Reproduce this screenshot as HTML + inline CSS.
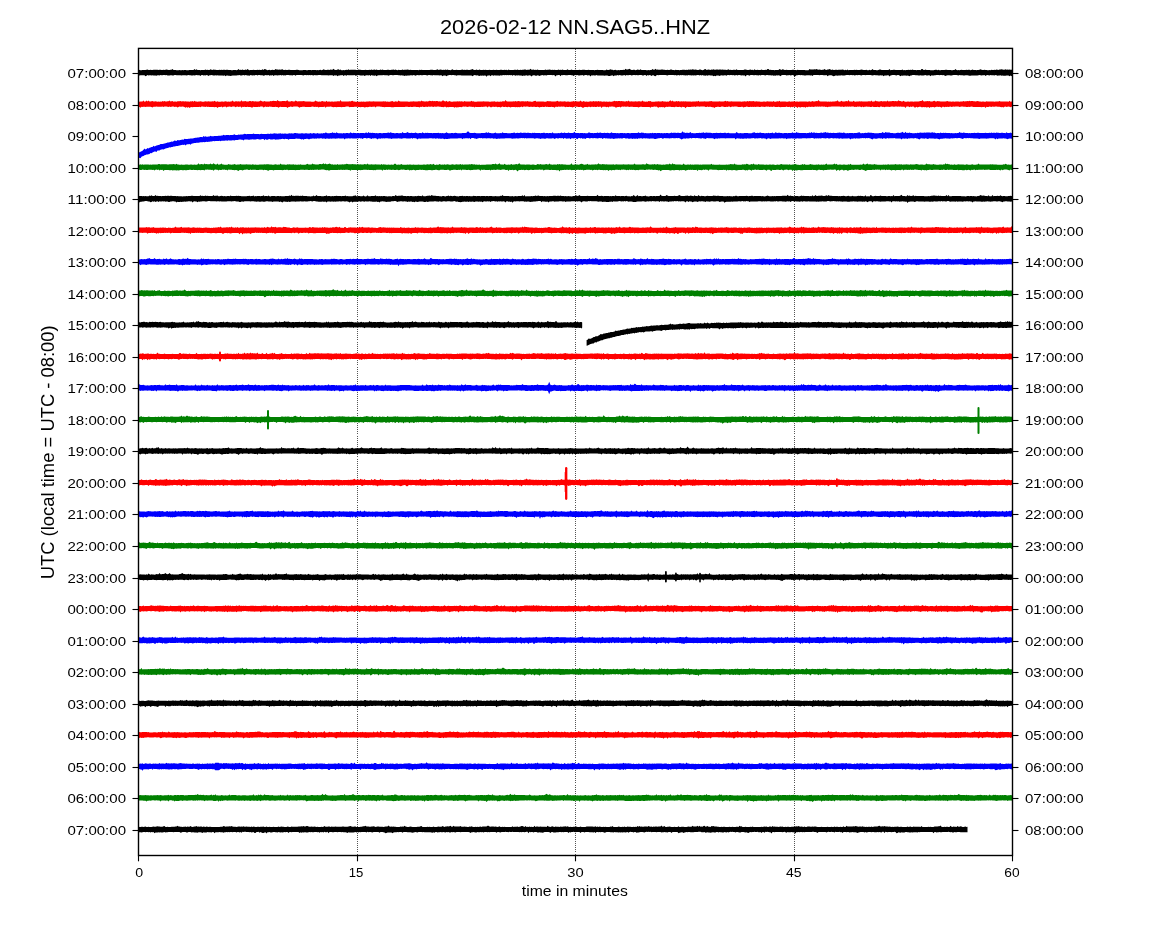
<!DOCTYPE html><html><head><meta charset="utf-8"><style>html,body{margin:0;padding:0;background:#fff;width:1150px;height:950px;overflow:hidden}svg{display:block;will-change:transform}text{font-family:"Liberation Sans",sans-serif;fill:#000}</style></head><body>
<svg width="1150" height="950" viewBox="0 0 1150 950">
<rect width="1150" height="950" fill="#fff"/>
<defs><clipPath id="ax"><rect x="138.5" y="48.4" width="874.0" height="807.1"/></clipPath></defs>
<line x1="357.5" y1="48.9" x2="357.5" y2="855.0" stroke="#555" stroke-width="1" stroke-dasharray="1 1.09" shape-rendering="crispEdges"/>
<line x1="575.5" y1="48.9" x2="575.5" y2="855.0" stroke="#555" stroke-width="1" stroke-dasharray="1 1.09" shape-rendering="crispEdges"/>
<line x1="794.5" y1="48.9" x2="794.5" y2="855.0" stroke="#555" stroke-width="1" stroke-dasharray="1 1.09" shape-rendering="crispEdges"/>
<g clip-path="url(#ax)">
<path fill="#000000" d="M137.5,69.9l1,-.3 1,.5 1,.1 1,0 1,-.1 1,-.2 1,.2 1,0 1,-.3 1,-.2 1,.3 1,0 1,-.1 1,.1 1,.1 1,-.2 1,0 1,0 1,-.1 1,.1 1,.1 1,-.1 1,-.1 1,.4 1,-.1 1,-.2 1,.2 1,-.3 1,-.3 1,.4 1,.1 1,0 1,-.1 1,-.1 1,-.8 1,1.1 1,.1 1,-.1 1,.2 1,0 1,0 1,-.2 1,.2 1,0 1,-.2 1,.2 1,-.2 1,0 1,.2 1,0 1,0 1,-.1 1,0 1,0 1,-.1 1,.1 1,-1 1,.8 1,-.6 1,.6 1,0 1,.1 1,.2 1,-.3 1,.2 1,0 1,-.1 1,-.4 1,.3 1,-.1 1,.2 1,.1 1,-.9 1,.6 1,.1 1,-.3 1,.2 1,0 1,.2 1,.1 1,0 1,-.4 1,.2 1,-.2 1,.2 1,-.2 1,.1 1,.1 1,-.2 1,.1 1,.1 1,0 1,.1 1,.2 1,0 1,-.1 1,-.1 1,0 1,.2 1,-.1 1,-1 1,1 1,-.3 1,.1 1,-.3 1,.4 1,-.1 1,-.3 1,.5 1,-1 1,.7 1,.4 1,-.2 1,.1 1,-.1 1,-.2 1,.1 1,.1 1,0 1,-.2 1,.2 1,-.3 1,.2 1,0 1,-.7 1,.9 1,-1 1,.1 1,.5 1,.5 1,-.2 1,-.2 1,.4 1,-.1 1,-.3 1,.2 1,-.1 1,-.9 1,.6 1,0 1,.1 1,-.3 1,.3 1,-.2 1,-.2 1,.7 1,.1 1,-.3 1,.1 1,.2 1,-.4 1,.1 1,.2 1,-.1 1,0 1,.1 1,.1 1,0 1,-.3 1,0 1,.2 1,.2 1,0 1,0 1,0 1,-.1 1,0 1,-.1 1,.2 1,0 1,-.2 1,-.1 1,.1 1,.2 1,-.1 1,-.1 1,.1 1,-.2 1,.3 1,-.1 1,.1 1,-.3 1,-.1 1,.4 1,-.1 1,-.9 1,.6 1,.2 1,-.1 1,-.1 1,-.1 1,.2 1,-.5 1,.4 1,0 1,-1 1,.9 1,.3 1,.1 1,-.5 1,-.3 1,.8 1,-.5 1,.6 1,0 1,-.3 1,.3 1,-.2 1,-.3 1,.4 1,-.8 1,.6 1,-.1 1,0 1,-.1 1,0 1,0 1,0 1,.2 1,0 1,-.3 1,.2 1,0 1,.2 1,0 1,0 1,0 1,-.2 1,.2 1,-.1 1,.1 1,-.3 1,.2 1,-.3 1,.3 1,-.1 1,-.2 1,.4 1,-.6 1,.5 1,0 1,.1 1,-.4 1,.4 1,-.5 1,.6 1,-.1 1,.1 1,-.2 1,-.1 1,0 1,.1 1,0 1,-.1 1,0 1,-.4 1,.6 1,-.5 1,.5 1,.2 1,-.4 1,.1 1,0 1,.1 1,-.5 1,.4 1,-.1 1,0 1,-.1 1,-.3 1,.4 1,.2 1,-.2 1,.2 1,-.1 1,.2 1,0 1,-.1 1,.1 1,-.1 1,.2 1,-.4 1,.2 1,-.2 1,.3 1,0 1,0 1,-.1 1,-.1 1,.2 1,-.2 1,0 1,-.1 1,-.1 1,.1 1,.2 1,0 1,.1 1,-.4 1,-.5 1,.7 1,-.1 1,-.2 1,.2 1,.1 1,-.1 1,.1 1,-.4 1,.4 1,-.3 1,.3 1,0 1,.3 1,-.4 1,-.5 1,.8 1,-.2 1,.2 1,-.3 1,.2 1,0 1,.1 1,-.1 1,-.3 1,-.1 1,.3 1,-.2 1,.2 1,-.2 1,.1 1,.2 1,-.1 1,-.1 1,-.4 1,-.4 1,.8 1,.1 1,.1 1,-.4 1,.4 1,-.1 1,-.5 1,.5 1,.2 1,0 1,-.4 1,.2 1,-.1 1,.1 1,0 1,.1 1,-.2 1,.1 1,0 1,.2 1,-.3 1,.3 1,-.2 1,-.2 1,.4 1,-.1 1,0 1,-.3 1,.1 1,.2 1,-.1 1,-.2 1,.3 1,-.2 1,.4 1,-.6 1,.4 1,-.1 1,0 1,0 1,.1 1,-.3 1,.1 1,.1 1,-.4 1,.4 1,.1 1,-.3 1,.2 1,-.2 1,0 1,-.2 1,-.1 1,.5 1,-.1 1,0 1,0 1,-1.1 1,1.1 1,0 1,-.3 1,.4 1,-.1 1,.1 1,-.3 1,.3 1,.2 1,-.2 1,.1 1,.1 1,0 1,-.2 1,-.4 1,.5 1,-.3 1,.1 1,-.4 1,.4 1,.1 1,-.1 1,.3 1,-.3 1,.1 1,.2 1,-.2 1,-.4 1,.6 1,-.3 1,.3 1,-.6 1,.5 1,-.1 1,.1 1,.1 1,-.8 1,.8 1,-.2 1,.2 1,-.5 1,.4 1,0 1,0 1,-.2 1,.2 1,.1 1,-.1 1,-.2 1,.3 1,-.1 1,-.2 1,0 1,0 1,.1 1,.1 1,0 1,-.2 1,.1 1,.2 1,-.1 1,-.1 1,0 1,.3 1,-.3 1,.2 1,-.3 1,.1 1,.2 1,-.1 1,0 1,-.1 1,.3 1,0 1,0 1,-.6 1,.3 1,.1 1,-.3 1,-.4 1,.5 1,0 1,.4 1,-.1 1,-.3 1,.4 1,0 1,-.1 1,.1 1,-.1 1,0 1,-.2 1,-.1 1,.1 1,-1.2 1,.9 1,0 1,-.3 1,-.5 1,.8 1,.3 1,0 1,-.2 1,0 1,.5 1,-.2 1,-.5 1,.2 1,.4 1,-.9 1,.8 1,.1 1,-.1 1,0 1,.1 1,.1 1,0 1,-.1 1,.1 1,-.1 1,-.1 1,-1 1,.8 1,0 1,-1.1 1,1 1,-.2 1,.2 1,0 1,0 1,-.1 1,-.1 1,.3 1,0 1,.1 1,0 1,-.2 1,.2 1,0 1,-.3 1,-.1 1,.5 1,-.1 1,.3 1,-.5 1,.3 1,.1 1,-.2 1,.3 1,-.2 1,0 1,-.3 1,0 1,.1 1,.1 1,-.2 1,.2 1,-.4 1,.2 1,-.1 1,.1 1,-.4 1,.3 1,.1 1,-.1 1,.2 1,.3 1,0 1,-.6 1,-.1 1,.7 1,.1 1,-.2 1,-.8 1,-.3 1,1 1,-.1 1,-.2 1,.2 1,.1 1,-.3 1,.2 1,-.6 1,.5 1,0 1,-.3 1,.1 1,.2 1,-.1 1,0 1,.2 1,-.4 1,.3 1,.1 1,-.1 1,.2 1,-.1 1,-.5 1,.6 1,-.1 1,.1 1,.1 1,-.2 1,0 1,.1 1,-.7 1,.9 1,-.2 1,0 1,.1 1,.1 1,0 1,-.1 1,-.5 1,0 1,.2 1,.2 1,0 1,-.1 1,-.3 1,.4 1,-.1 1,.4 1,-1 1,.7 1,.2 1,-.3 1,.1 1,0 1,0 1,-.5 1,.6 1,.1 1,-.2 1,-.2 1,.4 1,-1 1,-.1 1,1 1,-.3 1,.2 1,0 1,.2 1,.1 1,-.3 1,.1 1,.1 1,0 1,-1 1,.5 1,.3 1,-.6 1,.3 1,.3 1,0 1,-.2 1,.2 1,0 1,.1 1,-.1 1,.2 1,-.4 1,0 1,.3 1,.1 1,.1 1,-.5 1,.4 1,-.1 1,.1 1,0 1,-.2 1,.2 1,0 1,.1 1,0 1,0 1,0 1,-1.1 1,.5 1,-.2 1,.2 1,0 1,-.3 1,.1 1,-.3 1,.5 1,.2 1,-.2 1,.2 1,.1 1,-.2 1,.1 1,-.7 1,.7 1,.1 1,-.4 1,.1 1,-.7 1,.6 1,.4 1,-.3 1,.4 1,0 1,-.2 1,0 1,.2 1,-.2 1,0 1,-.1 1,.1 1,-.2 1,.2 1,.4 1,-.5 1,.5 1,-.6 1,.6 1,-.2 1,-.1 1,.2 1,0 1,-.2 1,-.2 1,.3 1,-.2 1,.2 1,-.1 1,.1 1,-.2 1,-.2 1,.1 1,.4 1,-.1 1,-.1 1,-.1 1,.4 1,0 1,-.5 1,.5 1,-.1 1,-1.1 1,1.1 1,-.1 1,-.1 1,.3 1,0 1,-.1 1,-.5 1,0 1,.3 1,.2 1,-.1 1,-.1 1,.2 1,0 1,0 1,0 1,-1.1 1,1.2 1,-.1 1,-.2 1,-.1 1,0 1,.1 1,0 1,0 1,.1 1,-.1 1,.2 1,0 1,-.5 1,.6 1,-.2 1,.2 1,-.3 1,.1 1,-.2 1,.1 1,-.1 1,.1 1,-.5 1,.5 1,.1 1,.1 1,.1 1,-.1 1,-.1 1,.1 1,.1 1,-1.3 1,.1 1,1 1,-.1 1,-.3 1,.4 1,-.1 1,.2 1,-.2 1,.3 1,0 1,0 1,0 1,-.2 1,-.2 1,-.1 1,.5 1,-.4 1,.4 1,0 1,-.1 1,0 1,-.2 1,0 1,-.1 1,0 1,.1 1,.1 1,.1 1,0 1,.1 1,0 1,-.2 1,0 1,-.9 1,1 1,.1 1,-.3 1,.3 1,-.2 1,-.3 1,.4 1,0 1,-.1 1,-.1 1,-.1 1,.2 1,-.2 1,0 1,.4 1,-.1 1,-.7 1,.6 1,.1 1,-.2 1,.3 1,-.1 1,-.1 1,-.2 1,-.5 1,.4 1,.3 1,-.1 1,-.1 1,.2 1,.1 1,.1 1,0 1,-.1 1,.1 1,-.4 1,.2 1,.1 1,-.4 1,.2 1,-.3 1,.2 1,.1 1,-.4 1,-.1 1,-.1 1,.3 1,.2 1,-.1 1,-.5 1,.5 1,-.2 1,.2 1,-.3 1,.3 1,0 1,-.3 1.5,.5 0,5.4 -1.5,0 -1,1 -1,-.8 -1,.8 -1,-.8 -1,0 -1,0 -1,.2 -1,0 -1,.1 -1,-.4 -1,.3 -1,-.4 -1,.3 -1,-.1 -1,.2 -1,-.5 -1,-.1 -1,.4 -1,-.3 -1,0 -1,.1 -1,-.2 -1,.4 -1,-.2 -1,-.2 -1,.2 -1,.8 -1,-1.1 -1,.2 -1,0 -1,.2 -1,-.1 -1,-.2 -1,.2 -1,.3 -1,0 -1,0 -1,0 -1,0 -1,-.2 -1,.1 -1,.3 -1,0 -1,-.4 -1,-.1 -1,0 -1,0 -1,.1 -1,.1 -1,-.3 -1,.1 -1,-.1 -1,-.2 -1,.6 -1,-.4 -1,-.1 -1,-.1 -1,.1 -1,0 -1,.2 -1,.1 -1,.2 -1,-.4 -1,0 -1,.1 -1,.2 -1,.5 -1,-.6 -1,-.4 -1,.2 -1,-.1 -1,0 -1,.2 -1,-.3 -1,0 -1,0 -1,.3 -1,-.1 -1,.2 -1,.1 -1,-.2 -1,.9 -1,-.9 -1,0 -1,.2 -1,.1 -1,-.5 -1,.2 -1,.3 -1,0 -1,-.1 -1,-.2 -1,.1 -1,0 -1,-.2 -1,.1 -1,0 -1,-.2 -1,0 -1,0 -1,.3 -1,.2 -1,.6 -1,-.5 -1,-.1 -1,.1 -1,-.2 -1,-.1 -1,0 -1,.3 -1,-.3 -1,.8 -1,-.8 -1,-.3 -1,0 -1,.3 -1,-.2 -1,-.2 -1,.1 -1,0 -1,.2 -1,.2 -1,1 -1,-1.2 -1,0 -1,.1 -1,.1 -1,-.1 -1,.9 -1,-1 -1,.1 -1,-.1 -1,.3 -1,-.1 -1,-.3 -1,0 -1,0 -1,-.2 -1,.2 -1,.2 -1,-.2 -1,-.1 -1,-.1 -1,.1 -1,0 -1,-.1 -1,.3 -1,-.3 -1,.1 -1,0 -1,.3 -1,-.1 -1,-.2 -1,0 -1,.2 -1,-.3 -1,.2 -1,.2 -1,-.3 -1,.1 -1,-.2 -1,.1 -1,.1 -1,-.1 -1,0 -1,0 -1,.2 -1,.2 -1,.1 -1,-.2 -1,-.1 -1,.2 -1,0 -1,0 -1,.3 -1,-.2 -1,-.2 -1,.7 -1,.2 -1,-.6 -1,-.4 -1,-.1 -1,.1 -1,.2 -1,.8 -1,-1.3 -1,.2 -1,0 -1,0 -1,-.2 -1,0 -1,0 -1,.3 -1,-.3 -1,0 -1,0 -1,.1 -1,-.1 -1,0 -1,1.1 -1,-.8 -1,.3 -1,-.4 -1,.1 -1,-.1 -1,0 -1,.3 -1,0 -1,-.2 -1,0 -1,-.2 -1,.2 -1,-.2 -1,0 -1,.1 -1,.1 -1,.7 -1,.7 -1,-1.5 -1,-.1 -1,.2 -1,.2 -1,-.4 -1,.1 -1,0 -1,.2 -1,-.3 -1,0 -1,0 -1,0 -1,.2 -1,.9 -1,-.6 -1,-.4 -1,.3 -1,-.2 -1,.4 -1,-.2 -1,.2 -1,-.4 -1,.2 -1,-.2 -1,0 -1,-.1 -1,-.1 -1,-.1 -1,.5 -1,-.2 -1,-.3 -1,.1 -1,0 -1,.3 -1,-.4 -1,.5 -1,-.3 -1,0 -1,-.1 -1,.2 -1,-.1 -1,-.1 -1,-.1 -1,.1 -1,.7 -1,-.6 -1,-.1 -1,.2 -1,1.2 -1,-1.2 -1,.1 -1,-.2 -1,.3 -1,-.3 -1,-.1 -1,0 -1,.4 -1,-.4 -1,.2 -1,.2 -1,-.5 -1,.2 -1,-.2 -1,0 -1,.2 -1,-.1 -1,0 -1,.6 -1,-.4 -1,0 -1,.3 -1,-.1 -1,-.2 -1,.2 -1,.6 -1,-.5 -1,-.1 -1,0 -1,.7 -1,-.4 -1,.4 -1,-.7 -1,.1 -1,-.2 -1,-.1 -1,-.1 -1,.5 -1,-.4 -1,.4 -1,-.3 -1,0 -1,-.4 -1,.4 -1,-.4 -1,.6 -1,-.6 -1,.1 -1,.1 -1,.2 -1,-.2 -1,.2 -1,-.2 -1,.4 -1,-.3 -1,0 -1,-.3 -1,.4 -1,-.2 -1,.3 -1,-.3 -1,.1 -1,-.3 -1,.2 -1,-.1 -1,.5 -1,-.5 -1,.2 -1,.1 -1,-.4 -1,.2 -1,-.1 -1,-.1 -1,.1 -1,-.1 -1,0 -1,0 -1,.5 -1,-.2 -1,-.2 -1,0 -1,0 -1,0 -1,0 -1,0 -1,0 -1,.1 -1,-.1 -1,.1 -1,1 -1,-.2 -1,-.8 -1,0 -1,.9 -1,-.9 -1,-.2 -1,.4 -1,-.3 -1,.9 -1,-.9 -1,0 -1,.3 -1,.1 -1,-.4 -1,0 -1,0 -1,.2 -1,0 -1,-.3 -1,.2 -1,-.1 -1,-.1 -1,.2 -1,.2 -1,-.3 -1,0 -1,.2 -1,-.1 -1,-.1 -1,.7 -1,-.8 -1,.3 -1,.1 -1,0 -1,-.1 -1,-.2 -1,.4 -1,-.4 -1,.3 -1,.2 -1,-.2 -1,.9 -1,-1 -1,.1 -1,.3 -1,.2 -1,.1 -1,-.6 -1,0 -1,.1 -1,.2 -1,-.2 -1,0 -1,0 -1,-.1 -1,.2 -1,-.2 -1,.1 -1,-.5 -1,.6 -1,-.2 -1,-.2 -1,.4 -1,-.4 -1,1.3 -1,-1.2 -1,-.1 -1,.3 -1,-.4 -1,0 -1,.2 -1,.4 -1,-.6 -1,.1 -1,0 -1,.4 -1,-.2 -1,-.3 -1,.1 -1,-.1 -1,.1 -1,.7 -1,-.7 -1,.1 -1,-.3 -1,.1 -1,0 -1,.2 -1,-.1 -1,0 -1,-.1 -1,-.1 -1,.2 -1,-.2 -1,1.2 -1,-1.1 -1,-.1 -1,.2 -1,0 -1,1.3 -1,-1.3 -1,-.1 -1,.1 -1,-.1 -1,-.1 -1,.1 -1,0 -1,-.1 -1,.5 -1,-.2 -1,-.1 -1,.4 -1,-.6 -1,.2 -1,.3 -1,.6 -1,-.5 -1,-.3 -1,.5 -1,-.1 -1,-.5 -1,0 -1,.3 -1,.9 -1,-1 -1,-.2 -1,.3 -1,.2 -1,-.5 -1,.2 -1,.4 -1,-.2 -1,.4 -1,-.5 -1,0 -1,0 -1,-.2 -1,.2 -1,-.2 -1,.5 -1,-.6 -1,-.2 -1,.8 -1,-.7 -1,.1 -1,-.2 -1,.2 -1,-.1 -1,.1 -1,-.1 -1,.2 -1,-.2 -1,.1 -1,.3 -1,-.2 -1,.4 -1,-.1 -1,-.2 -1,.1 -1,0 -1,-.2 -1,.4 -1,-.4 -1,0 -1,.9 -1,-1 -1,.2 -1,.1 -1,1.3 -1,-1.3 -1,0 -1,.3 -1,-.2 -1,.1 -1,-.2 -1,.6 -1,-.4 -1,-.4 -1,.2 -1,-.3 -1,-.1 -1,.4 -1,.8 -1,-.8 -1,0 -1,-.1 -1,.1 -1,.1 -1,0 -1,-.1 -1,0 -1,.1 -1,-.1 -1,0 -1,-.2 -1,-.1 -1,0 -1,0 -1,.5 -1,-.5 -1,0 -1,-.2 -1,0 -1,.2 -1,-.1 -1,0 -1,.2 -1,.1 -1,.9 -1,-.9 -1,0 -1,.1 -1,.8 -1,-1 -1,-.1 -1,.2 -1,-.1 -1,-.1 -1,.1 -1,-.1 -1,0 -1,-.2 -1,.5 -1,-.3 -1,0 -1,-.1 -1,-.1 -1,.4 -1,-.1 -1,-.3 -1,0 -1,0 -1,.2 -1,0 -1,-.1 -1,.1 -1,.1 -1,-.2 -1,.1 -1,.5 -1,-.5 -1,-.1 -1,.3 -1,-.2 -1,.1 -1,.1 -1,.1 -1,-.1 -1,.3 -1,-.2 -1,.5 -1,-.6 -1,0 -1,-.1 -1,.2 -1,-.2 -1,0 -1,-.2 -1,0 -1,0 -1,-.1 -1,.2 -1,0 -1,-.1 -1,-.1 -1,.2 -1,.6 -1,-.6 -1,.1 -1,0 -1,0 -1,-.2 -1,.1 -1,.1 -1,0 -1,0 -1,-.1 -1,.4 -1,.7 -1,-1 -1,.4 -1,-.1 -1,-.2 -1,-.4 -1,.9 -1,-.8 -1,.3 -1,-.1 -1,0 -1,.3 -1,.3 -1,-.6 -1,.1 -1,.1 -1,.1 -1,-.4 -1,-.1 -1,.1 -1,.4 -1,.1 -1,-.7 -1,.2 -1,0 -1,0 -1,0 -1,.1 -1,-.1 -1,-.1 -1,.7 -1,-.5 -1,0 -1,.8 -1,-1 -1,.1 -1,.1 -1,.2 -1,-.1 -1,.8 -1,-.9 -1,.1 -1,-.2 -1,.8 -1,-.7 -1,0 -1,-.1 -1,.1 -1,.1 -1,-.1 -1,-.1 -1,.1 -1,-.1 -1,.1 -1,0 -1,0 -1,-.3 -1,.1 -1,-.1 -1,.2 -1,.1 -1,0 -1,-.2 -1,.5 -1,-.3 -1,-.2 -1,.2 -1,-.2 -1,.1 -1,-.2 -1,.2 -1,-.1 -1,0 -1,.3 -1,-.2 -1,-.1 -1,-.1 -1,0 -1,0 -1,.1 -1,-.1 -1,.8 -1,-.7 -1,0 -1,.4 -1,-.2 -1,0 -1,-.1 -1,-.1 -1,0 -1,0 -1,.4 -1,-.3 -1,.2 -1,-.3 -1,.4 -1,-.4 -1,.1 -1,.1 -1,.2 -1,-.3 -1,0 -1,0 -1,.8 -1,-.9 -1,.3 -1,-.2 -1,.5 -1,-.7 -1,.3 -1,0 -1,-.2 -1,.4 -1,.2 -1,-.5 -1,0 -1,.1 -1,-.3 -1,.1 -1,.5 -1,-.6 -1,.1 -1,.3 -1,-.1 -1,.2 -1,-.3 -1,-.2 -1,.7 -1,-.2 -1,0 -1,-.3 -1,-.2 -1,.5 -1,-.4 -1,.1 -1,.4 -1,-.2 -1,-.4 -1,.3 -1,-.1 -1,.2 -1,.1 -1,0 -1,0 -1,.1 -1,.1 -1,.2 -1,-.2 -1,.1 -1,-.4 -1,0 -1,.8 -1,-.9 -1,.5 -1,-.4 -1,.1 -1,0 -1,0 -1,.1 -1,-.4 -1,.4 -1,-.3 -1,.1 -1,0 -1,-.2 -1,-.1 -1,.2 -1,0 -1,.6 -1,-.7 -1,-.1 -1,.5 -1,-.3 -1,.1 -1,-.4 -1,0 -1,1.1 -1,-.8 -1,0 -1,-.1 -1,-.2 -1,.2 -1,.2 -1,-.1 -1,.3 -1,-.1 -1,-.3 -1,0 -1,-.1 -1,.2 -1,.2 -1,-.2 -1,-.1 -1,0 -1,.1 -1,.1 -1,-.2 -1,0 -1,0 -1,0 -1,0 -1,-.2 -1,.1 -1,.4 -1,0 -1,-.2 -1,-.1 -1,.2 -1,.1 -1,-.1 -1,-.3 -1,.2 -1,-.2 -1,0 -1,.1 -1,0 -1,-.1 -1,.3 -1,-.1 -1,-.1 -1,.5 -1,-.1 -1,0 -1,-.2 -1,-.1 -1,.1 -1,-.2 -1,.1 -1,.1 -1,-.3 -1,.6 -1,.5 -1,-.9 -1,0 -1,0 -1,-.1 -1,0 -1,.3 -1,-.1 -1,.1z"/>
<path fill="#ff0000" d="M137.5,101.7l1,-.3 1,.3 1,-.1 1,-.1 1,0 1,-.9 1,1.1 1,-.1 1,-1 1,1 1,-1 1,.9 1,.1 1,-.3 1,-.4 1,.6 1,0 1,-.3 1,.3 1,.3 1,-.4 1,.4 1,-.2 1,.1 1,-.7 1,.5 1,-.4 1,.4 1,0 1,-.2 1,0 1,-.9 1,1 1,-.1 1,-.2 1,.6 1,-.1 1,0 1,.1 1,-.4 1,-.1 1,.1 1,-.2 1,.3 1,-.1 1,-.1 1,.2 1,-.1 1,.1 1,.1 1,0 1,.2 1,-.4 1,.2 1,-.6 1,.8 1,-1 1,.9 1,0 1,.1 1,-.1 1,0 1,-.3 1,.2 1,.3 1,-.1 1,-.1 1,-.3 1,.1 1,.1 1,-.3 1,.3 1,-.1 1,.1 1,-.3 1,.4 1,-.9 1,.7 1,.3 1,-.5 1,.5 1,0 1,0 1,-.1 1,-.1 1,.2 1,-.1 1,-.3 1,.2 1,.3 1,-.4 1,.3 1,-.2 1,.1 1,-1.1 1,.9 1,.3 1,-.4 1,0 1,.3 1,-.3 1,.3 1,-.1 1,-1.2 1,1.2 1,-.2 1,0 1,-.3 1,.5 1,-.1 1,0 1,-.3 1,0 1,.3 1,-.5 1,.4 1,.3 1,-.4 1,.4 1,-.1 1,0 1,-.2 1,-.8 1,.5 1,.4 1,0 1,-.3 1,.4 1,-.1 1,0 1,0 1,0 1,-.5 1,.3 1,-.2 1,-.2 1,.2 1,0 1,.2 1,-1.1 1,.9 1,.3 1,0 1,0 1,-.4 1,.2 1,0 1,.2 1,-.6 1,-.4 1,1.1 1,.2 1,-.1 1,-.4 1,.1 1,.2 1,0 1,-.9 1,.6 1,.3 1,-.1 1,0 1,0 1,-.1 1,0 1,-.3 1,.4 1,.2 1,.1 1,-.2 1,.1 1,.1 1,0 1,.2 1,-.1 1,.1 1,-.2 1,-1 1,.7 1,.1 1,.3 1,-.2 1,.2 1,-.4 1,-.2 1,.3 1,.2 1,.1 1,-1 1,1 1,-.2 1,.1 1,.1 1,-.3 1,0 1,.3 1,-.2 1,.1 1,0 1,-.4 1,0 1,.2 1,-1.3 1,1.5 1,-.1 1,-.1 1,.2 1,-.1 1,.1 1,-.2 1,.1 1,-.2 1,.1 1,-.3 1,-.3 1,.8 1,-.2 1,.4 1,-.1 1,0 1,0 1,0 1,.1 1,-.2 1,.1 1,-.3 1,.3 1,0 1,-.1 1,-.1 1,.1 1,-.3 1,.2 1,0 1,.1 1,-.3 1,.2 1,0 1,0 1,0 1,-.1 1,0 1,0 1,0 1,.2 1,-.4 1,.3 1,-.2 1,.4 1,-.1 1,.1 1,0 1,-.1 1,-.4 1,-.1 1,.6 1,.1 1,-.6 1,.4 1,.1 1,-1.2 1,.8 1,.3 1,-.1 1,-.1 1,0 1,.2 1,-.1 1,.1 1,-.1 1,.2 1,0 1,-.1 1,-.1 1,-.1 1,-.2 1,.4 1,-.1 1,-.1 1,.1 1,-.2 1,-.1 1,.3 1,-.9 1,.7 1,0 1,.1 1,.2 1,-.3 1,.2 1,-.2 1,-.6 1,.3 1,.3 1,-.5 1,.4 1,-.2 1,.2 1,-.1 1,0 1,.3 1,-.2 1,.3 1,0 1,-.9 1,-.1 1,.8 1,.1 1,-.6 1,.9 1,-.3 1,-.5 1,.6 1,.2 1,0 1,-.2 1,0 1,0 1,0 1,-.3 1,.3 1,-.2 1,.2 1,-.2 1,.3 1,.1 1,-.7 1,.5 1,-.1 1,0 1,.1 1,-.1 1,0 1,-.6 1,.6 1,-.2 1,.5 1,0 1,0 1,-.2 1,.1 1,-.1 1,0 1,0 1,.1 1,-.3 1,.3 1,-.1 1,.1 1,0 1,-.1 1,.2 1,0 1,-.2 1,0 1,.1 1,-.3 1,.5 1,0 1,-.4 1,.3 1,0 1,-.1 1,.1 1,-.4 1,0 1,.1 1,-1.3 1,1.1 1,.2 1,0 1,0 1,0 1,0 1,0 1,-.1 1,.1 1,-.3 1,.3 1,-.2 1,-.2 1,.3 1,.1 1,-.1 1,0 1,0 1,.2 1,-.2 1,.1 1,-.4 1,.5 1,0 1,-.1 1,.3 1,.1 1,-.5 1,-.4 1,-.1 1,.9 1,-.2 1,-.1 1,.1 1,0 1,.1 1,-.1 1,0 1,.2 1,0 1,-.1 1,-.6 1,.2 1,.1 1,0 1,.2 1,0 1,-.1 1,0 1,0 1,-.2 1,-.5 1,.8 1,.1 1,-.4 1,.2 1,0 1,.2 1,-.4 1,.2 1,.3 1,-.1 1,-.1 1,.2 1,0 1,-.1 1,-.1 1,-.4 1,.4 1,.1 1,-.4 1,.3 1,-.1 1,0 1,-.8 1,.8 1,.3 1,-.7 1,.6 1,.2 1,-.3 1,.3 1,-.1 1,-.1 1,-.4 1,.4 1,0 1,-.5 1,.3 1,-.2 1,.1 1,.3 1,-.6 1,.5 1,-.2 1,.3 1,.1 1,-.2 1,.1 1,.1 1,-.1 1,.1 1,.1 1,-.2 1,.1 1,.1 1,-.3 1,-.2 1,-.6 1,.6 1,-.3 1,.3 1,-.2 1,-.1 1,.3 1,-.2 1,.2 1,0 1,.2 1,0 1,-.6 1,.7 1,-1 1,1 1,0 1,-.4 1,.2 1,.1 1,.1 1,-.3 1,.2 1,-.1 1,-.1 1,0 1,.3 1,-.2 1,-.8 1,.9 1,0 1,.2 1,-.1 1,.1 1,-.7 1,.2 1,-.1 1,.6 1,0 1,.1 1,-.1 1,-.1 1,-.1 1,-.1 1,-.2 1,.3 1,-.1 1,.2 1,-.5 1,.3 1,.2 1,-.1 1,.2 1,-.3 1,.3 1,-.7 1,-.8 1,1.4 1,-1.1 1,1.1 1,0 1,0 1,-.5 1,.4 1,-.6 1,.6 1,0 1,-.2 1,.1 1,-.1 1,.1 1,-.1 1,.1 1,0 1,0 1,0 1,.1 1,.2 1,-.1 1,0 1,0 1,0 1,-.3 1,.3 1,-.8 1,1 1,-.2 1,-.2 1,.2 1,-.1 1,-.2 1,.2 1,-.1 1,.2 1,-.1 1,-.3 1,0 1,-.1 1,.4 1,-.1 1,0 1,0 1,.1 1,0 1,.1 1,-.4 1,.4 1,-.2 1,0 1,0 1,-.1 1,-.5 1,.6 1,-.3 1,.3 1,0 1,.2 1,-.3 1,.3 1,-.1 1,0 1,.1 1,0 1,-.1 1,0 1,0 1,-.1 1,.3 1,-.2 1,-.1 1,-.1 1,.1 1,.1 1,-.5 1,.4 1,-.5 1,.4 1,0 1,0 1,-.2 1,.3 1,0 1,-.1 1,.3 1,0 1,-.1 1,.2 1,0 1,.1 1,-.2 1,-.1 1,.3 1,-.4 1,-.1 1,.2 1,0 1,-.1 1,.2 1,.1 1,-.7 1,.7 1,0 1,-.3 1,-.2 1,.2 1,-.6 1,.9 1,-.2 1,.1 1,-.1 1,-.1 1,.2 1,.1 1,.1 1,-.2 1,-.3 1,.4 1,-.1 1,-.1 1,.1 1,-.5 1,.6 1,-.3 1,.1 1,.3 1,-.4 1,.1 1,0 1,0 1,0 1,.1 1,-.1 1,-.1 1,.3 1,-.2 1,-.3 1,.5 1,-.2 1,-.4 1,.4 1,.1 1,-.3 1,-.3 1,.3 1,-1.3 1,1.2 1,.2 1,0 1,.2 1,-.2 1,0 1,.2 1,0 1,.2 1,-.4 1,.4 1,-.2 1,.1 1,-.1 1,-.1 1,-.1 1,-.2 1,0 1,-.9 1,1.3 1,.2 1,-.3 1,-.7 1,.8 1,0 1,0 1,-.3 1,-.3 1,.4 1,-1.3 1,1.5 1,-.2 1,.2 1,.2 1,-1.1 1,.8 1,.2 1,-.1 1,0 1,-.2 1,-.1 1,.3 1,-.4 1,.3 1,0 1,.1 1,-.1 1,-.1 1,.2 1,-.4 1,.1 1,.1 1,-.8 1,1.1 1,-.1 1,-.2 1,-1 1,.8 1,.1 1,.1 1,.1 1,-.3 1,-.1 1,.4 1,-.3 1,.1 1,0 1,.2 1,-.9 1,.8 1,-.1 1,-.1 1,.1 1,-.4 1,.2 1,.2 1,-.2 1,.1 1,0 1,-.9 1,.6 1,.2 1,.3 1,.1 1,-.8 1,.8 1,.2 1,0 1,-.1 1,-.1 1,.3 1,-.3 1,0 1,0 1,.2 1,-.2 1,.1 1,-.1 1,-.1 1,0 1,-.2 1,-.1 1,0 1,-1 1,1.1 1,.2 1,-.2 1,0 1,-.1 1,.1 1,-.2 1,.5 1,-.1 1,.1 1,-.4 1,-.3 1,.6 1,0 1,-.4 1,.3 1,0 1,.1 1,.1 1,-.1 1,.1 1,-.1 1,.1 1,-.3 1,-.1 1,.3 1,.2 1,0 1,.1 1,-.3 1,.2 1,.2 1,-.3 1,.1 1,0 1,0 1,.1 1,-.2 1,.1 1,0 1,-.5 1,.4 1,-.3 1,0 1,-.1 1,.1 1,-.5 1,.5 1,-.2 1,.1 1,.1 1,.1 1,.1 1,-.1 1,-.2 1,.2 1,.2 1,0 1,.2 1,-.1 1,0 1,.1 1,0 1,-.4 1,.3 1,-.2 1,.1 1,0 1,.1 1,-.1 1,0 1,.2 1,-.1 1,-.2 1,.2 1,-.1 1,-.4 1,.5 1,0 1,-.1 1,.1 1,-.1 1,0 1,.1 1,-.1 1,.2 1,-1 1,1 1,-.1 1,-.2 1.5,0 0,5.3 -1.5,-.2 -1,.2 -1,.5 -1,-.5 -1,-.1 -1,.1 -1,.3 -1,-.4 -1,.2 -1,.7 -1,-.6 -1,.4 -1,-.2 -1,-.3 -1,0 -1,0 -1,-.2 -1,0 -1,.2 -1,0 -1,-.2 -1,.4 -1,-.3 -1,-.1 -1,.5 -1,-.2 -1,-.1 -1,1.1 -1,-1.2 -1,.3 -1,-.1 -1,.3 -1,-.3 -1,0 -1,0 -1,0 -1,0 -1,0 -1,0 -1,0 -1,-.1 -1,-.2 -1,.1 -1,.3 -1,-.3 -1,.4 -1,-.1 -1,-.3 -1,0 -1,0 -1,-.1 -1,0 -1,.1 -1,.3 -1,-.4 -1,0 -1,0 -1,-.1 -1,.3 -1,-.2 -1,.1 -1,.2 -1,-.4 -1,.3 -1,.3 -1,-.3 -1,.1 -1,-.1 -1,.4 -1,-.4 -1,0 -1,.9 -1,-.6 -1,-.4 -1,.2 -1,-.1 -1,0 -1,.1 -1,.6 -1,-.6 -1,0 -1,.4 -1,-.2 -1,.8 -1,-.9 -1,.2 -1,.2 -1,-.3 -1,.2 -1,-.2 -1,.2 -1,-.1 -1,-.4 -1,0 -1,.2 -1,.4 -1,-.7 -1,.7 -1,.2 -1,-1.1 -1,0 -1,.5 -1,-.5 -1,.7 -1,-.7 -1,0 -1,.1 -1,1.3 -1,-1.1 -1,0 -1,-.1 -1,0 -1,-.1 -1,.2 -1,-.2 -1,.1 -1,-.1 -1,0 -1,.1 -1,0 -1,-.1 -1,0 -1,.1 -1,.2 -1,-.1 -1,0 -1,0 -1,0 -1,.5 -1,-.6 -1,.2 -1,-.3 -1,-.1 -1,.8 -1,-.4 -1,-.1 -1,.2 -1,0 -1,-.1 -1,.1 -1,-.4 -1,.3 -1,.1 -1,-.3 -1,0 -1,.1 -1,-.2 -1,.2 -1,-.1 -1,.6 -1,-.7 -1,.7 -1,-.5 -1,-.3 -1,.2 -1,-.1 -1,.3 -1,-.2 -1,.3 -1,-.4 -1,0 -1,-.1 -1,.2 -1,-.2 -1,.2 -1,-.1 -1,.2 -1,-.3 -1,.2 -1,.4 -1,-.5 -1,.2 -1,-.1 -1,-.1 -1,0 -1,0 -1,0 -1,0 -1,0 -1,0 -1,0 -1,0 -1,.1 -1,.1 -1,-.1 -1,.6 -1,-.6 -1,.2 -1,-.3 -1,.1 -1,-.1 -1,-.1 -1,.2 -1,-.1 -1,.1 -1,-.1 -1,.1 -1,-.1 -1,.1 -1,.2 -1,-.2 -1,.1 -1,.1 -1,-.2 -1,0 -1,.5 -1,-.4 -1,1 -1,-.9 -1,.3 -1,-.1 -1,-.1 -1,.6 -1,-.4 -1,-.4 -1,1.1 -1,-1 -1,-.1 -1,0 -1,-.1 -1,.5 -1,-.4 -1,.6 -1,-.6 -1,.1 -1,0 -1,-.3 -1,.5 -1,0 -1,-.2 -1,0 -1,.2 -1,.1 -1,-.2 -1,-.2 -1,.1 -1,0 -1,0 -1,-.1 -1,-.2 -1,.3 -1,-.1 -1,-.1 -1,.2 -1,-.3 -1,.1 -1,-.1 -1,.2 -1,.1 -1,-.1 -1,-.1 -1,-.1 -1,.3 -1,.2 -1,-.4 -1,.1 -1,-.1 -1,.2 -1,-.2 -1,.2 -1,-.2 -1,.4 -1,-.4 -1,.2 -1,.1 -1,-.3 -1,-.1 -1,.4 -1,-.1 -1,.7 -1,-.9 -1,0 -1,.2 -1,.1 -1,0 -1,-.2 -1,-.3 -1,0 -1,0 -1,.2 -1,-.2 -1,.2 -1,.6 -1,-.8 -1,.1 -1,.4 -1,-.3 -1,.3 -1,0 -1,-.3 -1,-.2 -1,0 -1,.5 -1,.1 -1,-.4 -1,.1 -1,.1 -1,.2 -1,.8 -1,-.7 -1,0 -1,-.3 -1,-.1 -1,-.1 -1,.2 -1,-.4 -1,.6 -1,-.2 -1,-.4 -1,.1 -1,-.1 -1,.1 -1,-.1 -1,.2 -1,-.1 -1,0 -1,0 -1,.4 -1,-.4 -1,.1 -1,.1 -1,-.1 -1,.2 -1,.1 -1,0 -1,-.2 -1,.1 -1,1.4 -1,-1.4 -1,0 -1,-.1 -1,.6 -1,-.5 -1,-.2 -1,.2 -1,.1 -1,-.2 -1,0 -1,.4 -1,-.3 -1,0 -1,0 -1,-.2 -1,0 -1,.1 -1,.3 -1,-.3 -1,.1 -1,.8 -1,-.6 -1,.2 -1,-.3 -1,.2 -1,-.2 -1,.7 -1,-.4 -1,-.7 -1,.1 -1,-.1 -1,.1 -1,.3 -1,-.2 -1,1 -1,-.7 -1,-.1 -1,0 -1,.1 -1,-.1 -1,-.1 -1,0 -1,0 -1,-.2 -1,0 -1,.2 -1,.7 -1,-.7 -1,0 -1,0 -1,.1 -1,0 -1,-.2 -1,0 -1,0 -1,.1 -1,-.2 -1,-.1 -1,.1 -1,0 -1,-.1 -1,.1 -1,-.1 -1,.2 -1,.6 -1,-.6 -1,.2 -1,0 -1,.4 -1,0 -1,-.6 -1,0 -1,-.3 -1,.1 -1,.1 -1,-.2 -1,1.1 -1,-.8 -1,.4 -1,-.4 -1,-.1 -1,.1 -1,-.1 -1,1.2 -1,-1.3 -1,.1 -1,.2 -1,-.3 -1,.3 -1,.2 -1,-.4 -1,.3 -1,-.2 -1,0 -1,.4 -1,-.4 -1,0 -1,.4 -1,-.2 -1,.1 -1,-.2 -1,.9 -1,0 -1,-.8 -1,-.2 -1,.3 -1,-.2 -1,-.2 -1,0 -1,-.1 -1,.1 -1,.2 -1,.7 -1,-.6 -1,-.1 -1,-.2 -1,.3 -1,0 -1,-.2 -1,.4 -1,-.4 -1,-.2 -1,.2 -1,-.3 -1,.2 -1,0 -1,-.1 -1,.3 -1,-.2 -1,0 -1,1.1 -1,-.9 -1,.1 -1,-.2 -1,.1 -1,0 -1,.1 -1,-.2 -1,.3 -1,-.5 -1,.3 -1,0 -1,-.2 -1,.2 -1,.1 -1,.5 -1,-.6 -1,-.1 -1,.2 -1,0 -1,-.3 -1,.1 -1,.3 -1,-.4 -1,.1 -1,.1 -1,-.2 -1,-.1 -1,0 -1,.2 -1,-.2 -1,0 -1,.6 -1,-.7 -1,.5 -1,.2 -1,-.2 -1,.3 -1,-.2 -1,.1 -1,-.1 -1,0 -1,-.1 -1,0 -1,.6 -1,-.6 -1,-.3 -1,.6 -1,-.3 -1,-.2 -1,.2 -1,-.1 -1,-.3 -1,.3 -1,.7 -1,-.7 -1,.1 -1,.2 -1,-.5 -1,.1 -1,.1 -1,-.2 -1,0 -1,.5 -1,.1 -1,-.8 -1,.1 -1,.9 -1,-.9 -1,0 -1,.2 -1,0 -1,.1 -1,-.2 -1,.3 -1,-.1 -1,.1 -1,0 -1,0 -1,-.3 -1,.9 -1,-.8 -1,.1 -1,-.2 -1,0 -1,-.1 -1,.2 -1,.2 -1,-.2 -1,-.2 -1,.1 -1,-.1 -1,.2 -1,.4 -1,-.1 -1,-.1 -1,.2 -1,.1 -1,.2 -1,-.4 -1,.7 -1,-.8 -1,-.1 -1,0 -1,0 -1,0 -1,.3 -1,-.1 -1,.3 -1,-.6 -1,0 -1,.5 -1,-.4 -1,.1 -1,-.2 -1,0 -1,-.2 -1,-.1 -1,.3 -1,-.1 -1,-.2 -1,.4 -1,-.2 -1,-.2 -1,.2 -1,.1 -1,-.2 -1,.3 -1,-.2 -1,.1 -1,.2 -1,0 -1,-.4 -1,.3 -1,-.2 -1,.7 -1,-.4 -1,.1 -1,-.2 -1,-.1 -1,0 -1,-.1 -1,.4 -1,-.2 -1,-.2 -1,.3 -1,0 -1,-.2 -1,0 -1,0 -1,.1 -1,.1 -1,0 -1,.1 -1,-.1 -1,0 -1,0 -1,0 -1,0 -1,.1 -1,-.2 -1,.3 -1,0 -1,0 -1,-.2 -1,.1 -1,0 -1,-.1 -1,.1 -1,0 -1,.2 -1,-.3 -1,-.1 -1,-.1 -1,0 -1,-.2 -1,0 -1,0 -1,-.1 -1,1 -1,-1 -1,.2 -1,0 -1,.4 -1,-.4 -1,.1 -1,.1 -1,.3 -1,-.2 -1,.2 -1,.4 -1,-.5 -1,-.2 -1,.2 -1,.2 -1,-.4 -1,0 -1,-.1 -1,0 -1,-.1 -1,0 -1,.2 -1,.1 -1,-.1 -1,0 -1,.3 -1,-.6 -1,-.1 -1,.1 -1,.1 -1,.3 -1,.1 -1,0 -1,.1 -1,-.2 -1,.1 -1,-.1 -1,.1 -1,.1 -1,-.1 -1,-.1 -1,.2 -1,-.1 -1,-.3 -1,-.2 -1,.1 -1,0 -1,0 -1,.1 -1,.9 -1,-1.1 -1,.4 -1,-.1 -1,0 -1,.1 -1,0 -1,.6 -1,-.8 -1,.1 -1,-.1 -1,.2 -1,-.2 -1,-.2 -1,.1 -1,.3 -1,.1 -1,-.2 -1,0 -1,.1 -1,0 -1,-.2 -1,0 -1,-.1 -1,.2 -1,.2 -1,.7 -1,-.9 -1,-.3 -1,0 -1,0 -1,-.1 -1,.1 -1,.3 -1,-.2 -1,-.1 -1,.3 -1,.2 -1,.8 -1,-1 -1,0 -1,.2 -1,-.2 -1,.1 -1,0 -1,-.2 -1,.1 -1,.8 -1,-.6 -1,-.2 -1,-.1 -1,.2 -1,.1 -1,-.1 -1,-.2 -1,0 -1,-.2 -1,.3 -1,-.2 -1,.3 -1,-.4 -1,.3 -1,.7 -1,-1.1 -1,.1 -1,0 -1,.4 -1,-.3 -1,.3 -1,0 -1,.1 -1,-.2 -1,-.1 -1,.6 -1,.1 -1,-.5 -1,-.1 -1,.2 -1,-.3 -1,.1 -1,0 -1,-.1 -1,.1 -1,-.2 -1,1 -1,-1.2 -1,.3 -1,.1 -1,-.3 -1,.2 -1,.4 -1,-.7 -1,.1 -1,-.1 -1,.4 -1,-.1 -1,-.3 -1,.2 -1,.1 -1,.7 -1,-.9 -1,.1 -1,0 -1,.8 -1,-1 -1,.5 -1,-.1 -1,.1 -1,.9 -1,-1 -1,0 -1,.3 -1,-.2 -1,0 -1,0 -1,.1 -1,-.2 -1,-.1 -1,.1 -1,-.3 -1,.4 -1,-.3 -1,0 -1,-.2 -1,.1 -1,.7 -1,-.5 -1,.1 -1,.2 -1,-.1 -1,0 -1,.1 -1,0 -1,.2 -1,-.2 -1,.1 -1,.7 -1,-.9 -1,.8 -1,-.7 -1,.6 -1,-.8 -1,-.1 -1,-.2 -1,.1 -1,0 -1,-.1 -1,.3 -1,.7 -1,-.9 -1,.1 -1,.2 -1,-.4 -1,0 -1,.2 -1,.1 -1,-.3 -1,.5 -1,-.4 -1,-.2 -1,.1 -1,0 -1,.3 -1,-.3 -1,.1 -1,0 -1,0 -1,.1 -1,-.1 -1,-.2 -1,.3 -1,-.1 -1,0 -1,.8 -1,-.4 -1,-.4 -1,0 -1,0 -1,0 -1,.1 -1,.2 -1,-.2 -1,-.1 -1,.3 -1,-.3 -1,1.1 -1,-.9 -1,-.1 -1,-.2z"/>
<path fill="#0000ff" d="M137.5,153.2l1,-.6 1,-.4 1,-.4 1,-.6 1,-.5 1,-.9 1,-1.2 1,.9 1,-.5 1,-1.1 1,.5 1,-.6 1,-.2 1,-.5 1,0 1,-1.4 1,.7 1,-.5 1,-.3 1,-.3 1,-.2 1,-.4 1,-.7 1,.1 1,-.1 1,-.3 1,-.2 1,-.2 1,-.2 1,-.5 1,-.2 1,-.2 1,-.3 1,-.3 1,.2 1,-.5 1,-.9 1,.4 1,.1 1,-1 1,.4 1,0 1,-.2 1,-.3 1,-.2 1,.1 1,-1 1,.4 1,-.2 1,0 1,-.2 1,0 1,-.1 1,-.1 1,-.1 1,-.2 1,-.1 1,-.4 1,0 1,-.3 1,0 1,-.2 1,-.2 1,-.1 1,.3 1,-1.1 1,.7 1,-.5 1,.4 1,0 1,-.1 1,-.1 1,-.8 1,.6 1,-.1 1,.1 1,-.2 1,-.2 1,.1 1,0 1,-.2 1,0 1,-.1 1,-.3 1,0 1,-.7 1,.6 1,-.1 1,-.2 1,-.1 1,.1 1,.2 1,-.2 1,.1 1,0 1,-.3 1,-.6 1,.9 1,-.2 1,0 1,-.4 1,.2 1,-.2 1,0 1,-.1 1,-.1 1,-.5 1,.3 1,.1 1,-.2 1,.1 1,-.1 1,0 1,0 1,.1 1,-.6 1,.6 1,-.2 1,.1 1,.1 1,0 1,.1 1,-.3 1,-.2 1,.3 1,0 1,.1 1,-.1 1,0 1,-.3 1,0 1,.2 1,-.3 1,.2 1,-.1 1,-.1 1,-.3 1,.1 1,.2 1,.1 1,-.1 1,0 1,-.3 1,.4 1,-.1 1,.1 1,-.2 1,.1 1,.1 1,0 1,-.1 1,-.3 1,.2 1,-.2 1,.1 1,.1 1,-.4 1,-.2 1,.3 1,.1 1,.2 1,0 1,-.1 1,-.1 1,-.1 1,.3 1,-.1 1,-.2 1,.1 1,.1 1,0 1,0 1,-.4 1,.5 1,0 1,-.4 1,.1 1,.2 1,.1 1,-.5 1,.4 1,.1 1,-.1 1,-.1 1,.2 1,-.4 1,.1 1,-.7 1,.2 1,.5 1,0 1,0 1,-.1 1,-.2 1,-.6 1,.6 1,-.1 1,.5 1,-1 1,.7 1,.3 1,-.1 1,0 1,0 1,.2 1,-.5 1,.3 1,0 1,-.1 1,0 1,.1 1,0 1,-.9 1,.6 1,.4 1,-.6 1,.4 1,-.2 1,.4 1,-.3 1,.1 1,.1 1,-.3 1,.1 1,.1 1,0 1,.2 1,-.6 1,-.2 1,.7 1,-1.1 1,1 1,-.3 1,.2 1,-.3 1,.3 1,0 1,.3 1,-.2 1,.2 1,0 1,-.2 1,0 1,.2 1,-.1 1,-.1 1,0 1,-.2 1,.1 1,-.2 1,-.2 1,.5 1,-.8 1,.5 1,.2 1,.1 1,.1 1,0 1,-.1 1,0 1,.2 1,0 1,-.4 1,.3 1,-1.1 1,1 1,-.1 1,.1 1,-.4 1,-.8 1,.9 1,.3 1,0 1,-.4 1,.2 1,.1 1,.1 1,-.5 1,.5 1,.1 1,0 1,-.3 1,.1 1,.3 1,-1.1 1,.7 1,.4 1,-.6 1,.3 1,-.3 1,.4 1,0 1,-.2 1,.2 1,.1 1,-.1 1,-.1 1,.1 1,-.1 1,.1 1,-.4 1,.5 1,-.1 1,.1 1,-.2 1,.3 1,0 1,-.2 1,-.8 1,.8 1,.2 1,-.1 1,0 1,-.1 1,-.2 1,.3 1,-.1 1,-.3 1,.1 1,.3 1,0 1,0 1,0 1,0 1,-.2 1,0 1,-.1 1,.1 1,-.2 1,-1.2 1,0 1,1.1 1,.3 1,-.1 1,.1 1,-.1 1,-.1 1,.1 1,.3 1,0 1,0 1,0 1,0 1,-.3 1,.1 1,.1 1,-.2 1,-.1 1,-.6 1,.9 1,-.8 1,.6 1,.2 1,.1 1,.1 1,-.1 1,-.1 1,-.7 1,.9 1,0 1,0 1,0 1,-.2 1,.2 1,-1 1,.8 1,-.1 1,0 1,0 1,.2 1,0 1,.1 1,-.1 1,-.1 1,-.1 1,-.2 1,-.2 1,.6 1,-.1 1,-.3 1,.1 1,.1 1,-.4 1,.2 1,.1 1,-.1 1,0 1,-.1 1,.2 1,-.1 1,0 1,.1 1,.2 1,.2 1,-.6 1,.3 1,-.2 1,.3 1,0 1,-.1 1,-.1 1,.1 1,.2 1,-.3 1,.1 1,-.2 1,0 1,.5 1,-.3 1,.1 1,.1 1,-.1 1,0 1,.2 1,-1 1,.9 1,.1 1,-.1 1,0 1,.1 1,-.2 1,.1 1,-.3 1,-.3 1,.3 1,0 1,-.5 1,.6 1,-.1 1,.2 1,-.5 1,.4 1,0 1,0 1,-.1 1,-.1 1,-1.1 1,1.2 1,.1 1,.1 1,0 1,.1 1,-.1 1,0 1,-.1 1,.2 1,-.2 1,.2 1,.1 1,0 1,-.8 1,-.1 1,.7 1,-.1 1,0 1,.2 1,-.1 1,-.1 1,0 1,-.5 1,.4 1,-.1 1,-.4 1,.6 1,0 1,0 1,-.2 1,.2 1,0 1,-.3 1,.2 1,.3 1,-.1 1,-.9 1,.8 1,.1 1,-.1 1,.1 1,.2 1,-.2 1,.2 1,-.1 1,-.3 1,.2 1,-.1 1,.2 1,-.1 1,.1 1,0 1,-.2 1,0 1,.2 1,0 1,-.3 1,0 1,0 1,.1 1,-.1 1,.1 1,-.1 1,-.6 1,.6 1,0 1,-.4 1,.2 1,0 1,.6 1,-.2 1,.1 1,0 1,.1 1,0 1,-.2 1,.1 1,-.4 1,.4 1,-.1 1,-.1 1,.2 1,-.1 1,-.2 1,.2 1,.1 1,-.1 1,.2 1,-.1 1,-.1 1,.2 1,-.4 1,.1 1,.3 1,-.1 1,-.3 1,-.4 1,.4 1,-.1 1,-.1 1,0 1,.2 1,-.1 1,-.1 1,.2 1,.1 1,-.3 1,-1.4 1,1.1 1,.2 1,.4 1,-.3 1,.1 1,.2 1,-.3 1,-.7 1,1.3 1,-.2 1,.2 1,0 1,0 1,-.4 1,.2 1,-.1 1,-.2 1,.2 1,-.2 1,0 1,-.5 1,.6 1,-.1 1,-.3 1,.3 1,-.1 1,0 1,.1 1,.2 1,.2 1,-.1 1,-.2 1,0 1,-.2 1,.4 1,-.1 1,.1 1,-.3 1,.1 1,0 1,.1 1,-.3 1,0 1,.5 1,-.3 1,-.2 1,.6 1,0 1,0 1,-.1 1,0 1,0 1,0 1,-1.1 1,.7 1,.5 1,0 1,-.2 1,.1 1,.1 1,0 1,-.4 1,.2 1,0 1,-.1 1,.2 1,0 1,.1 1,-.1 1,-.4 1,-.2 1,-.4 1,.8 1,0 1,-.2 1,.2 1,-.2 1,-.4 1,.7 1,0 1,0 1,.1 1,.1 1,-.2 1,.2 1,-.5 1,.5 1,-.4 1,.2 1,-.5 1,.6 1,0 1,-.9 1,.4 1,.4 1,-.3 1,0 1,.1 1,.2 1,.1 1,0 1,-.1 1,0 1,-.2 1,.3 1,-.1 1,0 1,0 1,-.2 1,-.7 1,.9 1,-.4 1,.2 1,-.9 1,.8 1,-.1 1,.4 1,-.1 1,0 1,-.1 1,.1 1,.1 1,-.2 1,.3 1,-.2 1,-.1 1,-.3 1,.3 1,-.8 1,.8 1,-.3 1,0 1,.3 1,-.1 1,.2 1,-.1 1,0 1,-.1 1,-.2 1,.3 1,-.3 1,-.1 1,-.6 1,.9 1,-.2 1,.2 1,.3 1,-.3 1,.3 1,0 1,-.4 1,.2 1,0 1,.1 1,-.2 1,-.1 1,-.2 1,.2 1,.1 1,.2 1,-.6 1,.4 1,.4 1,0 1,-.1 1,.1 1,-.3 1,.2 1,-.1 1,.1 1,.1 1,-.3 1,.2 1,-.2 1,-.2 1,-.3 1,-.1 1,.9 1,.1 1,-.2 1,.1 1,-.1 1,-.3 1,.2 1,-.2 1,-.4 1,.4 1,-.1 1,0 1,.4 1,-.2 1,.3 1,0 1,.1 1,-.1 1,0 1,-.2 1,-.1 1,.1 1,-.9 1,.7 1,.1 1,-.8 1,.3 1,0 1,0 1,0 1,.7 1,-.2 1,.1 1,.2 1,0 1,0 1,-.2 1,-.2 1,-.1 1,.2 1,-.1 1,-.2 1,-.9 1,1.1 1,.1 1,-1.2 1,1.3 1,-.2 1,.2 1,-.4 1,.5 1,-.2 1,.3 1,.1 1,-.1 1,-.1 1,.1 1,-.4 1,.1 1,-.1 1,-.3 1,.3 1,-.1 1,0 1,-.2 1,.3 1,-.2 1,-.1 1,.1 1,0 1,.1 1,-.3 1,-.2 1,.6 1,-.2 1,.3 1,.3 1,-.1 1,0 1,.1 1,-.6 1,.5 1,-.2 1,-.2 1,.4 1,-.3 1,.2 1,.1 1,0 1,-.1 1,.2 1,-.2 1,.3 1,-.1 1,.1 1,-.3 1,.2 1,-.3 1,.1 1,-1 1,.8 1,0 1,.1 1,-.3 1,.2 1,.2 1,-.1 1,.1 1,.2 1,-.2 1,.2 1,-.2 1,.1 1,-.1 1,-.3 1,.4 1,-.1 1,-.3 1,.1 1,.3 1,-.1 1,.1 1,-.1 1,0 1,-.1 1,-.2 1,.2 1,0 1,0 1,-.1 1,.1 1,-.4 1,.5 1,-.3 1,.1 1,.3 1,-.5 1,.2 1,0 1,.2 1,0 1,-.2 1,-.1 1,.3 1,-.1 1,.3 1,-.9 1,.6 1,.1 1,0 1,-.5 1,.8 1,-1 1.5,.7 0,5.5 -1.5,.1 -1,.2 -1,-.3 -1,0 -1,.3 -1,.5 -1,-.6 -1,-.1 -1,0 -1,-.3 -1,.3 -1,-.1 -1,0 -1,0 -1,0 -1,.7 -1,-.9 -1,1.2 -1,-.9 -1,-.4 -1,.1 -1,-.1 -1,0 -1,0 -1,.2 -1,0 -1,.4 -1,-.4 -1,.2 -1,-.2 -1,.1 -1,0 -1,.1 -1,.4 -1,-.3 -1,-.1 -1,-.1 -1,0 -1,0 -1,-.1 -1,-.1 -1,-.1 -1,0 -1,-.1 -1,.1 -1,-.1 -1,.1 -1,.1 -1,-.2 -1,.3 -1,.7 -1,-.7 -1,-.1 -1,-.2 -1,0 -1,.1 -1,.1 -1,-.3 -1,.2 -1,.1 -1,.2 -1,-.3 -1,.3 -1,.3 -1,-.2 -1,-.1 -1,0 -1,-.2 -1,.2 -1,-.1 -1,.3 -1,0 -1,0 -1,.9 -1,-.6 -1,-.2 -1,-.2 -1,.2 -1,-.1 -1,-.3 -1,0 -1,.1 -1,-.1 -1,-.1 -1,.4 -1,.2 -1,-.4 -1,-.2 -1,.4 -1,-.3 -1,.1 -1,-.3 -1,.4 -1,.8 -1,-.5 -1,-.5 -1,0 -1,-.3 -1,.2 -1,.1 -1,-.1 -1,0 -1,-.1 -1,.4 -1,-.3 -1,.7 -1,-.5 -1,-.1 -1,.4 -1,-.3 -1,0 -1,.9 -1,-.9 -1,0 -1,0 -1,-.1 -1,0 -1,.1 -1,-.4 -1,.2 -1,-.1 -1,0 -1,.1 -1,-.1 -1,.3 -1,-.4 -1,.3 -1,.4 -1,-.6 -1,0 -1,.9 -1,-.9 -1,.2 -1,-.1 -1,0 -1,.3 -1,.1 -1,.1 -1,-.4 -1,0 -1,1.2 -1,-.7 -1,-.4 -1,-.3 -1,-.1 -1,.1 -1,-.1 -1,.5 -1,-.6 -1,.3 -1,-.2 -1,.1 -1,.1 -1,.2 -1,0 -1,0 -1,-.2 -1,.4 -1,-.4 -1,.1 -1,.4 -1,-.4 -1,1.1 -1,-.9 -1,-.3 -1,.1 -1,.1 -1,-.1 -1,0 -1,.1 -1,.3 -1,-.4 -1,-.1 -1,.5 -1,-.4 -1,-.1 -1,.3 -1,-.4 -1,.1 -1,.1 -1,-.2 -1,-.1 -1,.1 -1,.2 -1,.2 -1,-.6 -1,.2 -1,.3 -1,-.3 -1,.1 -1,-.2 -1,.1 -1,.3 -1,-.2 -1,.2 -1,-.2 -1,.1 -1,-.2 -1,.6 -1,-.6 -1,-.1 -1,0 -1,.2 -1,-.1 -1,0 -1,.1 -1,.2 -1,-.2 -1,0 -1,0 -1,-.1 -1,.2 -1,.2 -1,0 -1,0 -1,-.3 -1,.1 -1,.3 -1,-.3 -1,.1 -1,0 -1,-.2 -1,.1 -1,0 -1,0 -1,0 -1,.8 -1,-.9 -1,.3 -1,-.2 -1,-.1 -1,0 -1,.3 -1,-.4 -1,.3 -1,-.1 -1,.1 -1,.1 -1,-.1 -1,0 -1,.1 -1,-.1 -1,.6 -1,-.7 -1,-.1 -1,.1 -1,1 -1,-1 -1,0 -1,-.2 -1,.3 -1,0 -1,-.4 -1,.2 -1,0 -1,.2 -1,-.3 -1,.3 -1,-.1 -1,-.3 -1,.2 -1,0 -1,.2 -1,0 -1,.1 -1,-.3 -1,.5 -1,-.2 -1,-.1 -1,.2 -1,.1 -1,-.4 -1,.4 -1,-.3 -1,.1 -1,-.3 -1,.1 -1,1 -1,-1.3 -1,.1 -1,0 -1,.1 -1,0 -1,0 -1,-.1 -1,.1 -1,0 -1,.2 -1,-.3 -1,.1 -1,0 -1,-.1 -1,.1 -1,.2 -1,-.2 -1,.4 -1,-.1 -1,-.2 -1,.9 -1,-.8 -1,-.2 -1,-.1 -1,0 -1,0 -1,0 -1,-.1 -1,.1 -1,.8 -1,-.5 -1,-.1 -1,-.3 -1,.4 -1,0 -1,-.3 -1,0 -1,-.1 -1,-.1 -1,.2 -1,-.1 -1,0 -1,-.1 -1,.4 -1,-.3 -1,.1 -1,.4 -1,0 -1,-.3 -1,.4 -1,-.1 -1,-.1 -1,.5 -1,.5 -1,-.8 -1,-.4 -1,-.2 -1,.1 -1,-.1 -1,.2 -1,-.1 -1,0 -1,-.1 -1,.1 -1,.1 -1,.3 -1,-.4 -1,.1 -1,-.1 -1,0 -1,-.1 -1,.3 -1,.3 -1,-.6 -1,0 -1,.2 -1,-.1 -1,.4 -1,.1 -1,.3 -1,-.1 -1,-.4 -1,.1 -1,0 -1,-.2 -1,.3 -1,-.3 -1,0 -1,-.1 -1,.1 -1,-.1 -1,-.1 -1,.5 -1,-.4 -1,0 -1,.1 -1,-.1 -1,.7 -1,-.6 -1,.4 -1,0 -1,-.2 -1,.3 -1,-.4 -1,0 -1,.2 -1,0 -1,-.4 -1,.1 -1,0 -1,-.3 -1,-.1 -1,.5 -1,.1 -1,-.4 -1,.3 -1,-.2 -1,.2 -1,0 -1,0 -1,.2 -1,.2 -1,-.4 -1,0 -1,.2 -1,-.1 -1,-.1 -1,-.1 -1,-.1 -1,.2 -1,-.4 -1,.1 -1,.9 -1,-1.1 -1,.2 -1,-.1 -1,.1 -1,.4 -1,-.4 -1,.1 -1,-.2 -1,.2 -1,0 -1,-.2 -1,.1 -1,.4 -1,-.5 -1,0 -1,0 -1,.8 -1,-.5 -1,.2 -1,.1 -1,-.6 -1,.4 -1,-.4 -1,0 -1,1.2 -1,-.5 -1,-.7 -1,.2 -1,.1 -1,-.1 -1,-.1 -1,1.1 -1,-1 -1,.2 -1,0 -1,.2 -1,-.4 -1,-.2 -1,.9 -1,-1 -1,.3 -1,0 -1,-.2 -1,.3 -1,.1 -1,-.4 -1,.3 -1,.6 -1,-.7 -1,0 -1,.1 -1,.1 -1,-.1 -1,0 -1,-.2 -1,.1 -1,.5 -1,-.1 -1,-.3 -1,0 -1,.1 -1,.6 -1,-.7 -1,.1 -1,-.2 -1,0 -1,.1 -1,.3 -1,-.5 -1,0 -1,.1 -1,0 -1,0 -1,-.1 -1,.1 -1,.2 -1,-.4 -1,.3 -1,-.3 -1,.1 -1,-.1 -1,.2 -1,-.1 -1,.4 -1,-.2 -1,-.2 -1,.3 -1,-.1 -1,0 -1,.3 -1,-.3 -1,-.2 -1,.1 -1,-.1 -1,.1 -1,0 -1,0 -1,.1 -1,.1 -1,0 -1,.1 -1,0 -1,.1 -1,-.3 -1,.4 -1,.3 -1,-.6 -1,-.1 -1,.4 -1,-.5 -1,0 -1,.1 -1,-.2 -1,.1 -1,-.1 -1,.2 -1,-.1 -1,0 -1,0 -1,.1 -1,-.3 -1,.2 -1,-.3 -1,.2 -1,.2 -1,.6 -1,-.6 -1,0 -1,-.3 -1,0 -1,0 -1,1.1 -1,-1.1 -1,.4 -1,-.2 -1,-.1 -1,.1 -1,.1 -1,-.2 -1,1 -1,-.9 -1,0 -1,0 -1,-.1 -1,.2 -1,0 -1,0 -1,0 -1,0 -1,.1 -1,0 -1,-.1 -1,.4 -1,-.1 -1,.4 -1,-.1 -1,-.3 -1,.6 -1,-.6 -1,-.1 -1,.1 -1,0 -1,-.1 -1,.1 -1,-.5 -1,.2 -1,.3 -1,-.5 -1,.4 -1,-.1 -1,-.3 -1,0 -1,.1 -1,.3 -1,-.2 -1,.1 -1,.1 -1,0 -1,-.1 -1,0 -1,0 -1,.3 -1,-.3 -1,-.1 -1,1.2 -1,-1 -1,-.4 -1,.1 -1,-.2 -1,.7 -1,-.7 -1,.4 -1,-.1 -1,0 -1,.1 -1,.1 -1,-.4 -1,.1 -1,0 -1,.2 -1,.2 -1,-.3 -1,.1 -1,-.2 -1,.3 -1,-.2 -1,0 -1,0 -1,0 -1,.1 -1,.6 -1,-.6 -1,0 -1,-.1 -1,-.1 -1,-.1 -1,.1 -1,.1 -1,-.1 -1,.1 -1,-.1 -1,.4 -1,-.1 -1,-.1 -1,.9 -1,-1 -1,-.1 -1,0 -1,.1 -1,-.1 -1,.6 -1,-.5 -1,-.2 -1,-.1 -1,.1 -1,.2 -1,-.3 -1,0 -1,.2 -1,.8 -1,-.9 -1,.2 -1,-.3 -1,.3 -1,-.2 -1,.4 -1,0 -1,0 -1,-.2 -1,.2 -1,-.3 -1,.1 -1,0 -1,-.1 -1,.1 -1,0 -1,.1 -1,1 -1,-1.2 -1,.2 -1,-.1 -1,.1 -1,-.1 -1,-.1 -1,.1 -1,0 -1,.3 -1,-.2 -1,.1 -1,-.2 -1,.3 -1,-.1 -1,.2 -1,-.1 -1,-.1 -1,0 -1,.3 -1,-.5 -1,.2 -1,.1 -1,-.4 -1,0 -1,.2 -1,0 -1,-.2 -1,.4 -1,-.3 -1,.3 -1,-.2 -1,.1 -1,.1 -1,.1 -1,.5 -1,0 -1,-.6 -1,.1 -1,.1 -1,.2 -1,.7 -1,-.8 -1,.5 -1,-.5 -1,-.3 -1,0 -1,0 -1,-.1 -1,.2 -1,.2 -1,-.1 -1,.1 -1,-.1 -1,.2 -1,-.2 -1,.8 -1,-.8 -1,.1 -1,-.3 -1,.6 -1,-.2 -1,-.3 -1,.2 -1,.2 -1,0 -1,.3 -1,-.1 -1,0 -1,.3 -1,-.4 -1,0 -1,.3 -1,0 -1,-.2 -1,-.3 -1,.2 -1,.4 -1,.1 -1,-.7 -1,1.1 -1,-1.1 -1,0 -1,.2 -1,.2 -1,-.1 -1,-.2 -1,-.1 -1,.1 -1,.2 -1,.1 -1,0 -1,-.2 -1,.3 -1,-.1 -1,.3 -1,-.1 -1,-.2 -1,.1 -1,-.1 -1,0 -1,1 -1,-.7 -1,-.1 -1,-.1 -1,0 -1,.2 -1,.3 -1,-.2 -1,.2 -1,.3 -1,-.2 -1,0 -1,.2 -1,.2 -1,-.1 -1,-.2 -1,.4 -1,-.2 -1,0 -1,.2 -1,.1 -1,0 -1,0 -1,.4 -1,-.4 -1,.3 -1,0 -1,-.2 -1,.1 -1,.3 -1,-.2 -1,.2 -1,.2 -1,.1 -1,.1 -1,0 -1,.4 -1,-.4 -1,.2 -1,.3 -1,-.1 -1,.2 -1,-.1 -1,0 -1,.2 -1,.3 -1,0 -1,.1 -1,.3 -1,0 -1,.1 -1,.3 -1,.2 -1,1.1 -1,-.9 -1,.4 -1,0 -1,.1 -1,1.2 -1,-1.1 -1,.4 -1,-.1 -1,.1 -1,.4 -1,.3 -1,.1 -1,.2 -1,.1 -1,.2 -1,.4 -1,0 -1,.3 -1,.2 -1,.5 -1,-.3 -1,.5 -1,.3 -1,.1 -1,.2 -1,.6 -1,.4 -1,-.2 -1,.2 -1,.3 -1,.7 -1,0 -1,.2 -1,1.3 -1,-.3 -1,0 -1,.5 -1,.4 -1,.7 -1,-.1 -1,.8 -1,.3 -1,.2 -1,.1 -1,.6 -1,.2 -1,.8 -1,.2 -1,.4 -1,1.5 -1,-.5 -1,.7 -1,.7z"/>
<path fill="#008000" d="M137.5,164.4l1,.2 1,.2 1,-.6 1,.5 1,-.4 1,.5 1,-.3 1,-.1 1,.1 1,.1 1,0 1,.1 1,-.1 1,.1 1,-.3 1,.1 1,0 1,.1 1,0 1,0 1,-.5 1,0 1,.3 1,-.1 1,-.1 1,.1 1,0 1,0 1,-.1 1,.2 1,.1 1,-.2 1,0 1,0 1,0 1,-.2 1,.1 1,.2 1,-.7 1,.7 1,.2 1,.1 1,.1 1,-.2 1,.1 1,0 1,.1 1,-.3 1,-.1 1,.1 1,.2 1,0 1,-.1 1,-.1 1,.2 1,.1 1,-.4 1,.4 1,0 1,-.3 1,-1.2 1,1.2 1,-.2 1,-.4 1,.4 1,.2 1,-1 1,.8 1,-.2 1,.1 1,0 1,.1 1,-.9 1,.8 1,.1 1,-1 1,.8 1,.3 1,.2 1,-1 1,1.2 1,-.3 1,-.2 1,-.8 1,1.1 1,-.2 1,.3 1,0 1,0 1,0 1,-.7 1,.4 1,.1 1,.3 1,-.2 1,-.2 1,-.3 1,.5 1,.1 1,-.2 1,.1 1,-.2 1,-.3 1,.4 1,0 1,.1 1,-.2 1,.1 1,-.2 1,.1 1,.1 1,0 1,-.1 1,.3 1,-.4 1,.2 1,.3 1,-.2 1,.1 1,0 1,0 1,-.1 1,-.2 1,.1 1,0 1,0 1,-.2 1,.1 1,-.2 1,.1 1,-.1 1,.3 1,.1 1,-.1 1,.2 1,.1 1,-.2 1,-.3 1,.2 1,.3 1,-.3 1,.2 1,-1.1 1,1 1,0 1,-.1 1,0 1,.2 1,0 1,-.4 1,.3 1,-.4 1,.4 1,-.1 1,0 1,-.3 1,.5 1,-.1 1,.1 1,.1 1,-.3 1,.2 1,-.4 1,.5 1,-.1 1,.1 1,-.1 1,.1 1,-.6 1,-.4 1,.6 1,.2 1,0 1,0 1,-1.1 1,.7 1,.1 1,.2 1,0 1,-.1 1,.2 1,-.5 1,0 1,.2 1,-.4 1,-.7 1,1.1 1,-.9 1,.9 1,-.1 1,-.3 1,-.5 1,.7 1,.5 1,-.3 1,.4 1,-.1 1,0 1,.2 1,-.8 1,.8 1,-.2 1,-.1 1,0 1,-.2 1,.1 1,-.1 1,-.1 1,-.5 1,.4 1,.1 1,.1 1,0 1,0 1,-.3 1,.2 1,.1 1,0 1,.2 1,0 1,-.2 1,.1 1,-.1 1,.1 1,0 1,0 1,-.4 1,.3 1,.1 1,-1 1,1 1,0 1,0 1,-.1 1,.1 1,.2 1,-.2 1,-.1 1,.1 1,0 1,.1 1,.1 1,.1 1,-.6 1,.6 1,-.4 1,.3 1,-.1 1,.3 1,-.1 1,-.1 1,.1 1,.1 1,-.2 1,.2 1,-.1 1,-.9 1,-.1 1,1 1,0 1,-.2 1,.2 1,-.1 1,-.7 1,.8 1,.1 1,-.1 1,0 1,0 1,-.1 1,.1 1,-.2 1,.1 1,.2 1,-.1 1,-.3 1,.4 1,0 1,-.1 1,0 1,-.3 1,.3 1,.1 1,0 1,0 1,-.2 1,-.2 1,.3 1,-.2 1,-.2 1,.1 1,.1 1,-.5 1,.4 1,.2 1,-.8 1,.9 1,.2 1,-.4 1,.3 1,0 1,-.9 1,.7 1,.2 1,-.4 1,.4 1,-.6 1,.5 1,-.1 1,-.3 1,.3 1,.1 1,.1 1,-.3 1,-.2 1,.2 1,.2 1,-.1 1,-.3 1,.3 1,-.2 1,.1 1,-.5 1,.8 1,-.5 1,.4 1,-.1 1,0 1,-.1 1,-.1 1,0 1,-.2 1,.2 1,-.3 1,.2 1,.2 1,-.2 1,.4 1,-.1 1,.2 1,-.1 1,-.2 1,.4 1,-.1 1,-.1 1,.1 1,0 1,-.1 1,-.1 1,0 1,0 1,-.2 1,.2 1,-.2 1,-.4 1,.1 1,.1 1,-.7 1,.7 1,.3 1,-.4 1,-.8 1,1.2 1,.1 1,-.2 1,.3 1,-.9 1,.6 1,.4 1,0 1,-.2 1,.2 1,-.2 1,-.7 1,.8 1,-.2 1,0 1,-.2 1,-.2 1,.4 1,-.7 1,-.5 1,1.1 1,.1 1,0 1,.1 1,-.2 1,.3 1,-.3 1,0 1,.1 1,.1 1,.2 1,-.1 1,-.1 1,-.1 1,.2 1,.2 1,-.1 1,-.8 1,.3 1,.1 1,-.5 1,.7 1,-.1 1,-.1 1,.1 1,-.2 1,-.3 1,.5 1,-.1 1,-1 1,1 1,.2 1,.1 1,-.2 1,.1 1,-.1 1,.2 1,-.8 1,.5 1,-.4 1,.4 1,-.1 1,-.1 1,.2 1,.2 1,0 1,.2 1,0 1,-.1 1,.1 1,-.2 1,-1.4 1,1.5 1,0 1,-.1 1,-.1 1,.1 1,-.1 1,.2 1,-.1 1,-.7 1,-.2 1,.2 1,.7 1,.1 1,-.2 1,0 1,-.8 1,1 1,-.1 1,.1 1,-.1 1,-.2 1,.2 1,0 1,-.3 1,.1 1,-.2 1,-.9 1,.9 1,0 1,.2 1,-.4 1,.2 1,.1 1,.2 1,-.3 1,.2 1,0 1,.1 1,.1 1,0 1,-.2 1,-.1 1,.4 1,-.1 1,-.3 1,.2 1,.1 1,-.2 1,.1 1,.1 1,0 1,-.4 1,.3 1,0 1,.1 1,0 1,-.4 1,.2 1,0 1,.1 1,0 1,0 1,-1.1 1,1 1,.1 1,.1 1,0 1,-.1 1,-.1 1,0 1,-.2 1,.1 1,.2 1,.1 1,-1.3 1,.8 1,.2 1,.3 1,-.1 1,.1 1,-.3 1,.2 1,-.6 1,.6 1,-.1 1,-.5 1,.7 1,0 1,-.2 1,.4 1,0 1,-.2 1,.2 1,-.2 1,-.4 1,0 1,.4 1,-1.1 1,.8 1,.1 1,-1.2 1,1.1 1,-.2 1,.4 1,0 1,-.1 1,.1 1,0 1,0 1,.3 1,-.1 1,-1.1 1,1 1,.2 1,0 1,-.3 1,0 1,.3 1,-.6 1,.6 1,-.2 1,.2 1,-.3 1,0 1,.1 1,-.1 1,0 1,.2 1,-.2 1,.2 1,-.2 1,0 1,.1 1,-.1 1,-.1 1,.1 1,-.1 1,.1 1,-.1 1,-.7 1,1 1,-.2 1,.3 1,-.1 1,0 1,.1 1,-.1 1,-.2 1,.2 1,.1 1,0 1,-.1 1,0 1,.1 1,-.3 1,.2 1,-.3 1,0 1,-.3 1,.2 1,0 1,.1 1,-.9 1,.9 1,0 1,.3 1,0 1,.1 1,-.1 1,.1 1,-.6 1,.3 1,-.2 1,.2 1,-.7 1,.2 1,.4 1,.3 1,-.1 1,-.6 1,.6 1,-1.1 1,1 1,0 1,.1 1,.1 1,-.7 1,.5 1,0 1,-.1 1,0 1,.1 1,.2 1,.1 1,-.2 1,.1 1,0 1,-.2 1,-.1 1,.3 1,-.3 1,.2 1,.1 1,.2 1,-.1 1,-.2 1,.1 1,0 1,-.4 1,-.2 1,.4 1,.1 1,-.1 1,.1 1,-.1 1,.1 1,.1 1,-.4 1,.5 1,-.1 1,-.2 1,0 1,-.2 1,-.3 1,.4 1,.3 1,0 1,.2 1,-.1 1,0 1,-.8 1,.7 1,-.6 1,.7 1,-.1 1,.1 1,-.1 1,-.1 1,-.6 1,.5 1,.1 1,.1 1,0 1,0 1,-.1 1,.2 1,-.6 1,.6 1,-.1 1,-.1 1,.1 1,-.2 1,.3 1,-.5 1,-.9 1,1.3 1,-.3 1,0 1,0 1,.1 1,0 1,-.2 1,-.8 1,.9 1,-.7 1,1 1,0 1,-.1 1,0 1,.1 1,.1 1,-.3 1,.1 1,.1 1,0 1,.1 1,-.5 1,.4 1,-.9 1,1 1,0 1,-.1 1,.1 1,0 1,0 1,0 1,0 1,-.1 1,-.1 1,.2 1,-.4 1,-.8 1,.8 1,0 1,-.4 1,-.4 1,.8 1,-.1 1,0 1,.2 1,.1 1,0 1,-.6 1,.5 1,.1 1,.1 1,0 1,0 1,0 1,.1 1,0 1,-.4 1,.3 1,-.1 1,.1 1,-.1 1,-.3 1,.4 1,-.3 1,.1 1,0 1,-.1 1,.1 1,-.4 1,.5 1,-.2 1,.1 1,-.3 1,.2 1,-.1 1,.4 1,-.1 1,-.1 1,.1 1,-.3 1,.2 1,-.1 1,.3 1,-.4 1,.3 1,-.1 1,.1 1,-.2 1,-.1 1,-.3 1,.2 1,.4 1,.1 1,-.1 1,-.2 1,0 1,.3 1,0 1,-.1 1,-1.1 1,.7 1,.1 1,-.1 1,.2 1,.1 1,-.1 1,-.3 1,.3 1,.1 1,.3 1,-.1 1,0 1,-.3 1,0 1,.1 1,.2 1,-.4 1,.1 1,-1.1 1,.9 1,-.5 1,.6 1,0 1,.5 1,-.2 1,.1 1,.1 1,-.5 1,.4 1,0 1,-.2 1,-.2 1,.3 1,-.1 1,-.1 1,.2 1,-.2 1,.3 1,.1 1,-.6 1,.3 1,.2 1,0 1,0 1,-.1 1,-.3 1,.5 1,-.1 1,0 1,-.2 1,0 1,-.9 1,1 1,0 1,0 1,-.1 1,.1 1,-.1 1,.1 1,-.1 1,-.1 1,.1 1,0 1,-.2 1,.3 1,-.3 1,.3 1,0 1,-.1 1,-.1 1,.4 1,-.1 1,0 1,.1 1,-.1 1,.1 1,-.5 1,.2 1,-.7 1,.5 1,.4 1,-.1 1,.2 1,-.1 1,-.1 1,-.6 1.5,.7 0,4.9 -1.5,.3 -1,.1 -1,-.4 -1,1 -1,-.7 -1,-.2 -1,-.1 -1,0 -1,0 -1,.2 -1,.5 -1,-.7 -1,1 -1,-.6 -1,-.2 -1,.1 -1,-.2 -1,.3 -1,.1 -1,-.1 -1,-.1 -1,.1 -1,-.1 -1,-.2 -1,-.1 -1,.2 -1,-.1 -1,.1 -1,.2 -1,-.4 -1,.2 -1,0 -1,-.1 -1,.1 -1,0 -1,.1 -1,-.2 -1,.5 -1,-.6 -1,.2 -1,.2 -1,-.3 -1,.7 -1,-.5 -1,-.2 -1,.3 -1,.2 -1,-.4 -1,.4 -1,0 -1,0 -1,-.2 -1,0 -1,.1 -1,.2 -1,-.5 -1,.1 -1,0 -1,0 -1,.1 -1,-.3 -1,.1 -1,-.1 -1,0 -1,.2 -1,-.3 -1,.4 -1,0 -1,-.2 -1,-.2 -1,.3 -1,-.2 -1,.3 -1,0 -1,-.2 -1,-.1 -1,0 -1,.1 -1,0 -1,0 -1,.1 -1,0 -1,-.1 -1,0 -1,.1 -1,0 -1,.6 -1,-.6 -1,.3 -1,-.1 -1,-.3 -1,.6 -1,-.5 -1,.1 -1,-.1 -1,-.2 -1,0 -1,-.1 -1,0 -1,.4 -1,-.2 -1,.3 -1,-.5 -1,.3 -1,-.2 -1,.2 -1,-.2 -1,.1 -1,-.1 -1,.9 -1,-1 -1,.1 -1,.5 -1,-.1 -1,0 -1,-.1 -1,.1 -1,.3 -1,-.4 -1,0 -1,0 -1,.6 -1,-.7 -1,-.2 -1,.1 -1,.1 -1,-.3 -1,.7 -1,-.7 -1,.1 -1,0 -1,-.1 -1,1 -1,-1 -1,.2 -1,-.2 -1,.2 -1,-.2 -1,.3 -1,-.1 -1,0 -1,.1 -1,.1 -1,0 -1,.1 -1,-.2 -1,.5 -1,.5 -1,-.7 -1,-.3 -1,-.2 -1,-.1 -1,.3 -1,.2 -1,-.3 -1,-.2 -1,.2 -1,-.2 -1,.1 -1,.3 -1,-.3 -1,.1 -1,.3 -1,-.1 -1,.6 -1,.2 -1,-.7 -1,-.2 -1,.4 -1,.2 -1,-.7 -1,0 -1,.1 -1,.9 -1,-1.1 -1,.3 -1,1.1 -1,-1.5 -1,0 -1,.1 -1,0 -1,0 -1,-.1 -1,.1 -1,0 -1,.1 -1,.1 -1,.2 -1,-.1 -1,.6 -1,-.6 -1,.1 -1,-.2 -1,-.1 -1,-.1 -1,.5 -1,.2 -1,-.5 -1,.2 -1,-.2 -1,-.1 -1,.1 -1,.1 -1,.1 -1,-.1 -1,0 -1,-.1 -1,.2 -1,-.2 -1,.1 -1,.3 -1,-.1 -1,0 -1,-.1 -1,0 -1,.1 -1,.3 -1,-.3 -1,.1 -1,-.2 -1,.9 -1,-1.2 -1,-.1 -1,.1 -1,.5 -1,-.5 -1,-.2 -1,.1 -1,.1 -1,.7 -1,-.5 -1,-.4 -1,.4 -1,-.1 -1,-.2 -1,.1 -1,0 -1,.1 -1,0 -1,0 -1,-.2 -1,1.4 -1,-.7 -1,-.7 -1,0 -1,.1 -1,.9 -1,-.7 -1,-.2 -1,-.1 -1,.3 -1,0 -1,-.1 -1,.1 -1,-.2 -1,-.1 -1,.2 -1,-.3 -1,.2 -1,.2 -1,-.3 -1,1.1 -1,-.9 -1,-.1 -1,0 -1,.8 -1,-.7 -1,.5 -1,-.4 -1,-.2 -1,0 -1,.2 -1,.1 -1,-.1 -1,.1 -1,.2 -1,.1 -1,-.2 -1,-.1 -1,0 -1,.2 -1,-.1 -1,-.3 -1,.1 -1,.2 -1,-.5 -1,1.1 -1,-1.1 -1,.2 -1,-.1 -1,.2 -1,.1 -1,-.1 -1,0 -1,.2 -1,-.2 -1,-.2 -1,-.1 -1,0 -1,.1 -1,0 -1,-.2 -1,0 -1,0 -1,1.1 -1,-.9 -1,-.1 -1,-.1 -1,.3 -1,-.3 -1,.4 -1,.2 -1,-.2 -1,0 -1,-.2 -1,1.2 -1,-1.2 -1,.2 -1,-.1 -1,0 -1,-.1 -1,.1 -1,-.1 -1,.3 -1,-.3 -1,.3 -1,.2 -1,.4 -1,-.7 -1,0 -1,.1 -1,.1 -1,-.1 -1,.5 -1,-.5 -1,0 -1,0 -1,0 -1,.1 -1,0 -1,-.2 -1,.2 -1,.3 -1,-.3 -1,-.1 -1,-.1 -1,.1 -1,0 -1,-.1 -1,.1 -1,0 -1,.5 -1,.7 -1,-1.3 -1,.4 -1,-.4 -1,.1 -1,-.4 -1,.1 -1,.2 -1,-.3 -1,-.1 -1,.1 -1,-.1 -1,0 -1,.2 -1,-.2 -1,.5 -1,-.2 -1,-.2 -1,.1 -1,-.1 -1,0 -1,.1 -1,.4 -1,-.1 -1,-.1 -1,.3 -1,-.2 -1,-.3 -1,.1 -1,-.2 -1,.3 -1,-.4 -1,.6 -1,-.5 -1,.5 -1,-.5 -1,0 -1,-.1 -1,.1 -1,-.1 -1,.6 -1,-.4 -1,.1 -1,-.2 -1,.1 -1,-.1 -1,.5 -1,-.2 -1,-.1 -1,.5 -1,-.3 -1,0 -1,1 -1,-1 -1,-.1 -1,.3 -1,-.2 -1,.2 -1,-.2 -1,-.1 -1,-.1 -1,-.1 -1,0 -1,.4 -1,-.4 -1,.1 -1,-.1 -1,.1 -1,.5 -1,-.6 -1,.1 -1,-.1 -1,0 -1,0 -1,0 -1,.2 -1,0 -1,.5 -1,-.7 -1,.2 -1,-.2 -1,.1 -1,-.1 -1,0 -1,.2 -1,-.3 -1,.2 -1,.2 -1,-.1 -1,.2 -1,-.4 -1,-.1 -1,.3 -1,-.2 -1,0 -1,.1 -1,-.1 -1,.1 -1,.1 -1,.3 -1,-.3 -1,1.4 -1,-1.3 -1,.1 -1,0 -1,-.2 -1,-.1 -1,.2 -1,-.2 -1,-.1 -1,.2 -1,-.1 -1,-.2 -1,0 -1,0 -1,.1 -1,.2 -1,.6 -1,-1 -1,.2 -1,-.1 -1,-.1 -1,.1 -1,0 -1,.1 -1,0 -1,-.1 -1,.4 -1,-.2 -1,-.1 -1,0 -1,.3 -1,.2 -1,-.4 -1,-.1 -1,.3 -1,.2 -1,-.5 -1,.1 -1,-.2 -1,.2 -1,.1 -1,.3 -1,1.1 -1,-1.2 -1,-.4 -1,.1 -1,.3 -1,-.4 -1,.2 -1,.1 -1,-.3 -1,1.2 -1,-1.3 -1,.3 -1,-.1 -1,-.3 -1,0 -1,0 -1,.2 -1,.2 -1,-.3 -1,0 -1,-.1 -1,.2 -1,.3 -1,-.3 -1,0 -1,.2 -1,-.2 -1,.6 -1,-.6 -1,.3 -1,0 -1,-.2 -1,0 -1,-.1 -1,0 -1,.2 -1,-.4 -1,1.1 -1,-1 -1,-.1 -1,0 -1,.2 -1,-.1 -1,0 -1,.1 -1,.1 -1,.1 -1,.2 -1,-.1 -1,-.3 -1,.1 -1,0 -1,-.1 -1,-.1 -1,0 -1,-.1 -1,.9 -1,-.9 -1,.3 -1,-.2 -1,.2 -1,.1 -1,-.3 -1,0 -1,.1 -1,.2 -1,0 -1,.4 -1,.1 -1,-.8 -1,.1 -1,.2 -1,.1 -1,-.1 -1,-.3 -1,0 -1,0 -1,.1 -1,.4 -1,.1 -1,-.3 -1,-.3 -1,.1 -1,.1 -1,.1 -1,.2 -1,0 -1,-.1 -1,0 -1,0 -1,.1 -1,0 -1,0 -1,-.2 -1,-.1 -1,-.1 -1,.1 -1,-.2 -1,0 -1,.2 -1,0 -1,.1 -1,.4 -1,-.5 -1,-.1 -1,.3 -1,.1 -1,-.3 -1,.6 -1,-.8 -1,0 -1,.3 -1,0 -1,-.2 -1,-.2 -1,.2 -1,-.2 -1,.2 -1,.1 -1,.3 -1,-.4 -1,0 -1,.1 -1,0 -1,-.1 -1,-.1 -1,.4 -1,-.4 -1,0 -1,-.1 -1,.3 -1,-.3 -1,.3 -1,.2 -1,-.5 -1,1.2 -1,-1 -1,-.1 -1,.1 -1,-.1 -1,.1 -1,-.1 -1,.6 -1,-.4 -1,.3 -1,-.2 -1,0 -1,0 -1,0 -1,-.2 -1,.2 -1,-.3 -1,0 -1,0 -1,0 -1,.2 -1,0 -1,.3 -1,-.2 -1,0 -1,.3 -1,-.2 -1,-.2 -1,.2 -1,-.1 -1,0 -1,-.2 -1,1 -1,-.7 -1,-.2 -1,-.1 -1,-.1 -1,0 -1,.2 -1,-.1 -1,.2 -1,-.2 -1,-.1 -1,.2 -1,-.1 -1,.1 -1,0 -1,.1 -1,.1 -1,0 -1,0 -1,-.1 -1,.1 -1,.4 -1,0 -1,-.5 -1,.2 -1,-.2 -1,-.2 -1,-.2 -1,0 -1,0 -1,.2 -1,-.1 -1,.3 -1,-.4 -1,.2 -1,-.1 -1,0 -1,.2 -1,-.1 -1,.1 -1,-.1 -1,.2 -1,0 -1,-.3 -1,0 -1,0 -1,.3 -1,-.3 -1,0 -1,.1 -1,0 -1,.1 -1,0 -1,0 -1,.2 -1,.1 -1,-.2 -1,0 -1,-.1 -1,.2 -1,-.2 -1,0 -1,.4 -1,-.5 -1,0 -1,.2 -1,-.2 -1,.1 -1,.3 -1,-.3 -1,.1 -1,0 -1,-.1 -1,0 -1,0 -1,.1 -1,-.1 -1,.5 -1,-.3 -1,0 -1,-.2 -1,.1 -1,.7 -1,-.2 -1,-.5 -1,-.1 -1,-.2 -1,.6 -1,-.6 -1,0 -1,0 -1,.1 -1,.3 -1,-.2 -1,.1 -1,-.3 -1,0 -1,.1 -1,-.1 -1,.2 -1,-.3 -1,.4 -1,0 -1,-.4 -1,0 -1,.2 -1,0 -1,.3 -1,.4 -1,-.4 -1,-.1 -1,.1 -1,.8 -1,-.5 -1,-.3 -1,0 -1,.1 -1,-.3 -1,0 -1,-.1 -1,0 -1,-.1 -1,-.1 -1,.9 -1,-.8 -1,.3 -1,-.4 -1,.2 -1,-.2 -1,.4 -1,.1 -1,-.3 -1,.8 -1,-.9 -1,0 -1,-.1 -1,.1 -1,1.1 -1,-1 -1,.1 -1,-.2 -1,.1 -1,0 -1,-.2 -1,.2 -1,-.2 -1,1 -1,-.7 -1,.1 -1,0 -1,.2 -1,-.1 -1,-.1 -1,.2 -1,-.3 -1,0 -1,.2 -1,-.3 -1,.2 -1,0 -1,-.3 -1,.1 -1,.1 -1,0 -1,.4 -1,-.1 -1,-.1 -1,.2 -1,-.1 -1,-.1 -1,0 -1,.2 -1,.2 -1,-.2 -1,.1 -1,-.1 -1,0 -1,-.1 -1,.4 -1,-.5 -1,.1 -1,0 -1,-.1 -1,-.2 -1,.1 -1,.1 -1,-.1 -1,1.1 -1,-1.4 -1,.4 -1,-.4 -1,.8 -1,-.9 -1,.4 -1,-.4 -1,.2 -1,.6 -1,-.7 -1,.4 -1,-.4 -1,0 -1,0 -1,0 -1,.3 -1,-.1 -1,-.2 -1,.3 -1,-.3 -1,-.1 -1,.3 -1,0 -1,-.1 -1,-.1 -1,.2z"/>
<path fill="#000000" d="M137.5,195.9l1,.2 1,0 1,-.1 1,.1 1,.2 1,-.3 1,.3 1,-.4 1,.4 1,0 1,0 1,-.9 1,.7 1,-.9 1,.8 1,-.1 1,0 1,-.9 1,1 1,-.2 1,.2 1,0 1,.1 1,.1 1,-.1 1,0 1,0 1,-.4 1,.3 1,-.3 1,.1 1,.1 1,-.1 1,-.1 1,.2 1,.1 1,0 1,0 1,.3 1,-.3 1,.3 1,-.1 1,.1 1,0 1,.1 1,-.1 1,-.1 1,0 1,-.1 1,.1 1,-.2 1,.1 1,-.2 1,-.1 1,0 1,.2 1,0 1,0 1,.1 1,0 1,-.1 1,.1 1,-.9 1,.7 1,-.1 1,.3 1,0 1,-.6 1,.5 1,-.2 1,.2 1,-.1 1,.1 1,0 1,.1 1,-1.1 1,1 1,-.2 1,0 1,-.2 1,.6 1,0 1,-.1 1,-.3 1,.1 1,.4 1,-.3 1,.2 1,0 1,-.1 1,0 1,.1 1,-.6 1,.3 1,.2 1,-.1 1,0 1,.1 1,-.4 1,.4 1,-.3 1,.2 1,0 1,.2 1,0 1,.1 1,-.1 1,0 1,0 1,-.1 1,0 1,-.3 1,.4 1,-.2 1,.1 1,-.6 1,.9 1,-.5 1,.4 1,-.3 1,0 1,-.1 1,.3 1,-.1 1,-.1 1,-.7 1,.9 1,-.1 1,-.1 1,.3 1,-.7 1,.7 1,.1 1,-.3 1,-.1 1,.1 1,-.1 1,.3 1,0 1,-.4 1,.2 1,.2 1,-.2 1,.2 1,-.1 1,0 1,0 1,-.2 1,.1 1,-.2 1,.2 1,-.6 1,.4 1,-1.2 1,1.3 1,-.3 1,.2 1,-.2 1,.1 1,0 1,0 1,.2 1,-.2 1,.1 1,-.5 1,.5 1,.1 1,.1 1,-.1 1,.3 1,-.1 1,.1 1,.1 1,-.1 1,0 1,-.7 1,.6 1,-.1 1,-1.2 1,1.1 1,0 1,0 1,-.1 1,.3 1,0 1,.1 1,-.2 1,-.1 1,-.8 1,1 1,-.2 1,0 1,.2 1,0 1,-.1 1,.1 1,-.1 1,-.2 1,-.1 1,.3 1,-.2 1,.1 1,.1 1,.1 1,-.1 1,-.2 1,0 1,-.5 1,.8 1,-.2 1,.3 1,0 1,-.1 1,.1 1,-.1 1,-.5 1,.1 1,-.6 1,1 1,0 1,-.1 1,0 1,.1 1,.1 1,-.1 1,-.7 1,.8 1,.1 1,-.2 1,-.9 1,1 1,-.1 1,0 1,-.1 1,0 1,-.1 1,0 1,-.8 1,1 1,-.1 1,.1 1,-.2 1,.2 1,-.2 1,.2 1,-.1 1,0 1,.2 1,0 1,.1 1,-.2 1,0 1,.1 1,.1 1,-.4 1,0 1,.2 1,-1.1 1,.7 1,.2 1,-.2 1,-.1 1,.1 1,-.2 1,0 1,.4 1,-.1 1,.1 1,.2 1,-.1 1,0 1,.2 1,-.2 1,-.2 1,.4 1,-.1 1,0 1,-.2 1,.2 1,-.3 1,-.1 1,.2 1,.1 1,.1 1,-.9 1,1 1,-.1 1,0 1,-.2 1,-.3 1,0 1,-.1 1,.3 1,-1 1,.7 1,.1 1,.1 1,-.1 1,.3 1,-.1 1,.2 1,.1 1,.1 1,.1 1,-.3 1,-.1 1,.3 1,.1 1,-.4 1,.1 1,-.5 1,.6 1,-.4 1,.2 1,.3 1,-.3 1,-.2 1,.2 1,.3 1,-.1 1,.2 1,-.3 1,-.1 1,.1 1,-.3 1,.4 1,-.1 1,.1 1,-.2 1,.1 1,.1 1,-.2 1,.3 1,-.1 1,.1 1,-.5 1,.3 1,-.2 1,.4 1,-.2 1,0 1,-.1 1,.3 1,-.2 1,-.1 1,0 1,.1 1,.1 1,-.2 1,.1 1,.1 1,-.1 1,0 1,0 1,.1 1,.1 1,0 1,-.3 1,.2 1,0 1,0 1,.1 1,-.5 1,.3 1,-1 1,.9 1,-.1 1,.1 1,0 1,0 1,.1 1,.1 1,.1 1,0 1,-.2 1,.3 1,-.1 1,-.3 1,.2 1,0 1,-.2 1,0 1,-.1 1,.2 1,-.9 1,1 1,-1.1 1,1.3 1,-.1 1,0 1,-.1 1,.1 1,-.1 1,-.3 1,.3 1,-.1 1,-.1 1,-.5 1,.5 1,-.3 1,-.3 1,.6 1,0 1,-.1 1,.2 1,.1 1,-.1 1,.1 1,0 1,-.1 1,.1 1,-.1 1,-.1 1,0 1,0 1,-.3 1,0 1,.1 1,.3 1,-.4 1,.1 1,.1 1,-.3 1,.4 1,0 1,0 1,.3 1,-.3 1,.3 1,0 1,-.3 1,.2 1,.1 1,.1 1,-.1 1,-.3 1,.1 1,-.3 1,-.3 1,.5 1,-.2 1,-.7 1,1 1,-.2 1,.1 1,0 1,0 1,-.1 1,.2 1,-.3 1,.1 1,0 1,0 1,0 1,0 1,.1 1,.1 1,0 1,-.1 1,-1.2 1,1.1 1,.2 1,-.2 1,-.2 1,.3 1,.2 1,-.2 1,-.1 1,0 1,.2 1,-.1 1,.3 1,-.3 1,.2 1,-.2 1,.1 1,.1 1,-1 1,.9 1,-.1 1,-.1 1,0 1,.3 1,-.1 1,-.1 1,.1 1,.2 1,-.2 1,-.4 1,.6 1,0 1,-.1 1,.2 1,-.3 1,.2 1,-1.2 1,.6 1,.7 1,-.4 1,-1.1 1,1.3 1,-.1 1,0 1,.2 1,0 1,-.2 1,-.1 1,-.5 1,.7 1,0 1,.2 1,-.1 1,-.3 1,0 1,.2 1,-.3 1,.1 1,.2 1,-.3 1,.1 1,-.1 1,.2 1,-1.5 1,1.2 1,.3 1,0 1,0 1,-.2 1,-.8 1,.4 1,.5 1,-.1 1,.2 1,-.2 1,0 1,0 1,-.2 1,.3 1,.1 1,0 1,-.5 1,-.5 1,.6 1,.3 1,.1 1,0 1,-.1 1,-.2 1,0 1,-.4 1,.5 1,.2 1,-.6 1,.2 1,.2 1,.3 1,-1 1,.9 1,-.2 1,.3 1,-1.1 1,.9 1,.3 1,-.6 1,.3 1,.1 1,.2 1,0 1,-.2 1,-.4 1,.3 1,0 1,.1 1,-.1 1,-.1 1,-.4 1,.2 1,.1 1,.1 1,-.2 1,.1 1,.1 1,.2 1,-.1 1,.1 1,.1 1,0 1,.1 1,0 1,-.3 1,.2 1,-.1 1,.2 1,-.1 1,.2 1,-.3 1,.2 1,-.5 1,0 1,.4 1,.1 1,-.2 1,-.1 1,.1 1,-.2 1,.2 1,0 1,0 1,-.3 1,.2 1,.2 1,-.1 1,0 1,-.3 1,-.1 1,.5 1,-.1 1,-.2 1,.1 1,.1 1,-.1 1,0 1,.1 1,.2 1,-.4 1,.4 1,.1 1,-.2 1,-.1 1,-.7 1,.6 1,.3 1,-.1 1,0 1,-.1 1,.2 1,-.4 1,.3 1,-.3 1,.2 1,0 1,-.1 1,0 1,.1 1,-.4 1,.1 1,-.1 1,.1 1,.1 1,-1.2 1,1 1,.2 1,-.5 1,.6 1,0 1,.2 1,.1 1,-.3 1,0 1,.1 1,.1 1,0 1,-.2 1,-.6 1,.6 1,-.2 1,.3 1,-.2 1,.1 1,0 1,.1 1,.1 1,-.2 1,.3 1,-1.1 1,1 1,-.1 1,-1 1,.9 1,-.1 1,-.2 1,.1 1,0 1,-.2 1,.2 1,.2 1,0 1,-.2 1,-.6 1,.7 1,-.9 1,.7 1,.1 1,0 1,.1 1,.2 1,-.1 1,0 1,.1 1,0 1,.1 1,-.1 1,.1 1,-.3 1,.1 1,-.2 1,.3 1,.2 1,-.1 1,-.2 1,-.2 1,.5 1,-.1 1,0 1,-.4 1,.4 1,.1 1,0 1,-.1 1,-.2 1,-.2 1,.1 1,-.1 1,.1 1,.2 1,.1 1,.1 1,-1 1,1.1 1,-.2 1,.1 1,.1 1,-1.4 1,.5 1,.7 1,.1 1,-.2 1,-.3 1,.2 1,-.1 1,.2 1,0 1,-.5 1,.4 1,-.1 1,.2 1,-.2 1,.2 1,.1 1,0 1,-.2 1,-.1 1,.3 1,-.3 1,.3 1,-1.1 1,1.1 1,-.1 1,-.2 1,0 1,.1 1,0 1,-.6 1,-.6 1,1.3 1,-.1 1,.1 1,.1 1,.1 1,-1.2 1,.9 1,-.4 1,.5 1,0 1,-.3 1,-.5 1,.9 1,-.5 1,.4 1,-.1 1,0 1,0 1,.1 1,-.2 1,0 1,.2 1,.1 1,0 1,0 1,.1 1,-.4 1,.3 1,-.1 1,-.4 1,.1 1,-.3 1,0 1,.2 1,.1 1,.2 1,-.5 1,.4 1,-.1 1,.2 1,0 1,.1 1,-.2 1,.1 1,-1.1 1,1.3 1,-1.3 1,1.3 1,.1 1,-.1 1,-.2 1,.1 1,-.1 1,0 1,-.1 1,0 1,0 1,0 1,.2 1,.1 1,0 1,.1 1,0 1,.1 1,-.2 1,-.2 1,.1 1,.2 1,-.3 1,0 1,.3 1,-.2 1,.2 1,0 1,.1 1,-.3 1,0 1,-.4 1,-.6 1,.5 1,.2 1,-.2 1,.1 1,.2 1,.1 1,.2 1,-.9 1,1 1,-.1 1,.1 1,-1.2 1,1.1 1,-.1 1,-.1 1,0 1,-.2 1,.3 1,-.2 1,-.6 1,.8 1,.1 1,-.2 1,.1 1,.1 1,.1 1,-.1 1,-.1 1,-.1 1,-.2 1,.2 1,0 1.5,-.1 0,5.3 -1.5,.5 -1,-.2 -1,.3 -1,-.3 -1,0 -1,.1 -1,-.4 -1,.1 -1,.2 -1,-.1 -1,.9 -1,-.6 -1,-.3 -1,-.1 -1,0 -1,.3 -1,-.1 -1,-.2 -1,-.1 -1,.1 -1,.2 -1,.1 -1,.1 -1,-.2 -1,0 -1,-.3 -1,.2 -1,.2 -1,.2 -1,-.2 -1,.1 -1,0 -1,-.2 -1,0 -1,0 -1,.1 -1,0 -1,-.3 -1,.3 -1,-.1 -1,.9 -1,-1 -1,.1 -1,-.2 -1,.3 -1,-.4 -1,.1 -1,.3 -1,-.3 -1,.2 -1,.3 -1,-.4 -1,.2 -1,-.1 -1,.1 -1,.1 -1,-.4 -1,.4 -1,-.1 -1,-.2 -1,0 -1,0 -1,.4 -1,-.3 -1,-.4 -1,0 -1,.3 -1,.1 -1,-.3 -1,.1 -1,.3 -1,-.5 -1,.3 -1,-.2 -1,0 -1,.3 -1,-.1 -1,0 -1,-.2 -1,.3 -1,.3 -1,-.2 -1,.1 -1,0 -1,-.2 -1,-.1 -1,.1 -1,0 -1,.2 -1,-.2 -1,0 -1,-.1 -1,.1 -1,.1 -1,0 -1,-.3 -1,0 -1,.5 -1,.3 -1,-.7 -1,.2 -1,-.1 -1,.1 -1,.2 -1,-.1 -1,1.2 -1,-1.4 -1,.2 -1,-.3 -1,.2 -1,-.4 -1,.3 -1,.1 -1,.1 -1,-.5 -1,.2 -1,-.1 -1,.3 -1,-.4 -1,.1 -1,0 -1,1.3 -1,-1.4 -1,.2 -1,-.1 -1,-.1 -1,0 -1,.3 -1,0 -1,-.1 -1,.1 -1,0 -1,.2 -1,-.3 -1,0 -1,-.2 -1,.1 -1,.1 -1,-.2 -1,.1 -1,1.1 -1,-1.2 -1,0 -1,.1 -1,.1 -1,.9 -1,-.8 -1,-.2 -1,.4 -1,-.3 -1,.4 -1,-.2 -1,-.2 -1,0 -1,0 -1,.3 -1,-.2 -1,-.1 -1,0 -1,-.1 -1,.1 -1,.1 -1,0 -1,.2 -1,0 -1,0 -1,-.2 -1,.1 -1,0 -1,0 -1,.1 -1,-.2 -1,-.1 -1,-.1 -1,.1 -1,-.1 -1,.2 -1,-.2 -1,0 -1,-.2 -1,.1 -1,.1 -1,.1 -1,-.2 -1,-.1 -1,0 -1,.3 -1,0 -1,0 -1,.2 -1,-.3 -1,.2 -1,-.1 -1,0 -1,.3 -1,-.3 -1,.3 -1,-.2 -1,-.1 -1,0 -1,0 -1,0 -1,.1 -1,.1 -1,-.3 -1,.2 -1,.1 -1,-.2 -1,-.2 -1,0 -1,.5 -1,-.4 -1,.2 -1,.2 -1,-.3 -1,0 -1,.1 -1,-.2 -1,.3 -1,-.4 -1,-.1 -1,.1 -1,.8 -1,-.8 -1,.4 -1,-.3 -1,.1 -1,.3 -1,-.3 -1,.1 -1,0 -1,-.2 -1,-.1 -1,0 -1,.4 -1,-.2 -1,-.3 -1,.5 -1,-.3 -1,.1 -1,0 -1,0 -1,0 -1,-.1 -1,0 -1,0 -1,.1 -1,-.2 -1,.3 -1,-.2 -1,.2 -1,.1 -1,-.4 -1,.1 -1,-.1 -1,.3 -1,0 -1,0 -1,0 -1,.1 -1,-.2 -1,.1 -1,0 -1,.5 -1,-.8 -1,.1 -1,-.2 -1,.3 -1,-.1 -1,.1 -1,-.3 -1,.2 -1,.2 -1,-.3 -1,.1 -1,.3 -1,0 -1,-.1 -1,.1 -1,0 -1,.1 -1,-.1 -1,.1 -1,0 -1,0 -1,0 -1,0 -1,.2 -1,.8 -1,-1.3 -1,.2 -1,-.1 -1,.2 -1,.3 -1,-.7 -1,-.1 -1,.1 -1,.1 -1,.1 -1,0 -1,-.2 -1,0 -1,.1 -1,.3 -1,-.2 -1,-.1 -1,-.1 -1,.8 -1,-.5 -1,-.2 -1,-.2 -1,.1 -1,.2 -1,-.2 -1,.1 -1,.6 -1,-.5 -1,-.1 -1,.2 -1,.2 -1,.4 -1,-.6 -1,-.2 -1,-.2 -1,.8 -1,-.7 -1,0 -1,1.2 -1,-1 -1,-.3 -1,.1 -1,-.1 -1,.2 -1,-.1 -1,.2 -1,-.4 -1,.1 -1,.1 -1,-.2 -1,.5 -1,-.3 -1,.2 -1,-.1 -1,.1 -1,.5 -1,-.6 -1,.1 -1,-.2 -1,.1 -1,.1 -1,-.3 -1,.4 -1,-.5 -1,1 -1,-.8 -1,-.1 -1,.1 -1,.1 -1,-.2 -1,0 -1,-.1 -1,.3 -1,-.2 -1,0 -1,.2 -1,-.1 -1,.3 -1,.1 -1,-.3 -1,-.2 -1,.1 -1,.1 -1,.1 -1,0 -1,.1 -1,-.1 -1,.3 -1,.1 -1,.1 -1,0 -1,-.2 -1,-.3 -1,.1 -1,-.1 -1,.2 -1,-.5 -1,-.1 -1,.3 -1,-.3 -1,.4 -1,-.2 -1,.1 -1,-.1 -1,-.2 -1,.2 -1,.2 -1,-.1 -1,0 -1,0 -1,-.1 -1,.7 -1,-.5 -1,.3 -1,0 -1,.2 -1,0 -1,.1 -1,-.3 -1,0 -1,0 -1,.3 -1,-.6 -1,0 -1,0 -1,.2 -1,-.1 -1,-.3 -1,0 -1,-.1 -1,0 -1,.1 -1,-.1 -1,-.1 -1,.1 -1,-.1 -1,.4 -1,-.1 -1,.1 -1,-.2 -1,0 -1,.1 -1,1 -1,-.9 -1,-.3 -1,0 -1,.2 -1,-.1 -1,-.1 -1,0 -1,.1 -1,0 -1,-.1 -1,.2 -1,.2 -1,-.2 -1,.2 -1,-.1 -1,.5 -1,-.7 -1,.3 -1,-.2 -1,-.2 -1,.1 -1,0 -1,.1 -1,.1 -1,.1 -1,-.2 -1,.3 -1,-.4 -1,0 -1,.1 -1,.1 -1,0 -1,1.1 -1,-1.1 -1,.3 -1,0 -1,-.3 -1,-.1 -1,-.1 -1,1 -1,-1.2 -1,0 -1,0 -1,.2 -1,-.1 -1,.2 -1,0 -1,.2 -1,.1 -1,0 -1,.3 -1,-.3 -1,-.2 -1,.1 -1,.2 -1,-.3 -1,.3 -1,-.6 -1,.1 -1,0 -1,0 -1,.3 -1,-.3 -1,-.1 -1,.1 -1,.2 -1,-.2 -1,.1 -1,1.3 -1,-1.2 -1,.5 -1,-.5 -1,.2 -1,-.4 -1,0 -1,1.1 -1,-.9 -1,-.2 -1,.2 -1,0 -1,-.2 -1,.2 -1,-.3 -1,.5 -1,-.5 -1,.2 -1,-.1 -1,-.2 -1,.1 -1,0 -1,.7 -1,-.7 -1,.2 -1,-.1 -1,.1 -1,.2 -1,-.3 -1,.2 -1,.7 -1,-.8 -1,.3 -1,-.3 -1,.4 -1,-.4 -1,.2 -1,-.2 -1,.7 -1,-.3 -1,-.2 -1,.2 -1,-.1 -1,-.1 -1,.5 -1,-.5 -1,.1 -1,.1 -1,-.2 -1,.2 -1,0 -1,.1 -1,.3 -1,-.2 -1,-.1 -1,-.4 -1,.3 -1,-.2 -1,-.5 -1,.2 -1,.1 -1,.1 -1,-.1 -1,-.1 -1,0 -1,-.1 -1,.3 -1,-.1 -1,-.1 -1,0 -1,.2 -1,.3 -1,-.4 -1,-.1 -1,.4 -1,-.1 -1,-.2 -1,-.1 -1,0 -1,.1 -1,.1 -1,.1 -1,0 -1,-.1 -1,.2 -1,.2 -1,-.4 -1,.4 -1,0 -1,-.2 -1,-.2 -1,0 -1,.1 -1,-.1 -1,.3 -1,.1 -1,-.1 -1,-.3 -1,.8 -1,-.6 -1,.2 -1,-.3 -1,0 -1,.2 -1,-.4 -1,.6 -1,-.4 -1,-.2 -1,-.1 -1,.2 -1,0 -1,-.2 -1,0 -1,.1 -1,.1 -1,.5 -1,-.4 -1,-.5 -1,0 -1,.1 -1,.1 -1,0 -1,.5 -1,0 -1,-.1 -1,0 -1,.3 -1,-.2 -1,-.3 -1,0 -1,-.2 -1,.1 -1,.2 -1,.9 -1,-.8 -1,.3 -1,-.4 -1,.1 -1,.1 -1,-.1 -1,.1 -1,-.3 -1,-.1 -1,-.1 -1,.3 -1,-.1 -1,-.1 -1,-.2 -1,.5 -1,-.2 -1,-.3 -1,.2 -1,.3 -1,-.4 -1,.1 -1,.4 -1,-.1 -1,0 -1,0 -1,0 -1,.9 -1,-1 -1,.1 -1,.8 -1,-.7 -1,-.4 -1,-.2 -1,.2 -1,.1 -1,-.2 -1,0 -1,.2 -1,-.1 -1,-.1 -1,.3 -1,0 -1,0 -1,.1 -1,-.1 -1,.2 -1,-.3 -1,.1 -1,.2 -1,-.4 -1,.1 -1,.1 -1,.8 -1,-.9 -1,.3 -1,-.1 -1,-.1 -1,.2 -1,-.1 -1,.1 -1,0 -1,-.3 -1,-.1 -1,-.1 -1,-.2 -1,0 -1,.3 -1,-.2 -1,-.1 -1,.1 -1,0 -1,.3 -1,.1 -1,-.1 -1,-.2 -1,.2 -1,0 -1,-.1 -1,-.1 -1,.2 -1,-.1 -1,0 -1,0 -1,.3 -1,-.3 -1,.1 -1,.1 -1,-.1 -1,.2 -1,.4 -1,-.6 -1,.5 -1,-.3 -1,.1 -1,-.2 -1,-.1 -1,.9 -1,-.5 -1,-.5 -1,.5 -1,-.3 -1,0 -1,0 -1,0 -1,0 -1,-.1 -1,.6 -1,-.7 -1,0 -1,.2 -1,0 -1,-.4 -1,0 -1,.2 -1,.3 -1,0 -1,-.1 -1,0 -1,.1 -1,0 -1,-.1 -1,-.1 -1,.3 -1,-.4 -1,0 -1,-.1 -1,0 -1,0 -1,.3 -1,-.3 -1,-.1 -1,0 -1,0 -1,0 -1,.1 -1,.4 -1,-.2 -1,0 -1,.4 -1,.2 -1,-.5 -1,-.1 -1,0 -1,-.2 -1,-.2 -1,.2 -1,-.1 -1,.2 -1,-.1 -1,-.1 -1,0 -1,.1 -1,.1 -1,.1 -1,-.1 -1,.1 -1,.1 -1,0 -1,-.3 -1,.1 -1,-.1 -1,-.1 -1,.3 -1,-.3 -1,0 -1,.1 -1,0 -1,-.1 -1,0 -1,-.1 -1,0 -1,.1 -1,.4 -1,-.1 -1,-.2 -1,-.1 -1,.1 -1,.2 -1,-.1 -1,.3 -1,-.2 -1,.8 -1,-.9 -1,.1 -1,-.2 -1,.1 -1,1.1 -1,-1.2 -1,.2 -1,-.2 -1,0 -1,.2 -1,.1 -1,.1 -1,-.2 -1,.2 -1,0 -1,.2 -1,-.2 -1,.2 -1,0 -1,-.1 -1,.6 -1,-.9 -1,0 -1,-.2 -1,0 -1,.3 -1,0 -1,.3 -1,0 -1,-.5 -1,.1 -1,.2 -1,-.4 -1,.1 -1,-.2 -1,.3 -1,-.1 -1,-.1 -1,.6 -1,-.7 -1,.4 -1,.3 -1,-.7 -1,.5 -1,-.5 -1,.8 -1,.2 -1,-.7 -1,-.1 -1,-.1 -1,-.2 -1,0 -1,.1 -1,.2 -1,0 -1,.3 -1,.1 -1,.8 -1,-1.1 -1,.1z"/>
<path fill="#ff0000" d="M137.5,227.4l1,.2 1,0 1,-.1 1,-.1 1,0 1,.1 1,-.1 1,.1 1,-.6 1,.5 1,-.2 1,0 1,.6 1,-.2 1,0 1,-.5 1,.7 1,-.1 1,.1 1,-.1 1,0 1,.1 1,-.4 1,.3 1,-.1 1,0 1,.1 1,-.1 1,.3 1,0 1,-.3 1,.2 1,0 1,.1 1,-.1 1,-.1 1,-.1 1,-1.2 1,1.2 1,0 1,-.1 1,-.1 1,-.1 1,-.6 1,1 1,-.1 1,-.2 1,.1 1,-.1 1,0 1,-.2 1,.4 1,.1 1,0 1,-.1 1,-.3 1,.1 1,.3 1,.1 1,-.2 1,.1 1,-.2 1,.3 1,-.1 1,.2 1,-.1 1,0 1,-.3 1,.1 1,.1 1,0 1,0 1,.2 1,-.2 1,.2 1,-.3 1,.1 1,-.1 1,0 1,0 1,-.5 1,.3 1,-.9 1,1.1 1,.1 1,-.2 1,0 1,-.1 1,-.1 1,0 1,.1 1,-.4 1,.5 1,-.9 1,.8 1,.2 1,.1 1,-.4 1,.4 1,-.6 1,.6 1,0 1,-.4 1,.3 1,-.4 1,.1 1,.4 1,-.3 1,.2 1,.1 1,-.4 1,.4 1,-.1 1,-.2 1,0 1,.1 1,.1 1,-.3 1,.3 1,-.1 1,-.1 1,.2 1,.1 1,-.2 1,-.1 1,.3 1,-.8 1,.9 1,-.4 1,-.7 1,.6 1,.1 1,0 1,-1.1 1,1 1,-.2 1,.1 1,-.5 1,.7 1,0 1,-.2 1,.1 1,-.1 1,.2 1,.1 1,-.7 1,.1 1,0 1,.3 1,.4 1,0 1,0 1,.3 1,0 1,-.2 1,-.4 1,.1 1,.4 1,-.2 1,-.4 1,.5 1,0 1,.1 1,0 1,0 1,0 1,0 1,-.2 1,.2 1,0 1,0 1,-.8 1,.3 1,.4 1,-.6 1,.2 1,.1 1,.1 1,-.1 1,.2 1,.1 1,-.2 1,0 1,.2 1,-.6 1,.6 1,-.8 1,.7 1,-.1 1,.1 1,.2 1,-.1 1,-.2 1,.2 1,-.5 1,.1 1,.1 1,-.3 1,-.3 1,.5 1,.3 1,-.9 1,1 1,0 1,0 1,.2 1,-1 1,.1 1,.9 1,0 1,-.5 1,0 1,-.2 1,.4 1,0 1,-.1 1,-.1 1,.1 1,.2 1,-.1 1,.1 1,-1 1,.7 1,-.1 1,-.5 1,.7 1,0 1,.1 1,0 1,-.1 1,-.2 1,.3 1,.1 1,-.3 1,.1 1,.2 1,0 1,0 1,.2 1,0 1,-.3 1,-.3 1,-.2 1,.4 1,0 1,-.2 1,.1 1,.1 1,.2 1,-.3 1,.3 1,-.2 1,.2 1,-.2 1,.2 1,-.1 1,.2 1,-.1 1,0 1,0 1,.1 1,.1 1,-.9 1,.6 1,.2 1,-.1 1,-.1 1,.3 1,-.2 1,0 1,-.2 1,.2 1,.2 1,-.2 1,.1 1,-.1 1,.1 1,-.8 1,.7 1,-.2 1,.1 1,.1 1,0 1,-.2 1,.1 1,.2 1,0 1,0 1,-.1 1,.2 1,-.1 1,-.1 1,-.4 1,.4 1,0 1,-.1 1,0 1,0 1,-.1 1,-.7 1,-.2 1,.8 1,-.3 1,.1 1,.1 1,0 1,.1 1,.1 1,-.1 1,.2 1,-.4 1,.5 1,-.1 1,-.1 1,-.9 1,.9 1,-.1 1,0 1,0 1,0 1,.2 1,-.1 1,-.1 1,-.3 1,.4 1,-.1 1,-.2 1,.2 1,.2 1,.1 1,0 1,-.2 1,.1 1,-.2 1,.2 1,0 1,.1 1,-.2 1,-.5 1,.3 1,.5 1,-.2 1,-.7 1,.8 1,-.4 1,.5 1,-.1 1,.1 1,-.3 1,0 1,.3 1,-.4 1,-.4 1,-.4 1,.8 1,.4 1,0 1,-.1 1,-.7 1,.7 1,-.2 1,.1 1,-.1 1,.2 1,.2 1,-.1 1,-.1 1,.1 1,-.2 1,0 1,-.2 1,.1 1,0 1,-.2 1,0 1,.1 1,0 1,.2 1,-.4 1,.4 1,-.1 1,-.1 1,-.1 1,.1 1,-.8 1,.9 1,-1 1,.4 1,0 1,.4 1,0 1,.2 1,.1 1,-.2 1,0 1,.3 1,.1 1,-.2 1,0 1,.2 1,.1 1,-.1 1,.1 1,-.1 1,.1 1,-.1 1,0 1,-.3 1,.3 1,-.2 1,-.5 1,0 1,.3 1,.1 1,.2 1,0 1,-.1 1,.1 1,0 1,.2 1,0 1,-.2 1,-.1 1,0 1,-1.3 1,1 1,.1 1,.1 1,-.2 1,.4 1,-.2 1,.1 1,.2 1,-.1 1,-.2 1,.3 1,-.1 1,-.1 1,.2 1,-.1 1,-.1 1,-.2 1,.4 1,0 1,-.1 1,0 1,.1 1,-.3 1,.1 1,.2 1,-.1 1,.1 1,-.7 1,.7 1,-.2 1,0 1,-.5 1,-.1 1,.7 1,-.2 1,0 1,.1 1,.1 1,-.1 1,-.1 1,.1 1,.1 1,-.3 1,.1 1,.2 1,-.4 1,.3 1,.1 1,-.4 1,.4 1,-.1 1,.2 1,-.2 1,-.6 1,.4 1,.2 1,-1.2 1,1.2 1,.1 1,-.2 1,-.3 1,.1 1,.2 1,0 1,-.1 1,.1 1,-.8 1,.3 1,.4 1,-.2 1,.3 1,0 1,0 1,0 1,0 1,.1 1,.1 1,0 1,.1 1,-.2 1,0 1,.1 1,-.1 1,-.2 1,-.1 1,.3 1,-.1 1,-1.2 1,1 1,.4 1,0 1,0 1,0 1,0 1,0 1,.1 1,0 1,-.2 1,.1 1,.1 1,-.6 1,.5 1,-.1 1,-1 1,.9 1,.3 1,0 1,.1 1,-.2 1,0 1,-.1 1,0 1,-.5 1,.3 1,.1 1,0 1,.1 1,-.1 1,.1 1,0 1,0 1,-.1 1,.3 1,-.1 1,-.5 1,.3 1,.1 1,0 1,.2 1,-.9 1,.3 1,.5 1,-1.1 1,.5 1,0 1,.6 1,-.2 1,0 1,-.1 1,.3 1,.1 1,-.1 1,-.3 1,.2 1,.2 1,-.1 1,-.1 1,-.2 1,-.1 1,.3 1,-.2 1,.4 1,-.2 1,.1 1,.2 1,-.3 1,.2 1,-.2 1,0 1,-.1 1,.2 1,-.3 1,0 1,-.3 1,.3 1,.1 1,.3 1,0 1,-.3 1,.2 1,-.1 1,0 1,0 1,-.1 1,.4 1,-.1 1,-.2 1,.2 1,-.2 1,.3 1,-.2 1,-.2 1,.2 1,0 1,-.1 1,0 1,-.4 1,.6 1,-.1 1,.1 1,.1 1,-.1 1,.1 1,-.5 1,.3 1,0 1,-.1 1,.1 1,-.2 1,.2 1,.2 1,-.2 1,.2 1,-.3 1,.2 1,-.4 1,.4 1,-.1 1,0 1,0 1,-.2 1,.2 1,0 1,-.1 1,-.2 1,0 1,.2 1,-.1 1,-.3 1,.6 1,0 1,-.4 1,.1 1,.2 1,-.1 1,-.1 1,-.9 1,.4 1,.6 1,0 1,.1 1,-.9 1,.9 1,.1 1,-.4 1,.3 1,-.2 1,.1 1,-1.1 1,1.1 1,-.8 1,.8 1,0 1,0 1,.2 1,0 1,-.3 1,.4 1,-.4 1,-.1 1,-.3 1,.6 1,-.1 1,.1 1,-.1 1,-1 1,.7 1,.1 1,-.2 1,.1 1,-.2 1,.1 1,0 1,.2 1,-.1 1,.3 1,-.2 1,.1 1,-.6 1,.5 1,-.1 1,.4 1,-.3 1,.3 1,-.1 1,.1 1,-.8 1,.8 1,-.2 1,.1 1,.1 1,.1 1,0 1,-.4 1,.2 1,.3 1,-.4 1,-.3 1,.4 1,.3 1,-.3 1,-.3 1,.4 1,-.5 1,.2 1,.2 1,0 1,-.8 1,.7 1,.2 1,-.2 1,0 1,.2 1,-.4 1,.1 1,.3 1,-.1 1,.1 1,.1 1,-.4 1,.1 1,0 1,.4 1,-1.1 1,1.1 1,-.1 1,-.1 1,0 1,-.3 1,.1 1,.1 1,.1 1,-.3 1,.4 1,0 1,0 1,-.2 1,.3 1,-.2 1,0 1,-.2 1,.4 1,-.3 1,.2 1,0 1,-.1 1,-.1 1,-.1 1,.1 1,0 1,.2 1,-.4 1,.3 1,0 1,-.1 1,-.3 1,.1 1,.1 1,-1 1,.9 1,.2 1,0 1,0 1,-.1 1,.2 1,-.1 1,.1 1,-.1 1,-.3 1,.3 1,.1 1,0 1,.1 1,-.4 1,.2 1,0 1,-.2 1,.2 1,0 1,-.3 1,.2 1,-.1 1,-.3 1,0 1,.1 1,-.2 1,.4 1,-.2 1,.2 1,-.1 1,.2 1,.1 1,-.1 1,.2 1,0 1,.1 1,-.8 1,.6 1,0 1,.1 1,.1 1,-.2 1,.1 1,-.1 1,-.3 1,.4 1,-.1 1,-.2 1,.2 1,.1 1,-.1 1,-.2 1,-.6 1,.9 1,0 1,0 1,-.1 1,-.1 1,-.1 1,.2 1,0 1,-.1 1,.1 1,-.5 1,.3 1,-.2 1,.1 1,.2 1,-1 1,.9 1,0 1,0 1,.1 1,.1 1,-.3 1,.3 1,-.2 1,.3 1,.1 1,-.1 1,-.1 1,0 1,-.1 1,0 1,-.1 1,-.1 1,0 1,0 1,.1 1,-.3 1,-.5 1,1.1 1,-.1 1,0 1,-.3 1,.3 1,-.1 1,-.1 1,-1.2 1,.8 1.5,0 0,5.9 -1.5,0 -1,0 -1,.1 -1,-.2 -1,-.1 -1,.1 -1,.2 -1,-.3 -1,.4 -1,-.2 -1,.3 -1,-.1 -1,-.4 -1,0 -1,.8 -1,-.8 -1,1.4 -1,-1.4 -1,.1 -1,.2 -1,.4 -1,-.5 -1,.3 -1,-.4 -1,.1 -1,0 -1,-.1 -1,0 -1,.1 -1,0 -1,-.2 -1,0 -1,1.1 -1,-.4 -1,-.5 -1,-.1 -1,.2 -1,-.2 -1,0 -1,.1 -1,-.1 -1,0 -1,.2 -1,.3 -1,-.4 -1,0 -1,0 -1,.3 -1,-.4 -1,.2 -1,.7 -1,-1.1 -1,0 -1,.4 -1,-.2 -1,.3 -1,0 -1,0 -1,-.1 -1,-.1 -1,-.2 -1,.3 -1,-.1 -1,0 -1,.3 -1,-.5 -1,.1 -1,.1 -1,0 -1,0 -1,-.1 -1,.2 -1,-.1 -1,0 -1,-.1 -1,0 -1,0 -1,.2 -1,0 -1,.1 -1,-.2 -1,0 -1,.1 -1,-.2 -1,-.1 -1,.1 -1,-.1 -1,.1 -1,.2 -1,-.3 -1,.1 -1,.3 -1,.6 -1,-.9 -1,.3 -1,-.3 -1,-.1 -1,-.1 -1,.3 -1,-.2 -1,0 -1,0 -1,.6 -1,-.5 -1,.1 -1,-.1 -1,-.2 -1,.3 -1,.1 -1,-.1 -1,-.2 -1,.5 -1,-.3 -1,0 -1,0 -1,-.2 -1,.4 -1,-.4 -1,.2 -1,0 -1,0 -1,-.1 -1,.1 -1,-.1 -1,-.1 -1,0 -1,.3 -1,0 -1,-.3 -1,0 -1,0 -1,.1 -1,-.2 -1,.1 -1,-.1 -1,.4 -1,.1 -1,-.2 -1,0 -1,-.1 -1,.1 -1,.1 -1,.2 -1,-.3 -1,.1 -1,.1 -1,.2 -1,0 -1,-.1 -1,.1 -1,.4 -1,-.4 -1,.7 -1,-.5 -1,-.1 -1,-.2 -1,-.1 -1,.2 -1,-.3 -1,0 -1,0 -1,-.2 -1,.4 -1,-.4 -1,-.2 -1,1 -1,-.7 -1,-.2 -1,.1 -1,-.2 -1,.3 -1,1 -1,-1.2 -1,1.1 -1,-.9 -1,.8 -1,-.6 -1,-.1 -1,0 -1,.9 -1,-1 -1,0 -1,.3 -1,-.2 -1,-.2 -1,0 -1,.3 -1,-.2 -1,0 -1,-.1 -1,.1 -1,-.1 -1,-.2 -1,.3 -1,-.3 -1,.4 -1,0 -1,-.2 -1,.1 -1,.2 -1,-.1 -1,0 -1,-.1 -1,0 -1,0 -1,0 -1,.1 -1,-.1 -1,.3 -1,.3 -1,-.7 -1,.6 -1,-.6 -1,0 -1,.6 -1,-.3 -1,.2 -1,-.3 -1,.2 -1,.1 -1,-.2 -1,0 -1,-.1 -1,.4 -1,-.6 -1,-.1 -1,.2 -1,.2 -1,-.1 -1,.3 -1,-.2 -1,.2 -1,-.3 -1,.9 -1,-1 -1,0 -1,0 -1,.1 -1,.2 -1,-.3 -1,-.1 -1,.2 -1,-.2 -1,.1 -1,-.1 -1,.1 -1,.6 -1,-.7 -1,0 -1,.3 -1,.1 -1,-.2 -1,.2 -1,.1 -1,-.1 -1,0 -1,.2 -1,-.1 -1,-.1 -1,-.1 -1,-.1 -1,0 -1,-.3 -1,.2 -1,-.1 -1,.1 -1,.2 -1,-.3 -1,-.1 -1,0 -1,1.3 -1,-.5 -1,.2 -1,-.7 -1,-.1 -1,-.2 -1,0 -1,.1 -1,-.1 -1,.2 -1,0 -1,.1 -1,-.2 -1,0 -1,.5 -1,-.4 -1,-.2 -1,0 -1,0 -1,.1 -1,0 -1,.1 -1,-.1 -1,-.1 -1,0 -1,.1 -1,.1 -1,0 -1,.1 -1,.4 -1,.8 -1,-1.1 -1,.4 -1,-.4 -1,-.1 -1,-.1 -1,-.1 -1,.1 -1,0 -1,.2 -1,-.3 -1,.4 -1,-.2 -1,.1 -1,-.3 -1,.2 -1,-.3 -1,.3 -1,-.1 -1,-.1 -1,.2 -1,0 -1,0 -1,.1 -1,.6 -1,-.9 -1,-.1 -1,1.4 -1,-1.3 -1,.2 -1,-.4 -1,.1 -1,.2 -1,-.1 -1,.9 -1,.2 -1,-.9 -1,0 -1,1 -1,-.8 -1,0 -1,-.1 -1,.1 -1,.2 -1,-.5 -1,.2 -1,.5 -1,-.5 -1,-.1 -1,0 -1,-.1 -1,-.2 -1,.3 -1,-.2 -1,-.1 -1,1 -1,-.5 -1,-.5 -1,0 -1,.2 -1,-.1 -1,0 -1,.2 -1,.1 -1,-.4 -1,.1 -1,.4 -1,-.2 -1,0 -1,-.1 -1,.2 -1,-.2 -1,.2 -1,-.2 -1,.3 -1,0 -1,-.2 -1,.1 -1,.5 -1,-.8 -1,.2 -1,0 -1,.2 -1,-.1 -1,0 -1,-.2 -1,.1 -1,0 -1,.6 -1,-.6 -1,-.1 -1,0 -1,0 -1,0 -1,-.1 -1,.2 -1,.3 -1,-.1 -1,.9 -1,-.9 -1,.2 -1,.7 -1,-.8 -1,-.2 -1,0 -1,0 -1,.1 -1,.3 -1,-.3 -1,.2 -1,-.4 -1,0 -1,.1 -1,-.1 -1,.1 -1,.1 -1,-.2 -1,.8 -1,-.7 -1,-.4 -1,.2 -1,-.1 -1,.4 -1,-.4 -1,.1 -1,.1 -1,0 -1,.8 -1,-.3 -1,-.2 -1,0 -1,-.1 -1,.1 -1,0 -1,.1 -1,0 -1,0 -1,-.2 -1,-.3 -1,.1 -1,1.1 -1,-.9 -1,-.2 -1,.3 -1,0 -1,-.1 -1,0 -1,-.1 -1,0 -1,.1 -1,-.3 -1,.6 -1,-.5 -1,0 -1,-.3 -1,.1 -1,.1 -1,0 -1,.2 -1,-.1 -1,-.1 -1,.6 -1,-.5 -1,.1 -1,0 -1,-.3 -1,-.1 -1,0 -1,.1 -1,.1 -1,.2 -1,.3 -1,-.6 -1,.1 -1,.1 -1,-.1 -1,.1 -1,0 -1,.6 -1,-.9 -1,.5 -1,.7 -1,-1.2 -1,.1 -1,.1 -1,-.1 -1,.3 -1,-.3 -1,-.1 -1,.2 -1,-.1 -1,0 -1,-.1 -1,.2 -1,.9 -1,-1 -1,0 -1,.1 -1,.1 -1,-.2 -1,.1 -1,.5 -1,-.5 -1,0 -1,-.1 -1,.1 -1,.3 -1,-.3 -1,.4 -1,-.4 -1,-.1 -1,-.1 -1,.2 -1,.1 -1,-.3 -1,.4 -1,-.1 -1,-.2 -1,.2 -1,0 -1,.6 -1,-.8 -1,-.1 -1,.1 -1,0 -1,0 -1,.3 -1,-.1 -1,-.3 -1,.2 -1,-.1 -1,.1 -1,-.1 -1,.1 -1,-.1 -1,.2 -1,.1 -1,-.1 -1,0 -1,0 -1,.1 -1,-.3 -1,-.1 -1,.2 -1,1.2 -1,-1.3 -1,0 -1,1.3 -1,-1.2 -1,.4 -1,-.2 -1,-.1 -1,-.1 -1,-.2 -1,0 -1,0 -1,.3 -1,-.2 -1,0 -1,.4 -1,-.2 -1,.1 -1,.3 -1,-.3 -1,0 -1,.4 -1,-.3 -1,-.1 -1,.2 -1,-.3 -1,.2 -1,.1 -1,-.1 -1,-.2 -1,.1 -1,0 -1,-.1 -1,.1 -1,-.2 -1,-.1 -1,.1 -1,.3 -1,.1 -1,-.2 -1,.1 -1,-.1 -1,-.1 -1,-.1 -1,.3 -1,-.2 -1,-.2 -1,.1 -1,-.1 -1,-.1 -1,.1 -1,.6 -1,-.4 -1,.1 -1,-.1 -1,0 -1,-.1 -1,.8 -1,-.3 -1,-.3 -1,.4 -1,-.3 -1,0 -1,.1 -1,0 -1,-.2 -1,.3 -1,-.2 -1,-.1 -1,0 -1,-.2 -1,.1 -1,-.1 -1,.1 -1,.1 -1,-.1 -1,-.1 -1,.3 -1,-.2 -1,.2 -1,-.4 -1,.3 -1,-.2 -1,-.1 -1,-.1 -1,.1 -1,-.1 -1,.2 -1,0 -1,-.1 -1,.1 -1,-.1 -1,.3 -1,-.5 -1,.2 -1,-.1 -1,.1 -1,.1 -1,.4 -1,-.6 -1,.1 -1,.2 -1,-.1 -1,-.1 -1,-.1 -1,.2 -1,.1 -1,-.2 -1,0 -1,.1 -1,.6 -1,-.7 -1,.1 -1,.3 -1,0 -1,-.4 -1,-.1 -1,0 -1,-.1 -1,.2 -1,.2 -1,-.3 -1,-.1 -1,.1 -1,.3 -1,0 -1,.1 -1,-.2 -1,.3 -1,-.2 -1,.1 -1,.2 -1,-.3 -1,0 -1,-.1 -1,.1 -1,-.3 -1,.4 -1,-.2 -1,.5 -1,.4 -1,-.4 -1,.6 -1,-.9 -1,-.2 -1,0 -1,.2 -1,-.2 -1,.2 -1,-.2 -1,.2 -1,0 -1,-.1 -1,.2 -1,.1 -1,-.1 -1,-.3 -1,.1 -1,.1 -1,-.2 -1,.6 -1,-.7 -1,0 -1,.2 -1,-.3 -1,.1 -1,.1 -1,.1 -1,-.3 -1,.2 -1,.9 -1,-1 -1,0 -1,0 -1,.4 -1,-.4 -1,0 -1,.4 -1,-.1 -1,0 -1,-.1 -1,0 -1,-.1 -1,0 -1,0 -1,0 -1,.2 -1,0 -1,-.2 -1,.1 -1,0 -1,0 -1,-.1 -1,.8 -1,-.2 -1,-.7 -1,.5 -1,-.6 -1,.2 -1,-.2 -1,.4 -1,0 -1,.4 -1,-.6 -1,0 -1,0 -1,.1 -1,-.2 -1,.1 -1,-.1 -1,.1 -1,-.1 -1,.2 -1,-.4 -1,.3 -1,0 -1,0 -1,.3 -1,.8 -1,-.7 -1,-.1 -1,0 -1,.4 -1,-.4 -1,.2 -1,-.2 -1,1.2 -1,-1.3 -1,0 -1,1.1 -1,-1.2 -1,.1 -1,-.2 -1,.1 -1,0 -1,-.1 -1,0 -1,.3 -1,.3 -1,-.3 -1,-.1 -1,.1 -1,-.3 -1,.2 -1,0 -1,.7 -1,-.1 -1,-.8 -1,0 -1,0 -1,.1 -1,.1 -1,.1 -1,0 -1,-.2 -1,-.1 -1,.1 -1,.3 -1,-.1 -1,-.2 -1,0 -1,-.1 -1,-.1 -1,0 -1,0 -1,.1 -1,.1 -1,0 -1,.1 -1,-.4 -1,.4 -1,-.3 -1,.1 -1,-.1 -1,.2 -1,-.1 -1,0 -1,-.1 -1,1.1 -1,-.9 -1,.3 -1,-.4 -1,.1 -1,-.2 -1,.2 -1,-.3 -1,.1 -1,-.1 -1,.2 -1,.1 -1,-.1 -1,.1 -1,0 -1,.1 -1,-.1 -1,-.1 -1,-.1 -1,.1 -1,.7 -1,-.8 -1,-.1 -1,.3 -1,-.3 -1,.3 -1,-.2 -1,.1 -1,.2 -1,-.2 -1,.4 -1,-.5 -1,.7 -1,-.4 -1,.7 -1,-.9 -1,0 -1,-.1 -1,.2 -1,-.2 -1,.1 -1,.1 -1,-.1 -1,.8 -1,-.9 -1,0 -1,0 -1,0 -1,.2 -1,-.3 -1,0 -1,0 -1,.1 -1,.1z"/>
<path fill="#0000ff" d="M137.5,259.2l1,.2 1,0 1,-.2 1,-.3 1,.4 1,-.1 1,-.1 1,.1 1,-.3 1,-.3 1,0 1,-.5 1,.8 1,.1 1,.1 1,0 1,-1.1 1,1 1,.3 1,-.3 1,-.1 1,-.2 1,.6 1,-.1 1,.2 1,-.8 1,.5 1,0 1,-.9 1,1 1,.1 1,-.2 1,-.8 1,.6 1,.4 1,0 1,.1 1,-.1 1,.1 1,0 1,-.3 1,-.1 1,.3 1,0 1,-.5 1,-.2 1,.5 1,-.3 1,.2 1,-1.2 1,1 1,.2 1,0 1,.2 1,0 1,0 1,0 1,.1 1,.1 1,0 1,-.1 1,.2 1,-.3 1,-1 1,1.1 1,-.9 1,.8 1,-.2 1,0 1,.1 1,-.3 1,.5 1,-.1 1,0 1,0 1,.1 1,.1 1,-.3 1,.3 1,-.4 1,0 1,.2 1,.2 1,-.2 1,.3 1,-.4 1,.2 1,-.2 1,.1 1,-.4 1,0 1,.1 1,.1 1,0 1,.1 1,-.3 1,.2 1,-.5 1,.6 1,-.2 1,.1 1,.1 1,0 1,-.1 1,0 1,-.3 1,.3 1,-.3 1,.4 1,.1 1,-.2 1,.2 1,-.1 1,0 1,0 1,.2 1,0 1,-.3 1,-.3 1,.5 1,-.1 1,-.2 1,.4 1,.1 1,-.2 1,0 1,-.2 1,-.1 1,.3 1,0 1,0 1,-.1 1,-.3 1,0 1,-.3 1,.2 1,.2 1,.4 1,0 1,-.1 1,-.7 1,.7 1,0 1,-.5 1,.5 1,-.1 1,-.3 1,-.2 1,.5 1,-1 1,1 1,-.3 1,.3 1,-.1 1,.2 1,-.2 1,-.4 1,.5 1,.1 1,0 1,0 1,-.9 1,.8 1,-.5 1,.5 1,.1 1,-.2 1,.1 1,0 1,0 1,0 1,-.1 1,.1 1,0 1,-.1 1,.2 1,.1 1,0 1,0 1,.1 1,0 1,-.3 1,.2 1,-.3 1,.1 1,.3 1,-.2 1,-.1 1,.2 1,-.1 1,0 1,0 1,.1 1,-.5 1,.1 1,-.2 1,0 1,.2 1,0 1,.4 1,.1 1,-.1 1,-.2 1,-.1 1,.3 1,.1 1,0 1,-.1 1,-.2 1,-.2 1,.2 1,-.1 1,-.2 1,.4 1,-.1 1,-.3 1,.3 1,0 1,-.3 1,-.1 1,.3 1,.1 1,-.1 1,0 1,.2 1,0 1,-.1 1,-.1 1,-.1 1,-.1 1,-.1 1,.3 1,.1 1,-.4 1,.1 1,-.1 1,-.7 1,1.1 1,-.1 1,.1 1,0 1,.1 1,-1 1,.6 1,0 1,.3 1,-.1 1,-.1 1,-.4 1,.4 1,-.1 1,0 1,.2 1,.1 1,.3 1,0 1,-.1 1,-.2 1,0 1,-.5 1,.8 1,-.3 1,-.4 1,.4 1,-.1 1,.1 1,.1 1,-.1 1,.1 1,-.1 1,0 1,0 1,.2 1,-.1 1,0 1,-.2 1,0 1,.1 1,.1 1,-.1 1,-.4 1,.3 1,.2 1,-.1 1,.1 1,-.1 1,-.8 1,.8 1,.1 1,0 1,.1 1,-.1 1,-1.3 1,.3 1,.9 1,-.1 1,.1 1,-.1 1,-.1 1,.2 1,.1 1,-.1 1,.1 1,0 1,0 1,-.1 1,.3 1,-.2 1,-.1 1,0 1,-.1 1,-.2 1,0 1,-.1 1,.3 1,0 1,-.4 1,.3 1,-.1 1,.4 1,-.1 1,.2 1,-.4 1,.3 1,0 1,-.2 1,.2 1,-.3 1,-.1 1,-.5 1,.7 1,.1 1,-.1 1,-.8 1,1 1,-.5 1,.4 1,.2 1,0 1,0 1,.1 1,-.1 1,.1 1,0 1,0 1,-.1 1,.1 1,-.4 1,0 1,.3 1,.1 1,-.2 1,0 1,-.7 1,.7 1,-.3 1,.2 1,0 1,-.1 1,0 1,.2 1,-.6 1,.4 1,.2 1,-.2 1,-.6 1,.7 1,0 1,-.4 1,0 1,.2 1,.4 1,0 1,0 1,-.7 1,.5 1,.1 1,-.1 1,.3 1,-.2 1,.1 1,0 1,.1 1,-.1 1,-.5 1,.2 1,.4 1,-.2 1,.1 1,-.3 1,-.3 1,.4 1,0 1,-.1 1,-.3 1,-.1 1,.1 1,.1 1,0 1,.4 1,-.4 1,.3 1,0 1,.1 1,-.1 1,.1 1,-.1 1,.2 1,-.4 1,.2 1,-.7 1,.8 1,-.5 1,.2 1,.5 1,0 1,-.1 1,0 1,0 1,.1 1,0 1,-.3 1,.2 1,-.3 1,.3 1,0 1,-.1 1,.3 1,-.3 1,.1 1,-.3 1,-.1 1,.3 1,-.5 1,.3 1,.2 1,-.3 1,-.3 1,.4 1,.2 1,.1 1,-.1 1,-.1 1,0 1,.1 1,-.1 1,-.2 1,.2 1,.2 1,-.3 1,.1 1,-1 1,1.2 1,-.2 1,-.6 1,.3 1,.2 1,-.9 1,.3 1,.4 1,.6 1,-.1 1,-.3 1,.4 1,-.1 1,-.1 1,-.1 1,.1 1,-.3 1,.2 1,0 1,-.1 1,0 1,-.1 1,.2 1,.1 1,-.3 1,.1 1,.2 1,-.4 1,-.1 1,0 1,.5 1,-.1 1,.1 1,0 1,-.1 1,-.2 1,.2 1,-.2 1,.2 1,.1 1,.1 1,-.1 1,0 1,-1 1,.3 1,.6 1,.1 1,0 1,-.1 1,.2 1,-.9 1,.4 1,.1 1,.4 1,-.2 1,.2 1,-.3 1,-.9 1,1.1 1,-.2 1,.2 1,-.4 1,.3 1,-.1 1,.2 1,0 1,.1 1,-.1 1,0 1,-.1 1,-.2 1,.1 1,-.2 1,-.3 1,.5 1,.1 1,-.1 1,.2 1,-.5 1,.2 1,0 1,.4 1,.1 1,-.3 1,0 1,.3 1,-.1 1,0 1,-.1 1,-.2 1,.4 1,0 1,-.1 1,0 1,-.2 1,-.6 1,.8 1,.1 1,-.1 1,0 1,-.2 1,.1 1,0 1,.2 1,-.3 1,0 1,.3 1,0 1,-.6 1,.6 1,0 1,0 1,-.1 1,0 1,-.2 1,.1 1,-.4 1,.2 1,0 1,.1 1,-.4 1,.5 1,0 1,-.1 1,-.9 1,1.1 1,-1.1 1,1.1 1,-1 1,1 1,-.4 1,.4 1,-.2 1,-.2 1,.3 1,-.1 1,0 1,0 1,0 1,-.2 1,.1 1,-.1 1,-.1 1,.1 1,-.1 1,.2 1,.1 1,-.2 1,-1 1,1.1 1,-.2 1,.3 1,.1 1,-.2 1,.2 1,-.2 1,.3 1,.2 1,-.1 1,0 1,-.3 1,.2 1,0 1,0 1,-.1 1,-.3 1,.2 1,-.2 1,.2 1,-.3 1,.1 1,-.2 1,0 1,-.3 1,.3 1,.3 1,-.1 1,.2 1,.2 1,-.5 1,.4 1,.1 1,-.1 1,.1 1,-.4 1,.3 1,-.9 1,1 1,-.2 1,-.4 1,.5 1,.1 1,-.4 1,.4 1,-.3 1,0 1,0 1,.1 1,-.2 1,.3 1,-.1 1,.1 1,-.1 1,-1 1,0 1,1.1 1,-.2 1,.2 1,-.3 1,.1 1,.1 1,0 1,0 1,-.3 1,.3 1,-.3 1,0 1,-.3 1,-.6 1,.7 1,-.1 1,.4 1,0 1,-.9 1,1 1,-.2 1,.3 1,0 1,0 1,0 1,.2 1,0 1,.1 1,-.1 1,.1 1,0 1,-.1 1,0 1,-.3 1,0 1,.1 1,-.2 1,-.8 1,.8 1,-.1 1,.3 1,.1 1,.1 1,0 1,.1 1,-.4 1,.3 1,-.1 1,0 1,.1 1,0 1,-.7 1,.6 1,-1 1,.8 1,.3 1,.1 1,-.2 1,.1 1,-.6 1,.1 1,.1 1,0 1,-.2 1,.4 1,-.4 1,-.1 1,.3 1,-.1 1,.2 1,.2 1,-.5 1,.3 1,.1 1,-.1 1,-.1 1,.2 1,-.2 1,.3 1,-.2 1,.3 1,.1 1,0 1,-.2 1,.2 1,0 1,-.5 1,-.1 1,.4 1,.1 1,-.5 1,.5 1,0 1,.1 1,-.1 1,-1 1,.8 1,.1 1,-.1 1,-.2 1,.1 1,.1 1,.2 1,-.1 1,.1 1,-.1 1,.1 1,-.3 1,.2 1,-.1 1,.1 1,0 1,-.7 1,.7 1,-.1 1,.1 1,0 1,0 1,-.3 1,.3 1,-.1 1,.2 1,-.2 1,.2 1,-.3 1,.3 1,-.3 1,.2 1,.2 1,0 1,-.1 1,-.2 1,0 1,.1 1,-.3 1,.1 1,.1 1,-.1 1,-.1 1,0 1,.1 1,-.2 1,0 1,.4 1,.1 1,0 1,-.1 1,-.1 1,.1 1,.1 1,-.2 1,-.1 1,.1 1,-.4 1,.4 1,-.2 1,.5 1,-.2 1,.1 1,.1 1,-.3 1,.2 1,-.1 1,-.1 1,.1 1,-.5 1,.3 1,-.4 1,.3 1,-.1 1,.1 1,.3 1,-1 1,.7 1,.3 1,-.2 1,.3 1,-.4 1,-.1 1,.2 1,-.1 1,0 1,.4 1,-1 1,.9 1,0 1,.1 1,.1 1,0 1,0 1,-1.1 1,1 1,0 1,-.2 1,0 1,.2 1,-.1 1,-.4 1,.5 1,0 1,-.1 1,.1 1,0 1,-.2 1,.2 1,-.2 1,.1 1,-.1 1,.2 1,-.2 1,.1 1,-.1 1,0 1,-.1 1,-.3 1,0 1,.2 1,0 1.5,-.2 0,5.5 -1.5,.1 -1,.1 -1,-.1 -1,0 -1,-.1 -1,.1 -1,.3 -1,-.3 -1,.3 -1,-.4 -1,.5 -1,-.3 -1,.2 -1,.1 -1,-.1 -1,-.1 -1,.2 -1,-.5 -1,.2 -1,-.1 -1,0 -1,.1 -1,-.1 -1,.1 -1,.2 -1,-.1 -1,.1 -1,-.1 -1,.2 -1,-.1 -1,.1 -1,-.1 -1,0 -1,-.1 -1,0 -1,.2 -1,-.3 -1,.1 -1,1 -1,-.7 -1,-.3 -1,.1 -1,.2 -1,-.1 -1,.1 -1,-.1 -1,.2 -1,.1 -1,.1 -1,-.4 -1,-.2 -1,0 -1,0 -1,-.2 -1,.3 -1,-.2 -1,.1 -1,0 -1,0 -1,.2 -1,-.2 -1,.2 -1,-.3 -1,.2 -1,-.1 -1,0 -1,.4 -1,-.6 -1,0 -1,.2 -1,-.3 -1,.3 -1,-.2 -1,.3 -1,.3 -1,-.3 -1,0 -1,.1 -1,.1 -1,-.3 -1,-.2 -1,.3 -1,-.2 -1,-.2 -1,.1 -1,.1 -1,-.1 -1,0 -1,.1 -1,.1 -1,0 -1,.1 -1,-.1 -1,.3 -1,.1 -1,-.2 -1,.5 -1,-.5 -1,-.2 -1,-.1 -1,.1 -1,.2 -1,-.3 -1,-.1 -1,.1 -1,-.2 -1,.3 -1,-.1 -1,-.1 -1,.7 -1,.3 -1,-.5 -1,-.3 -1,0 -1,.2 -1,-.2 -1,-.2 -1,.1 -1,-.1 -1,.1 -1,0 -1,-.2 -1,.1 -1,.7 -1,-.3 -1,-.2 -1,-.1 -1,0 -1,-.2 -1,.1 -1,.2 -1,.4 -1,-.2 -1,-.2 -1,.2 -1,.1 -1,-.4 -1,-.1 -1,.2 -1,-.1 -1,.3 -1,0 -1,-.4 -1,.4 -1,-.3 -1,.5 -1,-.2 -1,.7 -1,-.9 -1,0 -1,.1 -1,.2 -1,-.1 -1,-.2 -1,1.1 -1,-1.1 -1,-.1 -1,.1 -1,.4 -1,-.2 -1,0 -1,-.1 -1,.1 -1,-.3 -1,0 -1,.8 -1,-.9 -1,.1 -1,0 -1,.1 -1,0 -1,-.1 -1,.1 -1,-.1 -1,1.1 -1,-1.1 -1,-.1 -1,.2 -1,-.2 -1,0 -1,.2 -1,.1 -1,-.1 -1,.1 -1,.3 -1,-.2 -1,.3 -1,-.2 -1,-.2 -1,1 -1,-1 -1,-.1 -1,-.3 -1,.2 -1,-.1 -1,-.1 -1,.2 -1,-.1 -1,.6 -1,-.5 -1,0 -1,.1 -1,.2 -1,-.1 -1,-.1 -1,.3 -1,-.3 -1,.1 -1,1 -1,-.7 -1,-.1 -1,-.2 -1,.3 -1,-.3 -1,-.1 -1,0 -1,0 -1,0 -1,-.1 -1,-.1 -1,.2 -1,-.1 -1,.4 -1,.4 -1,-.5 -1,.2 -1,-.1 -1,.1 -1,-.2 -1,-.1 -1,-.1 -1,.2 -1,-.3 -1,.4 -1,-.2 -1,.3 -1,-.3 -1,.6 -1,-.7 -1,-.1 -1,-.1 -1,.5 -1,-.4 -1,.8 -1,-.8 -1,.1 -1,.1 -1,.2 -1,-.2 -1,-.1 -1,.4 -1,-.1 -1,-.3 -1,-.1 -1,.2 -1,-.1 -1,-.1 -1,-.1 -1,-.1 -1,.1 -1,-.1 -1,.2 -1,-.2 -1,.4 -1,.1 -1,-.3 -1,-.1 -1,.5 -1,-.3 -1,-.2 -1,.4 -1,0 -1,0 -1,-.3 -1,.3 -1,-.2 -1,-.1 -1,0 -1,.1 -1,.1 -1,-.3 -1,0 -1,.2 -1,-.1 -1,.4 -1,-.4 -1,0 -1,.3 -1,-.4 -1,0 -1,.1 -1,0 -1,0 -1,.3 -1,-.4 -1,.1 -1,.2 -1,0 -1,.1 -1,1.1 -1,-1.1 -1,-.4 -1,.3 -1,-.3 -1,.1 -1,-.2 -1,.6 -1,-.6 -1,.4 -1,.2 -1,-.3 -1,-.2 -1,.4 -1,-.1 -1,-.2 -1,0 -1,0 -1,-.1 -1,1.2 -1,-1 -1,.3 -1,-.1 -1,-.2 -1,.1 -1,.2 -1,-.1 -1,.1 -1,-.1 -1,-.1 -1,-.3 -1,.3 -1,1.2 -1,-1.4 -1,-.1 -1,0 -1,0 -1,.5 -1,-.5 -1,.3 -1,-.1 -1,-.2 -1,.3 -1,.1 -1,.1 -1,-.1 -1,-.1 -1,.2 -1,.2 -1,.2 -1,-.5 -1,0 -1,.1 -1,-.2 -1,.1 -1,-.1 -1,.1 -1,.3 -1,-.5 -1,.3 -1,-.1 -1,0 -1,0 -1,-.3 -1,.1 -1,-.1 -1,-.2 -1,.3 -1,.2 -1,-.2 -1,-.1 -1,.5 -1,-.5 -1,1.1 -1,-.9 -1,-.3 -1,-.1 -1,0 -1,.8 -1,-.7 -1,.5 -1,-.4 -1,.2 -1,-.1 -1,-.2 -1,.1 -1,.2 -1,.1 -1,0 -1,-.1 -1,.2 -1,-.4 -1,-.1 -1,.3 -1,0 -1,0 -1,-.1 -1,-.3 -1,.1 -1,.6 -1,-.4 -1,-.1 -1,.3 -1,0 -1,-.1 -1,-.1 -1,.4 -1,-.3 -1,0 -1,0 -1,0 -1,.1 -1,.1 -1,-.1 -1,.2 -1,0 -1,-.5 -1,.1 -1,-.1 -1,0 -1,.2 -1,-.1 -1,-.2 -1,0 -1,0 -1,-.1 -1,.2 -1,.2 -1,-.4 -1,0 -1,.1 -1,.8 -1,-.7 -1,.1 -1,0 -1,.5 -1,.8 -1,-1.1 -1,0 -1,0 -1,-.2 -1,.2 -1,.1 -1,0 -1,-.2 -1,0 -1,0 -1,0 -1,-.2 -1,.2 -1,-.2 -1,.5 -1,-.5 -1,-.1 -1,.1 -1,.1 -1,.6 -1,-.4 -1,-.2 -1,.1 -1,-.2 -1,.1 -1,-.1 -1,-.1 -1,.5 -1,-.3 -1,-.3 -1,.1 -1,-.1 -1,.1 -1,.1 -1,-.2 -1,.5 -1,-.4 -1,-.1 -1,.2 -1,.1 -1,.3 -1,-.5 -1,.2 -1,.2 -1,.4 -1,-.4 -1,0 -1,.1 -1,-.1 -1,.4 -1,-.3 -1,.1 -1,-.2 -1,.1 -1,0 -1,.1 -1,-.3 -1,0 -1,.1 -1,-.3 -1,.6 -1,-.4 -1,-.1 -1,-.1 -1,0 -1,.6 -1,-.1 -1,-.4 -1,0 -1,-.1 -1,0 -1,.3 -1,-.2 -1,-.1 -1,.6 -1,-.4 -1,.4 -1,-.2 -1,-.4 -1,0 -1,.4 -1,-.1 -1,.3 -1,-.3 -1,0 -1,0 -1,.4 -1,-.3 -1,.1 -1,-.3 -1,0 -1,0 -1,.1 -1,-.1 -1,.4 -1,0 -1,.8 -1,-1 -1,-.4 -1,.3 -1,-.1 -1,-.3 -1,-.1 -1,.1 -1,.2 -1,-.1 -1,.5 -1,-.3 -1,.4 -1,0 -1,-.2 -1,-.1 -1,-.1 -1,.3 -1,.7 -1,-1.1 -1,-.1 -1,0 -1,.8 -1,-.3 -1,-.2 -1,.3 -1,-.2 -1,-.2 -1,-.1 -1,.4 -1,-.3 -1,-.1 -1,0 -1,-.2 -1,0 -1,0 -1,0 -1,-.1 -1,.3 -1,-.2 -1,-.1 -1,.6 -1,.5 -1,-.9 -1,-.1 -1,.5 -1,-.5 -1,0 -1,-.1 -1,.3 -1,.5 -1,-.6 -1,.8 -1,-.6 -1,-.1 -1,.3 -1,-.3 -1,-.1 -1,.2 -1,-.2 -1,.1 -1,.3 -1,0 -1,-.4 -1,.1 -1,0 -1,-.1 -1,.2 -1,-.2 -1,-.1 -1,0 -1,-.1 -1,0 -1,.1 -1,.3 -1,0 -1,-.1 -1,.2 -1,0 -1,-.2 -1,.2 -1,-.1 -1,1.7 -1,-1.7 -1,.2 -1,-.1 -1,0 -1,.1 -1,-.1 -1,-.2 -1,.4 -1,-.4 -1,-.1 -1,.1 -1,-.2 -1,.1 -1,-.2 -1,0 -1,.2 -1,0 -1,-.1 -1,.3 -1,.1 -1,-.3 -1,-.2 -1,.3 -1,.1 -1,0 -1,0 -1,-.2 -1,.1 -1,-.2 -1,-.1 -1,.2 -1,-.1 -1,.9 -1,-.9 -1,-.1 -1,.1 -1,0 -1,.1 -1,0 -1,.2 -1,-.1 -1,-.3 -1,.3 -1,.2 -1,-.2 -1,-.1 -1,-.1 -1,0 -1,.4 -1,-.4 -1,.1 -1,.7 -1,-.8 -1,0 -1,-.1 -1,.6 -1,-.5 -1,.3 -1,.1 -1,-.3 -1,-.1 -1,.3 -1,-.1 -1,.1 -1,0 -1,-.2 -1,.3 -1,-.4 -1,.1 -1,.2 -1,0 -1,-.1 -1,-.1 -1,0 -1,0 -1,.5 -1,-.1 -1,-.3 -1,0 -1,.2 -1,-.1 -1,.2 -1,-.2 -1,.4 -1,-.4 -1,0 -1,0 -1,.1 -1,-.2 -1,-.1 -1,.5 -1,-.3 -1,0 -1,-.1 -1,.1 -1,.3 -1,0 -1,-.2 -1,-.1 -1,0 -1,.8 -1,-1 -1,-.1 -1,.6 -1,-.7 -1,0 -1,.4 -1,.3 -1,-.3 -1,.5 -1,-.4 -1,0 -1,0 -1,-.2 -1,-.1 -1,0 -1,-.1 -1,.2 -1,.1 -1,-.2 -1,.4 -1,-.4 -1,.2 -1,-.3 -1,.3 -1,-.1 -1,.8 -1,-1.1 -1,.7 -1,-.5 -1,0 -1,0 -1,.3 -1,-.1 -1,-.2 -1,.1 -1,-.1 -1,0 -1,.1 -1,.1 -1,0 -1,.2 -1,-.3 -1,-.2 -1,.2 -1,-.1 -1,0 -1,-.1 -1,-.1 -1,.8 -1,-.2 -1,-.4 -1,-.1 -1,.1 -1,.1 -1,-.2 -1,0 -1,.3 -1,-.2 -1,-.1 -1,.1 -1,-.1 -1,.1 -1,.1 -1,.1 -1,.1 -1,-.2 -1,-.1 -1,.2 -1,-.3 -1,.2 -1,.1 -1,-.2 -1,.9 -1,-.8 -1,-.3 -1,.5 -1,.1 -1,-.3 -1,-.2 -1,.2 -1,.1 -1,-.1 -1,-.2 -1,-.1 -1,.3 -1,-.2 -1,.1 -1,.1 -1,.1 -1,.2 -1,.1 -1,-.1 -1,-.2 -1,.1 -1,.3 -1,.5 -1,-.9 -1,.1 -1,-.1 -1,.4 -1,-.5 -1,0 -1,-.1 -1,.1 -1,.1 -1,-.2 -1,0 -1,.5 -1,-.2 -1,0 -1,.1 -1,-.2 -1,.4 -1,-.3 -1,.8 -1,-.7 -1,0 -1,.2 -1,-.2 -1,-.2 -1,-.2 -1,-.1 -1,.2 -1,-.1 -1,0 -1,.2 -1,-.2 -1,.1 -1,.2 -1,-.3 -1,-.1 -1,.1 -1,.5 -1,-.3 -1,-.2 -1,0 -1,.3 -1,-.1 -1,.1 -1,0 -1,0 -1,-.1 -1,0 -1,-.1 -1,.1 -1,0 -1,-.2 -1,-.1 -1,.1 -1,.1 -1,.4 -1,-.2 -1,-.1 -1,-.1 -1,0 -1,-.1 -1,.8 -1,-.9 -1,.1 -1,-.1z"/>
<path fill="#008000" d="M137.5,290.6l1,-.2 1,0 1,.2 1,-.7 1,.4 1,.2 1,-.2 1,.1 1,-.2 1,0 1,.2 1,.2 1,-.1 1,.1 1,-.3 1,.5 1,-.9 1,1 1,0 1,-.4 1,.1 1,-.7 1,1 1,.1 1,-.1 1,0 1,-.5 1,.3 1,.2 1,-.1 1,0 1,-.1 1,.2 1,0 1,-.3 1,.2 1,-.4 1,.1 1,-.2 1,-.1 1,.5 1,-.1 1,0 1,.1 1,-.2 1,-.1 1,-.9 1,.8 1,.6 1,0 1,-.1 1,.1 1,-.1 1,0 1,0 1,0 1,-.1 1,-.1 1,0 1,0 1,-.4 1,.4 1,.2 1,-.2 1,.2 1,-.4 1,.3 1,.1 1,-.6 1,.7 1,-.2 1,.1 1,-.8 1,.5 1,.5 1,-.1 1,-.1 1,.1 1,0 1,-.4 1,.1 1,.3 1,-.2 1,-.3 1,.4 1,.1 1,-.2 1,-.3 1,.1 1,.1 1,-.3 1,.2 1,-.1 1,.2 1,0 1,-.5 1,.5 1,.2 1,.1 1,-.1 1,0 1,0 1,-.4 1,0 1,.2 1,-.3 1,.1 1,.3 1,-.1 1,.2 1,0 1,0 1,-.1 1,-.2 1,.4 1,-.4 1,.1 1,0 1,.2 1,-.1 1,.1 1,-.2 1,-.4 1,.5 1,-.1 1,-.2 1,.3 1,-.4 1,.4 1,-.1 1,-.1 1,-.1 1,.5 1,-.3 1,.4 1,-1.2 1,.9 1,0 1,-.1 1,.2 1,-.1 1,0 1,.2 1,-.3 1,.1 1,-.2 1,.1 1,.1 1,-.3 1,.2 1,.2 1,0 1,-1.3 1,.5 1,.4 1,.3 1,-.5 1,.5 1,-.2 1,-.2 1,.1 1,.1 1,0 1,-.5 1,.5 1,.1 1,-.3 1,.1 1,-.9 1,.8 1,.3 1,0 1,-.1 1,-.8 1,1.2 1,-.2 1,0 1,.2 1,-.1 1,-.2 1,.1 1,-.2 1,.1 1,0 1,0 1,-.1 1,0 1,-.6 1,.3 1,.2 1,-.2 1,.1 1,0 1,0 1,-.5 1,-.6 1,1.1 1,0 1,.3 1,-.9 1,1 1,.1 1,.1 1,-1 1,1 1,-.2 1,-.1 1,-1.1 1,1.2 1,.1 1,0 1,-.4 1,.3 1,-.1 1,-.7 1,.9 1,0 1,.1 1,-.1 1,-.1 1,-.2 1,-.1 1,.5 1,-.1 1,0 1,0 1,0 1,.1 1,.1 1,-.2 1,-.4 1,.6 1,-.2 1,-.1 1,0 1,0 1,-.1 1,.3 1,-.1 1,0 1,.1 1,-.6 1,.4 1,.3 1,-.3 1,.3 1,-.1 1,0 1,.1 1,-.3 1,.1 1,-1.1 1,1.2 1,-.3 1,.2 1,-.2 1,.3 1,-.2 1,-.3 1,0 1,.3 1,-.1 1,-.6 1,.7 1,0 1,0 1,0 1,.1 1,-.9 1,.7 1,-.2 1,0 1,0 1,.4 1,-.1 1,-.6 1,.5 1,0 1,.2 1,0 1,-.1 1,-1 1,.9 1,.2 1,0 1,0 1,.2 1,0 1,-.2 1,-.1 1,-.8 1,.7 1,.2 1,-.3 1,.2 1,-.1 1,0 1,.1 1,-.3 1,.1 1,.4 1,-.2 1,.1 1,0 1,-.2 1,-.4 1,.4 1,.3 1,-.1 1,-.2 1,.3 1,-.8 1,.7 1,.1 1,-.2 1,.1 1,0 1,0 1,0 1,.1 1,-.1 1,-.3 1,-.1 1,-.3 1,-.2 1,.6 1,0 1,0 1,-1.1 1,1 1,.3 1,-.1 1,-.2 1,0 1,.3 1,0 1,0 1,-.2 1,.2 1,-.1 1,-.2 1,0 1,0 1,.2 1,-.8 1,-.3 1,.8 1,.4 1,.2 1,-.1 1,.1 1,-.1 1,-.1 1,0 1,-.2 1,-1.1 1,1.3 1,-.1 1,.1 1,.1 1,.2 1,-.3 1,.1 1,-.1 1,0 1,.3 1,-.2 1,.1 1,-.1 1,.1 1,-.1 1,0 1,-.6 1,.4 1,-.3 1,.1 1,.1 1,.1 1,.1 1,-.7 1,.7 1,0 1,0 1,-.8 1,.6 1,0 1,.2 1,0 1,-1.1 1,1 1,.2 1,-.1 1,.3 1,-.2 1,0 1,.1 1,-.2 1,.2 1,-.6 1,.6 1,-.3 1,.3 1,-.2 1,.2 1,-.1 1,0 1,.2 1,-.1 1,-.3 1,-.3 1,.3 1,.1 1,.2 1,0 1,-.1 1,0 1,-.2 1,-.1 1,.3 1,-.4 1,.1 1,.1 1,.2 1,0 1,-.1 1,-.5 1,0 1,.3 1,0 1,0 1,.1 1,-.1 1,.1 1,0 1,.3 1,0 1,-.2 1,-.6 1,.3 1,-.1 1,.4 1,-1.1 1,.9 1,-.2 1,-.8 1,.9 1,.1 1,.2 1,.1 1,-.3 1,.2 1,-.2 1,.1 1,.1 1,.1 1,0 1,-.1 1,0 1,-.2 1,.2 1,0 1,.1 1,-.1 1,-.2 1,0 1,-.4 1,.3 1,.1 1,0 1,-.3 1,.4 1,0 1,.1 1,0 1,.1 1,-.2 1,.2 1,-.1 1,-.1 1,.2 1,-.8 1,.5 1,.4 1,-.1 1,0 1,.1 1,-.2 1,.1 1,-1 1,1 1,-.3 1,.1 1,.2 1,0 1,-.1 1,0 1,0 1,0 1,.3 1,-.5 1,.5 1,-.1 1,-.1 1,-.5 1,.5 1,.1 1,-.7 1,.2 1,.5 1,0 1,-.8 1,.7 1,-.1 1,.1 1,.1 1,0 1,.1 1,-.1 1,0 1,-.8 1,.6 1,.3 1,-.3 1,.3 1,-.1 1,0 1,-1.4 1,1.1 1,.1 1,-.1 1,0 1,.1 1,.1 1,0 1,.1 1,.1 1,-.3 1,.1 1,-.1 1,.2 1,-.9 1,.7 1,.2 1,-.1 1,-.1 1,0 1,-.3 1,-.1 1,.1 1,0 1,.1 1,0 1,0 1,-.2 1,.3 1,0 1,.2 1,0 1,-.4 1,-.1 1,.5 1,0 1,-.1 1,-.1 1,.1 1,-.1 1,0 1,.1 1,-.3 1,.4 1,0 1,0 1,-.4 1,.5 1,0 1,-.3 1,0 1,.2 1,-1.1 1,1 1,.2 1,0 1,0 1,-.1 1,-.1 1,0 1,.2 1,.1 1,-.3 1,-.8 1,.7 1,.1 1,.2 1,-.3 1,-.2 1,.3 1,0 1,-.1 1,-.1 1,.3 1,0 1,-.2 1,.3 1,-.1 1,-.1 1,.2 1,-.2 1,-.5 1,.6 1,0 1,-.1 1,0 1,-.4 1,.6 1,-.1 1,0 1,0 1,.1 1,-.1 1,-.1 1,0 1,-.2 1,.2 1,-.2 1,.1 1,-.2 1,.3 1,-.1 1,.2 1,-.1 1,-.2 1,.2 1,-.1 1,-.4 1,.4 1,-.1 1,-.1 1,-.1 1,0 1,0 1,-.2 1,.5 1,0 1,.1 1,-.1 1,0 1,.2 1,.1 1,0 1,-.2 1,.1 1,-.8 1,.8 1,.2 1,-.3 1,0 1,-.4 1,.5 1,-.1 1,-.5 1,.2 1,0 1,-.2 1,.7 1,-.5 1,-.2 1,.4 1,0 1,.2 1,.1 1,-.4 1,-.3 1,.4 1,.1 1,-.2 1,.2 1,.1 1,.1 1,-.1 1,0 1,0 1,-.2 1,.1 1,.2 1,-.1 1,0 1,0 1,-.2 1,-.2 1,-.1 1,-.1 1,.5 1,-.2 1,0 1,-.7 1,1.1 1,.1 1,-.1 1,-.4 1,.2 1,-.2 1,.1 1,.2 1,.2 1,-.1 1,-1 1,1 1,-.2 1,-.1 1,.1 1,0 1,0 1,-.8 1,.7 1,-.2 1,0 1,-.1 1,.5 1,-.3 1,.1 1,.1 1,-.1 1,-.5 1,.2 1,.2 1,-.1 1,.2 1,-.8 1,1 1,-.2 1,.1 1,-.4 1,.1 1,.2 1,-.3 1,.2 1,.4 1,-.1 1,.1 1,.1 1,-.5 1,-.8 1,1.2 1,0 1,-1 1,.5 1,.3 1,0 1,-.1 1,.2 1,.1 1,-.6 1,.4 1,0 1,.3 1,-.1 1,0 1,.1 1,0 1,0 1,-.3 1,0 1,0 1,.1 1,0 1,-.1 1,-.2 1,0 1,0 1,.1 1,.1 1,0 1,-.3 1,.5 1,-.3 1,.2 1,.1 1,-.3 1,.2 1,.1 1,0 1,-.2 1,0 1,-.2 1,-.3 1,.4 1,-.2 1,.2 1,.1 1,-.1 1,0 1,-.1 1,.1 1,-.1 1,.2 1,.2 1,.1 1,-.3 1,0 1,-.1 1,.1 1,.3 1,-.5 1,.1 1,.2 1,-.3 1,0 1,.1 1,.2 1,-.1 1,0 1,-.6 1,.5 1,.1 1,-.5 1,.6 1,0 1,-.1 1,.1 1,.1 1,-.1 1,-.1 1,.1 1,-.4 1,-.2 1,.3 1,-.7 1,1 1,-.2 1,-.1 1,.3 1,.1 1,-.2 1,0 1,.1 1,.2 1,-.6 1,.6 1,-.2 1,.2 1,-.4 1,0 1,-.2 1,.3 1,-.2 1,0 1,.2 1,-1.1 1,1.1 1,-.1 1,0 1,.1 1,-.1 1,.2 1,0 1,0 1,.1 1,-.1 1,-.1 1,.1 1,.1 1,-.2 1,.2 1,-.1 1,0 1,-.3 1,.1 1,-.2 1,-.7 1,.9 1,-.2 1,.2 1,-.1 1,0 1,.1 1.5,-.3 0,5.6 -1.5,.3 -1,.1 -1,0 -1,.1 -1,.2 -1,-.7 -1,.1 -1,-.1 -1,.3 -1,-.4 -1,.2 -1,-.2 -1,.1 -1,.3 -1,-.1 -1,.1 -1,-.1 -1,-.1 -1,.5 -1,.6 -1,-1 -1,.1 -1,.3 -1,-.4 -1,0 -1,-.1 -1,.2 -1,-.1 -1,.9 -1,-.8 -1,-.3 -1,0 -1,0 -1,0 -1,.1 -1,-.3 -1,1.1 -1,-.8 -1,.8 -1,-1 -1,.1 -1,0 -1,.5 -1,-.2 -1,0 -1,.1 -1,0 -1,-.2 -1,.1 -1,-.1 -1,.7 -1,-1.1 -1,0 -1,.1 -1,0 -1,.4 -1,.1 -1,0 -1,-.2 -1,.2 -1,.1 -1,-.1 -1,-.1 -1,.4 -1,-.5 -1,.2 -1,.8 -1,-.8 -1,0 -1,0 -1,-.2 -1,.2 -1,-.2 -1,0 -1,.4 -1,-.5 -1,-.1 -1,.2 -1,-.1 -1,.1 -1,0 -1,-.2 -1,.4 -1,.2 -1,-.3 -1,.1 -1,-.1 -1,.1 -1,-.1 -1,-.2 -1,0 -1,.3 -1,.1 -1,.4 -1,-.8 -1,-.2 -1,0 -1,0 -1,.4 -1,-.3 -1,.2 -1,-.1 -1,-.1 -1,1 -1,-.9 -1,.1 -1,-.1 -1,.1 -1,-.2 -1,.2 -1,0 -1,-.2 -1,-.1 -1,.2 -1,-.2 -1,1.2 -1,-.5 -1,-.3 -1,.4 -1,-.2 -1,-.1 -1,.2 -1,-.4 -1,.3 -1,-.3 -1,.2 -1,.1 -1,0 -1,.3 -1,.6 -1,-1 -1,0 -1,.1 -1,-.1 -1,-.2 -1,-.1 -1,.2 -1,-.2 -1,.1 -1,-.2 -1,.2 -1,-.3 -1,.1 -1,-.1 -1,0 -1,0 -1,.8 -1,-.7 -1,.5 -1,-.3 -1,.3 -1,-.3 -1,.3 -1,-.2 -1,.3 -1,0 -1,-.2 -1,-.3 -1,.1 -1,-.2 -1,.2 -1,-.1 -1,-.2 -1,.1 -1,-.1 -1,0 -1,.1 -1,-.1 -1,0 -1,.2 -1,-.3 -1,.1 -1,0 -1,-.1 -1,.2 -1,.4 -1,-.4 -1,-.1 -1,.2 -1,.1 -1,-.1 -1,0 -1,.8 -1,-.7 -1,-.1 -1,.2 -1,-.4 -1,.1 -1,0 -1,-.1 -1,.1 -1,-.1 -1,.6 -1,0 -1,-.3 -1,.2 -1,-.1 -1,.1 -1,.2 -1,.6 -1,-1.2 -1,.3 -1,-.2 -1,-.1 -1,.1 -1,0 -1,-.1 -1,.3 -1,-.3 -1,0 -1,.3 -1,.3 -1,-.4 -1,-.2 -1,.3 -1,-.3 -1,-.1 -1,1.3 -1,-1.3 -1,.1 -1,-.2 -1,.2 -1,.4 -1,-.4 -1,.8 -1,-.4 -1,-.1 -1,0 -1,0 -1,-.2 -1,.9 -1,-1 -1,0 -1,0 -1,.7 -1,-.9 -1,0 -1,.2 -1,.7 -1,-.2 -1,-.1 -1,-.3 -1,1 -1,-1 -1,.2 -1,-.3 -1,.2 -1,0 -1,-.1 -1,.3 -1,0 -1,-.1 -1,0 -1,0 -1,-.2 -1,.2 -1,-.2 -1,.3 -1,-.3 -1,.2 -1,.1 -1,0 -1,.1 -1,-.2 -1,.9 -1,-1 -1,.3 -1,-.2 -1,.1 -1,0 -1,-.2 -1,.1 -1,0 -1,.2 -1,-.2 -1,-.1 -1,.2 -1,-.2 -1,.1 -1,-.2 -1,-.2 -1,.1 -1,-.1 -1,.3 -1,-.2 -1,0 -1,.7 -1,-.5 -1,-.2 -1,.2 -1,.1 -1,-.2 -1,.1 -1,-.1 -1,-.1 -1,0 -1,.1 -1,-.2 -1,.4 -1,0 -1,-.4 -1,-.1 -1,.1 -1,.4 -1,-.2 -1,-.2 -1,.5 -1,-.3 -1,1 -1,-.8 -1,.9 -1,-.6 -1,-.1 -1,0 -1,-.2 -1,0 -1,0 -1,0 -1,.2 -1,-.5 -1,-.1 -1,.3 -1,-.1 -1,.6 -1,-.9 -1,0 -1,0 -1,.1 -1,.3 -1,-.2 -1,-.1 -1,-.1 -1,.2 -1,.2 -1,-.3 -1,.3 -1,-.3 -1,1.1 -1,-.7 -1,-.3 -1,.2 -1,-.2 -1,.1 -1,.5 -1,-.6 -1,.2 -1,-.2 -1,0 -1,.2 -1,0 -1,-.2 -1,0 -1,.4 -1,-.3 -1,-.1 -1,.2 -1,0 -1,0 -1,.1 -1,.1 -1,-.2 -1,0 -1,.2 -1,-.4 -1,.8 -1,-.8 -1,0 -1,.1 -1,0 -1,0 -1,.1 -1,.1 -1,-.2 -1,-.1 -1,0 -1,.4 -1,.1 -1,-.5 -1,-.1 -1,.1 -1,0 -1,-.1 -1,.2 -1,-.1 -1,1.3 -1,-1 -1,.3 -1,-.4 -1,.1 -1,.1 -1,.7 -1,-.8 -1,0 -1,-.2 -1,.1 -1,-.1 -1,-.2 -1,.6 -1,-.5 -1,-.2 -1,.1 -1,-.1 -1,.5 -1,-.2 -1,0 -1,-.3 -1,.1 -1,0 -1,.1 -1,0 -1,.1 -1,0 -1,.1 -1,.1 -1,.2 -1,-.3 -1,1 -1,-.6 -1,-.4 -1,0 -1,0 -1,-.1 -1,.1 -1,.7 -1,-.6 -1,-.3 -1,0 -1,0 -1,0 -1,.1 -1,.9 -1,-.7 -1,-.1 -1,0 -1,-.2 -1,.1 -1,-.1 -1,0 -1,0 -1,.1 -1,0 -1,.4 -1,-.5 -1,.2 -1,-.4 -1,0 -1,.3 -1,0 -1,0 -1,.1 -1,.2 -1,-.3 -1,0 -1,.1 -1,-.1 -1,-.3 -1,.1 -1,.1 -1,.1 -1,.8 -1,-.9 -1,0 -1,-.1 -1,.3 -1,-.1 -1,-.2 -1,0 -1,0 -1,.5 -1,-.1 -1,.3 -1,-.3 -1,0 -1,0 -1,.1 -1,.4 -1,-.2 -1,-.2 -1,-.1 -1,-.1 -1,-.1 -1,-.1 -1,.8 -1,-.8 -1,.2 -1,-.3 -1,.3 -1,-.4 -1,.1 -1,-.1 -1,.1 -1,.1 -1,-.1 -1,.2 -1,.8 -1,-.8 -1,0 -1,.4 -1,-.4 -1,0 -1,0 -1,.3 -1,-.1 -1,-.4 -1,.4 -1,0 -1,0 -1,-.2 -1,-.3 -1,.1 -1,0 -1,.1 -1,.1 -1,-.2 -1,.1 -1,-.1 -1,.4 -1,0 -1,-.1 -1,.8 -1,-.5 -1,-.3 -1,0 -1,0 -1,.1 -1,0 -1,-.2 -1,.1 -1,.1 -1,-.1 -1,-.2 -1,0 -1,0 -1,.1 -1,-.1 -1,.2 -1,.7 -1,-.7 -1,-.2 -1,-.1 -1,.3 -1,-.3 -1,0 -1,.3 -1,-.1 -1,-.2 -1,.2 -1,-.2 -1,.2 -1,.3 -1,-.1 -1,.3 -1,-.2 -1,-.2 -1,.1 -1,.7 -1,-.7 -1,.1 -1,-.2 -1,0 -1,-.2 -1,-.1 -1,.2 -1,-.1 -1,.1 -1,.1 -1,-.1 -1,0 -1,.2 -1,-.1 -1,-.1 -1,0 -1,-.1 -1,0 -1,.9 -1,-.9 -1,-.1 -1,.2 -1,0 -1,.4 -1,-.4 -1,.1 -1,0 -1,0 -1,-.2 -1,0 -1,-.1 -1,.3 -1,-.3 -1,.2 -1,.2 -1,-.1 -1,-.2 -1,.1 -1,.3 -1,-.3 -1,0 -1,-.3 -1,.1 -1,0 -1,.6 -1,-.4 -1,-.2 -1,0 -1,.3 -1,0 -1,-.2 -1,0 -1,.2 -1,-.2 -1,.2 -1,-.2 -1,0 -1,-.1 -1,0 -1,-.1 -1,.6 -1,-.3 -1,0 -1,-.1 -1,.9 -1,-1 -1,.2 -1,.3 -1,-.2 -1,0 -1,-.3 -1,0 -1,.1 -1,.2 -1,-.3 -1,.3 -1,-.4 -1,.1 -1,.5 -1,-.2 -1,0 -1,0 -1,.2 -1,-.3 -1,0 -1,.4 -1,-.4 -1,-.1 -1,.1 -1,0 -1,0 -1,-.3 -1,.4 -1,0 -1,-.1 -1,.2 -1,-.3 -1,-.1 -1,.4 -1,.6 -1,-.9 -1,.1 -1,-.1 -1,-.2 -1,.1 -1,.1 -1,.2 -1,-.2 -1,.3 -1,-.3 -1,.6 -1,-.5 -1,.2 -1,0 -1,0 -1,-.1 -1,0 -1,0 -1,0 -1,0 -1,.2 -1,-.2 -1,-.1 -1,.3 -1,-.2 -1,0 -1,-.1 -1,.8 -1,-.7 -1,0 -1,.3 -1,0 -1,-.3 -1,.1 -1,-.1 -1,.1 -1,-.3 -1,0 -1,-.1 -1,.1 -1,-.1 -1,.2 -1,-.1 -1,.7 -1,-.4 -1,0 -1,0 -1,0 -1,.3 -1,-.2 -1,-.5 -1,.1 -1,.3 -1,-.4 -1,0 -1,0 -1,0 -1,0 -1,0 -1,.2 -1,0 -1,-.1 -1,.4 -1,-.3 -1,.2 -1,-.1 -1,.1 -1,.1 -1,-.1 -1,-.1 -1,-.2 -1,.2 -1,-.2 -1,.5 -1,-.3 -1,.7 -1,-.7 -1,.2 -1,-.3 -1,.1 -1,-.1 -1,0 -1,-.1 -1,-.2 -1,.4 -1,-.3 -1,.4 -1,-.4 -1,.3 -1,-.2 -1,.2 -1,1 -1,.2 -1,-1.2 -1,-.1 -1,.1 -1,-.1 -1,.1 -1,-.3 -1,.2 -1,-.2 -1,0 -1,.1 -1,.1 -1,0 -1,-.1 -1,.2 -1,-.1 -1,-.1 -1,.1 -1,-.1 -1,.1 -1,.4 -1,-.5 -1,.1 -1,0 -1,.4 -1,.1 -1,-.4 -1,-.2 -1,.2 -1,-.2 -1,-.1 -1,.2 -1,-.2 -1,0 -1,0 -1,0 -1,.4 -1,-.3 -1,0 -1,0 -1,.2 -1,.2 -1,.1 -1,-.4 -1,.3 -1,0 -1,0 -1,0 -1,-.1 -1,.2 -1,-.2 -1,-.2 -1,.5 -1,-.3 -1,.3 -1,-.2 -1,-.3 -1,-.1 -1,.2 -1,.2 -1,-.2 -1,-.1 -1,.1 -1,0 -1,.1 -1,.3 -1,-.4 -1,.1 -1,-.1 -1,0 -1,0 -1,-.3 -1,-.1 -1,.1 -1,.5 -1,-.2 -1,.2 -1,.1 -1,-.2 -1,0 -1,-.2 -1,.1 -1,-.1 -1,-.1 -1,0 -1,-.1 -1,.3 -1,-.2 -1,0 -1,.1 -1,.1 -1,-.1 -1,.5 -1,-.7 -1,.3 -1,-.1 -1,.4 -1,-.1 -1,-.3 -1,.2 -1,-.1 -1,-.2 -1,-.1 -1,.4 -1,-.4 -1,0 -1,0 -1,0 -1,0 -1,.3 -1,-.3 -1,.5 -1,-.3 -1,.1 -1,.2 -1,0 -1,-.1 -1,-.1 -1,0 -1,.1 -1,.3 -1,.1 -1,-.6 -1,.1 -1,-.1 -1,.3 -1,.4 -1,-.6z"/>
<path fill="#000000" d="M137.5,322.4l1,-.4 1,.3 1,.2 1,-.4 1,0 1,-.3 1,0 1,.5 1,-.2 1,.2 1,.1 1,-.7 1,.3 1,0 1,-.2 1,.2 1,0 1,-.3 1,.3 1,.1 1,.1 1,-.1 1,-.4 1,.6 1,0 1,-.1 1,.2 1,-.1 1,-.1 1,.1 1,0 1,0 1,0 1,-.2 1,-.4 1,.6 1,-.2 1,.4 1,0 1,0 1,0 1,-.2 1,.2 1,-.2 1,0 1,-.8 1,.9 1,0 1,0 1,-.1 1,.1 1,-.2 1,.1 1,-.2 1,.2 1,-.7 1,.8 1,-.2 1,-1 1,.6 1,-.8 1,.9 1,.2 1,.2 1,-.1 1,-.4 1,.3 1,0 1,-.2 1,.5 1,0 1,-.3 1,.4 1,-.5 1,0 1,.4 1,.1 1,-.1 1,-.1 1,.1 1,-.1 1,0 1,-.2 1,0 1,.1 1,-.8 1,1.1 1,-.3 1,-.3 1,-.1 1,.4 1,.1 1,.1 1,.1 1,-.4 1,.1 1,.1 1,0 1,.1 1,-.1 1,0 1,.2 1,-.3 1,-.4 1,.5 1,.1 1,.1 1,0 1,0 1,-.1 1,-.1 1,.2 1,0 1,-.3 1,.1 1,0 1,.1 1,-.2 1,.1 1,-.4 1,.4 1,0 1,0 1,0 1,.1 1,.1 1,-.3 1,.3 1,-.2 1,.1 1,-.2 1,0 1,.3 1,-.2 1,.2 1,0 1,-.2 1,-.9 1,.4 1,.4 1,.2 1,-1 1,.8 1,-.3 1,.1 1,0 1,-.9 1,.7 1,-.1 1,0 1,-.1 1,.3 1,.4 1,0 1,-.3 1,.1 1,.1 1,-.1 1,-.2 1,.1 1,0 1,-.2 1,.4 1,-.3 1,.2 1,.2 1,-.3 1,-.7 1,.9 1,-.1 1,-.1 1,-.3 1,.4 1,0 1,0 1,-.2 1,-.1 1,.3 1,0 1,.2 1,0 1,0 1,0 1,.1 1,.1 1,-.1 1,-.1 1,.1 1,-1 1,1 1,-.9 1,.9 1,-.1 1,0 1,0 1,0 1,-.2 1,0 1,.1 1,-.7 1,.6 1,.1 1,0 1,0 1,-.1 1,-.2 1,.2 1,-.2 1,.1 1,-.3 1,.4 1,-.3 1,.1 1,-.1 1,.3 1,.2 1,.2 1,-.2 1,.2 1,-.3 1,0 1,.2 1,-.5 1,-.1 1,.6 1,-.4 1,.4 1,-.2 1,0 1,0 1,.1 1,-1.2 1,1 1,-.3 1,.4 1,-.1 1,-.2 1,0 1,.3 1,-.2 1,-.1 1,.1 1,-.2 1,.3 1,0 1,-.6 1,.8 1,0 1,.1 1,.1 1,-.1 1,.1 1,-.2 1,0 1,.2 1,-.3 1,-.2 1,-.2 1,.3 1,.1 1,-.9 1,1 1,-.2 1,.1 1,.1 1,-.1 1,.1 1,-.4 1,.3 1,-.1 1,.1 1,-.1 1,0 1,-.1 1,-1 1,1.2 1,-.3 1,-.3 1,.3 1,.3 1,0 1,.1 1,.1 1,-.7 1,.4 1,0 1,.2 1,.1 1,-.4 1,.3 1,0 1,-.7 1,.9 1,-.6 1,.5 1,-.4 1,.1 1,.2 1,0 1,.1 1,-1 1,.7 1,.2 1,-.2 1,.3 1,.1 1,-.1 1,-.7 1,.4 1,.3 1,-.3 1,.3 1,-.6 1,.3 1,0 1,0 1,0 1,0 1,-.1 1,.1 1,.2 1,-.4 1,.1 1,0 1,.2 1,.1 1,0 1,-.1 1,-.4 1,-.4 1,.8 1,.2 1,0 1,-.2 1,0 1,-.1 1,.2 1,0 1,-.6 1,.2 1,0 1,.1 1,.2 1,0 1,-.1 1,0 1,.3 1,0 1,0 1,-.8 1,.4 1,.4 1,-.2 1,0 1,-1.1 1,1 1,0 1,-.5 1,.3 1,0 1,.1 1,0 1,.2 1,0 1,.1 1,-.1 1,-.1 1,.1 1,.1 1,-.4 1,-.8 1,1.2 1,-.3 1,.3 1,.1 1,-.3 1,.3 1,-.1 1,0 1,-.2 1,-.1 1,.2 1,0 1,-.1 1,.1 1,-.2 1,0 1,.1 1,-.2 1,.3 1,-.1 1,-.1 1,.1 1,.2 1,-.5 1,.2 1,0 1,.3 1,.1 1,-.3 1,-.5 1,.6 1,.3 1,-.8 1,.5 1,0 1,0 1,-.1 1,.1 1,-1.3 1,.7 1,.3 1,-.1 1,.2 1,0 1,-.1 1,.3 1,-.9 1,-.1 1,1.2 1,0 1,.1 1,-.1 1,-.1 1,.1 1,-.1 1,0 1,-.1 1,.2 1,-.4 1,.5 1,0 1,-.4 1,.2 1,.1 1,-.2 1,-.1 1,-.6 1,.8 1,-.7 1,.6 1,.1 1,-.2 1,0 .7,.3 0,5.2 -.7,.9 -1,-.7 -1,.1 -1,-.2 -1,.1 -1,.2 -1,-.2 -1,-.1 -1,-.1 -1,.2 -1,-.2 -1,-.1 -1,0 -1,.1 -1,-.3 -1,.2 -1,0 -1,.1 -1,0 -1,.1 -1,.2 -1,-.2 -1,0 -1,.3 -1,-.3 -1,.1 -1,.2 -1,-.3 -1,0 -1,-.2 -1,0 -1,.2 -1,-.2 -1,.8 -1,-.7 -1,-.1 -1,-.2 -1,.6 -1,-.6 -1,.2 -1,-.1 -1,.9 -1,-.9 -1,.5 -1,-.4 -1,0 -1,.1 -1,.1 -1,.9 -1,-.9 -1,-.2 -1,.1 -1,-.3 -1,.1 -1,.3 -1,-.3 -1,0 -1,.2 -1,-.1 -1,0 -1,-.2 -1,.2 -1,.1 -1,.7 -1,-.7 -1,-.1 -1,-.3 -1,.8 -1,-.5 -1,.1 -1,.2 -1,-.5 -1,.4 -1,-.1 -1,-.3 -1,.2 -1,0 -1,.7 -1,-.1 -1,-.6 -1,-.1 -1,.4 -1,.1 -1,-.4 -1,0 -1,.4 -1,-.5 -1,.3 -1,.1 -1,-.3 -1,0 -1,.1 -1,-.1 -1,-.2 -1,1.3 -1,-.9 -1,.1 -1,0 -1,.1 -1,-.2 -1,-.3 -1,.3 -1,0 -1,-.2 -1,-.1 -1,.2 -1,0 -1,-.1 -1,.1 -1,.1 -1,-.3 -1,0 -1,0 -1,.5 -1,-.4 -1,0 -1,.2 -1,-.1 -1,0 -1,.2 -1,.1 -1,-.5 -1,0 -1,-.1 -1,.3 -1,0 -1,-.3 -1,.3 -1,0 -1,-.2 -1,0 -1,.2 -1,-.2 -1,1.1 -1,-.9 -1,-.2 -1,.2 -1,.1 -1,-.1 -1,.2 -1,-.2 -1,1 -1,-.9 -1,-.1 -1,-.1 -1,-.1 -1,0 -1,-.1 -1,.2 -1,-.2 -1,0 -1,.3 -1,-.2 -1,0 -1,0 -1,.1 -1,-.1 -1,0 -1,.1 -1,-.1 -1,.1 -1,-.1 -1,.2 -1,.1 -1,-.1 -1,-.3 -1,-.1 -1,.1 -1,.2 -1,0 -1,-.1 -1,0 -1,1 -1,-.8 -1,.2 -1,-.2 -1,.1 -1,-.1 -1,.4 -1,.7 -1,-1.1 -1,.3 -1,-.3 -1,-.1 -1,.2 -1,-.1 -1,.1 -1,.2 -1,-.3 -1,.1 -1,.1 -1,-.1 -1,.1 -1,-.2 -1,.3 -1,-.4 -1,.1 -1,0 -1,-.2 -1,.4 -1,-.3 -1,0 -1,.8 -1,-.5 -1,-.2 -1,-.1 -1,.3 -1,.1 -1,-.4 -1,.2 -1,.1 -1,-.2 -1,0 -1,0 -1,-.1 -1,-.1 -1,.1 -1,.7 -1,-.6 -1,-.1 -1,-.2 -1,.2 -1,-.2 -1,.2 -1,-.2 -1,.3 -1,-.2 -1,-.1 -1,.6 -1,-.6 -1,.1 -1,0 -1,.2 -1,-.3 -1,0 -1,.1 -1,0 -1,-.1 -1,.1 -1,.2 -1,.1 -1,.2 -1,-.2 -1,.1 -1,-.2 -1,-.1 -1,.2 -1,-.1 -1,.1 -1,-.1 -1,.2 -1,0 -1,.1 -1,-.4 -1,.3 -1,-.4 -1,.2 -1,0 -1,.1 -1,-.1 -1,.1 -1,0 -1,.1 -1,-.2 -1,0 -1,-.1 -1,.1 -1,.3 -1,-.3 -1,-.2 -1,0 -1,.3 -1,.3 -1,-.4 -1,0 -1,0 -1,-.1 -1,.2 -1,-.2 -1,-.2 -1,0 -1,0 -1,.1 -1,.2 -1,.1 -1,-.1 -1,-.3 -1,.2 -1,.7 -1,-.7 -1,.2 -1,-.1 -1,0 -1,-.1 -1,.4 -1,-.3 -1,-.2 -1,-.1 -1,.1 -1,.1 -1,-.3 -1,.2 -1,0 -1,-.1 -1,.3 -1,-.1 -1,-.2 -1,0 -1,.1 -1,.3 -1,-.3 -1,.2 -1,-.2 -1,.1 -1,.3 -1,-.1 -1,0 -1,-.3 -1,.2 -1,-.1 -1,.2 -1,.1 -1,-.4 -1,.2 -1,-.1 -1,.2 -1,-.2 -1,-.1 -1,-.1 -1,.1 -1,.2 -1,1.1 -1,-1.2 -1,.3 -1,.5 -1,-.2 -1,-.4 -1,.1 -1,-.2 -1,.1 -1,.9 -1,-1.1 -1,.2 -1,.8 -1,-.9 -1,.2 -1,-.4 -1,.2 -1,-.3 -1,.1 -1,.4 -1,-.5 -1,.4 -1,-.3 -1,0 -1,-.1 -1,.2 -1,-.3 -1,.3 -1,-.1 -1,0 -1,.1 -1,-.2 -1,0 -1,.2 -1,.4 -1,-.1 -1,0 -1,-.4 -1,0 -1,.3 -1,.2 -1,0 -1,.2 -1,-.4 -1,-.2 -1,.2 -1,0 -1,-.2 -1,.3 -1,-.4 -1,-.1 -1,0 -1,.5 -1,-.2 -1,-.3 -1,.2 -1,-.3 -1,.1 -1,0 -1,.7 -1,-.5 -1,.1 -1,-.2 -1,-.1 -1,.1 -1,.1 -1,-.3 -1,.2 -1,0 -1,0 -1,.1 -1,.1 -1,.1 -1,0 -1,-.1 -1,.3 -1,-.2 -1,.2 -1,0 -1,.8 -1,-1.3 -1,.5 -1,.6 -1,-1 -1,.3 -1,-.3 -1,0 -1,-.2 -1,.1 -1,.2 -1,.1 -1,-.2 -1,.1 -1,.2 -1,-.4 -1,-.1 -1,0 -1,.1 -1,.2 -1,-.4 -1,.5 -1,-.2 -1,0 -1,.1 -1,.2 -1,-.3 -1,-.3 -1,.4 -1,.2 -1,-.5 -1,.1 -1,0 -1,-.1 -1,.1zM586.6,340.1l1,-.4 1,-1.3 1,.4 1,-.1 1,-.5 1,-.5 1,-.6 1,-.1 1,-.8 1,.1 1,-.1 1,-.6 1,-.5 1,-1 1,.2 1,-.1 1,-.6 1,0 1,-.3 1,-.3 1,-.1 1,-.5 1,0 1,-.3 1,-.1 1,-.1 1,-.2 1,-.2 1,-.9 1,.5 1,-.3 1,-.2 1,-.2 1,-.4 1,-.1 1,-.2 1,-.1 1,-.1 1,-.3 1,-.5 1,-.3 1,.3 1,-.1 1,-.1 1,-.8 1,.4 1,-.3 1,0 1,-.2 1,-.6 1,.4 1,-.3 1,.2 1,-.2 1,-.1 1,-.6 1,.4 1,-.4 1,0 1,-.3 1,.2 1,-.1 1,-.2 1,-.3 1,-.1 1,.1 1,-.1 1,-.1 1,0 1,-.2 1,0 1,.1 1,-.2 1,-.1 1,-.3 1,.3 1,-.1 1,-.2 1,0 1,0 1,-.1 1,-.2 1,-.2 1,-.7 1,.8 1,-.3 1,.3 1,0 1,0 1,-.1 1,-.1 1,-.1 1,-.3 1,0 1,.2 1,-.2 1,-.3 1,.3 1,-.1 1,-.2 1,-.2 1,-.2 1,-.1 1,.5 1,-.1 1,0 1,0 1,.1 1,0 1,-.1 1,-.2 1,.1 1,.1 1,-.4 1,.4 1,0 1,.1 1,-.9 1,.6 1,0 1,-.8 1,.8 1,.2 1,-.1 1,-.6 1,.3 1,-.1 1,-.1 1,.3 1,-.7 1,.4 1,-.2 1,.2 1,-.1 1,.2 1,.2 1,-.7 1,.7 1,-.1 1,-.4 1,.4 1,-.2 1,-.1 1,-.2 1,-.1 1,.2 1,0 1,-.1 1,.1 1,0 1,-.1 1,-.2 1,.3 1,-.7 1,.6 1,-.1 1,.2 1,.1 1,-.2 1,0 1,.1 1,0 1,.2 1,-.2 1,0 1,.1 1,0 1,-.1 1,.1 1,.1 1,-.4 1,-.6 1,.7 1,.2 1,-1.2 1,.2 1,.8 1,0 1,-.1 1,-.2 1,.3 1,-.3 1,.3 1,-.2 1,.1 1,.1 1,-1 1,.8 1,-.1 1,-.2 1,.1 1,.1 1,0 1,-.8 1,.7 1,-.3 1,.6 1,.1 1,-.7 1,.3 1,.4 1,-.1 1,-.4 1,.2 1,.3 1,.1 1,-.2 1,-.1 1,.2 1,-.2 1,-.3 1,.4 1,0 1,-.7 1,.5 1,.1 1,0 1,0 1,0 1,-.1 1,.2 1,-.3 1,.4 1,-.1 1,-.1 1,-.2 1,0 1,-.1 1,.1 1,.2 1,-.2 1,-.6 1,.5 1,0 1,.1 1,.3 1,-.3 1,.1 1,-.2 1,.2 1,-.3 1,0 1,.4 1,0 1,-.5 1,.3 1,.1 1,.1 1,.2 1,-.3 1,.2 1,-.1 1,-.1 1,.2 1,-.1 1,.1 1,.1 1,0 1,0 1,-.1 1,0 1,0 1,-.9 1,1 1,-.2 1,.1 1,-.2 1,.1 1,-1 1,.9 1,.1 1,0 1,-.2 1,.2 1,-.3 1,.2 1,0 1,0 1,.3 1,0 1,0 1,-.3 1,.1 1,.2 1,-.1 1,-.2 1,-.1 1,.2 1,-.1 1,.2 1,0 1,-.1 1,-.1 1,.2 1,.1 1,-.1 1,-.2 1,.3 1,0 1,-.3 1,.1 1,.2 1,-.3 1,-.6 1,.7 1,.2 1,-.3 1,0 1,0 1,-.1 1,.2 1,.1 1,-.4 1,.3 1,-1.1 1,.9 1,0 1,.2 1,0 1,-.8 1,.7 1,.3 1,-.5 1,.5 1,-.8 1,.7 1,-.6 1,.3 1,.1 1,.1 1,-.1 1,0 1,.1 1,0 1,-.4 1,0 1,-.7 1,.8 1,.2 1,.1 1,-.4 1,-.4 1,.4 1,.3 1,.1 1,-.1 1,-.1 1,-.2 1,.2 1,.1 1,.3 1,-1.1 1,1 1,0 1,-.7 1,.1 1,.5 1,.1 1,-.2 1,-.2 1,-.2 1,.3 1,.3 1,0 1,.1 1,0 1,-1 1,.6 1,-.1 1,0 1,-.1 1,.2 1,-.2 1,.1 1,0 1,-.9 1,.9 1,0 1,0 1,-.2 1,.3 1,-.4 1,.6 1,0 1,-.8 1,.3 1,.6 1,0 1,-.2 1,-.4 1,.7 1,-.1 1,-.2 1,.1 1,-.2 1,.1 1,-.1 1,.2 1,-.1 1,-.3 1,.1 1,.2 1,0 1,-.1 1,0 1,.1 1,-.3 1,.4 1,.1 1,0 1,-.2 1,-.3 1,.2 1,-.8 1,.6 1,.2 1,0 1,0 1,-.6 1,.6 1,-1 1,1 1,-.6 1,.5 1,-.2 1,.2 1.4,.1 0,5.9 -1.4,.5 -1,-.9 -1,.1 -1,.1 -1,0 -1,0 -1,.1 -1,.2 -1,-.3 -1,.1 -1,0 -1,-.1 -1,-.1 -1,.2 -1,.4 -1,-.9 -1,.2 -1,.1 -1,-.1 -1,-.1 -1,-.1 -1,.3 -1,-.1 -1,-.3 -1,.3 -1,.6 -1,-.6 -1,.1 -1,-.1 -1,.9 -1,-1.1 -1,.3 -1,.2 -1,.4 -1,-.8 -1,.2 -1,-.3 -1,.2 -1,.3 -1,-.4 -1,.4 -1,-.3 -1,.1 -1,.1 -1,-.3 -1,.5 -1,-.3 -1,.2 -1,.1 -1,0 -1,-.2 -1,-.1 -1,-.2 -1,.2 -1,.4 -1,-.5 -1,.2 -1,-.2 -1,0 -1,-.3 -1,.2 -1,-.1 -1,-.1 -1,.4 -1,.1 -1,-.4 -1,1.3 -1,-.7 -1,-.6 -1,.1 -1,0 -1,0 -1,0 -1,0 -1,-.1 -1,1.3 -1,-1.2 -1,.3 -1,0 -1,.1 -1,.2 -1,-.4 -1,.2 -1,-.2 -1,0 -1,.9 -1,-1.1 -1,0 -1,.4 -1,-.3 -1,-.1 -1,0 -1,0 -1,.1 -1,-.1 -1,0 -1,0 -1,-.1 -1,.5 -1,-.1 -1,-.1 -1,-.4 -1,.1 -1,.1 -1,-.1 -1,0 -1,.3 -1,0 -1,-.2 -1,.3 -1,0 -1,-.3 -1,.5 -1,-.3 -1,-.1 -1,.2 -1,-.4 -1,.1 -1,-.2 -1,.2 -1,0 -1,0 -1,.4 -1,.1 -1,-.5 -1,0 -1,.1 -1,0 -1,.1 -1,.8 -1,-.1 -1,-.4 -1,-.3 -1,.1 -1,0 -1,.2 -1,-.1 -1,0 -1,-.1 -1,0 -1,-.1 -1,-.1 -1,.3 -1,.2 -1,-.4 -1,.7 -1,-.4 -1,0 -1,-.2 -1,-.2 -1,0 -1,.1 -1,.3 -1,-.3 -1,.2 -1,-.2 -1,.3 -1,-.3 -1,.1 -1,0 -1,0 -1,.2 -1,-.1 -1,-.2 -1,0 -1,-.3 -1,1.1 -1,-1 -1,0 -1,.2 -1,-.3 -1,.4 -1,.3 -1,-.1 -1,.1 -1,-.4 -1,0 -1,0 -1,-.1 -1,.4 -1,-.6 -1,0 -1,-.1 -1,.1 -1,0 -1,.1 -1,.4 -1,-.3 -1,.1 -1,.1 -1,-.1 -1,-.1 -1,0 -1,.1 -1,0 -1,-.2 -1,.2 -1,-.3 -1,.2 -1,-.1 -1,0 -1,-.1 -1,.2 -1,.1 -1,0 -1,-.3 -1,.4 -1,-.4 -1,.2 -1,-.2 -1,.2 -1,-.1 -1,-.2 -1,.2 -1,.5 -1,-.2 -1,0 -1,.1 -1,-.1 -1,.2 -1,.1 -1,-.3 -1,.1 -1,0 -1,-.2 -1,.2 -1,0 -1,.1 -1,0 -1,-.1 -1,0 -1,.1 -1,0 -1,-.1 -1,.2 -1,-.1 -1,.1 -1,0 -1,-.2 -1,0 -1,.1 -1,0 -1,.1 -1,-.3 -1,-.1 -1,.4 -1,-.3 -1,.1 -1,-.2 -1,.4 -1,-.1 -1,-.2 -1,.2 -1,0 -1,.4 -1,-.6 -1,-.2 -1,1 -1,-1.1 -1,0 -1,.2 -1,0 -1,0 -1,.3 -1,-.2 -1,0 -1,.6 -1,-.5 -1,-.1 -1,0 -1,.4 -1,-.4 -1,0 -1,.1 -1,.1 -1,0 -1,0 -1,.5 -1,-.4 -1,.3 -1,-.1 -1,0 -1,0 -1,-.2 -1,.2 -1,0 -1,-.3 -1,.2 -1,0 -1,.1 -1,.8 -1,-.9 -1,.1 -1,1.2 -1,-1.1 -1,-.2 -1,0 -1,0 -1,0 -1,0 -1,0 -1,-.1 -1,0 -1,1 -1,-.9 -1,0 -1,.8 -1,-.7 -1,.1 -1,0 -1,0 -1,.1 -1,.1 -1,0 -1,0 -1,.1 -1,-.1 -1,.2 -1,.4 -1,-.3 -1,0 -1,.4 -1,-.5 -1,.9 -1,-.5 -1,.2 -1,-.2 -1,.2 -1,0 -1,-.2 -1,-.2 -1,.2 -1,-.2 -1,.7 -1,-.4 -1,.3 -1,-.1 -1,-.1 -1,.4 -1,-.3 -1,.5 -1,-.4 -1,.1 -1,0 -1,.4 -1,-.1 -1,.1 -1,.3 -1,-.4 -1,.1 -1,.1 -1,.7 -1,-.1 -1,-.4 -1,.2 -1,-.1 -1,0 -1,.3 -1,.3 -1,0 -1,.6 -1,-.4 -1,-.1 -1,.3 -1,-.1 -1,.2 -1,-.1 -1,.1 -1,.5 -1,.4 -1,-.5 -1,.2 -1,.1 -1,-.2 -1,.3 -1,0 -1,.5 -1,-.1 -1,.6 -1,-.4 -1,.2 -1,.2 -1,.1 -1,.5 -1,-.2 -1,.6 -1,-.4 -1,.4 -1,0 -1,.5 -1,.1 -1,0 -1,.4 -1,.3 -1,.2 -1,.2 -1,.2 -1,.3 -1,.3 -1,.2 -1,.2 -1,.4 -1,0 -1,.6 -1,0 -1,.3 -1,.1 -1,.2 -1,.3 -1,.2 -1,.8 -1,0 -1,.3 -1,.6 -1,.3 -1,0 -1,1 -1,-.1 -1,.1 -1,1 -1,0 -1,.3 -1,.4 -1,.4 -1,.5 -1,.5 -1,.3z"/>
<path fill="#ff0000" d="M137.5,353.8l1,-.1 1,.2 1,-.4 1,.2 1,-.5 1,.3 1,.4 1,-.1 1,-.1 1,-.1 1,-.2 1,.6 1,-.2 1,0 1,.1 1,-.2 1,.2 1,0 1,-.1 1,-1.3 1,1.2 1,.1 1,.1 1,.1 1,-.1 1,0 1,-.4 1,.5 1,-.1 1,0 1,.1 1,-.1 1,0 1,.1 1,-.2 1,.1 1,.1 1,0 1,0 1,-.1 1,.1 1,-.9 1,0 1,.9 1,-.2 1,-.3 1,.2 1,.1 1,0 1,.1 1,0 1,-.5 1,.5 1,0 1,0 1,.1 1,0 1,-.1 1,-1.1 1,1.2 1,0 1,-.1 1,0 1,-.1 1,.1 1,-.2 1,.1 1,-.1 1,.2 1,-.2 1,.2 1,-.1 1,-.2 1,.1 1,.1 1,.2 1,-.2 1,0 1,.1 1,-.1 1,.1 1,-.2 1,.2 1,.1 1,-.1 1,.1 1,-.2 1,-.2 1,.1 1,-.5 1,.6 1,-.1 1,.1 1,0 1,.2 1,-.2 1,0 1,.2 1,-.4 1,.4 1,-1.3 1,1.2 1,-.1 1,.2 1,-.6 1,.3 1,-1.2 1,1.2 1,-.2 1,-.5 1,.5 1,0 1,-1 1,.9 1,-.3 1,.3 1,-.1 1,.1 1,.1 1,-1.1 1,1.5 1,-.2 1,.3 1,-.2 1,-.7 1,.9 1,0 1,-.1 1,-1.1 1,1.3 1,-.2 1,-.1 1,-.3 1,0 1,-.7 1,1 1,-1 1,1.1 1,0 1,0 1,.1 1,-.2 1,0 1,-.8 1,.7 1,.3 1,-.1 1,-.2 1,.2 1,.1 1,0 1,0 1,0 1,-.7 1,.6 1,-.1 1,-.2 1,.1 1,-.3 1,0 1,.2 1,.1 1,.2 1,-.4 1,.5 1,.1 1,-.2 1,.1 1,-.9 1,.9 1,0 1,-1.2 1,.8 1,-.1 1,0 1,.1 1,-.3 1,-.1 1,.3 1,-.2 1,0 1,.2 1,0 1,-.2 1,.1 1,.1 1,0 1,.1 1,-.1 1,-.2 1,-.1 1,.4 1,-.1 1,0 1,.2 1,0 1,-.1 1,-.1 1,-.2 1,.4 1,-.3 1,.3 1,-.6 1,.8 1,-.1 1,-.1 1,.1 1,-.4 1,.2 1,.1 1,.1 1,0 1,0 1,.1 1,.1 1,-.3 1,0 1,-.1 1,-.3 1,.5 1,-.3 1,.3 1,.1 1,-.3 1,-.1 1,.5 1,0 1,-.4 1,.3 1,.2 1,-.5 1,-.2 1,.5 1,-.2 1,-1 1,1.1 1,-.1 1,0 1,.2 1,-.1 1,.1 1,.1 1,-.2 1,.1 1,0 1,-.3 1,.1 1,-.2 1,.2 1,-.1 1,.1 1,-.3 1,.3 1,-.3 1,0 1,-.1 1,.2 1,.4 1,-.7 1,.6 1,-.1 1,.1 1,-.1 1,0 1,-.9 1,1 1,-.3 1,.4 1,0 1,.1 1,-.3 1,.2 1,.1 1,-.2 1,.1 1,-.3 1,-.7 1,.7 1,.1 1,-.1 1,-.3 1,.1 1,.3 1,0 1,.1 1,0 1,0 1,.1 1,0 1,-.2 1,.2 1,-1 1,.6 1,.2 1,0 1,0 1,.1 1,.1 1,-.5 1,.2 1,.2 1,0 1,.1 1,.1 1,-.2 1,0 1,-.1 1,.3 1,-.5 1,.3 1,-.1 1,0 1,.1 1,0 1,.1 1,.2 1,-.1 1,.1 1,-.1 1,-.5 1,.5 1,-.4 1,.1 1,-.3 1,.1 1,.1 1,-.1 1,.1 1,-.2 1,.3 1,.1 1,0 1,-.2 1,.1 1,-.1 1,.1 1,0 1,.1 1,-.4 1,-.1 1,.2 1,0 1,.2 1,.2 1,-.1 1,-.2 1,.1 1,-.2 1,-.6 1,.7 1,-.9 1,.9 1,.2 1,-.1 1,.1 1,-.1 1,.2 1,-.2 1,-.3 1,.5 1,0 1,-.6 1,.4 1,.1 1,-.1 1,0 1,.2 1,-.2 1,0 1,0 1,.3 1,-.2 1,-1 1,.8 1,-.8 1,.4 1,.6 1,-.1 1,-.1 1,-.1 1,.1 1,0 1,.1 1,0 1,.3 1,-.2 1,.2 1,0 1,-.2 1,-.1 1,.1 1,-.4 1,.5 1,-.1 1,-.3 1,-.6 1,.4 1,.3 1,.1 1,-.4 1,.3 1,-.2 1,.2 1,-.5 1,.5 1,.2 1,-.1 1,-.2 1,.1 1,-.1 1,-.2 1,.1 1,.3 1,-.5 1,.6 1,-.2 1,.3 1,-1 1,1.1 1,0 1,-.2 1,0 1,-.2 1,.1 1,0 1,-.1 1,-.4 1,-.2 1,.6 1,-.2 1,.4 1,0 1,-.1 1,-.1 1,0 1,.2 1,0 1,0 1,-.3 1,.2 1,0 1,.1 1,0 1,.2 1,0 1,-.3 1,.1 1,-.1 1,0 1,.1 1,0 1,-.1 1,-.2 1,.1 1,0 1,.2 1,-.2 1,-.2 1,.2 1,-.3 1,.1 1,.2 1,.1 1,-.2 1,.4 1,-.9 1,1 1,-.1 1,-.2 1,-.2 1,.3 1,.1 1,0 1,0 1,0 1,.1 1,-.2 1,-.2 1,.3 1,0 1,0 1,.2 1,-.4 1,.3 1,-.1 1,-.3 1,.2 1,.3 1,0 1,-.2 1,0 1,-.4 1,.5 1,-.2 1,.2 1,-.2 1,-.2 1,-.1 1,.2 1,.1 1,.1 1,-.4 1,.5 1,-1.3 1,.6 1,.7 1,-.1 1,-1 1,.3 1,.3 1,.2 1,0 1,.1 1,.1 1,-.1 1,-.1 1,-.1 1,.1 1,-.1 1,.2 1,-.4 1,.3 1,0 1,-.1 1,.2 1,0 1,0 1,-.1 1,0 1,.1 1,0 1,-.1 1,.1 1,0 1,-.1 1,.2 1,-.4 1,.2 1,0 1,-.2 1,-.3 1,.4 1,0 1,0 1,.1 1,-.1 1,-.2 1,.2 1,0 1,-.3 1,.3 1,-.1 1,.3 1,-.3 1,-.1 1,.4 1,-.1 1,-.6 1,.6 1,-.1 1,-.8 1,.9 1,-.4 1,0 1,.1 1,.3 1,-1.4 1,1.4 1,0 1,-.2 1,0 1,.1 1,.3 1,-.1 1,0 1,0 1,-.1 1,0 1,-.1 1,-.1 1,.1 1,0 1,0 1,0 1,-.2 1,.4 1,.1 1,-.3 1,.4 1,0 1,0 1,0 1,-.5 1,.5 1,-1.4 1,.6 1,.5 1,-.2 1,-.3 1,-.3 1,.7 1,.1 1,-.2 1,0 1,0 1,.3 1,-.4 1,.3 1,.1 1,-.1 1,0 1,0 1,.2 1,-.1 1,0 1,.2 1,-.3 1,.2 1,0 1,-.2 1,.1 1,-.8 1,.5 1,-.8 1,.7 1,0 1,.1 1,.4 1,-.1 1,0 1,-.2 1,.3 1,0 1,0 1,0 1,-.3 1,.3 1,.1 1,-.1 1,-.1 1,-.1 1,-.1 1,-.1 1,.3 1,-.1 1,-.1 1,.1 1,0 1,-.4 1,.5 1,-.1 1,-.4 1,.2 1,.1 1,0 1,-.2 1,-.8 1,1 1,-.1 1,-.3 1,.4 1,.1 1,.1 1,0 1,-.2 1,-.2 1,.2 1,-.1 1,0 1,-.2 1,.1 1,0 1,-.1 1,.4 1,0 1,-.1 1,.2 1,0 1,-.3 1,.2 1,.1 1,.2 1,-.2 1,0 1,-.2 1,.1 1,-.1 1,0 1,.1 1,0 1,-.3 1,-.4 1,.6 1,.1 1,-.1 1,0 1,0 1,-.1 1,-.2 1,.4 1,-.1 1,-.2 1,.4 1,0 1,0 1,-1.2 1,1.2 1,-.4 1,.5 1,-.1 1,0 1,.1 1,.1 1,-.7 1,.6 1,.1 1,-.1 1,-.1 1,-.1 1,-.2 1,.1 1,-.3 1,.4 1,0 1,0 1,.1 1,.1 1,0 1,.1 1,-.3 1,-.2 1,.4 1,0 1,0 1,-.3 1,.2 1,-.1 1,.2 1,-.3 1,.5 1,-.7 1,.7 1,-.4 1,.1 1,.3 1,-.4 1,.1 1,.2 1,-.2 1,.2 1,-.1 1,-.1 1,.2 1,-.1 1,-.8 1,.9 1,0 1,-.2 1,-.1 1,.2 1,-.1 1,-.3 1,.2 1,-.1 1,-.1 1,-.6 1,1 1,-.2 1,0 1,.2 1,-.9 1,.7 1,0 1,0 1,-.2 1,.4 1,-.1 1,-.2 1,.3 1,-.2 1,.1 1,-.3 1,-.7 1,.7 1,.1 1,.1 1,0 1,0 1,-.1 1,.1 1,0 1,0 1,0 1,-.7 1,.6 1,.2 1,-.2 1,.3 1,-.3 1,.2 1,0 1,.2 1,-.3 1,0 1,0 1,0 1,.1 1,-.5 1,.4 1,-.3 1,.2 1,.2 1,.1 1,.1 1,-1 1,1 1,-.2 1,.1 1,-.1 1,.2 1,-.5 1,.3 1,-.1 1,0 1,-.7 1,.7 1,-.1 1,.1 1,-.1 1,-.3 1,.2 1,.1 1,-.2 1,-.1 1,.1 1,.1 1,.2 1,.2 1,-.9 1,-.1 1,1 1,-.1 1,.1 1,0 1,-1.2 1,.8 1,.4 1,-.2 1,.1 1,-.3 1,.2 1,0 1,0 1,.1 1,-.1 1,.1 1,-.2 1,.1 1,-.1 1,.4 1,.1 1,-.4 1,.3 1,-.1 1,-.1 1,.1 1,0 1,-.4 1,.3 1,0 1,0 1,-.5 1,.3 1,.1 1,0 1.5,0 0,5.5 -1.5,-.3 -1,.5 -1,-.1 -1,.4 -1,-.4 -1,-.2 -1,-.1 -1,.3 -1,-.1 -1,0 -1,.1 -1,.1 -1,-.4 -1,0 -1,-.1 -1,0 -1,.6 -1,-.6 -1,-.1 -1,.4 -1,-.2 -1,.2 -1,-.3 -1,.2 -1,.2 -1,-.3 -1,0 -1,.2 -1,-.2 -1,0 -1,-.2 -1,.2 -1,0 -1,1 -1,-.6 -1,-.3 -1,.4 -1,-.4 -1,-.1 -1,.2 -1,.1 -1,-.3 -1,.1 -1,-.2 -1,1.1 -1,-.9 -1,-.1 -1,-.1 -1,.1 -1,.1 -1,.1 -1,.1 -1,.1 -1,-.1 -1,.1 -1,.2 -1,-.1 -1,-.1 -1,.3 -1,-.4 -1,0 -1,.3 -1,-.4 -1,0 -1,0 -1,-.1 -1,-.1 -1,-.1 -1,.2 -1,-.1 -1,-.1 -1,.1 -1,.2 -1,-.1 -1,.1 -1,-.1 -1,.1 -1,.1 -1,.2 -1,-.1 -1,0 -1,-.1 -1,-.2 -1,0 -1,-.1 -1,0 -1,.1 -1,.2 -1,-.4 -1,0 -1,.1 -1,-.2 -1,.1 -1,.1 -1,.3 -1,-.5 -1,.1 -1,-.1 -1,0 -1,.3 -1,-.1 -1,.1 -1,-.1 -1,.1 -1,.3 -1,0 -1,-.3 -1,.1 -1,.1 -1,-.1 -1,0 -1,.2 -1,-.1 -1,0 -1,.3 -1,-.5 -1,0 -1,-.2 -1,.1 -1,-.1 -1,.5 -1,-.4 -1,0 -1,-.2 -1,.2 -1,0 -1,.2 -1,.5 -1,-.7 -1,.2 -1,.2 -1,-.2 -1,-.1 -1,.3 -1,-.3 -1,0 -1,-.3 -1,.3 -1,-.1 -1,-.1 -1,-.1 -1,.8 -1,-.7 -1,.2 -1,-.1 -1,.1 -1,.4 -1,.1 -1,-.3 -1,-.1 -1,.1 -1,-.1 -1,0 -1,0 -1,.3 -1,-.4 -1,-.2 -1,0 -1,-.1 -1,.5 -1,-.4 -1,.2 -1,.6 -1,.3 -1,-.9 -1,.1 -1,.1 -1,-.2 -1,0 -1,-.1 -1,.3 -1,-.1 -1,-.1 -1,.2 -1,-.1 -1,-.1 -1,-.1 -1,.1 -1,.1 -1,.2 -1,-.2 -1,0 -1,.3 -1,-.3 -1,.1 -1,-.3 -1,.1 -1,.1 -1,-.1 -1,-.3 -1,0 -1,0 -1,.4 -1,0 -1,-.3 -1,0 -1,.1 -1,.1 -1,0 -1,.1 -1,-.1 -1,.5 -1,-.6 -1,0 -1,0 -1,.2 -1,-.2 -1,.2 -1,-.2 -1,.4 -1,-.1 -1,-.1 -1,0 -1,0 -1,-.1 -1,.4 -1,-.4 -1,.1 -1,.3 -1,0 -1,-.4 -1,0 -1,.4 -1,-.4 -1,-.1 -1,.1 -1,-.2 -1,1.1 -1,.3 -1,-1 -1,0 -1,-.2 -1,.1 -1,.4 -1,-.5 -1,.1 -1,-.2 -1,.1 -1,-.1 -1,0 -1,.2 -1,-.2 -1,0 -1,0 -1,-.2 -1,.1 -1,.1 -1,.4 -1,-.4 -1,.1 -1,-.1 -1,.1 -1,.2 -1,.6 -1,-1.1 -1,.3 -1,.2 -1,-.3 -1,-.2 -1,.1 -1,0 -1,.2 -1,-.3 -1,.1 -1,.1 -1,-.1 -1,.6 -1,-.5 -1,0 -1,.1 -1,0 -1,.2 -1,-.1 -1,0 -1,.1 -1,.9 -1,-1.1 -1,0 -1,.1 -1,.9 -1,-.4 -1,-.5 -1,.1 -1,-.2 -1,.1 -1,.3 -1,-.2 -1,-.1 -1,0 -1,-.3 -1,.2 -1,-.3 -1,0 -1,.3 -1,0 -1,-.3 -1,.6 -1,-.3 -1,-.1 -1,0 -1,.4 -1,-.2 -1,-.2 -1,.6 -1,-.1 -1,-.4 -1,-.1 -1,.3 -1,-.2 -1,-.1 -1,.3 -1,-.1 -1,.1 -1,-.1 -1,0 -1,.2 -1,.1 -1,-.2 -1,0 -1,-.1 -1,-.1 -1,-.2 -1,0 -1,.1 -1,0 -1,-.2 -1,.3 -1,-.3 -1,0 -1,.1 -1,0 -1,-.1 -1,.3 -1,.1 -1,.3 -1,-.4 -1,-.3 -1,0 -1,.3 -1,.2 -1,0 -1,.4 -1,-.3 -1,-.3 -1,.1 -1,1 -1,-1 -1,-.1 -1,0 -1,.1 -1,.1 -1,-.1 -1,0 -1,-.1 -1,.7 -1,-.6 -1,0 -1,0 -1,.4 -1,-.2 -1,0 -1,-.1 -1,.3 -1,-.2 -1,-.2 -1,.1 -1,.1 -1,-.1 -1,1 -1,-1 -1,-.2 -1,-.1 -1,.3 -1,-.3 -1,.1 -1,-.1 -1,-.1 -1,1.3 -1,-1.3 -1,.1 -1,.1 -1,.6 -1,-.3 -1,-.3 -1,.4 -1,-.4 -1,0 -1,-.1 -1,.2 -1,.1 -1,-.5 -1,.4 -1,-.3 -1,.1 -1,-.2 -1,.2 -1,.1 -1,.1 -1,.4 -1,-.5 -1,.1 -1,-.2 -1,0 -1,.1 -1,.9 -1,-1 -1,0 -1,-.2 -1,.1 -1,.5 -1,-.6 -1,.9 -1,-.7 -1,0 -1,-.2 -1,.2 -1,.3 -1,-.4 -1,.2 -1,-.3 -1,.1 -1,-.1 -1,0 -1,0 -1,0 -1,.2 -1,-.1 -1,.2 -1,-.2 -1,.3 -1,-.1 -1,.2 -1,-.2 -1,0 -1,0 -1,.2 -1,-.1 -1,0 -1,-.2 -1,0 -1,.2 -1,.4 -1,.1 -1,-.2 -1,-.4 -1,.1 -1,.2 -1,.7 -1,-.1 -1,-.9 -1,-.1 -1,.3 -1,-.2 -1,-.1 -1,0 -1,.4 -1,-.1 -1,-.3 -1,.1 -1,.1 -1,-.1 -1,.1 -1,0 -1,.1 -1,-.1 -1,-.2 -1,.7 -1,-.6 -1,.1 -1,-.2 -1,-.1 -1,.2 -1,-.1 -1,0 -1,-.2 -1,0 -1,0 -1,.2 -1,0 -1,-.1 -1,.2 -1,-.1 -1,-.2 -1,.1 -1,0 -1,.1 -1,-.1 -1,-.1 -1,.3 -1,0 -1,0 -1,1.3 -1,-1.3 -1,-.1 -1,.1 -1,-.1 -1,0 -1,-.1 -1,-.1 -1,.2 -1,.8 -1,-.9 -1,.1 -1,-.1 -1,.1 -1,-.2 -1,.2 -1,.6 -1,-.4 -1,-.2 -1,.2 -1,.1 -1,-.2 -1,.4 -1,-.2 -1,0 -1,.1 -1,.1 -1,-.3 -1,0 -1,.1 -1,0 -1,-.2 -1,-.1 -1,0 -1,-.1 -1,-.1 -1,.2 -1,-.2 -1,.3 -1,-.1 -1,0 -1,.1 -1,.1 -1,-.1 -1,0 -1,-.2 -1,-.1 -1,.1 -1,-.1 -1,.1 -1,.3 -1,.4 -1,-.4 -1,-.1 -1,-.3 -1,0 -1,.3 -1,0 -1,-.3 -1,1.3 -1,-1.1 -1,.1 -1,-.2 -1,.2 -1,-.1 -1,-.1 -1,.2 -1,0 -1,.2 -1,-.3 -1,0 -1,-.2 -1,.6 -1,-.2 -1,-.4 -1,0 -1,0 -1,.2 -1,0 -1,-.2 -1,.6 -1,-.4 -1,.1 -1,.1 -1,.1 -1,-.1 -1,-.2 -1,0 -1,-.1 -1,.2 -1,-.2 -1,.2 -1,-.1 -1,.1 -1,0 -1,.5 -1,-.3 -1,.2 -1,-.1 -1,-.2 -1,-.2 -1,0 -1,0 -1,.1 -1,.7 -1,-.7 -1,1.1 -1,-1.2 -1,.2 -1,-.1 -1,-.1 -1,.5 -1,-.3 -1,.3 -1,-.2 -1,.2 -1,-.2 -1,0 -1,-.1 -1,.3 -1,.7 -1,-1.1 -1,-.1 -1,.3 -1,0 -1,-.2 -1,.1 -1,.2 -1,-.2 -1,-.2 -1,.2 -1,-.2 -1,-.2 -1,.1 -1,0 -1,.4 -1,-.5 -1,.1 -1,.2 -1,-.3 -1,0 -1,.4 -1,-.1 -1,-.1 -1,0 -1,0 -1,0 -1,0 -1,-.1 -1,.2 -1,-.1 -1,-.1 -1,0 -1,.1 -1,0 -1,.2 -1,-.1 -1,.4 -1,-.4 -1,.1 -1,.8 -1,-.8 -1,.5 -1,-.7 -1,-.1 -1,0 -1,0 -1,.2 -1,-.2 -1,.1 -1,-.2 -1,.5 -1,-.5 -1,.2 -1,.1 -1,.1 -1,.1 -1,-.2 -1,.4 -1,-.2 -1,.2 -1,-.4 -1,.1 -1,-.2 -1,-.1 -1,.7 -1,-.5 -1,-.1 -1,.4 -1,-.4 -1,1.3 -1,-.8 -1,0 -1,-.1 -1,-.3 -1,.1 -1,0 -1,-.1 -1,.1 -1,.1 -1,-.2 -1,.5 -1,-.6 -1,0 -1,0 -1,-.1 -1,.2 -1,.2 -1,-.3 -1,.5 -1,-.2 -1,.1 -1,-.2 -1,.1 -1,0 -1,-.1 -1,.2 -1,-.2 -1,.3 -1,-.2 -1,-.2 -1,.2 -1,-.4 -1,.3 -1,.2 -1,-.2 -1,-.4 -1,.2 -1,.2 -1,.4 -1,-.5 -1,-.1 -1,-.2 -1,.2 -1,-.2 -1,.2 -1,-.2 -1,.1 -1,0 -1,.4 -1,-.3 -1,.2 -1,.8 -1,-1 -1,.4 -1,-.1 -1,-.2 -1,0 -1,.1 -1,.2 -1,-.4 -1,.2 -1,0 -1,.1 -1,.3 -1,-.5 -1,-.1 -1,0 -1,.1 -1,-.2 -1,.4 -1,-.3 -1,.1 -1,.2 -1,-.3 -1,.4 -1,.2 -1,-.3 -1,-.1 -1,.1 -1,0 -1,.1 -1,.1 -1,-.2 -1,-.1 -1,.3 -1,-.2 -1,-.1 -1,.2 -1,.1 -1,-.5 -1,.2 -1,-.1 -1,-.1 -1,.2 -1,-.1 -1,.4 -1,-.4 -1,.2 -1,-.1 -1,-.1 -1,0 -1,-.2 -1,.1 -1,.1 -1,-.2 -1,.5 -1,-.5 -1,.3 -1,-.4 -1,.1 -1,0 -1,.2 -1,.1 -1,-.3 -1,.1 -1,-.1 -1,.4 -1,-.2 -1,.7 -1,-.8 -1,-.2 -1,0 -1,.3 -1,-.2 -1,.1 -1,.3 -1,-.2 -1,0 -1,.3 -1,.2 -1,-.3 -1,0 -1,.1 -1,-.1 -1,-.3 -1,.1 -1,-.2 -1,-.1 -1,.1 -1,-.1 -1,.1 -1,-.1 -1,.1 -1,.4 -1,-.4 -1,0 -1,0 -1,0 -1,-.1 -1,.1 -1,.1 -1,.4 -1,.3 -1,-.8 -1,.2 -1,-.1 -1,-.1 -1,-.1 -1,.2 -1,.3 -1,-.3 -1,.1 -1,.4 -1,-.6 -1,0 -1,0 -1,.4 -1,-.3 -1,.1 -1,0 -1,0 -1,.1 -1,-.3 -1,-.1 -1,.9 -1,-.8 -1,.4 -1,-.1 -1,-.1 -1,-.1 -1,.3 -1,.5 -1,-.7 -1,1.1 -1,-1.1 -1,-.1 -1,.4 -1,-.3 -1,1.1 -1,-1.1 -1,-.1 -1,0 -1,.3 -1,-.3z"/>
<path fill="#0000ff" d="M137.5,385.1l1,-.3 1,-.5 1,.7 1,0 1,.1 1,-.3 1,.5 1,.1 1,0 1,-.2 1,.2 1,0 1,-.1 1,-.2 1,.1 1,0 1,-.1 1,0 1,.1 1,-.1 1,0 1,-.3 1,.5 1,-.1 1,.1 1,.1 1,-.2 1,-1 1,1 1,-.3 1,.2 1,-.5 1,.5 1,0 1,-.2 1,.2 1,-.1 1,.3 1,-1.1 1,1 1,.2 1,-.1 1,-.1 1,-.3 1,0 1,.1 1,.3 1,.2 1,-.3 1,0 1,.2 1,0 1,.2 1,-.3 1,.3 1,0 1,-.1 1,-1.2 1,1.1 1,.2 1,-.4 1,.2 1,0 1,-.8 1,.7 1,-.1 1,.1 1,.2 1,-.3 1,-.4 1,.6 1,-.2 1,.2 1,.1 1,-.4 1,.3 1,-.1 1,.1 1,-.2 1,-.9 1,1.3 1,-.3 1,.1 1,-.3 1,.2 1,-.1 1,.2 1,-.1 1,0 1,0 1,0 1,-.3 1,.1 1,.1 1,0 1,-.1 1,.2 1,-.4 1,-.5 1,.8 1,0 1,-.2 1,.1 1,0 1,-.6 1,.6 1,.2 1,-.4 1,.2 1,0 1,-.9 1,.9 1,-.1 1,.1 1,0 1,.1 1,-.3 1,-.3 1,.6 1,0 1,-.2 1,.1 1,.3 1,-.2 1,.1 1,.1 1,-.3 1,.2 1,-.2 1,.1 1,0 1,-.2 1,0 1,-.2 1,-.1 1,.1 1,.3 1,-.1 1,.2 1,-.1 1,-.6 1,.7 1,-.1 1,.1 1,-.7 1,.7 1,-.1 1,.1 1,0 1,.1 1,-.2 1,.5 1,0 1,-.2 1,-.2 1,.2 1,.2 1,-.7 1,.4 1,.3 1,-.1 1,-.5 1,.6 1,-.2 1,.1 1,-.7 1,.6 1,0 1,-.4 1,.2 1,-.2 1,.5 1,-.1 1,-.1 1,-.1 1,.1 1,-1 1,.9 1,.2 1,0 1,-.3 1,.1 1,.2 1,-.2 1,0 1,.2 1,-.1 1,-.2 1,.2 1,0 1,-1 1,1 1,0 1,-.2 1,-.2 1,.2 1,-.1 1,.4 1,-.3 1,.3 1,-.2 1,.1 1,0 1,0 1,.1 1,.1 1,0 1,-.3 1,.1 1,.1 1,.1 1,0 1,-.2 1,0 1,.2 1,-.6 1,.4 1,-1.1 1,1.3 1,0 1,-.2 1,.1 1,-.1 1,-.1 1,0 1,0 1,.2 1,-.7 1,.8 1,-.1 1,.1 1,-.3 1,-.2 1,.2 1,.2 1,-.7 1,.7 1,0 1,-.3 1,-.2 1,.3 1,.2 1,0 1,-.2 1,.1 1,.1 1,0 1,-.9 1,1 1,-.2 1,-.1 1,.1 1,-.1 1,.3 1,-.1 1,.1 1,.1 1,-.1 1,0 1,-.3 1,0 1,.1 1,-.3 1,.1 1,-.1 1,.1 1,-.1 1,.1 1,-.2 1,0 1,.2 1,0 1,.1 1,0 1,.2 1,.1 1,-.1 1,-.1 1,.2 1,.1 1,0 1,-.1 1,-.1 1,.1 1,-1.1 1,1.1 1,0 1,-.1 1,-1.2 1,.8 1,.2 1,-.3 1,.2 1,.2 1,-.7 1,.7 1,-.1 1,-.2 1,.2 1,.1 1,-.8 1,.5 1,.1 1,-.2 1,.1 1,.5 1,-.4 1,.3 1,-.2 1,-.1 1,.1 1,-.6 1,.3 1,.3 1,.1 1,0 1,-.1 1,.1 1,.2 1,-.4 1,.3 1,-.1 1,.1 1,-1.1 1,.6 1,.3 1,-.1 1,-.8 1,.9 1,-.2 1,.1 1,0 1,-.2 1,.3 1,.2 1,.1 1,0 1,-.3 1,-.5 1,.5 1,.4 1,-.2 1,.1 1,-.2 1,-.6 1,.6 1,-.2 1,.1 1,.1 1,.2 1,-.2 1,.2 1,.1 1,-.2 1,-.3 1,-.5 1,.8 1,0 1,-.6 1,.3 1,-.5 1,.3 1,-.3 1,.3 1,.1 1,.1 1,0 1,-.2 1,.2 1,-.1 1,.1 1,0 1,.3 1,-.2 1,.3 1,-.3 1,0 1,0 1,-.4 1,.2 1,0 1,-.1 1,0 1,0 1,-.9 1,1.1 1,-.2 1,0 1,0 1,.4 1,0 1,-.1 1,0 1,-.2 1,-.1 1,.3 1,-.1 1,-.1 1,0 1,-.8 1,.8 1,.1 1,0 1,-.1 1,.1 1,-.2 1,.3 1,0 1,0 1,-.4 1,.3 1,-1 1,1.2 1,-.4 1,.3 1,-.1 1,-.7 1,.6 1,.3 1,-.1 1,0 1,-.1 1,.1 1,-.2 1,.6 1,-.2 1,.2 1,-.2 1,.1 1,-.1 1,-.3 1,.1 1,.1 1,-.6 1,-.1 1,.6 1,.1 1,0 1,-.1 1,-1 1,-.3 1,1.2 1,.3 1,-.3 1,.1 1,-.3 1,.3 1,0 1,-.5 1,.1 1,.3 1,.1 1,-.1 1,-.1 1,.3 1,-.2 1,.2 1,.1 1,-1 1,.8 1,-.3 1,.2 1,0 1,.3 1,-.1 1,-.2 1,.1 1,0 1,.1 1,0 1,.2 1,-.2 1,0 1,-.1 1,0 1,-.3 1,.3 1,-.1 1,.1 1,-.2 1,.1 1,0 1,0 1,-.3 1,.6 1,-.2 1,.2 1,-.2 1,0 1,-.1 1,.2 1,.1 1,-1.3 1,.9 1,-.2 1,.1 1,-1.1 1,.3 1,1 1,0 1,0 1,0 1,.2 1,-1.1 1,1 1,.1 1,-.1 1,0 1,-.1 1,.1 1,.1 1,-.1 1,0 1,.2 1,-.2 1,-.8 1,.7 1,.2 1,0 1,0 1,0 1,-.1 1,-.5 1,.3 1,.1 1,0 1,.3 1,-.1 1,-.2 1,.3 1,0 1,0 1,.2 1,-.2 1,0 1,.1 1,-.7 1,.7 1,-.2 1,.3 1,-.3 1,-.3 1,-.1 1,.2 1,.3 1,-.3 1,.3 1,0 1,-.4 1,0 1,.1 1,.4 1,0 1,.1 1,-.1 1,-.5 1,.4 1,0 1,.2 1,-.1 1,-.9 1,.8 1,-.3 1,.3 1,-.2 1,-.2 1,0 1,.2 1,-.1 1,.1 1,-.1 1,.1 1,.1 1,-.1 1,0 1,.1 1,0 1,.1 1,-.1 1,-.3 1,.4 1,-.1 1,0 1,-.1 1,-.1 1,-.1 1,-.9 1,1.2 1,-.2 1,.2 1,-.1 1,0 1,.1 1,-1.1 1,.7 1,.2 1,0 1,-.1 1,.2 1,-.1 1,-.1 1,0 1,.2 1,0 1,-.8 1,.9 1,.1 1,0 1,-.2 1,.1 1,-.2 1,.2 1,0 1,.2 1,-.5 1,.2 1,.1 1,.1 1,-.2 1,.1 1,.2 1,-.1 1,0 1,-.1 1,0 1,0 1,-.1 1,-.1 1,.3 1,-.1 1,0 1,-.2 1,.3 1,0 1,-.4 1,0 1,.4 1,-.1 1,.3 1,0 1,0 1,-.6 1,.5 1,-.2 1,-.2 1,.4 1,-.4 1,.2 1,.1 1,.1 1,-.4 1,.4 1,-.2 1,.2 1,-.2 1,.2 1,-.1 1,0 1,-.4 1,.4 1,-.4 1,.2 1,.1 1,-1.2 1,1.1 1,-1.1 1,.9 1,0 1,.3 1,-.2 1,-.3 1,.1 1,.2 1,-.6 1,.5 1,.1 1,-.1 1,.1 1,.3 1,.1 1,-.2 1,-.8 1,.6 1,.3 1,.2 1,-.4 1,0 1,-.9 1,.9 1,.2 1,-.3 1,.3 1,0 1,.1 1,-1 1,1 1,-.1 1,-.2 1,.1 1,.1 1,-.1 1,-.2 1,.1 1,.2 1,.1 1,.1 1,-.3 1,.3 1,-.2 1,.1 1,0 1,-.2 1,0 1,.2 1,-.2 1,-.2 1,.4 1,-.2 1,.1 1,-.3 1,0 1,.3 1,-.1 1,-.2 1,.3 1,.1 1,0 1,0 1,0 1,-.2 1,.3 1,-.3 1,.1 1,-.4 1,0 1,.2 1,-.1 1,0 1,-.3 1,0 1,.3 1,0 1,0 1,.3 1,-.1 1,-.5 1,.4 1,-.9 1,.1 1,.9 1,0 1,.1 1,-.1 1,.1 1,.1 1,-.2 1,.1 1,-.2 1,0 1,.3 1,-.2 1,0 1,0 1,-.1 1,-.1 1,0 1,0 1,0 1,-.3 1,.1 1,0 1,0 1,-.1 1,.3 1,.3 1,-.1 1,.1 1,-.1 1,-.2 1,0 1,.3 1,-.1 1,-.4 1,.3 1,-.2 1,.2 1,.1 1,-.5 1,.5 1,-.7 1,.7 1,0 1,-.4 1,.2 1,.3 1,-.1 1,.2 1,-.4 1,-.1 1,.3 1,-.1 1,-.5 1,.8 1,-.1 1,0 1,-.2 1,-1.3 1,1.3 1,-.1 1,.1 1,-.4 1,.2 1,.1 1,0 1,.2 1,.1 1,.1 1,-.1 1,-.2 1,-.2 1,0 1,-.3 1,.4 1,0 1,-.1 1,0 1,-.1 1,-.4 1,.5 1,.2 1,.1 1,-.1 1,.2 1,.1 1,0 1,-.1 1,-.1 1,.1 1,-.1 1,0 1,-.1 1,.1 1,.1 1,-.1 1,0 1,0 1,.2 1,-.2 1,.2 1,0 1,-.6 1,.1 1,0 1,-.1 1,-.1 1,.4 1,-.2 1,0 1,-.1 1,.3 1,-.6 1,.7 1,-1.2 1,1.1 1,-.2 1,.4 1,-.1 1,0 1,0 1,-.1 1,-.7 1,.5 1,.2 1,-.2 1,-.2 1.5,.3 0,5.5 -1.5,.1 -1,.1 -1,-.2 -1,.4 -1,.4 -1,-.4 -1,0 -1,-.1 -1,-.1 -1,-.2 -1,.3 -1,-.2 -1,-.1 -1,.3 -1,-.4 -1,.1 -1,.3 -1,-.4 -1,0 -1,.4 -1,.1 -1,-.1 -1,.3 -1,-.7 -1,1.1 -1,-1 -1,0 -1,-.2 -1,.6 -1,-.7 -1,.2 -1,.1 -1,-.1 -1,-.1 -1,.3 -1,-.3 -1,0 -1,1.1 -1,-1 -1,-.2 -1,.5 -1,-.3 -1,0 -1,.1 -1,0 -1,.1 -1,-.2 -1,.1 -1,0 -1,.1 -1,-.2 -1,0 -1,0 -1,0 -1,.4 -1,-.3 -1,.1 -1,-.3 -1,-.1 -1,0 -1,.2 -1,0 -1,-.1 -1,.2 -1,-.1 -1,0 -1,0 -1,-.2 -1,.2 -1,0 -1,-.1 -1,.4 -1,-.1 -1,.3 -1,1 -1,-.7 -1,-.4 -1,.9 -1,-.9 -1,.3 -1,-.4 -1,.4 -1,-.5 -1,.2 -1,0 -1,-.1 -1,0 -1,0 -1,-.2 -1,.1 -1,1 -1,-.4 -1,-.8 -1,.3 -1,-.1 -1,-.1 -1,.1 -1,0 -1,.3 -1,-.2 -1,-.2 -1,.2 -1,-.2 -1,.1 -1,.9 -1,-1.1 -1,0 -1,.2 -1,-.1 -1,-.1 -1,.4 -1,-.2 -1,0 -1,.1 -1,-.1 -1,-.2 -1,.8 -1,-.9 -1,0 -1,.5 -1,-.5 -1,0 -1,0 -1,0 -1,-.1 -1,.2 -1,.2 -1,-.1 -1,0 -1,.1 -1,.1 -1,-.2 -1,0 -1,.1 -1,-.1 -1,-.1 -1,.2 -1,-.1 -1,.1 -1,0 -1,0 -1,0 -1,-.2 -1,.2 -1,-.2 -1,-.1 -1,.1 -1,-.2 -1,0 -1,.3 -1,.2 -1,-.2 -1,-.3 -1,.2 -1,0 -1,-.1 -1,-.1 -1,1.3 -1,-.8 -1,-.2 -1,-.1 -1,0 -1,0 -1,.3 -1,-.3 -1,0 -1,.4 -1,-.3 -1,0 -1,-.1 -1,.3 -1,.1 -1,-.3 -1,0 -1,0 -1,0 -1,-.2 -1,.1 -1,0 -1,-.2 -1,.3 -1,-.1 -1,.1 -1,.1 -1,-.2 -1,.8 -1,-.6 -1,.1 -1,0 -1,-.3 -1,-.1 -1,0 -1,0 -1,0 -1,.7 -1,-.3 -1,.5 -1,-.6 -1,-.1 -1,-.1 -1,.1 -1,0 -1,.1 -1,-.2 -1,.2 -1,.1 -1,-.3 -1,.2 -1,.1 -1,-.1 -1,-.3 -1,.2 -1,-.2 -1,.4 -1,-.3 -1,.5 -1,-.4 -1,.4 -1,-.5 -1,1 -1,-.9 -1,0 -1,.2 -1,.2 -1,-.7 -1,.2 -1,.1 -1,-.1 -1,1 -1,-.9 -1,-.1 -1,0 -1,.1 -1,0 -1,-.1 -1,.2 -1,-.2 -1,.3 -1,-.2 -1,-.3 -1,.3 -1,-.1 -1,0 -1,0 -1,.1 -1,-.1 -1,.4 -1,.1 -1,-.1 -1,-.4 -1,.1 -1,0 -1,-.1 -1,.1 -1,.4 -1,-.5 -1,.1 -1,.1 -1,.1 -1,-.3 -1,-.1 -1,.2 -1,-.3 -1,1 -1,-.8 -1,0 -1,-.1 -1,.2 -1,.8 -1,-.8 -1,-.3 -1,.2 -1,.3 -1,0 -1,.6 -1,-.9 -1,.2 -1,-.2 -1,.4 -1,-.2 -1,0 -1,-.2 -1,.1 -1,-.1 -1,.1 -1,-.1 -1,.4 -1,-.5 -1,.3 -1,0 -1,-.3 -1,.1 -1,0 -1,.3 -1,0 -1,-.3 -1,0 -1,.4 -1,-.1 -1,.1 -1,.8 -1,-1 -1,-.1 -1,.2 -1,-.2 -1,.3 -1,-.4 -1,-.1 -1,.6 -1,.5 -1,-.4 -1,-.3 -1,.6 -1,-.6 -1,.2 -1,0 -1,-.4 -1,-.1 -1,.3 -1,-.2 -1,.2 -1,-.2 -1,1.3 -1,-1.2 -1,0 -1,.1 -1,0 -1,.5 -1,-.9 -1,.1 -1,.1 -1,.3 -1,-.2 -1,.3 -1,0 -1,.3 -1,-.6 -1,.2 -1,-.1 -1,0 -1,0 -1,.4 -1,-.6 -1,-.2 -1,.1 -1,.1 -1,0 -1,0 -1,.3 -1,-.3 -1,.1 -1,-.2 -1,.2 -1,-.2 -1,0 -1,.2 -1,-.3 -1,.2 -1,0 -1,-.2 -1,-.1 -1,.1 -1,0 -1,-.1 -1,.7 -1,-.4 -1,.1 -1,-.1 -1,.3 -1,-.3 -1,.5 -1,0 -1,-.3 -1,.1 -1,0 -1,.1 -1,0 -1,0 -1,-.1 -1,.1 -1,-.1 -1,.5 -1,-.4 -1,-.2 -1,-.1 -1,-.1 -1,.1 -1,0 -1,.3 -1,-.4 -1,.3 -1,-.1 -1,-.1 -1,.4 -1,-.6 -1,0 -1,-.1 -1,0 -1,.1 -1,.1 -1,0 -1,0 -1,.4 -1,-.2 -1,-.3 -1,-.1 -1,-.1 -1,.2 -1,-.2 -1,.1 -1,-.1 -1,0 -1,.3 -1,.3 -1,-.2 -1,0 -1,.5 -1,-.5 -1,.1 -1,-.2 -1,0 -1,.1 -1,0 -1,.1 -1,-.3 -1,1.3 -1,-1.1 -1,-.2 -1,.3 -1,.1 -1,.1 -1,.2 -1,-.2 -1,-.1 -1,.2 -1,-.3 -1,.1 -1,-.1 -1,.7 -1,-.5 -1,-.2 -1,0 -1,.6 -1,-.9 -1,.2 -1,-.2 -1,.3 -1,.2 -1,-.1 -1,.2 -1,-.1 -1,.1 -1,.2 -1,-.5 -1,.1 -1,0 -1,0 -1,-.1 -1,-.4 -1,.3 -1,.3 -1,.6 -1,-.2 -1,-.7 -1,.1 -1,.1 -1,-.2 -1,.3 -1,-.2 -1,-.1 -1,-.2 -1,0 -1,.2 -1,-.2 -1,.4 -1,-.1 -1,-.1 -1,-.1 -1,.1 -1,.2 -1,-.1 -1,.3 -1,-.2 -1,-.2 -1,0 -1,.2 -1,.2 -1,-.2 -1,-.4 -1,0 -1,.1 -1,.2 -1,-.4 -1,0 -1,-.1 -1,.2 -1,.1 -1,-.1 -1,0 -1,0 -1,-.1 -1,0 -1,.2 -1,-.1 -1,.1 -1,.4 -1,-.1 -1,-.1 -1,-.1 -1,.7 -1,-.8 -1,.1 -1,-.3 -1,0 -1,0 -1,1 -1,-.7 -1,-.4 -1,.1 -1,.2 -1,.2 -1,-.2 -1,.3 -1,-.3 -1,.5 -1,-.1 -1,.3 -1,-.1 -1,-.4 -1,.2 -1,-.1 -1,.5 -1,-.6 -1,0 -1,0 -1,.3 -1,-.4 -1,-.1 -1,0 -1,0 -1,-.1 -1,.2 -1,0 -1,-.2 -1,-.1 -1,.4 -1,-.3 -1,.3 -1,0 -1,.6 -1,-.7 -1,-.1 -1,.9 -1,-.7 -1,0 -1,.1 -1,-.1 -1,-.3 -1,.3 -1,-.3 -1,.2 -1,-.3 -1,.3 -1,-.2 -1,.2 -1,0 -1,-.3 -1,0 -1,.1 -1,.1 -1,-.2 -1,.2 -1,.3 -1,-.3 -1,.1 -1,.4 -1,-.3 -1,0 -1,.4 -1,.1 -1,-.3 -1,.2 -1,-.4 -1,0 -1,0 -1,.3 -1,0 -1,-.3 -1,0 -1,.2 -1,-.1 -1,-.1 -1,-.1 -1,0 -1,.3 -1,.1 -1,-.2 -1,.1 -1,-.1 -1,-.2 -1,-.1 -1,0 -1,-.1 -1,0 -1,0 -1,-.1 -1,.4 -1,-.2 -1,-.3 -1,.1 -1,-.1 -1,.5 -1,-.1 -1,0 -1,.6 -1,-.1 -1,-.2 -1,-.1 -1,-.1 -1,.2 -1,-.3 -1,.2 -1,0 -1,-.2 -1,0 -1,.2 -1,-.1 -1,-.1 -1,.1 -1,.5 -1,-.4 -1,0 -1,-.2 -1,-.1 -1,.2 -1,-.3 -1,.7 -1,-.7 -1,1 -1,-.9 -1,0 -1,0 -1,0 -1,-.1 -1,0 -1,.3 -1,0 -1,-.1 -1,0 -1,-.1 -1,.1 -1,0 -1,.1 -1,.3 -1,-.3 -1,.4 -1,-.3 -1,-.1 -1,.1 -1,.3 -1,-.3 -1,-.1 -1,-.3 -1,-.1 -1,.2 -1,.1 -1,-.1 -1,0 -1,0 -1,1 -1,-.8 -1,.3 -1,-.2 -1,.5 -1,-.8 -1,-.1 -1,0 -1,-.1 -1,.9 -1,-.7 -1,.1 -1,.2 -1,-.2 -1,.1 -1,-.3 -1,.4 -1,-.3 -1,-.2 -1,.2 -1,0 -1,0 -1,-.2 -1,.1 -1,-.1 -1,.4 -1,0 -1,-.3 -1,-.1 -1,.2 -1,-.2 -1,.3 -1,-.3 -1,.5 -1,-.5 -1,0 -1,0 -1,.3 -1,.1 -1,-.3 -1,.2 -1,-.3 -1,.3 -1,0 -1,-.2 -1,.1 -1,-.2 -1,-.1 -1,.2 -1,.1 -1,0 -1,0 -1,.1 -1,-.1 -1,.1 -1,.8 -1,-.9 -1,.1 -1,-.2 -1,0 -1,.1 -1,.5 -1,.1 -1,-.2 -1,-.1 -1,-.4 -1,.3 -1,.3 -1,-.6 -1,.1 -1,.2 -1,-.1 -1,-.1 -1,-.2 -1,0 -1,.1 -1,0 -1,0 -1,0 -1,.7 -1,-.8 -1,.2 -1,-.1 -1,.1 -1,.1 -1,0 -1,0 -1,.3 -1,-.4 -1,.2 -1,.1 -1,-.3 -1,-.2 -1,.3 -1,.6 -1,-.8 -1,.1 -1,.1 -1,-.3 -1,.1 -1,-.1 -1,.5 -1,-.3 -1,-.1 -1,.1 -1,0 -1,.5 -1,-.4 -1,-.1 -1,.2 -1,.1 -1,.1 -1,-.2 -1,.1 -1,-.3 -1,0 -1,.4 -1,-.3 -1,-.1 -1,-.1 -1,.2 -1,-.2 -1,.1 -1,0 -1,.2 -1,-.2 -1,0 -1,.8 -1,-.5 -1,.1 -1,-.1 -1,0 -1,-.1 -1,-.2 -1,0 -1,-.1 -1,.1 -1,.1 -1,-.1 -1,.1 -1,-.2 -1,0 -1,0 -1,.2 -1,.2 -1,-.4 -1,.7 -1,-.4 -1,-.3 -1,-.1 -1,-.1 -1,.1 -1,.1 -1,.1 -1,-.2 -1,0 -1,.4 -1,-.1 -1,0 -1,0 -1,-.1 -1,.5 -1,-.5 -1,.2 -1,-.3 -1,.8 -1,.3 -1,-.9 -1,.4 -1,-.4 -1,0 -1,0 -1,0 -1,.4 -1,-.3 -1,-.2 -1,0 -1,0 -1,.1 -1,-.3 -1,.1 -1,0 -1,0 -1,0 -1,0 -1,0 -1,-.2 -1,1.3 -1,-1 -1,0 -1,.3 -1,-.2 -1,.4 -1,-.5 -1,-.1 -1,0 -1,.3 -1,-.3 -1,.1 -1,-.2 -1,.3 -1,.1 -1,-.2 -1,.3 -1,-.5 -1,.1 -1,0z"/>
<path fill="#008000" d="M137.5,416.9l1,0 1,.1 1,-.5 1,-.2 1,.7 1,-.2 1,.3 1,0 1,-.1 1,0 1,-.4 1,.2 1,.3 1,0 1,0 1,-.1 1,.1 1,-.3 1,.2 1,-.1 1,-.5 1,.5 1,.2 1,-.8 1,.7 1,-.2 1,-.5 1,.5 1,-.1 1,0 1,0 1,.2 1,-.3 1,-.1 1,.1 1,.1 1,.1 1,0 1,-.1 1,0 1,.1 1,-.2 1,-.1 1,-1.1 1,1.3 1,-.4 1,.3 1,.2 1,-1.1 1,0 1,.9 1,-.4 1,.6 1,-.3 1,.3 1,.1 1,-.2 1,0 1,-.5 1,.7 1,.1 1,-.1 1,-.2 1,-.8 1,.8 1,-.2 1,0 1,.3 1,-.4 1,0 1,.4 1,0 1,.1 1,.1 1,-.1 1,.1 1,-.1 1,.2 1,-.2 1,.1 1,0 1,-.1 1,.1 1,0 1,-.2 1,.1 1,-.5 1,.5 1,-.7 1,.7 1,-.3 1,.3 1,-.1 1,.1 1,-.2 1,.3 1,0 1,-.4 1,-.7 1,1.1 1,0 1,.1 1,-.3 1,.1 1,-.2 1,0 1,-.1 1,.2 1,0 1,.2 1,-.1 1,-.1 1,.1 1,-.3 1,.4 1,-.2 1,.2 1,-.3 1,.1 1,.1 1,.2 1,-.2 1,-.1 1,-.3 1,.3 1,-.1 1,-.1 1,.2 1,-.6 1,.5 1,-.2 1,-.1 1,.6 1,0 1,.1 1,0 1,-.2 1,.2 1,0 1,-.2 1,0 1,.1 1,0 1,-.6 1,.2 1,.1 1,0 1,-.1 1,.2 1,-.2 1,0 1,.2 1,.1 1,-.2 1,.3 1,-.6 1,-.5 1,-.2 1,.9 1,.2 1,.1 1,.2 1,-1.3 1,1.1 1,.1 1,-.3 1,.3 1,.1 1,-.1 1,0 1,0 1,0 1,.1 1,0 1,-.2 1,0 1,0 1,-.4 1,.5 1,0 1,-.1 1,-.3 1,-.1 1,.5 1,.1 1,-.1 1,-.8 1,.5 1,.2 1,-.5 1,.2 1,-.3 1,.1 1,-.2 1,.2 1,.2 1,.3 1,-.2 1,-.1 1,-.2 1,.2 1,-.3 1,.2 1,.1 1,-.3 1,.1 1,.1 1,.3 1,0 1,0 1,-.2 1,.2 1,.1 1,-.2 1,0 1,-.2 1,.2 1,.1 1,.1 1,-.1 1,.1 1,0 1,-.1 1,.1 1,0 1,-.2 1,-.1 1,0 1,-.7 1,.4 1,.3 1,.1 1,0 1,-.3 1,-.3 1,.9 1,-.2 1,.1 1,-.5 1,.6 1,.1 1,-.8 1,.4 1,.2 1,-.3 1,.2 1,-.1 1,.4 1,-.1 1,-1 1,.7 1,0 1,.1 1,0 1,0 1,-.3 1,.1 1,-.3 1,.4 1,-.4 1,.5 1,-.1 1,0 1,.1 1,0 1,0 1,.1 1,-.3 1,.1 1,.1 1,-.1 1,.2 1,-.2 1,0 1,.1 1,-.2 1,.1 1,-.2 1,.1 1,-.3 1,.1 1,.1 1,.1 1,-.1 1,.1 1,0 1,-.1 1,.1 1,.3 1,-.1 1,-.3 1,.2 1,.3 1,0 1,-.2 1,-.9 1,.9 1,-.2 1,-.3 1,-.4 1,.9 1,-.4 1,-.1 1,.4 1,-.1 1,.1 1,0 1,0 1,0 1,.2 1,-.1 1,0 1,.1 1,-.2 1,0 1,.2 1,.1 1,-.5 1,.4 1,0 1,-.3 1,0 1,.3 1,.1 1,-.1 1,-.1 1,0 1,-.2 1,.2 1,-.1 1,0 1,-1 1,-.3 1,1.4 1,-.2 1,0 1,0 1,.3 1,-.1 1,-.7 1,.7 1,-.1 1,-.7 1,.8 1,-.1 1,.2 1,.1 1,-.1 1,0 1,.1 1,0 1,-.1 1,-.2 1,-.2 1,.1 1,.1 1,-.2 1,-.8 1,1 1,-.3 1,-.1 1,-.7 1,-.1 1,.8 1,-.6 1,.6 1,.1 1,.5 1,0 1,-.1 1,-.3 1,.4 1,0 1,.1 1,0 1,-.6 1,.4 1,-.1 1,.3 1,-.1 1,-.4 1,-.1 1,.1 1,.2 1,0 1,-.8 1,1 1,-.5 1,.5 1,.1 1,-.1 1,.1 1,.1 1,-.8 1,.6 1,-.4 1,.1 1,.1 1,0 1,-.1 1,.1 1,.3 1,-.3 1,-.1 1,.1 1,.2 1,0 1,0 1,-.1 1,.3 1,-.2 1,0 1,.1 1,-.7 1,.7 1,-.2 1,-.1 1,.3 1,-.2 1,-.1 1,0 1,.1 1,.2 1,-.1 1,0 1,0 1,0 1,0 1,-.2 1,0 1,.2 1,-.1 1,.2 1,-.2 1,0 1,.1 1,-.2 1,-.1 1,-.3 1,.5 1,-.1 1,.1 1,-.2 1,.1 1,0 1,0 1,.2 1,-1.1 1,.9 1,.2 1,0 1,-.2 1,.3 1,-.1 1,-.1 1,.1 1,.1 1,0 1,-.1 1,-.2 1,-.1 1,0 1,.2 1,0 1,.1 1,-1.7 1,1.1 1,.6 1,.1 1,.1 1,-.3 1,.2 1,-.1 1,.1 1,-.1 1,.1 1,-.1 1,0 1,-.3 1,0 1,-.2 1,-.8 1,1 1,0 1,-1.2 1,.5 1,.5 1,.2 1,-.7 1,-.1 1,.9 1,-.3 1,.4 1,0 1,-.4 1,.4 1,-.4 1,.5 1,0 1,.1 1,-.1 1,-.1 1,-.1 1,-.1 1,.1 1,.3 1,-.4 1,.2 1,-.2 1,.3 1,-.5 1,.4 1,-.1 1,.3 1,-.1 1,.2 1,-.2 1,.1 1,.1 1,0 1,-.2 1,.1 1,.1 1,-.3 1,.1 1,.2 1,-.1 1,-.2 1,.3 1,-1.1 1,1 1,-1 1,.8 1,.3 1,-.1 1,-.1 1,-.5 1,.5 1,-.1 1,.1 1,-.3 1,0 1,-.5 1,.6 1,-.4 1,.4 1,0 1,.1 1,-.1 1,.2 1,-.1 1,-.1 1,0 1,0 1,.1 1,-.3 1,.2 1,-.1 1,.1 1,-.3 1,.1 1,.4 1,0 1,0 1,.1 1,-.4 1,.3 1,-.2 1,.4 1,-.2 1,.1 1,-.3 1,-.1 1,.1 1,.1 1,0 1,.1 1,.1 1,-.1 1,0 1,0 1,.1 1,0 1,0 1,-.1 1,.1 1,.1 1,-.3 1,-.1 1,.1 1,-.1 1,0 1,.1 1,-.2 1,0 1,.1 1,.1 1,-.2 1,.1 1,.1 1,-.1 1,-.1 1,0 1,.2 1,-.8 1,0 1,1 1,-1 1,.6 1,.5 1,-.1 1,-.9 1,.4 1,.2 1,.2 1,-.3 1,.1 1,0 1,-.1 1,.2 1,0 1,-.1 1,0 1,-.1 1,.1 1,-.5 1,.5 1,.2 1,-.6 1,.5 1,.1 1,.1 1,-.2 1,.1 1,-.1 1,-.6 1,.2 1,.7 1,-1 1,.8 1,.1 1,-.1 1,.2 1,-.2 1,-1.1 1,1.2 1,-.5 1,.6 1,0 1,-.1 1,0 1,.1 1,0 1,-.2 1,-.1 1,0 1,.3 1,-.2 1,0 1,-.1 1,-.3 1,.2 1,.4 1,-.3 1,0 1,.1 1,-.2 1,-1 1,1 1,-.2 1,.3 1,-.4 1,-.2 1,.2 1,.2 1,.1 1,-.1 1,.1 1,-.1 1,-.3 1,.1 1,.5 1,0 1,.2 1,-.2 1,.2 1,-.2 1,.1 1,.1 1,-.5 1,.3 1,-.1 1,-.1 1,.4 1,-.2 1,0 1,-.7 1,.5 1,-.5 1,.4 1,.1 1,-.7 1,.8 1,.1 1,-.1 1,.2 1,-.1 1,.2 1,-.1 1,.1 1,-.1 1,-.1 1,.2 1,-.1 1,-.3 1,-.2 1,.1 1,-.1 1,0 1,0 1,-.2 1,.1 1,.4 1,.2 1,0 1,0 1,0 1,0 1,.1 1,-.2 1,0 1,0 1,0 1,-.8 1,.8 1,-.1 1,-.7 1,.8 1,.1 1,.1 1,-.5 1,.4 1,-.1 1,.2 1,-.2 1,.1 1,-.2 1,-.5 1,.5 1,.1 1,.1 1,0 1,0 1,-.2 1,.2 1,-.9 1,.5 1,.2 1,-.5 1,.3 1,-.1 1,.1 1,.1 1,0 1,-.6 1,.8 1,.1 1,-.4 1,-.2 1,.4 1,-.1 1,.1 1,-.2 1,.3 1,-.1 1,.1 1,.1 1,-.3 1,.1 1,.1 1,-.2 1,-.1 1,.2 1,0 1,-.2 1,.2 1,0 1,.1 1,-.2 1,.2 1,0 1,.2 1,-1.2 1,1.1 1,-.1 1,.2 1,-.2 1,-.4 1,.2 1,.4 1,-.2 1,-.3 1,.3 1,-.3 1,-.1 1,.2 1,0 1,-.1 1,0 1,-.4 1,.6 1,.1 1,-.2 1,.2 1,.1 1,0 1,-.4 1,.2 1,.1 1,-.4 1,0 1,-.2 1,.1 1,.1 1,.2 1,-.3 1,.2 1,-.1 1,.1 1,.2 1,0 1,.2 1,-.1 1,.1 1,-.1 1,0 1,.1 1,-.2 1,.1 1,-.2 1,.1 1,-.1 1,-.1 1,.1 1,-.3 1,.4 1,.1 1,-.1 1,-.2 1,.3 1,-.2 1,-.4 1,.5 1,-.2 1,0 1,0 1,-.2 1,-.3 1,.6 1,.1 1,-.3 1,.3 1,-.4 1,0 1,.5 1,-.4 1,0 1,-.2 1,.1 1,.1 1,0 1,.1 1,.1 1,.1 1,-.3 1.5,.3 0,5.1 -1.5,.5 -1,-.3 -1,-.1 -1,.2 -1,-.2 -1,.3 -1,.2 -1,0 -1,-.2 -1,.3 -1,-.1 -1,-.2 -1,.3 -1,-.2 -1,-.3 -1,.2 -1,-.2 -1,0 -1,.1 -1,0 -1,.2 -1,-.1 -1,.3 -1,0 -1,-.3 -1,.7 -1,-.5 -1,-.3 -1,.9 -1,-1.1 -1,.9 -1,-.4 -1,-.6 -1,.2 -1,0 -1,.5 -1,-.3 -1,.3 -1,-.3 -1,.1 -1,0 -1,.2 -1,.2 -1,-.2 -1,-.3 -1,0 -1,.3 -1,-.6 -1,.6 -1,-.6 -1,.1 -1,1 -1,-.9 -1,.2 -1,-.1 -1,.2 -1,.1 -1,-.2 -1,.5 -1,-.6 -1,-.3 -1,.1 -1,.1 -1,.1 -1,-.4 -1,0 -1,.1 -1,.1 -1,0 -1,.3 -1,0 -1,0 -1,.1 -1,-.3 -1,-.1 -1,.2 -1,.1 -1,-.1 -1,-.1 -1,-.2 -1,.5 -1,0 -1,1.1 -1,-1.4 -1,0 -1,.3 -1,.1 -1,-.2 -1,-.3 -1,.1 -1,-.3 -1,.6 -1,-.6 -1,.2 -1,-.2 -1,.2 -1,.2 -1,-.3 -1,-.1 -1,.1 -1,.2 -1,-.2 -1,-.2 -1,.4 -1,-.3 -1,.4 -1,-.2 -1,.1 -1,.7 -1,-.3 -1,-.1 -1,0 -1,.3 -1,-.2 -1,-.3 -1,.9 -1,-.3 -1,-.7 -1,-.2 -1,.1 -1,1.2 -1,-1.3 -1,.1 -1,.1 -1,-.2 -1,-.1 -1,0 -1,0 -1,.1 -1,0 -1,0 -1,-.2 -1,.3 -1,.4 -1,-.1 -1,.7 -1,-.4 -1,-.4 -1,-.1 -1,.2 -1,.7 -1,-.9 -1,.1 -1,.9 -1,-.9 -1,.1 -1,-.2 -1,.5 -1,-.3 -1,.4 -1,-.6 -1,.1 -1,-.3 -1,.1 -1,.2 -1,-.3 -1,.1 -1,-.2 -1,.2 -1,1 -1,-.9 -1,-.2 -1,.1 -1,-.2 -1,0 -1,.2 -1,-.1 -1,-.1 -1,.2 -1,-.2 -1,.4 -1,-.3 -1,.3 -1,-.1 -1,-.1 -1,.1 -1,0 -1,-.1 -1,.2 -1,1.1 -1,-1.3 -1,0 -1,.4 -1,-.4 -1,-.1 -1,.3 -1,-.3 -1,-.1 -1,0 -1,.2 -1,-.2 -1,.2 -1,-.1 -1,.3 -1,0 -1,-.1 -1,0 -1,.1 -1,.9 -1,-.8 -1,.6 -1,-1 -1,.1 -1,0 -1,0 -1,-.2 -1,.1 -1,-.1 -1,.2 -1,-.1 -1,.3 -1,.2 -1,-.5 -1,.3 -1,-.4 -1,.4 -1,-.1 -1,-.2 -1,-.1 -1,.3 -1,-.3 -1,0 -1,.2 -1,0 -1,.3 -1,-.4 -1,.4 -1,0 -1,-.2 -1,.6 -1,-.5 -1,-.1 -1,-.1 -1,.4 -1,-.1 -1,-.2 -1,-.2 -1,.1 -1,.1 -1,.1 -1,0 -1,-.1 -1,.9 -1,-.8 -1,0 -1,-.2 -1,.3 -1,-.4 -1,-.1 -1,.2 -1,-.2 -1,1.4 -1,-1.1 -1,-.3 -1,.3 -1,.1 -1,0 -1,-.2 -1,.1 -1,.1 -1,.4 -1,-.3 -1,.2 -1,-.4 -1,.1 -1,.8 -1,-.9 -1,-.1 -1,-.2 -1,.2 -1,0 -1,-.1 -1,-.1 -1,0 -1,.1 -1,.1 -1,.2 -1,-.1 -1,-.1 -1,-.1 -1,0 -1,.2 -1,.7 -1,-.4 -1,0 -1,.8 -1,-.9 -1,.1 -1,0 -1,.4 -1,.8 -1,-1.2 -1,.2 -1,-.5 -1,.3 -1,-.1 -1,-.1 -1,0 -1,-.3 -1,0 -1,0 -1,.2 -1,-.1 -1,.3 -1,-.3 -1,0 -1,0 -1,.1 -1,.1 -1,0 -1,.1 -1,.1 -1,-.1 -1,-.1 -1,0 -1,.1 -1,-.2 -1,.4 -1,-.3 -1,.2 -1,-.1 -1,-.2 -1,0 -1,-.1 -1,-.1 -1,.1 -1,.1 -1,-.2 -1,.3 -1,-.4 -1,.1 -1,0 -1,0 -1,.3 -1,0 -1,-.2 -1,.2 -1,-.1 -1,.2 -1,-.1 -1,-.2 -1,0 -1,1 -1,-1 -1,-.1 -1,.1 -1,.5 -1,-.5 -1,0 -1,.1 -1,0 -1,.1 -1,0 -1,-.4 -1,.1 -1,0 -1,.1 -1,0 -1,.2 -1,.1 -1,-.2 -1,0 -1,.2 -1,-.1 -1,.1 -1,-.3 -1,-.1 -1,0 -1,-.1 -1,1 -1,-.9 -1,0 -1,0 -1,.3 -1,.5 -1,-.3 -1,.3 -1,-.2 -1,-.2 -1,.4 -1,-.1 -1,-.2 -1,0 -1,0 -1,0 -1,-.3 -1,0 -1,0 -1,.6 -1,-.5 -1,-.1 -1,.4 -1,-.5 -1,-.1 -1,0 -1,0 -1,.3 -1,.9 -1,-1.3 -1,.8 -1,-.4 -1,0 -1,-.2 -1,.1 -1,-.3 -1,.3 -1,0 -1,-.3 -1,0 -1,0 -1,0 -1,0 -1,.3 -1,.1 -1,.3 -1,-.3 -1,-.1 -1,-.1 -1,.3 -1,.2 -1,-.5 -1,-.1 -1,.1 -1,0 -1,0 -1,.2 -1,.2 -1,0 -1,-.1 -1,.1 -1,0 -1,.1 -1,-.3 -1,-.1 -1,.3 -1,-.3 -1,.1 -1,0 -1,-.3 -1,.7 -1,-.6 -1,.1 -1,.2 -1,-.3 -1,0 -1,0 -1,0 -1,-.1 -1,.2 -1,-.3 -1,.2 -1,-.2 -1,.1 -1,-.2 -1,.1 -1,0 -1,.3 -1,.1 -1,-.3 -1,.1 -1,.2 -1,.2 -1,-.4 -1,0 -1,.3 -1,-.2 -1,1 -1,-.8 -1,-.1 -1,.9 -1,-.9 -1,0 -1,.1 -1,-.1 -1,.2 -1,-.1 -1,-.1 -1,0 -1,0 -1,-.1 -1,.1 -1,0 -1,-.1 -1,.2 -1,-.1 -1,0 -1,.2 -1,1 -1,-.2 -1,-1 -1,-.1 -1,0 -1,.4 -1,-.2 -1,.1 -1,-.2 -1,-.3 -1,1.4 -1,-1.3 -1,.7 -1,-.7 -1,.1 -1,0 -1,0 -1,.1 -1,1 -1,-1.1 -1,.1 -1,-.2 -1,.1 -1,.2 -1,-.2 -1,-.2 -1,0 -1,.1 -1,.2 -1,0 -1,.8 -1,-1.1 -1,.1 -1,.1 -1,0 -1,0 -1,-.1 -1,-.1 -1,.2 -1,0 -1,0 -1,.1 -1,0 -1,.1 -1,-.2 -1,.1 -1,-.1 -1,.2 -1,0 -1,0 -1,-.2 -1,.3 -1,-.3 -1,-.1 -1,.2 -1,-.2 -1,.1 -1,.1 -1,0 -1,-.2 -1,.2 -1,.4 -1,-.5 -1,-.2 -1,.8 -1,-.5 -1,-.1 -1,-.1 -1,.1 -1,.1 -1,-.2 -1,.1 -1,.3 -1,-.3 -1,-.3 -1,.1 -1,-.1 -1,.2 -1,0 -1,-.1 -1,.1 -1,.2 -1,-.3 -1,.3 -1,-.1 -1,-.2 -1,0 -1,0 -1,0 -1,.2 -1,-.3 -1,.2 -1,.1 -1,.3 -1,.5 -1,-.7 -1,-.1 -1,-.2 -1,.2 -1,-.1 -1,-.2 -1,.3 -1,.4 -1,-.5 -1,.2 -1,-.2 -1,0 -1,.4 -1,-.6 -1,.6 -1,-.5 -1,.7 -1,.4 -1,-.8 -1,.1 -1,-.2 -1,1.1 -1,-1 -1,-.1 -1,.1 -1,.2 -1,-.3 -1,1.2 -1,-1.1 -1,.3 -1,-.4 -1,.1 -1,.8 -1,-1 -1,-.1 -1,.9 -1,-.5 -1,-.3 -1,.4 -1,-.5 -1,.1 -1,.7 -1,-.4 -1,-.1 -1,.4 -1,0 -1,-.6 -1,.1 -1,.2 -1,0 -1,0 -1,-.2 -1,0 -1,.1 -1,.1 -1,1.3 -1,-1.3 -1,-.2 -1,.3 -1,-.2 -1,-.2 -1,.1 -1,-.2 -1,.2 -1,-.2 -1,-.1 -1,0 -1,1.2 -1,-.9 -1,0 -1,-.1 -1,.3 -1,0 -1,-.3 -1,.1 -1,0 -1,.3 -1,-.5 -1,.2 -1,0 -1,.1 -1,0 -1,.5 -1,-.5 -1,.7 -1,-.1 -1,-.4 -1,-.2 -1,.1 -1,-.2 -1,.3 -1,-.2 -1,-.1 -1,-.1 -1,-.1 -1,.1 -1,0 -1,-.2 -1,0 -1,.2 -1,0 -1,.5 -1,-.4 -1,-.3 -1,.2 -1,0 -1,-.1 -1,.2 -1,.2 -1,-.4 -1,.1 -1,0 -1,.1 -1,.2 -1,-.2 -1,.4 -1,-.5 -1,.1 -1,0 -1,.2 -1,0 -1,-.2 -1,.1 -1,0 -1,-.1 -1,0 -1,.2 -1,-.2 -1,.1 -1,0 -1,-.2 -1,.2 -1,-.1 -1,.1 -1,.1 -1,-.1 -1,.1 -1,.4 -1,-.1 -1,.1 -1,-.5 -1,.8 -1,-.7 -1,-.1 -1,-.1 -1,1.2 -1,-1.2 -1,0 -1,-.2 -1,.1 -1,-.1 -1,-.1 -1,.1 -1,0 -1,1 -1,-1 -1,-.1 -1,-.1 -1,.2 -1,.1 -1,-.2 -1,.3 -1,-.1 -1,.1 -1,0 -1,.1 -1,.3 -1,-.5 -1,.2 -1,0 -1,1 -1,-.9 -1,0 -1,.8 -1,-.8 -1,-.2 -1,.3 -1,-.2 -1,-.2 -1,.1 -1,-.1 -1,.9 -1,-1.1 -1,0 -1,.1 -1,.9 -1,-.9 -1,-.1 -1,0 -1,0 -1,.1 -1,-.1 -1,0 -1,.1 -1,.1 -1,.1 -1,0 -1,0 -1,0 -1,0 -1,0 -1,.1 -1,-.2 -1,0 -1,.2 -1,-.2 -1,-.2 -1,.4 -1,-.3 -1,0 -1,0 -1,0 -1,.2 -1,-.2 -1,.1 -1,0 -1,.2 -1,-.2 -1,.1 -1,0 -1,0 -1,-.1 -1,0 -1,0 -1,-.1 -1,-.1 -1,0 -1,.3 -1,-.3 -1,0 -1,0 -1,-.1 -1,1.2 -1,-1.1 -1,.1 -1,.6 -1,-.2 -1,-.1 -1,-.1 -1,.2 -1,.4 -1,-.7 -1,.1 -1,0 -1,.1 -1,0 -1,0 -1,.2 -1,-.5 -1,1.3 -1,-1.3 -1,.1 -1,-.2 -1,.2 -1,.1 -1,1 -1,-.6 -1,-.2 -1,0 -1,.3 -1,-.6 -1,.1 -1,-.1 -1,.1 -1,.6 -1,-.7 -1,0 -1,-.1 -1,.2 -1,-.1 -1,-.2 -1,.1 -1,0 -1,.1 -1,.1 -1,-.1 -1,-.2 -1,0 -1,.3 -1,0 -1,-.2 -1,.1 -1,-.1 -1,.1 -1,.1 -1,-.1 -1,-.1 -1,1.1 -1,-.9 -1,-.1 -1,.5 -1,-.3 -1,-.1 -1,.2z"/>
<path fill="#000000" d="M137.5,448.3l1,.1 1,.1 1,-.2 1,-.1 1,-.5 1,.5 1,0 1,-.2 1,-.3 1,.7 1,.1 1,-.4 1,.3 1,-.2 1,-.5 1,.8 1,-.3 1,.1 1,-.8 1,.3 1,-.7 1,1.5 1,-.2 1,-.5 1,.6 1,-.1 1,0 1,-.4 1,.4 1,.2 1,-.3 1,0 1,.3 1,-.2 1,0 1,-.1 1,.1 1,-.2 1,.3 1,0 1,-.3 1,.1 1,-.1 1,.1 1,-.1 1,0 1,-.1 1,.2 1,-.1 1,-.7 1,.7 1,0 1,.2 1,-.1 1,-.1 1,.2 1,-.1 1,-.2 1,.2 1,.1 1,0 1,-.1 1,.1 1,-.2 1,.4 1,-.2 1,.2 1,-.1 1,-.3 1,-.2 1,.7 1,-.4 1,.3 1,-.3 1,-.2 1,.4 1,-.1 1,.1 1,.1 1,-.1 1,-.1 1,-.2 1,.2 1,0 1,-.2 1,-.2 1,.2 1,-.2 1,-.1 1,.2 1,-.8 1,1 1,.2 1,-.3 1,.2 1,0 1,0 1,-.1 1,-.1 1,-.2 1,.1 1,0 1,0 1,-.1 1,.4 1,-.1 1,.2 1,-.1 1,-.7 1,.8 1,-.1 1,.1 1,-.3 1,.1 1,.1 1,.1 1,-.1 1,.1 1,-.3 1,.1 1,-.1 1,-.2 1,-.9 1,1.2 1,-.3 1,.2 1,.4 1,0 1,.1 1,-.3 1,.2 1,-.1 1,0 1,-.1 1,.2 1,-.1 1,.1 1,-.2 1,-.1 1,.1 1,0 1,-.2 1,.2 1,-1.5 1,1.3 1,-.2 1,.2 1,.1 1,.1 1,-.1 1,-.1 1,0 1,.2 1,-.5 1,.4 1,-.7 1,.9 1,-.1 1,.1 1,-.7 1,-.4 1,.9 1,-.3 1,0 1,.1 1,0 1,.1 1,.1 1,.1 1,.2 1,0 1,-.1 1,.2 1,-.1 1,-.1 1,.1 1,-.1 1,-.3 1,-.1 1,.2 1,.3 1,-.2 1,-.2 1,-.1 1,0 1,-.3 1,.3 1,0 1,.3 1,0 1,.2 1,-.3 1,.2 1,0 1,.1 1,0 1,-.2 1,.1 1,-.1 1,-.2 1,-.9 1,.7 1,.3 1,-.1 1,-.6 1,.7 1,.1 1,0 1,-.2 1,.3 1,0 1,.1 1,0 1,-.6 1,-.3 1,.9 1,-.1 1,-.2 1,-.1 1,-.2 1,.2 1,0 1,-.1 1,-.8 1,.6 1,.3 1,.1 1,-.1 1,0 1,0 1,.2 1,-.5 1,.2 1,-.7 1,.8 1,-.3 1,.2 1,.1 1,.1 1,-.1 1,0 1,0 1,-.2 1,-.8 1,1.3 1,-.1 1,-.2 1,.1 1,0 1,.1 1,0 1,0 1,-.1 1,-.3 1,.6 1,.1 1,-.1 1,-.2 1,.1 1,0 1,.1 1,-.1 1,-.1 1,-.6 1,.3 1,-.2 1,.4 1,0 1,.2 1,0 1,-.1 1,0 1,.1 1,-.1 1,-.4 1,.5 1,-.1 1,0 1,-.1 1,.1 1,-.1 1,.2 1,0 1,0 1,.1 1,0 1,-.1 1,0 1,0 1,-.2 1,-.6 1,-.3 1,.8 1,0 1,0 1,-.1 1,.3 1,-.2 1,-.1 1,.3 1,.1 1,0 1,-.1 1,0 1,-.2 1,.3 1,-.1 1,0 1,-.1 1,-.1 1,.1 1,.2 1,0 1,-.3 1,.3 1,-.2 1,-.1 1,-.1 1,0 1,0 1,0 1,0 1,.1 1,-.3 1,.4 1,-.1 1,-.1 1,.4 1,0 1,-.1 1,.1 1,-.5 1,.1 1,.3 1,.1 1,-.2 1,.1 1,-.3 1,.1 1,.2 1,0 1,.1 1,-.1 1,-.4 1,.6 1,.1 1,-.3 1,0 1,.2 1,.1 1,-.3 1,-.1 1,.2 1,.1 1,-1.4 1,.9 1,.1 1,-1.1 1,1.1 1,.1 1,.3 1,-1.2 1,.9 1,.2 1,.1 1,-.3 1,-.1 1,.1 1,.2 1,-.2 1,-.1 1,-.1 1,.3 1,-.8 1,.9 1,.1 1,-.2 1,.1 1,0 1,-.1 1,.1 1,-.3 1,.2 1,.1 1,-.2 1,.2 1,.1 1,-.2 1,-.1 1,0 1,.1 1,-.4 1,.5 1,-1 1,.9 1,0 1,.1 1,-.1 1,-.1 1,-.9 1,.3 1,.4 1,-.2 1,.2 1,0 1,-.2 1,.3 1,-.1 1,0 1,0 1,.2 1,.3 1,-.1 1,-.1 1,.1 1,-.3 1,.3 1,.1 1,0 1,0 1,-.5 1,.3 1,.2 1,0 1,0 1,-.1 1,-.1 1,-.2 1,.4 1,-.2 1,-.1 1,0 1,-.2 1,.1 1,.1 1,.1 1,0 1,-.4 1,.4 1,.2 1,-.1 1,-.1 1,0 1,.2 1,0 1,0 1,-.1 1,-.2 1,0 1,.1 1,.1 1,-.9 1,.7 1,0 1,.1 1,0 1,-.1 1,.1 1,-.1 1,-.2 1,-.7 1,.8 1,.2 1,0 1,0 1,.3 1,-.5 1,-.1 1,.4 1,0 1,-.2 1,0 1,-.3 1,.4 1,-.2 1,.2 1,-.3 1,.4 1,0 1,-.1 1,-.5 1,.5 1,.3 1,0 1,-.1 1,-.1 1,0 1,-.2 1,.1 1,-.5 1,-.1 1,.4 1,.1 1,-.3 1,0 1,.2 1,-.1 1,.3 1,.1 1,-.2 1,.2 1,0 1,.1 1,-.5 1,.3 1,0 1,-.1 1,.1 1,-.2 1,0 1,-.9 1,1.1 1,0 1,0 1,-.1 1,0 1,-.2 1,.1 1,.2 1,0 1,-.2 1,-.4 1,-.1 1,.6 1,.1 1,-.3 1,-.6 1,.7 1,.3 1,-.1 1,.2 1,-.4 1,.2 1,.1 1,-.4 1,.3 1,.1 1,-.1 1,-.2 1,-.3 1,.3 1,.1 1,-1.2 1,1 1,-.1 1,-.1 1,.3 1,0 1,-.2 1,-1.5 1,1.2 1,.7 1,0 1,0 1,-.3 1,-.7 1,.9 1,.1 1,-.2 1,.2 1,0 1,0 1,0 1,-.3 1,.3 1,-.1 1,.1 1,0 1,0 1,.1 1,-.2 1,.4 1,-.2 1,-.2 1,0 1,.2 1,0 1,-.1 1,-.4 1,.1 1,-.6 1,.4 1,.2 1,0 1,-.5 1,-.2 1,1 1,-.2 1,-.7 1,.9 1,-.1 1,.1 1,-.3 1,.2 1,0 1,-.3 1,.3 1,-.7 1,.7 1,0 1,.1 1,-.2 1,.2 1,.1 1,-.1 1,.1 1,0 1,-.3 1,.4 1,-.3 1,.4 1,-.2 1,-.1 1,-1.3 1,1.1 1,0 1,0 1,0 1,-.1 1,-.1 1,.1 1,-.2 1,.2 1,.1 1,-.1 1,.1 1,0 1,0 1,.2 1,0 1,-.1 1,-.1 1,.2 1,0 1,-.3 1,.4 1,.1 1,-.1 1,.1 1,0 1,-.4 1,.2 1,-.7 1,.7 1,-1 1,1 1,0 1,0 1,-.3 1,.3 1,-.1 1,-.2 1,.4 1,.1 1,-.8 1,.7 1,-1.3 1,1.1 1,-.1 1,-.1 1,.2 1,-.1 1,-.1 1,.2 1,-.4 1,.3 1,-.1 1,0 1,.2 1,-.1 1,-.5 1,.6 1,0 1,.2 1,0 1,0 1,-.9 1,.8 1,.2 1,-.1 1,-.1 1,.2 1,-.4 1,.3 1,0 1,-.3 1,.3 1,.2 1,0 1,-.1 1,-.3 1,.2 1,-.7 1,.9 1,-.1 1,0 1,0 1,-.1 1,-.1 1,.1 1,0 1,.1 1,0 1,-.1 1,.1 1,0 1,-.4 1,-.4 1,.6 1,.2 1,-.1 1,-1 1,.9 1,-.1 1,.3 1,-.1 1,-.1 1,.3 1,-.2 1,-1.1 1,.7 1,.3 1,-.3 1,.1 1,.1 1,-.3 1,-.1 1,.4 1,0 1,.2 1,-.4 1,.1 1,0 1,.2 1,0 1,0 1,-.2 1,-.1 1,0 1,-.1 1,.2 1,0 1,0 1,.1 1,.2 1,.1 1,-.1 1,0 1,-.1 1,.2 1,.1 1,-.1 1,-.1 1,.2 1,-1.2 1,1 1,0 1,.1 1,0 1,-.1 1,-.1 1,.1 1,.1 1,-.1 1,-.3 1,.1 1,.1 1,0 1,-.3 1,-.5 1,.7 1,-.3 1,.3 1,-.1 1,.3 1,-1.1 1,1.1 1,-.1 1,.1 1,-.1 1,-.3 1,.4 1,.2 1,-.1 1,0 1,0 1,0 1,0 1,-.1 1,-.1 1,.1 1,0 1,-.1 1,.1 1,-.1 1,.1 1,.1 1,-.1 1,-.2 1,.2 1,0 1,.1 1,-.1 1,.1 1,0 1,-.2 1,.2 1,-.1 1,0 1,.1 1,-.6 1,.4 1,0 1,0 1,-.1 1,-.1 1,-.7 1,.8 1,0 1,.3 1,-.9 1,.2 1,.1 1,0 1,.3 1,-.1 1,-.3 1,.1 1,-.1 1,-.1 1,.2 1,.3 1,-.2 1,0 1,.2 1,-.2 1,.4 1,-.2 1,-.4 1,0 1,.2 1,.3 1,-.4 1,-.1 1,.3 1,-.3 1,.4 1,-.1 1,0 1,0 1,-.1 1,0 1,0 1,0 1,-.2 1,.2 1,-.2 1,.4 1,0 1,0 1,0 1,.2 1,0 1,0 1,0 1,-.4 1,.3 1,.2 1,0 1,-.2 1,0 1,-.1 1,-.4 1,.4 1,0 1.5,-.3 0,5.5 -1.5,0 -1,0 -1,.2 -1,-.1 -1,-.2 -1,.1 -1,.5 -1,-.4 -1,.4 -1,-.2 -1,.1 -1,-.1 -1,0 -1,0 -1,.5 -1,-.4 -1,.2 -1,-.3 -1,.3 -1,-.1 -1,-.1 -1,.1 -1,-.1 -1,0 -1,0 -1,0 -1,-.2 -1,.1 -1,.1 -1,.1 -1,-.1 -1,.8 -1,-.8 -1,.1 -1,0 -1,-.4 -1,.3 -1,.2 -1,-.2 -1,.1 -1,-.1 -1,.1 -1,0 -1,-.1 -1,.1 -1,-.1 -1,.9 -1,-.9 -1,-.1 -1,.2 -1,-.1 -1,-.2 -1,0 -1,-.1 -1,.1 -1,0 -1,-.2 -1,.1 -1,0 -1,.2 -1,.2 -1,-.1 -1,-.4 -1,0 -1,.3 -1,-.2 -1,.2 -1,0 -1,-.2 -1,0 -1,.6 -1,-.5 -1,.1 -1,1 -1,-.8 -1,-.2 -1,0 -1,0 -1,.4 -1,.3 -1,-.7 -1,-.1 -1,-.1 -1,.3 -1,0 -1,.2 -1,.3 -1,-.6 -1,0 -1,-.2 -1,.1 -1,.1 -1,.6 -1,-.8 -1,.1 -1,-.3 -1,.3 -1,-.3 -1,.2 -1,.2 -1,-.2 -1,.1 -1,0 -1,.1 -1,-.3 -1,.4 -1,-.4 -1,.1 -1,.5 -1,-.6 -1,-.1 -1,1.2 -1,-.8 -1,0 -1,-.2 -1,.4 -1,-.6 -1,.1 -1,.1 -1,-.2 -1,.3 -1,-.1 -1,.1 -1,-.2 -1,0 -1,.1 -1,-.1 -1,1.2 -1,-1.2 -1,0 -1,0 -1,.1 -1,.1 -1,.1 -1,-.2 -1,-.2 -1,.3 -1,-.2 -1,1.2 -1,-1.1 -1,.1 -1,-.2 -1,-.1 -1,.5 -1,-.2 -1,.1 -1,.1 -1,.3 -1,-.3 -1,-.1 -1,.1 -1,.1 -1,-.3 -1,.7 -1,-.6 -1,-.1 -1,.3 -1,.4 -1,-.8 -1,.1 -1,.1 -1,.2 -1,-.2 -1,.1 -1,.6 -1,-.4 -1,.1 -1,-.7 -1,.5 -1,-.4 -1,.1 -1,.1 -1,0 -1,-.2 -1,-.2 -1,.4 -1,.1 -1,-.2 -1,.2 -1,.1 -1,-.2 -1,.2 -1,.9 -1,-1.2 -1,1 -1,-.7 -1,-.2 -1,.1 -1,.2 -1,-.2 -1,-.2 -1,-.1 -1,.1 -1,.1 -1,-.2 -1,.3 -1,-.3 -1,.2 -1,-.1 -1,0 -1,.2 -1,0 -1,-.1 -1,0 -1,.5 -1,-.5 -1,-.1 -1,-.1 -1,0 -1,.1 -1,-.2 -1,.1 -1,-.1 -1,.2 -1,.2 -1,.7 -1,-.8 -1,0 -1,-.3 -1,.1 -1,.2 -1,.1 -1,-.2 -1,0 -1,.2 -1,-.2 -1,-.3 -1,0 -1,0 -1,.1 -1,.2 -1,-.2 -1,0 -1,.1 -1,.1 -1,-.1 -1,-.2 -1,.3 -1,.8 -1,.3 -1,-1 -1,.1 -1,0 -1,-.2 -1,.1 -1,-.1 -1,-.1 -1,.2 -1,-.1 -1,.1 -1,-.1 -1,-.1 -1,.4 -1,.1 -1,-.1 -1,-.2 -1,.6 -1,-.6 -1,-.1 -1,0 -1,0 -1,0 -1,-.1 -1,0 -1,0 -1,.5 -1,-.3 -1,-.1 -1,0 -1,-.1 -1,-.1 -1,.5 -1,-.4 -1,.8 -1,-.8 -1,.2 -1,-.3 -1,-.1 -1,0 -1,.9 -1,-.7 -1,0 -1,-.2 -1,.1 -1,0 -1,-.1 -1,0 -1,.1 -1,.1 -1,-.1 -1,.8 -1,-.7 -1,.2 -1,.5 -1,-.8 -1,.1 -1,-.2 -1,.1 -1,.7 -1,.2 -1,-.7 -1,0 -1,-.2 -1,.2 -1,0 -1,0 -1,0 -1,0 -1,.1 -1,-.1 -1,0 -1,.1 -1,-.1 -1,-.1 -1,.2 -1,0 -1,.6 -1,-.6 -1,0 -1,0 -1,.2 -1,-.4 -1,.1 -1,-.1 -1,.9 -1,-1.1 -1,1 -1,-.4 -1,-.3 -1,-.1 -1,-.1 -1,0 -1,.3 -1,-.3 -1,.1 -1,0 -1,.1 -1,.1 -1,-.1 -1,.2 -1,-.2 -1,.3 -1,-.1 -1,.5 -1,-.5 -1,.1 -1,-.4 -1,-.1 -1,.1 -1,0 -1,-.1 -1,.1 -1,-.2 -1,.5 -1,-.1 -1,0 -1,0 -1,-.2 -1,.5 -1,-.5 -1,.1 -1,0 -1,.2 -1,-.1 -1,0 -1,.4 -1,-.3 -1,-.1 -1,-.1 -1,0 -1,-.2 -1,.1 -1,-.1 -1,1.3 -1,-1.3 -1,.3 -1,-.3 -1,.2 -1,0 -1,.7 -1,-.6 -1,.7 -1,-.1 -1,-.3 -1,-.1 -1,-.1 -1,0 -1,.6 -1,-.9 -1,.2 -1,.5 -1,-.6 -1,.1 -1,-.2 -1,0 -1,.1 -1,.3 -1,.5 -1,-.4 -1,-.3 -1,.2 -1,-.2 -1,.2 -1,-.3 -1,.1 -1,0 -1,.1 -1,-.1 -1,0 -1,-.3 -1,-.1 -1,1.1 -1,-.8 -1,0 -1,0 -1,-.3 -1,0 -1,.1 -1,.1 -1,0 -1,0 -1,0 -1,0 -1,0 -1,.1 -1,-.1 -1,.4 -1,-.4 -1,.2 -1,0 -1,-.1 -1,.1 -1,.1 -1,-.3 -1,.4 -1,-.2 -1,.3 -1,-.2 -1,0 -1,-.3 -1,.8 -1,-.8 -1,.1 -1,.6 -1,-.5 -1,.1 -1,-.1 -1,0 -1,1 -1,-1 -1,0 -1,0 -1,.1 -1,.8 -1,-1 -1,.1 -1,-.1 -1,.3 -1,-.4 -1,0 -1,.1 -1,0 -1,.3 -1,.2 -1,-.2 -1,.2 -1,-.3 -1,0 -1,.3 -1,-.3 -1,-.1 -1,.8 -1,-.9 -1,-.1 -1,.2 -1,-.2 -1,.1 -1,0 -1,0 -1,-.2 -1,.3 -1,0 -1,-.2 -1,.1 -1,.7 -1,-.8 -1,.7 -1,-.7 -1,0 -1,.9 -1,-.3 -1,-.6 -1,-.1 -1,.3 -1,-.1 -1,-.1 -1,0 -1,0 -1,-.1 -1,.2 -1,0 -1,.6 -1,-.7 -1,-.1 -1,.1 -1,0 -1,1 -1,-1.1 -1,.3 -1,-.1 -1,0 -1,.2 -1,.4 -1,-.7 -1,.2 -1,-.1 -1,0 -1,0 -1,-.3 -1,0 -1,.4 -1,-.4 -1,.2 -1,-.2 -1,.2 -1,-.1 -1,0 -1,.1 -1,-.1 -1,.2 -1,-.2 -1,0 -1,.3 -1,0 -1,-.1 -1,.1 -1,.7 -1,-.7 -1,0 -1,.1 -1,-.2 -1,-.1 -1,.4 -1,0 -1,.5 -1,-.8 -1,.5 -1,-.6 -1,-.1 -1,0 -1,.1 -1,.1 -1,-.2 -1,0 -1,-.1 -1,0 -1,.1 -1,.1 -1,.5 -1,-.5 -1,.2 -1,.3 -1,-.2 -1,.5 -1,-.5 -1,0 -1,.1 -1,.1 -1,.1 -1,-.2 -1,-.1 -1,-.1 -1,0 -1,-.1 -1,.9 -1,-.8 -1,-.3 -1,.2 -1,-.2 -1,0 -1,0 -1,.2 -1,.1 -1,.1 -1,-.2 -1,-.1 -1,0 -1,-.2 -1,.3 -1,-.2 -1,-.1 -1,0 -1,0 -1,0 -1,0 -1,0 -1,.2 -1,0 -1,0 -1,.4 -1,-.4 -1,.2 -1,.3 -1,0 -1,-.2 -1,.1 -1,-.1 -1,.3 -1,-.3 -1,.1 -1,-.2 -1,.1 -1,-.1 -1,-.3 -1,.1 -1,.3 -1,-.3 -1,.1 -1,-.1 -1,.1 -1,0 -1,-.1 -1,-.1 -1,.3 -1,-.3 -1,0 -1,.3 -1,0 -1,.1 -1,.1 -1,-.1 -1,0 -1,0 -1,.2 -1,-.1 -1,-.1 -1,0 -1,.1 -1,-.2 -1,0 -1,.4 -1,-.5 -1,-.1 -1,.1 -1,.2 -1,-.2 -1,-.2 -1,.1 -1,.1 -1,-.1 -1,-.2 -1,.1 -1,.2 -1,-.3 -1,0 -1,.5 -1,-.1 -1,0 -1,.2 -1,-.1 -1,.2 -1,-.1 -1,-.1 -1,.3 -1,-.1 -1,-.6 -1,.8 -1,-.7 -1,.1 -1,-.2 -1,.3 -1,-.2 -1,.1 -1,.1 -1,0 -1,.1 -1,-.1 -1,-.1 -1,0 -1,.1 -1,0 -1,-.2 -1,.1 -1,-.1 -1,.1 -1,-.1 -1,.2 -1,0 -1,-.1 -1,0 -1,.7 -1,.4 -1,-1.1 -1,.1 -1,0 -1,.1 -1,.2 -1,-.1 -1,-.2 -1,-.2 -1,.3 -1,-.1 -1,0 -1,.1 -1,-.3 -1,.2 -1,.1 -1,-.2 -1,-.2 -1,0 -1,-.1 -1,.1 -1,.2 -1,0 -1,.2 -1,-.3 -1,.2 -1,-.3 -1,.3 -1,-.2 -1,0 -1,0 -1,-.1 -1,-.1 -1,.1 -1,0 -1,.1 -1,-.1 -1,0 -1,-.1 -1,.2 -1,.2 -1,-.2 -1,-.1 -1,.3 -1,0 -1,-.4 -1,.2 -1,.1 -1,.9 -1,-.7 -1,-.3 -1,-.1 -1,.2 -1,0 -1,.1 -1,0 -1,.3 -1,-.1 -1,-.2 -1,.3 -1,-.2 -1,-.2 -1,0 -1,-.1 -1,1.2 -1,-1.1 -1,.2 -1,.2 -1,-.3 -1,0 -1,-.3 -1,0 -1,.2 -1,.4 -1,-.7 -1,.1 -1,0 -1,0 -1,.1 -1,.3 -1,-.4 -1,.1 -1,.3 -1,1.1 -1,-1 -1,-.1 -1,-.3 -1,-.1 -1,0 -1,.2 -1,.1 -1,-.3 -1,-.1 -1,.6 -1,0 -1,-.3 -1,.2 -1,.1 -1,-.1 -1,.5 -1,.1 -1,-.6 -1,-.2 -1,.1 -1,-.1 -1,.3 -1,-.2 -1,.1 -1,.4 -1,-.2 -1,-.5 -1,.1 -1,.3 -1,.2 -1,0 -1,-.1 -1,-.5 -1,0 -1,.4 -1,0 -1,-.2 -1,-.1 -1,0 -1,.9 -1,.2 -1,-.8 -1,0 -1,0 -1,-.3 -1,-.1 -1,.8 -1,-.9 -1,0 -1,.3 -1,-.2 -1,.1 -1,.1 -1,0 -1,-.3 -1,1.2 -1,-1.1 -1,-.1 -1,.1 -1,0 -1,.1 -1,.1 -1,-.3 -1,.4 -1,-.5 -1,.3 -1,-.2 -1,.1 -1,.2 -1,-.4 -1,.3 -1,-.2 -1,.3 -1,-.3 -1,.3 -1,.7 -1,-1 -1,.2 -1,-.1 -1,.4 -1,-.3 -1,-.2 -1,.2 -1,-.1 -1,.1 -1,.2 -1,-.2 -1,-.2 -1,0 -1,.1 -1,.3 -1,-.1 -1,.6 -1,-.7 -1,.1 -1,0 -1,-.1 -1,.9 -1,-.7 -1,0 -1,-.3z"/>
<path fill="#ff0000" d="M137.5,479.8l1,.2 1,0 1,0 1,-.7 1,.8 1,0 1,-.1 1,.1 1,-.4 1,.5 1,-.2 1,-.2 1,-.2 1,.4 1,-.1 1,0 1,0 1,-.8 1,.1 1,.7 1,.1 1,-.2 1,-.2 1,.1 1,0 1,.1 1,-.3 1,.1 1,-.9 1,1.1 1,.1 1,-.3 1,.2 1,.2 1,0 1,-.2 1,-.2 1,.3 1,0 1,.1 1,-.4 1,-.3 1,.4 1,.1 1,-.2 1,-.5 1,.9 1,-.3 1,.1 1,0 1,.3 1,-.2 1,-.1 1,.2 1,0 1,0 1,-.3 1,.2 1,-.1 1,.1 1,-.1 1,-.2 1,-.1 1,.2 1,-.1 1,.1 1,-.1 1,.1 1,.1 1,.3 1,-.2 1,.1 1,0 1,0 1,.1 1,.1 1,-.6 1,.4 1,-.1 1,.1 1,-.3 1,.2 1,0 1,-.1 1,-.1 1,-.3 1,.3 1,.1 1,.3 1,-.1 1,.2 1,0 1,0 1,-1 1,.6 1,.2 1,-.1 1,.1 1,-.2 1,0 1,.1 1,-.3 1,0 1,.3 1,-.3 1,.1 1,.3 1,-.1 1,.3 1,-.2 1,-.3 1,.2 1,.3 1,-.1 1,0 1,0 1,-.3 1,.3 1,-.2 1,.3 1,-.2 1,0 1,-.1 1,-.1 1,0 1,.3 1,-.1 1,-.3 1,.4 1,.1 1,-.2 1,-.1 1,.1 1,0 1,.2 1,-.1 1,.1 1,-.1 1,0 1,0 1,-.1 1,-1.1 1,1.2 1,-.3 1,.3 1,0 1,-.2 1,.1 1,-.8 1,1 1,-.3 1,.1 1,.1 1,-.5 1,.3 1,-.1 1,.1 1,-.3 1,.4 1,-.8 1,.4 1,.5 1,-.1 1,-.1 1,.3 1,-.2 1,.1 1,0 1,-.2 1,.1 1,-.5 1,0 1,.2 1,.2 1,.2 1,0 1,-.1 1,.2 1,-.1 1,-.2 1,0 1,.3 1,-.1 1,.1 1,-.4 1,.4 1,-.2 1,.1 1,-.1 1,-.1 1,.2 1,-.2 1,.1 1,-.2 1,0 1,0 1,0 1,.1 1,-.3 1,.2 1,0 1,-.1 1,.4 1,0 1,.1 1,-.2 1,0 1,0 1,0 1,.1 1,-.4 1,.2 1,-.2 1,0 1,.1 1,-.5 1,-.5 1,.9 1,0 1,0 1,-.1 1,.4 1,-1.2 1,.7 1,.1 1,.4 1,-1 1,1.1 1,-.1 1,0 1,.1 1,-.1 1,.2 1,-1.2 1,.9 1,0 1,-.8 1,.5 1,.3 1,0 1,0 1,.1 1,-1.2 1,1.3 1,-.5 1,.3 1,.3 1,-.1 1,-.1 1,0 1,0 1,.1 1,0 1,-.1 1,-.1 1,0 1,.1 1,-.1 1,0 1,.2 1,-.1 1,-.3 1,0 1,0 1,-.1 1,.2 1,-.2 1,.2 1,-.1 1,.1 1,-.2 1,.3 1,-.1 1,.1 1,-.1 1,.3 1,-.2 1,.1 1,-.2 1,.1 1,0 1,-.3 1,-.8 1,.9 1,0 1,-.2 1,.4 1,-.9 1,1 1,.1 1,-.2 1,.1 1,.1 1,-.4 1,.3 1,-1.2 1,1.1 1,-.1 1,-.4 1,.3 1,-1 1,1 1,.1 1,-.2 1,.3 1,-.3 1,.5 1,0 1,-.1 1,-.1 1,.2 1,-.9 1,.7 1,.3 1,0 1,-.2 1,0 1,.1 1,-.5 1,.5 1,-.2 1,-.2 1,-.1 1,.4 1,.1 1,0 1,0 1,0 1,-.2 1,.1 1,.1 1,-.2 1,.2 1,-.4 1,-1.1 1,1.3 1,-.3 1,.2 1,0 1,.2 1,-.2 1,0 1,-.2 1,.5 1,-.4 1,.3 1,-.1 1,-1.1 1,1.2 1,-.9 1,.7 1,.2 1,0 1,.2 1,0 1,-.4 1,.2 1,-.2 1,-.1 1,.1 1,-.2 1,.1 1,-.1 1,.1 1,-.3 1,.4 1,.3 1,-.4 1,0 1,.3 1,-.1 1,.1 1,-.1 1,.1 1,0 1,-.3 1,.3 1,-.3 1,-.1 1,.3 1,.1 1,-.1 1,-.1 1,.1 1,0 1,0 1,-.4 1,.1 1,-1 1,.9 1,.2 1,-.4 1,.3 1,.1 1,0 1,0 1,.2 1,-.2 1,.1 1,.1 1,-.1 1,.1 1,0 1,-.2 1,.4 1,-.1 1,.1 1,-.1 1,-.2 1,.1 1,.2 1,-.2 1,.1 1,.2 1,-.1 1,0 1,0 1,0 1,-.1 1,.1 1,-.4 1,.2 1,-.2 1,-.6 1,.7 1,0 1,-.1 1,-.1 1,0 1,-.2 1,.3 1,-.2 1,.3 1,.1 1,-.2 1,.2 1,0 1,.3 1,-.4 1,.3 1,-.2 1,-1 1,1 1,.2 1,-.1 1,0 1,-.1 1,0 1,0 1,-.1 1,.1 1,-.1 1,.1 1,-.3 1,.2 1,-.3 1,.3 1,-.1 1,-.4 1,.4 1,0 1,-.1 1,.1 1,.1 1,.3 1,-.6 1,.6 1,-.2 1,0 1,.1 1,-.3 1,-.1 1,.1 1,.3 1,-.1 1,.1 1,-.1 1,-.3 1,.5 1,-.2 1,.2 1,-.1 1,.1 1,.1 1,0 1,-.1 1,.1 1,-.3 1,-.1 1,-.1 1,.2 1,.2 1,0 1,-.2 1,.2 1,-.2 1,0 1,.2 1,-.1 1,.2 1,-.1 1,0 1,-.1 1,0 1,0 1,-.1 1,.2 1,.1 1,-.2 1,0 1,-.1 1,.1 1,-.6 1,.3 1,.1 1,-.3 1,.2 1,.2 1,-.3 1,.1 1,.3 1,-.4 1,.3 1,-.2 1,0 1,.3 1,-.1 1,.1 1,0 1,-.1 1,-.1 1,-.9 1,.8 1,.3 1,-.2 1,.3 1,-.1 1,.1 1,0 1,.1 1,-.2 1,.1 1,-1.1 1,1.1 1,-.1 1,.1 1,-.6 1,.2 1,-.2 1,-.7 1,1.1 1,-.3 1,.1 1,.1 1,0 1,-.5 1,.6 1,-.9 1,1 1,.1 1,-.4 1,.2 1,.2 1,-.2 1,0 1,-.1 1,.1 1,.1 1,-.1 1,.1 1,.1 1,-.1 1,.1 1,0 1,0 1,-.2 1,.2 1,-.3 1,.2 1,-.1 1,.2 1,-.5 1,.2 1,0 1,-.1 1,.1 1,.1 1,-.1 1,-.8 1,.7 1,.1 1,.3 1,-.3 1,.4 1,-.2 1,-.1 1,-.1 1,.1 1,-.3 1,.1 1,0 1,-.5 1,.6 1,-.4 1,0 1,.3 1,-.3 1,0 1,.3 1,0 1,.2 1,0 1,-.1 1,.4 1,-.5 1,.2 1,0 1,.3 1,-.2 1,0 1,0 1,-.2 1,.3 1,.1 1,-.1 1,-.5 1,.6 1,-.2 1,.1 1,-.1 1,-.4 1,.3 1,.2 1,-.2 1,.1 1,-.3 1,0 1,.4 1,-.3 1,-.1 1,.3 1,-.3 1,-.2 1,.3 1,0 1,-.2 1,-.2 1,0 1,.3 1,.1 1,-.5 1,-.4 1,1.1 1,0 1,.1 1,0 1,-.2 1,.3 1,-.1 1,0 1,.1 1,-.1 1,0 1,-.1 1,-.3 1,-.2 1,.1 1,.1 1,-.4 1,.6 1,0 1,.2 1,-.3 1,-.2 1,.2 1,0 1,.1 1,-.1 1,-.2 1,.1 1,-.2 1,.2 1,-.1 1,.4 1,-.2 1,-.1 1,.1 1,.1 1,.1 1,.1 1,-.2 1,-.3 1,.3 1,-.2 1,.3 1,0 1,-.3 1,.3 1,0 1,-.2 1,-.5 1,.2 1,.4 1,-.3 1,.5 1,-.6 1,.5 1,.1 1,0 1,0 1,-.3 1,.3 1,0 1,-.1 1,.1 1,0 1,-.1 1,-.2 1,0 1,.2 1,-.2 1,.2 1,-.2 1,.2 1,-.1 1,.3 1,-.2 1,-.1 1,-.1 1,.1 1,0 1,0 1,.2 1,-.2 1,.2 1,-.1 1,0 1,-.1 1,0 1,-.2 1,-.2 1,.1 1,.1 1,0 1,-.2 1,-.3 1,.5 1,-.1 1,.1 1,-.2 1,.3 1,0 1,.1 1,0 1,-1.3 1,1.4 1,-.5 1,.5 1,0 1,-.3 1,0 1,.1 1,0 1,.2 1,-.1 1,.1 1,-.1 1,-.1 1,0 1,-1.2 1,1.2 1,-.3 1,.4 1,-.3 1,.3 1,-.2 1,.1 1,-.1 1,-.6 1,.7 1,-.2 1,-1 1,.2 1,.9 1,-.2 1,.1 1,.2 1,.1 1,0 1,.2 1,-.1 1,-.4 1,.4 1,0 1,-.1 1,-1.1 1,.9 1,-.6 1,1 1,0 1,0 1,0 1,-.1 1,.2 1,-1.2 1,1 1,-.1 1,.3 1,-.1 1,0 1,-.4 1,0 1,.2 1,-.7 1,.2 1,.3 1,.2 1,-.1 1,.1 1,-.5 1,.4 1,.2 1,-.1 1,0 1,-.2 1,.1 1,-.1 1,-.1 1,0 1,-.1 1,0 1,.1 1,-.4 1,.2 1,.3 1,-.2 1,.4 1,-.1 1,0 1,-.2 1,.1 1,.1 1,0 1,-.1 1,.3 1,-.1 1,-.1 1,.3 1,-.3 1,.4 1,-.1 1,-.6 1,.5 1,.1 1,-.1 1,0 1,.1 1,0 1,.1 1,-.4 1,.3 1,.1 1,-.3 1,-.1 1,0 1,0 1,-.9 1,1 1,0 1,-.2 1,0 1,.2 1,.3 1,-.3 1,0 1.5,0 0,5.3 -1.5,-.1 -1,-.2 -1,.5 -1,-.4 -1,.1 -1,.5 -1,-.4 -1,.1 -1,-.3 -1,0 -1,.1 -1,0 -1,-.2 -1,.2 -1,-.1 -1,.2 -1,-.2 -1,0 -1,0 -1,-.1 -1,.1 -1,.3 -1,-.1 -1,.3 -1,-.1 -1,-.1 -1,-.1 -1,0 -1,0 -1,-.1 -1,.2 -1,-.3 -1,0 -1,-.1 -1,0 -1,.1 -1,.2 -1,-.2 -1,.2 -1,-.1 -1,.3 -1,-.4 -1,.1 -1,0 -1,.1 -1,0 -1,.2 -1,.9 -1,-.2 -1,-.8 -1,.3 -1,-.3 -1,-.1 -1,-.1 -1,.3 -1,-.1 -1,0 -1,.2 -1,-.1 -1,-.2 -1,.3 -1,-.3 -1,.1 -1,.1 -1,.7 -1,-.9 -1,.4 -1,-.3 -1,.2 -1,-.2 -1,0 -1,.2 -1,0 -1,.1 -1,-.2 -1,-.1 -1,-.2 -1,-.1 -1,.1 -1,.3 -1,-.4 -1,.3 -1,-.3 -1,0 -1,0 -1,.3 -1,-.1 -1,-.2 -1,1.1 -1,-1.1 -1,.9 -1,-.9 -1,.6 -1,-.5 -1,.2 -1,-.2 -1,0 -1,.3 -1,.1 -1,-.2 -1,.2 -1,0 -1,-.2 -1,.5 -1,-.3 -1,-.3 -1,.3 -1,-.2 -1,.6 -1,-.4 -1,-.1 -1,0 -1,1.1 -1,-.8 -1,.1 -1,-.1 -1,-.1 -1,-.3 -1,.3 -1,-.3 -1,.3 -1,-.3 -1,0 -1,-.1 -1,.2 -1,-.2 -1,.3 -1,.1 -1,-.2 -1,0 -1,.1 -1,-.3 -1,.1 -1,-.1 -1,.4 -1,-.1 -1,-.1 -1,.2 -1,-.3 -1,0 -1,-.1 -1,.1 -1,.2 -1,-.5 -1,.5 -1,-.1 -1,-.1 -1,0 -1,0 -1,.2 -1,.5 -1,-.5 -1,0 -1,-.1 -1,.1 -1,-.1 -1,.3 -1,-.4 -1,-.1 -1,.1 -1,-.2 -1,-.1 -1,.1 -1,.9 -1,-.7 -1,.6 -1,-.1 -1,-.4 -1,0 -1,-.3 -1,.1 -1,-.1 -1,-.1 -1,0 -1,.3 -1,-.4 -1,.2 -1,.2 -1,-.2 -1,-.1 -1,0 -1,0 -1,0 -1,.2 -1,1 -1,-.8 -1,-.4 -1,.2 -1,.3 -1,-.4 -1,.1 -1,-.2 -1,.2 -1,.4 -1,-.4 -1,-.1 -1,.6 -1,-.7 -1,-.1 -1,.2 -1,0 -1,-.1 -1,0 -1,0 -1,-.1 -1,.2 -1,-.1 -1,.3 -1,.2 -1,-.1 -1,.1 -1,.6 -1,-.7 -1,-.1 -1,-.1 -1,.2 -1,.2 -1,-.3 -1,.1 -1,-.2 -1,.3 -1,.1 -1,-.3 -1,-.1 -1,.1 -1,-.1 -1,0 -1,.2 -1,0 -1,0 -1,0 -1,0 -1,0 -1,0 -1,.1 -1,0 -1,-.1 -1,.2 -1,-.2 -1,.4 -1,-.4 -1,-.3 -1,.8 -1,.4 -1,-1.2 -1,-.1 -1,0 -1,.3 -1,-.1 -1,-.1 -1,.1 -1,0 -1,.4 -1,-.5 -1,.1 -1,-.2 -1,.5 -1,-.4 -1,0 -1,-.1 -1,.2 -1,0 -1,.1 -1,.3 -1,-.5 -1,.2 -1,.2 -1,-.4 -1,-.1 -1,.6 -1,-.4 -1,.2 -1,-.5 -1,.1 -1,-.1 -1,.1 -1,0 -1,1.1 -1,-.9 -1,.1 -1,.3 -1,-.1 -1,-.2 -1,0 -1,.1 -1,-.1 -1,.2 -1,.1 -1,-.3 -1,.3 -1,-.3 -1,-.2 -1,0 -1,.7 -1,-.8 -1,0 -1,-.1 -1,.3 -1,.9 -1,-.8 -1,.1 -1,0 -1,-.1 -1,-.2 -1,.9 -1,-.8 -1,0 -1,-.1 -1,-.2 -1,.2 -1,.1 -1,0 -1,.1 -1,-.1 -1,.2 -1,-.1 -1,0 -1,.1 -1,.3 -1,-.3 -1,.7 -1,-.9 -1,.2 -1,-.3 -1,.2 -1,0 -1,-.1 -1,.2 -1,0 -1,.1 -1,-.3 -1,1.2 -1,.2 -1,-1.2 -1,-.2 -1,0 -1,-.1 -1,1.4 -1,-.5 -1,-.9 -1,.2 -1,-.3 -1,.3 -1,-.1 -1,0 -1,.3 -1,-.3 -1,.1 -1,.2 -1,-.1 -1,-.1 -1,0 -1,0 -1,-.1 -1,-.1 -1,.5 -1,-.6 -1,0 -1,.4 -1,-.2 -1,-.2 -1,.2 -1,0 -1,.1 -1,-.3 -1,.3 -1,0 -1,-.2 -1,0 -1,.1 -1,.9 -1,-.2 -1,-.8 -1,1 -1,.2 -1,-1.3 -1,.1 -1,-.1 -1,.1 -1,-.1 -1,.1 -1,-.1 -1,.3 -1,-.3 -1,.2 -1,.2 -1,0 -1,.1 -1,-.2 -1,.2 -1,-.1 -1,0 -1,.9 -1,-.6 -1,.1 -1,-.5 -1,-.2 -1,.2 -1,-.1 -1,.1 -1,-.1 -1,.1 -1,0 -1,0 -1,.2 -1,-.5 -1,.1 -1,.1 -1,-.2 -1,0 -1,.2 -1,0 -1,-.1 -1,0 -1,.2 -1,-.3 -1,0 -1,-.1 -1,.4 -1,-.2 -1,.2 -1,-.2 -1,0 -1,-.1 -1,.3 -1,-.1 -1,.3 -1,1.1 -1,-1.1 -1,-.1 -1,.2 -1,-.3 -1,.9 -1,-1 -1,.1 -1,0 -1,-.3 -1,-.1 -1,.4 -1,0 -1,-.2 -1,0 -1,.4 -1,0 -1,.5 -1,-.7 -1,.5 -1,-.3 -1,.1 -1,-.5 -1,-.1 -1,-.1 -1,.1 -1,.8 -1,-.7 -1,.1 -1,1 -1,-.9 -1,-.1 -1,.1 -1,-.1 -1,-.1 -1,.1 -1,-.2 -1,.2 -1,.1 -1,.6 -1,-.5 -1,-.3 -1,.8 -1,-.7 -1,-.1 -1,.2 -1,-.1 -1,0 -1,.4 -1,-.4 -1,0 -1,.1 -1,.1 -1,-.2 -1,-.1 -1,.2 -1,0 -1,-.1 -1,0 -1,-.1 -1,.3 -1,-.5 -1,.1 -1,.2 -1,1.3 -1,-1.3 -1,.5 -1,-.7 -1,.2 -1,0 -1,0 -1,0 -1,.2 -1,-.3 -1,-.1 -1,-.1 -1,.1 -1,1.2 -1,-.2 -1,-1 -1,.2 -1,0 -1,.3 -1,-.5 -1,.1 -1,.1 -1,-.1 -1,0 -1,-.2 -1,.2 -1,0 -1,.3 -1,-.3 -1,0 -1,.1 -1,0 -1,.1 -1,-.1 -1,-.1 -1,.1 -1,-.1 -1,-.1 -1,.1 -1,-.1 -1,.6 -1,-.5 -1,.5 -1,-.4 -1,.1 -1,-.2 -1,.3 -1,0 -1,0 -1,-.3 -1,.4 -1,-.2 -1,.6 -1,-1 -1,.3 -1,-.1 -1,.3 -1,.1 -1,-.3 -1,.9 -1,-1.1 -1,.4 -1,-.3 -1,0 -1,0 -1,1.2 -1,-1.3 -1,.1 -1,-.1 -1,.1 -1,-.2 -1,.1 -1,.1 -1,-.2 -1,.8 -1,-.6 -1,0 -1,.1 -1,0 -1,.3 -1,.2 -1,.1 -1,-.2 -1,-.2 -1,.1 -1,0 -1,-.2 -1,.3 -1,-.3 -1,0 -1,-.1 -1,.2 -1,-.1 -1,.1 -1,-.1 -1,.1 -1,.5 -1,-.4 -1,.1 -1,.1 -1,.1 -1,-.3 -1,-.2 -1,.2 -1,-.3 -1,.2 -1,.2 -1,-.5 -1,0 -1,-.1 -1,.3 -1,-.1 -1,-.3 -1,.3 -1,1 -1,.1 -1,-1.1 -1,-.1 -1,.1 -1,.2 -1,.7 -1,.2 -1,-.6 -1,-.2 -1,-.1 -1,-.1 -1,0 -1,.6 -1,-.1 -1,-.3 -1,-.3 -1,-.2 -1,.2 -1,0 -1,.2 -1,0 -1,.1 -1,-.2 -1,.1 -1,.2 -1,-.1 -1,-.1 -1,0 -1,.1 -1,.9 -1,-1 -1,.1 -1,-.2 -1,.1 -1,-.2 -1,-.2 -1,.3 -1,-.3 -1,.3 -1,0 -1,-.2 -1,0 -1,.1 -1,.1 -1,.8 -1,-.4 -1,-.6 -1,0 -1,0 -1,.2 -1,-.2 -1,0 -1,.1 -1,.4 -1,-.3 -1,.3 -1,-.2 -1,-.2 -1,.2 -1,-.1 -1,0 -1,-.3 -1,.4 -1,-.4 -1,.4 -1,-.1 -1,-.1 -1,.2 -1,.5 -1,-.6 -1,0 -1,-.2 -1,.4 -1,.4 -1,-.5 -1,-.1 -1,.2 -1,0 -1,-.3 -1,.1 -1,.2 -1,-.2 -1,.1 -1,-.4 -1,0 -1,.4 -1,-.3 -1,.3 -1,-.2 -1,.1 -1,-.1 -1,-.2 -1,0 -1,.2 -1,.3 -1,-.4 -1,.1 -1,0 -1,-.1 -1,.2 -1,-.3 -1,1.2 -1,-1 -1,.1 -1,.1 -1,.2 -1,-.5 -1,.1 -1,-.1 -1,.1 -1,.2 -1,.1 -1,-.1 -1,-.1 -1,.1 -1,.1 -1,-.1 -1,0 -1,.2 -1,-.1 -1,.1 -1,0 -1,-.1 -1,-.3 -1,0 -1,0 -1,.1 -1,-.1 -1,0 -1,.1 -1,.3 -1,.1 -1,.7 -1,-.9 -1,1.2 -1,-1 -1,-.2 -1,0 -1,.1 -1,-.1 -1,0 -1,.1 -1,.1 -1,-.2 -1,.1 -1,.8 -1,-.8 -1,-.3 -1,-.1 -1,.1 -1,-.1 -1,-.1 -1,-.1 -1,.2 -1,-.3 -1,.9 -1,-.5 -1,-.3 -1,.2 -1,0 -1,-.1 -1,.3 -1,0 -1,-.3 -1,.2 -1,0 -1,.2 -1,-.2 -1,.3 -1,-.3 -1,.1 -1,0 -1,0 -1,-.1 -1,-.1 -1,0 -1,.1 -1,-.2 -1,0 -1,.5 -1,-.4 -1,0 -1,0 -1,.8 -1,-.8 -1,-.2 -1,.3 -1,.1 -1,-.3 -1,-.1 -1,.3 -1,.1 -1,0 -1,-.1 -1,.2 -1,-.4 -1,.3 -1,-.3 -1,.6 -1,-.7 -1,.5 -1,-.1 -1,-.3 -1,.3 -1,-.2 -1,.4 -1,-.3 -1,0 -1,.4 -1,-.5 -1,.3 -1,-.4 -1,.1 -1,-.1 -1,0 -1,.2 -1,0 -1,.3 -1,0 -1,-.1 -1,.8 -1,-1.1 -1,0 -1,-.1 -1,.2 -1,.9 -1,-.9 -1,-.1 -1,-.2 -1,.4 -1,-.2 -1,-.1 -1,-.1 -1,0 -1,.5 -1,-.2 -1,-.1 -1,.2 -1,0 -1,0 -1,.3 -1,.2 -1,-.4 -1,.3 -1,-.3 -1,0 -1,-.2 -1,.4 -1,-.2 -1,0 -1,0 -1,.6 -1,-.8 -1,.1 -1,-.1 -1,-.1 -1,-.1 -1,-.1 -1,.9 -1,-.9 -1,.1 -1,-.1 -1,.2 -1,0 -1,0 -1,-.2 -1,0 -1,.2 -1,1.1 -1,-1.1z"/>
<path fill="#0000ff" d="M137.5,511.2l1,.1 1,0 1,.3 1,0 1,-.1 1,-.1 1,.1 1,.2 1,-.1 1,-.4 1,-.3 1,.3 1,.1 1,.2 1,-.1 1,.2 1,-.3 1,-.1 1,.2 1,-.2 1,0 1,-.3 1,.3 1,.1 1,-.4 1,.5 1,.3 1,0 1,-.4 1,-.3 1,.7 1,-.4 1,.1 1,.2 1,-.3 1,.2 1,.1 1,-1 1,1 1,-.1 1,-.4 1,.4 1,-.3 1,0 1,0 1,-.2 1,-.1 1,.1 1,.2 1,0 1,-.1 1,.3 1,-.4 1,0 1,.1 1,.2 1,.1 1,0 1,-.1 1,-.5 1,.5 1,-.6 1,.4 1,.1 1,-.1 1,-.2 1,.4 1,-.6 1,.4 1,.2 1,0 1,-.1 1,.3 1,0 1,-.1 1,-.2 1,.1 1,-.2 1,-.1 1,.4 1,-.2 1,0 1,.5 1,-.1 1,-.1 1,.1 1,-.1 1,-.1 1,.1 1,-.2 1,-.1 1,-.6 1,1 1,-.1 1,.1 1,.1 1,-.4 1,.3 1,0 1,-.1 1,.1 1,-.1 1,0 1,-.1 1,0 1,0 1,-.2 1,0 1,-.2 1,.1 1,.2 1,-.1 1,-.3 1,.1 1,-.6 1,1 1,0 1,-.2 1,.2 1,-.2 1,.1 1,0 1,-.1 1,0 1,.1 1,0 1,.1 1,-.1 1,.1 1,-.3 1,.1 1,.4 1,-.1 1,.2 1,-.2 1,.2 1,-.1 1,0 1,0 1,-.1 1,-.9 1,.8 1,-.1 1,-.2 1,.1 1,-.9 1,1 1,.3 1,0 1,0 1,-.2 1,.2 1,0 1,0 1,-1.1 1,1 1,.2 1,0 1,-.3 1,.2 1,.1 1,0 1,0 1,-.3 1,-.1 1,.1 1,-.2 1,.3 1,-.2 1,.1 1,-.2 1,.1 1,-.3 1,.1 1,-.3 1,.4 1,.1 1,0 1,0 1,-.1 1,.2 1,-.2 1,.2 1,0 1,-.2 1,-.1 1,.2 1,0 1,0 1,0 1,-.1 1,-.1 1,.3 1,.1 1,-.3 1,-.1 1,.2 1,.1 1,0 1,0 1,0 1,-.3 1,.3 1,0 1,.2 1,-.4 1,.2 1,0 1,.2 1,-.1 1,.2 1,-.4 1,.2 1,-.3 1,.2 1,.1 1,.2 1,0 1,0 1,-1.2 1,.8 1,.3 1,-1.2 1,1.3 1,-.1 1,0 1,-1 1,1 1,0 1,.1 1,-.2 1,.1 1,.1 1,0 1,-.1 1,.1 1,0 1,-.2 1,0 1,.1 1,.1 1,0 1,0 1,0 1,0 1,0 1,-.4 1,.4 1,0 1,-.2 1,-.4 1,.3 1,.2 1,.1 1,-.1 1,-.1 1,.2 1,-.2 1,-.1 1,.2 1,-.1 1,.1 1,-.4 1,.1 1,-.1 1,.1 1,.3 1,0 1,-.2 1,-.1 1,-.1 1,.1 1,0 1,.3 1,-.1 1,-.1 1,.1 1,0 1,.1 1,0 1,-.3 1,.4 1,-.6 1,-.5 1,.7 1,.2 1,0 1,-.1 1,-.3 1,.1 1,-.1 1,0 1,0 1,.1 1,0 1,-.1 1,-.3 1,.5 1,-.5 1,-.2 1,.6 1,0 1,-.3 1,.4 1,0 1,.2 1,-.3 1,.1 1,.3 1,0 1,.1 1,-.2 1,-.9 1,1 1,.1 1,-.5 1,.3 1,.1 1,-.2 1,-.3 1,.1 1,.1 1,0 1,.2 1,-.3 1,.4 1,-.3 1,0 1,0 1,.2 1,-.1 1,0 1,-.1 1,-.3 1,-.1 1,.2 1,-.1 1,.2 1,-.6 1,.2 1,.8 1,-.2 1,.2 1,-.2 1,.3 1,-.3 1,0 1,.3 1,0 1,-.2 1,.1 1,-.2 1,-.5 1,.6 1,-.1 1,0 1,.1 1,0 1,-.6 1,.5 1,-.9 1,.8 1,-.4 1,.1 1,.1 1,.1 1,-.1 1,0 1,0 1,0 1,.3 1,.1 1,0 1,.1 1,-.1 1,-.2 1,-.4 1,.2 1,.5 1,0 1,.1 1,-.3 1,-.3 1,.5 1,-.2 1,.1 1,-1 1,.8 1,.1 1,-.1 1,.1 1,0 1,0 1,.1 1,-.2 1,.2 1,-.5 1,.3 1,-.1 1,.2 1,.1 1,-.6 1,.3 1,.3 1,-.2 1,-.1 1,.1 1,.3 1,-.1 1,-.1 1,0 1,-.1 1,.3 1,-.2 1,-.4 1,-.6 1,1 1,-.4 1,.3 1,.1 1,0 1,.2 1,-.1 1,-.4 1,.5 1,-.1 1,.1 1,.1 1,0 1,-.1 1,-.1 1,0 1,-1 1,.7 1,.2 1,-.2 1,.1 1,.1 1,-.3 1,.3 1,-.2 1,.2 1,.1 1,-.4 1,.2 1,.2 1,-.3 1,.1 1,.3 1,-.4 1,.4 1,-.1 1,.1 1,-.3 1,0 1,0 1,-.4 1,.2 1,.1 1,-.1 1,0 1,-.1 1,-.3 1,-.4 1,1 1,.2 1,-.1 1,-.3 1,.4 1,-.4 1,.5 1,-.1 1,0 1,-.2 1,.1 1,.1 1,0 1,-.2 1,-.7 1,.8 1,.1 1,0 1,0 1,-.5 1,.4 1,0 1,-.1 1,.2 1,-.2 1,-.1 1,.3 1,0 1,0 1,-.9 1,.8 1,0 1,.1 1,0 1,-.9 1,1 1,.1 1,0 1,-.5 1,.2 1,.1 1,.2 1,-.5 1,.5 1,-.1 1,-1.6 1,1.5 1,.1 1,-.5 1,-.2 1,.3 1,.2 1,-.2 1,.3 1,-.5 1,.4 1,-.5 1,.7 1,0 1,-.2 1,-.3 1,-.4 1,-.2 1,1.1 1,-.3 1,0 1,0 1,.1 1,-.2 1,.2 1,-.1 1,.1 1,0 1,-.4 1,.1 1,.1 1,.5 1,-.2 1,-.1 1,.1 1,.1 1,-.7 1,.4 1,.4 1,-.1 1,-.4 1,.2 1,0 1,-.1 1,.1 1,.2 1,0 1,-.2 1,.2 1,-.2 1,-.1 1,.2 1,0 1,0 1,.1 1,-.2 1,-.2 1,.3 1,-.1 1,.1 1,.1 1,-.2 1,-.1 1,.1 1,-.1 1,.2 1,-.2 1,.1 1,.1 1,-.1 1,.3 1,-.1 1,-.1 1,.2 1,0 1,-.2 1,.2 1,-.1 1,.1 1,-.1 1,-.1 1,0 1,.1 1,0 1,-.4 1,.3 1,-.8 1,.7 1,-.3 1,.2 1,-.1 1,.2 1,-.2 1,.1 1,-.4 1,.1 1,.3 1,0 1,.2 1,-.1 1,-.3 1,.3 1,-.1 1,.1 1,-.2 1,.1 1,-.3 1,-.2 1,.6 1,-.7 1,.8 1,0 1,-.1 1,.1 1,.1 1,0 1,.1 1,-.4 1,.2 1,0 1,0 1,-.3 1,.1 1,.4 1,-.2 1,-.1 1,-.1 1,.4 1,-.1 1,-.2 1,-.1 1,.1 1,-.4 1,.4 1,-.2 1,0 1,.2 1,0 1,-.7 1,.5 1,0 1,0 1,.2 1,0 1,-.4 1,.4 1,0 1,.1 1,-.8 1,.8 1,0 1,.1 1,0 1,0 1,-.7 1,-.1 1,.6 1,-.1 1,-.7 1,.4 1,-.2 1,.5 1,-.2 1,.2 1,.2 1,-.8 1,.7 1,.2 1,-.1 1,.1 1,-.1 1,0 1,-.1 1,.1 1,0 1,-.3 1,-.4 1,.5 1,-.1 1,-.2 1,-.3 1,.6 1,-.3 1,-.1 1,-.3 1,.8 1,.3 1,-.1 1,.1 1,-.3 1,.2 1,0 1,-.9 1,.8 1,-.2 1,.4 1,-.3 1,.2 1,-.5 1,0 1,.4 1,0 1,-.2 1,.3 1,-.1 1,.2 1,-.3 1,.2 1,0 1,-.3 1,-.2 1,-.7 1,.4 1,.6 1,-.4 1,.2 1,-.2 1,.1 1,-.1 1,.2 1,.2 1,-.2 1,.2 1,-.1 1,-.8 1,.7 1,-.5 1,.8 1,-.1 1,.1 1,-.1 1,.1 1,0 1,-.1 1,-.1 1,0 1,-.1 1,0 1,-.3 1,.5 1,-.3 1,.3 1,0 1,-.4 1,.3 1,0 1,-.1 1,.2 1,0 1,-.2 1,0 1,-.2 1,.1 1,.1 1,-.1 1,.3 1,-.8 1,.6 1,.3 1,0 1,.1 1,0 1,-.5 1,.4 1,-.3 1,.3 1,-.4 1,.2 1,-.1 1,-.8 1,1 1,-1.1 1,1.2 1,0 1,0 1,.1 1,-.7 1,.6 1,-.3 1,.1 1,-.1 1,.1 1,.2 1,-.3 1,.2 1,0 1,-.7 1,.2 1,.5 1,-.4 1,-.5 1,.9 1,.1 1,0 1,.1 1,-.5 1,.3 1,0 1,.3 1,-.2 1,.1 1,-.6 1,.1 1,.1 1,-.1 1,.1 1,-.8 1,.9 1,0 1,-.1 1,.1 1,-.1 1,.3 1,-.1 1,-.1 1,0 1,.1 1,0 1,0 1,-.3 1,.1 1,-.5 1,.7 1,-.1 1,-.2 1,.1 1,.2 1,-.3 1,-.1 1,.2 1,.1 1,-.6 1,-.5 1,1.1 1,0 1,0 1,-.1 1,-.1 1,.4 1,-.5 1,.3 1,-.1 1,0 1,.1 1,0 1,-.2 1,.1 1,0 1,-.1 1,.1 1,.3 1,0 1,-.3 1,.4 1,0 1,-.8 1,.6 1,.1 1,-.1 1,-.7 1,.7 1,-.2 1,-.5 1,.6 1,-1 1,.9 1.5,-.1 0,5.6 -1.5,-.1 -1,-.1 -1,.6 -1,-.6 -1,0 -1,0 -1,.4 -1,-.1 -1,.4 -1,-.7 -1,.1 -1,0 -1,0 -1,.1 -1,0 -1,.1 -1,0 -1,-.1 -1,-.2 -1,.3 -1,-.3 -1,.2 -1,.3 -1,-.2 -1,-.1 -1,.3 -1,0 -1,.3 -1,.2 -1,-.6 -1,-.1 -1,0 -1,.7 -1,-.8 -1,-.1 -1,.3 -1,.6 -1,-.8 -1,.4 -1,-.2 -1,-.2 -1,-.2 -1,.3 -1,-.3 -1,.1 -1,.2 -1,-.1 -1,-.1 -1,.2 -1,.2 -1,-.3 -1,.1 -1,.1 -1,.1 -1,-.2 -1,.3 -1,0 -1,0 -1,.1 -1,-.1 -1,0 -1,-.4 -1,.2 -1,-.3 -1,.8 -1,-.5 -1,-.1 -1,-.1 -1,.4 -1,-.4 -1,.2 -1,-.1 -1,.3 -1,-.2 -1,-.2 -1,0 -1,-.1 -1,.1 -1,0 -1,.2 -1,0 -1,-.1 -1,-.1 -1,0 -1,1 -1,-1 -1,.5 -1,-.4 -1,0 -1,.1 -1,-.3 -1,.4 -1,-.1 -1,.2 -1,-.4 -1,.1 -1,.9 -1,-1.2 -1,.6 -1,-.4 -1,.1 -1,-.3 -1,.1 -1,-.1 -1,0 -1,.2 -1,-.1 -1,1.7 -1,-1.6 -1,0 -1,0 -1,.1 -1,.6 -1,-.3 -1,-.2 -1,0 -1,-.3 -1,.2 -1,.6 -1,-.7 -1,.2 -1,.2 -1,-.1 -1,.7 -1,-.7 -1,.1 -1,-.4 -1,0 -1,.3 -1,-.4 -1,.5 -1,-.1 -1,0 -1,-.1 -1,0 -1,-.1 -1,-.1 -1,-.2 -1,.1 -1,0 -1,.1 -1,.1 -1,.1 -1,-.3 -1,.1 -1,.5 -1,-.6 -1,.1 -1,0 -1,0 -1,0 -1,1 -1,-1 -1,-.2 -1,.2 -1,-.1 -1,-.1 -1,.2 -1,-.1 -1,-.1 -1,.2 -1,-.2 -1,.1 -1,-.1 -1,.6 -1,-.4 -1,-.1 -1,0 -1,.3 -1,0 -1,-.1 -1,-.3 -1,.1 -1,.2 -1,.1 -1,-.4 -1,.3 -1,-.2 -1,.2 -1,-.1 -1,.3 -1,-.3 -1,0 -1,0 -1,1.4 -1,-1.4 -1,.2 -1,0 -1,-.3 -1,.3 -1,.4 -1,-.7 -1,0 -1,.1 -1,.2 -1,-.3 -1,0 -1,-.1 -1,0 -1,1.1 -1,-1.1 -1,0 -1,.4 -1,-.3 -1,-.1 -1,0 -1,.4 -1,-.3 -1,.2 -1,-.1 -1,0 -1,.6 -1,-.7 -1,.3 -1,.2 -1,.1 -1,-.2 -1,0 -1,-.1 -1,0 -1,.3 -1,-.4 -1,0 -1,0 -1,-.1 -1,.1 -1,.2 -1,-.4 -1,.4 -1,-.4 -1,.3 -1,.1 -1,.1 -1,0 -1,1 -1,-1 -1,-.1 -1,.3 -1,-.3 -1,.9 -1,-1 -1,-.2 -1,.1 -1,.2 -1,.3 -1,-.2 -1,-.3 -1,-.2 -1,.2 -1,0 -1,0 -1,.1 -1,.1 -1,-.2 -1,-.2 -1,.2 -1,0 -1,-.1 -1,.5 -1,-.3 -1,.1 -1,-.1 -1,-.3 -1,.4 -1,-.4 -1,.5 -1,-.4 -1,.1 -1,0 -1,.2 -1,-.3 -1,0 -1,1.1 -1,-.9 -1,-.3 -1,0 -1,.1 -1,-.1 -1,-.1 -1,.4 -1,.1 -1,-.4 -1,.3 -1,-.1 -1,.1 -1,-.3 -1,0 -1,.1 -1,0 -1,.1 -1,.9 -1,-1 -1,.1 -1,0 -1,0 -1,.6 -1,-.3 -1,-.1 -1,-.2 -1,.1 -1,-.1 -1,0 -1,.1 -1,.3 -1,-.4 -1,.5 -1,-.3 -1,-.2 -1,.3 -1,-.2 -1,.3 -1,-.4 -1,.3 -1,-.1 -1,0 -1,.2 -1,-.1 -1,0 -1,-.3 -1,.1 -1,-.3 -1,.1 -1,0 -1,.1 -1,0 -1,.1 -1,-.1 -1,0 -1,-.1 -1,.6 -1,-.5 -1,.7 -1,-.2 -1,-.3 -1,-.4 -1,.9 -1,-.7 -1,.5 -1,-.3 -1,-.3 -1,0 -1,1.1 -1,-1.1 -1,.3 -1,-.1 -1,-.2 -1,.6 -1,0 -1,-.2 -1,0 -1,.7 -1,-1 -1,.8 -1,-.3 -1,-.4 -1,.5 -1,-.5 -1,.2 -1,.2 -1,.9 -1,-.5 -1,-.8 -1,.2 -1,-.4 -1,0 -1,.9 -1,-.6 -1,-.3 -1,-.1 -1,0 -1,.2 -1,-.3 -1,.3 -1,.4 -1,-.7 -1,0 -1,.1 -1,0 -1,0 -1,0 -1,-.2 -1,.1 -1,0 -1,.3 -1,.1 -1,.3 -1,-.1 -1,-.3 -1,.2 -1,-.2 -1,0 -1,-.1 -1,-.1 -1,.1 -1,0 -1,-.1 -1,1.1 -1,-.9 -1,-.2 -1,-.1 -1,.2 -1,0 -1,.4 -1,-.4 -1,.1 -1,0 -1,0 -1,-.3 -1,.3 -1,-.3 -1,0 -1,.1 -1,.1 -1,.3 -1,-.5 -1,0 -1,.1 -1,-.1 -1,.1 -1,.2 -1,1 -1,-1 -1,.2 -1,-.4 -1,.2 -1,-.1 -1,1.1 -1,-.7 -1,-.3 -1,.2 -1,-.1 -1,0 -1,0 -1,0 -1,.3 -1,-.2 -1,-.1 -1,.4 -1,-.3 -1,0 -1,-.1 -1,-.1 -1,-.1 -1,-.1 -1,.7 -1,-.5 -1,0 -1,-.1 -1,0 -1,-.2 -1,.2 -1,-.1 -1,-.1 -1,.3 -1,.1 -1,-.1 -1,0 -1,.3 -1,-.2 -1,-.3 -1,.2 -1,.8 -1,-.9 -1,-.1 -1,.2 -1,-.2 -1,0 -1,.1 -1,.5 -1,-.3 -1,.7 -1,-.6 -1,-.1 -1,-.4 -1,.2 -1,0 -1,0 -1,-.1 -1,1.2 -1,-.9 -1,0 -1,.1 -1,.1 -1,-.2 -1,0 -1,.1 -1,-.2 -1,0 -1,-.1 -1,.2 -1,-.1 -1,-.2 -1,.1 -1,.1 -1,.1 -1,-.1 -1,1.1 -1,-1 -1,.1 -1,-.4 -1,.3 -1,-.3 -1,.2 -1,-.3 -1,.3 -1,0 -1,.1 -1,.1 -1,-.3 -1,-.2 -1,0 -1,0 -1,0 -1,.1 -1,.1 -1,.1 -1,0 -1,-.2 -1,.2 -1,0 -1,0 -1,.1 -1,.2 -1,-.1 -1,-.1 -1,0 -1,0 -1,.1 -1,.1 -1,0 -1,-.2 -1,-.1 -1,.7 -1,-.5 -1,.1 -1,.2 -1,-.4 -1,-.1 -1,.2 -1,0 -1,.1 -1,-.3 -1,0 -1,0 -1,.6 -1,-.5 -1,.1 -1,.3 -1,-.4 -1,.3 -1,-.1 -1,.1 -1,-.1 -1,-.2 -1,0 -1,.3 -1,-.3 -1,-.1 -1,-.1 -1,0 -1,-.2 -1,.2 -1,-.2 -1,.2 -1,0 -1,-.2 -1,.1 -1,-.1 -1,0 -1,.9 -1,-.7 -1,-.1 -1,0 -1,.6 -1,-.5 -1,.2 -1,-.1 -1,.4 -1,-.1 -1,-.2 -1,.2 -1,-.2 -1,1 -1,-1.2 -1,.1 -1,0 -1,-.1 -1,-.1 -1,-.1 -1,.2 -1,-.2 -1,.3 -1,-.2 -1,-.1 -1,.3 -1,.3 -1,.3 -1,-.6 -1,-.3 -1,.2 -1,.2 -1,-.2 -1,0 -1,.1 -1,.9 -1,-1 -1,.3 -1,.5 -1,-.6 -1,.1 -1,-.1 -1,-.1 -1,-.1 -1,.2 -1,-.1 -1,-.2 -1,-.1 -1,.1 -1,-.1 -1,.1 -1,.2 -1,-.1 -1,.4 -1,-.1 -1,.3 -1,-.4 -1,0 -1,.2 -1,-.4 -1,0 -1,.7 -1,-.9 -1,.2 -1,-.2 -1,.1 -1,.1 -1,-.2 -1,1.1 -1,-1 -1,0 -1,.4 -1,-.5 -1,.2 -1,-.2 -1,.2 -1,.2 -1,-.2 -1,-.1 -1,.3 -1,.1 -1,0 -1,-.3 -1,-.1 -1,.1 -1,-.1 -1,-.1 -1,.4 -1,.8 -1,-1.1 -1,-.1 -1,1.1 -1,-1.1 -1,1.1 -1,-.5 -1,-.1 -1,0 -1,.1 -1,-.4 -1,0 -1,.1 -1,-.2 -1,.4 -1,-.4 -1,.3 -1,-.2 -1,-.2 -1,.1 -1,.4 -1,-.5 -1,.9 -1,0 -1,-.6 -1,.3 -1,-.4 -1,-.1 -1,.8 -1,-.5 -1,-.1 -1,.6 -1,-.5 -1,-.1 -1,.3 -1,0 -1,.5 -1,-.1 -1,-.8 -1,.7 -1,-.6 -1,-.2 -1,.3 -1,.9 -1,-.9 -1,.3 -1,-.3 -1,-.2 -1,-.1 -1,0 -1,.3 -1,0 -1,-.4 -1,0 -1,.1 -1,-.1 -1,.8 -1,-.7 -1,.6 -1,-.5 -1,-.1 -1,.3 -1,-.2 -1,.1 -1,-.1 -1,0 -1,.1 -1,0 -1,.3 -1,-.6 -1,0 -1,.1 -1,1.1 -1,-.9 -1,-.1 -1,-.1 -1,-.1 -1,.5 -1,-.2 -1,-.2 -1,.3 -1,.6 -1,-.9 -1,.3 -1,-.4 -1,.4 -1,.1 -1,-.1 -1,.3 -1,-.5 -1,.2 -1,0 -1,0 -1,0 -1,.1 -1,-.3 -1,-.1 -1,.6 -1,-.1 -1,-.1 -1,-.1 -1,-.2 -1,-.1 -1,.3 -1,-.4 -1,.1 -1,.3 -1,0 -1,-.2 -1,.8 -1,-.7 -1,.5 -1,-.7 -1,.9 -1,-.9 -1,-.1 -1,.3 -1,-.4 -1,.1 -1,-.1 -1,.3 -1,.4 -1,-.2 -1,-.3 -1,.3 -1,0 -1,.2 -1,-.1 -1,.4 -1,-.5 -1,0 -1,-.2 -1,.2 -1,-.1 -1,0 -1,0 -1,-.3 -1,0 -1,0 -1,.2 -1,0 -1,-.3 -1,.1 -1,.2 -1,0 -1,-.1 -1,.3 -1,.1 -1,-.1 -1,-.1 -1,.8 -1,-.6 -1,-.3 -1,-.1 -1,.3 -1,-.2 -1,.2 -1,-.1 -1,.1 -1,-.1 -1,0 -1,.1 -1,.2 -1,-.3 -1,.2 -1,-.4 -1,-.1 -1,.3 -1,-.3 -1,.2 -1,.1 -1,-.4 -1,.2 -1,-.1 -1,.2 -1,.1 -1,-.3 -1,0 -1,0 -1,.3 -1,.2 -1,.2 -1,-.3 -1,.6 -1,-.5 -1,.4 -1,-.6 -1,.4 -1,-.4 -1,-.1 -1,-.2 -1,0 -1,.2 -1,0 -1,0 -1,.3 -1,.1 -1,-.4 -1,.2 -1,-.1 -1,.2 -1,-.3 -1,-.1 -1,.1 -1,-.3 -1,.1 -1,.1 -1,0 -1,.3 -1,.5 -1,-.3 -1,-.3 -1,.6 -1,-.2 -1,-.2 -1,.2 -1,-.5 -1,.4 -1,-.3z"/>
<path fill="#008000" d="M137.5,542.9l1,-.1 1,-.5 1,.6 1,-.1 1,-.1 1,-.3 1,.4 1,0 1,.1 1,0 1,-.1 1,-1.1 1,.8 1,.3 1,-.3 1,.3 1,.1 1,.1 1,.3 1,-.8 1,.7 1,-.2 1,.1 1,-.2 1,.1 1,.2 1,-.2 1,-.6 1,.7 1,-.2 1,-.1 1,-.1 1,.3 1,-.2 1,.4 1,-.9 1,.8 1,.1 1,-.3 1,.3 1,-.1 1,0 1,-.1 1,-.3 1,.3 1,-.1 1,.3 1,0 1,-.1 1,0 1,-.3 1,.3 1,-.5 1,.5 1,0 1,.1 1,-.2 1,.2 1,0 1,-.1 1,.1 1,-.2 1,.2 1,-.1 1,0 1,-.2 1,-.1 1,-.1 1,-.1 1,-.4 1,.6 1,.1 1,.2 1,-.1 1,0 1,-.7 1,-.2 1,.6 1,.2 1,.3 1,-.3 1,-.1 1,.3 1,0 1,.1 1,-.6 1,.6 1,-.5 1,.3 1,.3 1,-.1 1,-1 1,.9 1,.1 1,-.3 1,.3 1,-.2 1,.2 1,-.7 1,.7 1,-.3 1,.2 1,-.2 1,-.4 1,.3 1,.2 1,.1 1,0 1,0 1,-.1 1,0 1,.1 1,-.3 1,.3 1,0 1,-.2 1,.1 1,-1.1 1,-.1 1,1 1,.1 1,.2 1,.1 1,0 1,-.1 1,.1 1,-.2 1,.2 1,.1 1,-.2 1,0 1,-1.1 1,1 1,-.5 1,.4 1,-.1 1,-.1 1,-.1 1,-.5 1,.6 1,-.4 1,.3 1,.2 1,-.8 1,.8 1,0 1,-.1 1,-.5 1,.8 1,.1 1,-.8 1,-.5 1,1.4 1,0 1,-.1 1,.1 1,-.5 1,.6 1,-.3 1,0 1,0 1,.1 1,0 1,-1.2 1,1.2 1,.1 1,-.1 1,.1 1,-.3 1,.3 1,-.1 1,-.1 1,.2 1,-.4 1,.2 1,0 1,.1 1,-.5 1,.6 1,-.1 1,-.1 1,.1 1,-.2 1,.2 1,-.1 1,.1 1,-.3 1,.1 1,.2 1,-.2 1,0 1,-.2 1,.2 1,.1 1,-.4 1,.4 1,-.1 1,.3 1,-.2 1,-.1 1,.4 1,-.1 1,-.3 1,.2 1,-.8 1,.7 1,-.3 1,-.4 1,.4 1,0 1,.2 1,0 1,.3 1,0 1,-.5 1,.4 1,.1 1,0 1,-.1 1,-.1 1,-.8 1,.7 1,.1 1,0 1,.1 1,-.5 1,.2 1,-.1 1,.3 1,-.2 1,.1 1,0 1,0 1,.1 1,-.3 1,.3 1,.1 1,-.9 1,1 1,-.2 1,0 1,.2 1,.1 1,-.4 1,0 1,.2 1,-.1 1,-.9 1,1.2 1,-.9 1,.7 1,.1 1,-.2 1,0 1,0 1,-.4 1,.4 1,-1 1,.1 1,1 1,-.1 1,-.1 1,-.2 1,-.1 1,.3 1,-.3 1,.3 1,-.8 1,.7 1,.1 1,.2 1,-.4 1,-.3 1,.7 1,0 1,-.1 1,.1 1,.1 1,-.6 1,.6 1,-.3 1,0 1,.2 1,.2 1,-.6 1,.5 1,-.2 1,-.2 1,0 1,-.1 1,0 1,-.5 1,.4 1,.1 1,0 1,.1 1,.1 1,0 1,0 1,0 1,.2 1,-1.1 1,.8 1,.1 1,-.3 1,.5 1,-.1 1,.1 1,-.3 1,.3 1,0 1,-.3 1,.3 1,0 1,-.1 1,0 1,-.3 1,-.4 1,.3 1,0 1,-.7 1,.9 1,-.1 1,.1 1,-.5 1,.4 1,-.4 1,.4 1,.4 1,-.2 1,.1 1,.1 1,-.4 1,.3 1,0 1,.3 1,-.1 1,.1 1,-.8 1,.6 1,0 1,-.4 1,.4 1,.1 1,-.4 1,.3 1,-.1 1,-.8 1,.8 1,.2 1,0 1,0 1,-.5 1,.2 1,.3 1,-.2 1,0 1,-.1 1,0 1,-.3 1,.1 1,-.1 1,.2 1,0 1,-.1 1,.1 1,-.9 1,.9 1,.1 1,0 1,-.1 1,-.2 1,-.2 1,.5 1,-.2 1,.1 1,-.1 1,.1 1,.4 1,-.2 1,.2 1,-.4 1,-.3 1,-.4 1,.9 1,.1 1,0 1,-.8 1,.2 1,0 1,.4 1,-.2 1,0 1,.3 1,-.1 1,.1 1,0 1,-.1 1,.3 1,-.5 1,.1 1,0 1,.4 1,-.1 1,.1 1,0 1,-1.1 1,1.1 1,-.1 1,-.3 1,.1 1,.2 1,.2 1,-.3 1,.1 1,-.1 1,.1 1,0 1,.1 1,-.1 1,-.2 1,-.2 1,-.9 1,1 1,-.2 1,.2 1,-.2 1,.2 1,.2 1,-.2 1,0 1,.1 1,.2 1,-.7 1,.7 1,0 1,.1 1,-.1 1,-.3 1,.3 1,-.1 1,-.5 1,.4 1,0 1,-.1 1,.1 1,.1 1,-.3 1,.2 1,0 1,-.1 1,.3 1,-.1 1,0 1,0 1,-.2 1,.2 1,.1 1,-.4 1,.4 1,-.6 1,.3 1,.2 1,-.1 1,.1 1,-.1 1,-.1 1,.3 1,-.1 1,-.1 1,.1 1,-.2 1,-.1 1,.2 1,.1 1,.1 1,-1 1,.9 1,-.3 1,.2 1,.1 1,0 1,0 1,-.1 1,0 1,-.1 1,0 1,.1 1,0 1,-.2 1,-.1 1,-.2 1,-.5 1,1.1 1,.3 1,-.1 1,0 1,-.1 1,-.4 1,.4 1,-.4 1,.2 1,-.9 1,.9 1,-.1 1,-.1 1,0 1,.2 1,-.1 1,-.1 1,.1 1,-.1 1,-.2 1,-.7 1,1.1 1,-.1 1,.2 1,-.4 1,.2 1,.2 1,-.4 1,.3 1,-.3 1,.2 1,-.1 1,.2 1,.1 1,-.2 1,.1 1,-.3 1,.1 1,0 1,0 1,-1.1 1,1.2 1,0 1,-.4 1,.1 1,.1 1,.2 1,-.5 1,.2 1,0 1,.3 1,-.3 1,.3 1,-.3 1,.3 1,.1 1,.1 1,.1 1,-.2 1,-.6 1,.7 1,.1 1,0 1,-.2 1,.1 1,-.2 1,0 1,-.1 1,.2 1,-.8 1,.8 1,.2 1,-.1 1,-.1 1,-1 1,1.1 1,-1.1 1,1.2 1,-.2 1,0 1,.1 1,.2 1,-.1 1,0 1,0 1,-.1 1,0 1,.1 1,.1 1,-.6 1,.2 1,.3 1,0 1,0 1,0 1,-.2 1,.1 1,-.6 1,.6 1,-.2 1,.1 1,.3 1,-.1 1,-1 1,1.1 1,-.2 1,.2 1,-.1 1,-.3 1,.4 1,-.3 1,.1 1,0 1,0 1,.2 1,-.2 1,-.1 1,-.1 1,.2 1,.2 1,0 1,-.3 1,0 1,0 1,.1 1,-.4 1,.4 1,-.4 1,.5 1,.1 1,-.1 1,-.4 1,.3 1,.2 1,-.3 1,0 1,0 1,-.1 1,0 1,-.6 1,.7 1,0 1,-.3 1,.6 1,-.1 1,-.1 1,.1 1,-.2 1,.2 1,.2 1,-.2 1,-.6 1,.5 1,-.4 1,.3 1,.1 1,-.1 1,-.2 1,.2 1,-.2 1,.2 1,-.2 1,.2 1,-.2 1,.1 1,-.4 1,.3 1,.1 1,0 1,-.2 1,.3 1,-.1 1,-.2 1,.4 1,-.7 1,.6 1,-.1 1,-.2 1,.2 1,-.2 1,.2 1,-.1 1,.1 1,-.1 1,.2 1,-.1 1,.2 1,-.1 1,-.1 1,.1 1,-.2 1,.1 1,.4 1,-.2 1,-.1 1,.2 1,-.1 1,.1 1,.1 1,0 1,-.1 1,.1 1,0 1,0 1,-1.1 1,1.1 1,0 1,.1 1,-.1 1,-1.2 1,1.1 1,.1 1,0 1,-.3 1,-.2 1,.1 1,.1 1,-.3 1,-.7 1,.9 1,-.1 1,0 1,.3 1,0 1,0 1,.1 1,-.1 1,-.2 1,.1 1,.1 1,-.2 1,.1 1,-.3 1,0 1,-.1 1,.2 1,.1 1,0 1,0 1,-.2 1,-.1 1,.2 1,-.2 1,.3 1,0 1,-.2 1,.1 1,.1 1,.1 1,-.5 1,.6 1,0 1,.3 1,-.8 1,.5 1,.1 1,0 1,-.3 1,.4 1,-.6 1,.3 1,0 1,-.3 1,-.4 1,.5 1,0 1,.4 1,-.1 1,-.5 1,.2 1,.3 1,.1 1,-.2 1,.2 1,-.2 1,.2 1,-.4 1,.4 1,-.1 1,0 1,.1 1,-.3 1,-.1 1,.4 1,-.3 1,-.5 1,.8 1,-.1 1,-.3 1,-.3 1,.6 1,.1 1,0 1,0 1,-.1 1,0 1,-.1 1,.1 1,.1 1,0 1,0 1,-.3 1,.3 1,-.1 1,.1 1,0 1,-.3 1,-1.1 1,.2 1,1 1,-.7 1,.4 1,.2 1,-.3 1,.5 1,0 1,-.6 1,.8 1,-.2 1,-.1 1,-.1 1,-.2 1,.6 1,-.1 1,-.6 1,.6 1,-.1 1,.1 1,-.1 1,-.1 1,-.1 1,0 1,-.3 1,.1 1,-.5 1,.5 1,.2 1,.1 1,-.2 1,.4 1,-.4 1,.4 1,-.1 1,.2 1,-.5 1,.1 1,.1 1,-.2 1,0 1,-.2 1,.3 1,-.8 1,.3 1,.4 1,-.1 1,.2 1,-.2 1,0 1,.1 1,0 1,.1 1,-.1 1,.2 1,0 1,-.2 1,.1 1,-.2 1,-.6 1,1.1 1,-.5 1,.4 1,-.3 1,.2 1,0 1,.1 1,-.2 1,0 1,.2 1,-.5 1,.3 1,.1 1,-.3 1.5,-.3 0,6 -1.5,.1 -1,.6 -1,-1 -1,.1 -1,0 -1,.6 -1,-.7 -1,.4 -1,-.3 -1,-.1 -1,.3 -1,.5 -1,-.3 -1,0 -1,-.1 -1,-.2 -1,.2 -1,.1 -1,-.4 -1,.2 -1,-.2 -1,.9 -1,-.9 -1,.1 -1,.3 -1,-.2 -1,.1 -1,-.1 -1,-.1 -1,.4 -1,-.1 -1,0 -1,-.2 -1,.3 -1,.1 -1,-.3 -1,0 -1,0 -1,-.3 -1,.3 -1,-.3 -1,.2 -1,.2 -1,0 -1,-.2 -1,0 -1,0 -1,.2 -1,.1 -1,-.1 -1,0 -1,-.1 -1,0 -1,.7 -1,-.3 -1,-.3 -1,-.1 -1,.2 -1,-.3 -1,0 -1,.2 -1,-.4 -1,.1 -1,.1 -1,0 -1,-.1 -1,0 -1,-.2 -1,.4 -1,-.2 -1,.1 -1,-.1 -1,.4 -1,-.5 -1,.6 -1,-.5 -1,-.1 -1,0 -1,-.1 -1,0 -1,.4 -1,.6 -1,-.9 -1,0 -1,0 -1,.3 -1,.1 -1,-.4 -1,0 -1,0 -1,.1 -1,0 -1,.5 -1,.2 -1,-.5 -1,.1 -1,-.1 -1,.4 -1,-.3 -1,-.1 -1,-.1 -1,.1 -1,.1 -1,-.1 -1,0 -1,.1 -1,.4 -1,-.1 -1,-.3 -1,.4 -1,-.4 -1,0 -1,-.1 -1,-.2 -1,.2 -1,-.3 -1,.2 -1,.9 -1,-1.1 -1,0 -1,.4 -1,-.3 -1,.2 -1,-.2 -1,.3 -1,.2 -1,-.5 -1,0 -1,-.2 -1,0 -1,.2 -1,-.1 -1,0 -1,0 -1,.4 -1,-.3 -1,-.1 -1,.2 -1,-.1 -1,-.1 -1,.6 -1,-.5 -1,-.2 -1,.3 -1,-.2 -1,-.1 -1,0 -1,.9 -1,-.7 -1,-.2 -1,.4 -1,-.2 -1,-.1 -1,.2 -1,-.1 -1,.2 -1,-.1 -1,.2 -1,-.1 -1,0 -1,-.1 -1,.2 -1,.2 -1,-.3 -1,-.1 -1,.2 -1,-.1 -1,-.1 -1,.4 -1,.9 -1,-1 -1,-.2 -1,0 -1,-.1 -1,-.1 -1,.2 -1,-.1 -1,0 -1,.2 -1,0 -1,1.1 -1,-.9 -1,-.3 -1,-.1 -1,1 -1,-1.2 -1,.4 -1,0 -1,-.3 -1,.2 -1,0 -1,-.3 -1,0 -1,.2 -1,-.3 -1,.1 -1,.1 -1,.6 -1,-.4 -1,.1 -1,0 -1,.1 -1,.2 -1,-.3 -1,1.2 -1,-1.3 -1,0 -1,-.2 -1,0 -1,.1 -1,-.2 -1,0 -1,0 -1,0 -1,-.1 -1,.1 -1,-.1 -1,.1 -1,.1 -1,-.2 -1,.3 -1,.2 -1,-.2 -1,0 -1,.1 -1,.1 -1,.4 -1,-.6 -1,-.1 -1,.2 -1,0 -1,.3 -1,-.3 -1,0 -1,.2 -1,.4 -1,-.4 -1,.8 -1,-1.1 -1,.1 -1,-.2 -1,.2 -1,-.3 -1,.3 -1,-.3 -1,-.1 -1,.1 -1,.2 -1,-.2 -1,0 -1,.2 -1,-.1 -1,-.1 -1,0 -1,.1 -1,-.1 -1,.3 -1,-.3 -1,0 -1,.2 -1,0 -1,.1 -1,-.2 -1,.4 -1,-.1 -1,-.2 -1,.2 -1,-.2 -1,.5 -1,-.7 -1,.4 -1,.2 -1,-.7 -1,0 -1,.3 -1,.8 -1,-.6 -1,-.3 -1,-.1 -1,.2 -1,-.3 -1,.3 -1,-.1 -1,-.1 -1,0 -1,.3 -1,-.3 -1,.3 -1,-.3 -1,1.2 -1,-1 -1,0 -1,0 -1,.3 -1,.1 -1,0 -1,.4 -1,-.4 -1,-.2 -1,-.1 -1,.1 -1,0 -1,-.2 -1,.3 -1,-.5 -1,.1 -1,.4 -1,-.2 -1,-.1 -1,.1 -1,.2 -1,-.5 -1,.3 -1,0 -1,-.1 -1,.1 -1,0 -1,-.4 -1,.1 -1,.2 -1,.2 -1,.8 -1,.2 -1,-.9 -1,0 -1,-.1 -1,.3 -1,-.2 -1,0 -1,.1 -1,.7 -1,-1.1 -1,0 -1,-.2 -1,.1 -1,.1 -1,0 -1,0 -1,.4 -1,-.3 -1,-.1 -1,0 -1,-.1 -1,-.1 -1,.1 -1,0 -1,0 -1,0 -1,-.1 -1,0 -1,-.1 -1,.2 -1,.1 -1,0 -1,.1 -1,-.1 -1,-.1 -1,.2 -1,.3 -1,-.1 -1,-.5 -1,.9 -1,-.7 -1,-.1 -1,.4 -1,-.4 -1,-.1 -1,.2 -1,-.2 -1,.2 -1,0 -1,-.2 -1,0 -1,.2 -1,.2 -1,-.1 -1,-.2 -1,.4 -1,-.6 -1,.3 -1,-.2 -1,.2 -1,.1 -1,.8 -1,-1 -1,.1 -1,-.1 -1,-.2 -1,0 -1,.3 -1,-.1 -1,.3 -1,-.4 -1,.3 -1,-.3 -1,.2 -1,-.1 -1,-.1 -1,.2 -1,-.1 -1,.9 -1,-.5 -1,-.3 -1,.1 -1,.2 -1,-.1 -1,0 -1,-.1 -1,-.1 -1,-.2 -1,.3 -1,-.1 -1,.1 -1,-.1 -1,.2 -1,0 -1,0 -1,0 -1,1.5 -1,-1.2 -1,-.2 -1,-.2 -1,-.2 -1,.1 -1,.5 -1,-.5 -1,0 -1,.1 -1,-.1 -1,.1 -1,.8 -1,-1 -1,.3 -1,-.3 -1,0 -1,.1 -1,-.3 -1,0 -1,.9 -1,-.7 -1,0 -1,-.1 -1,.3 -1,-.4 -1,.1 -1,.4 -1,.2 -1,-.1 -1,-.4 -1,.1 -1,.1 -1,-.2 -1,0 -1,.1 -1,.1 -1,.1 -1,-.1 -1,-.1 -1,0 -1,0 -1,0 -1,.2 -1,-.4 -1,.7 -1,-.3 -1,-.2 -1,-.3 -1,0 -1,.8 -1,-.4 -1,-.4 -1,.1 -1,.2 -1,0 -1,.3 -1,0 -1,-.2 -1,-.2 -1,.3 -1,-.3 -1,0 -1,0 -1,0 -1,.3 -1,-.1 -1,.1 -1,-.2 -1,.4 -1,-.1 -1,-.1 -1,.6 -1,-.7 -1,-.2 -1,-.1 -1,.1 -1,-.1 -1,.1 -1,-.1 -1,.1 -1,0 -1,-.1 -1,.5 -1,-.4 -1,0 -1,1.3 -1,-1.2 -1,.1 -1,0 -1,0 -1,0 -1,.2 -1,-.2 -1,.2 -1,-.1 -1,0 -1,-.2 -1,.3 -1,-.1 -1,.2 -1,-.5 -1,-.1 -1,.5 -1,-.5 -1,0 -1,.1 -1,.2 -1,-.2 -1,-.1 -1,0 -1,.1 -1,-.1 -1,.3 -1,.1 -1,.1 -1,-.4 -1,.4 -1,-.2 -1,0 -1,.8 -1,-.8 -1,-.2 -1,.2 -1,-.2 -1,.4 -1,-.2 -1,0 -1,.4 -1,-.1 -1,0 -1,.2 -1,-.6 -1,.2 -1,-.1 -1,-.2 -1,-.1 -1,.1 -1,-.1 -1,.1 -1,-.1 -1,.4 -1,0 -1,-.3 -1,0 -1,.1 -1,-.2 -1,.4 -1,-.2 -1,-.1 -1,0 -1,.1 -1,.1 -1,0 -1,-.1 -1,.4 -1,-.5 -1,.2 -1,.2 -1,-.5 -1,.1 -1,0 -1,-.1 -1,.3 -1,-.2 -1,0 -1,.1 -1,0 -1,.5 -1,-.6 -1,-.1 -1,.3 -1,-.2 -1,-.1 -1,.1 -1,.2 -1,-.2 -1,0 -1,.9 -1,-.8 -1,-.2 -1,.2 -1,-.1 -1,.2 -1,.2 -1,-.2 -1,.1 -1,0 -1,-.2 -1,1.3 -1,-1.3 -1,.4 -1,-.5 -1,0 -1,-.1 -1,1.1 -1,-1.2 -1,.3 -1,0 -1,.1 -1,0 -1,.6 -1,-.7 -1,.4 -1,-.3 -1,.3 -1,.3 -1,-.6 -1,.1 -1,.3 -1,-.3 -1,0 -1,1 -1,-1.1 -1,0 -1,.4 -1,-.4 -1,0 -1,.1 -1,0 -1,.2 -1,-.3 -1,.1 -1,0 -1,-.1 -1,.1 -1,0 -1,-.1 -1,.3 -1,-.5 -1,.2 -1,-.4 -1,.3 -1,-.3 -1,0 -1,.4 -1,.1 -1,0 -1,-.1 -1,-.1 -1,0 -1,.5 -1,-.4 -1,.2 -1,-.1 -1,-.4 -1,.1 -1,-.1 -1,-.1 -1,.1 -1,.1 -1,.2 -1,0 -1,.1 -1,.1 -1,0 -1,.1 -1,-.2 -1,-.2 -1,-.1 -1,0 -1,0 -1,-.1 -1,.1 -1,.2 -1,-.4 -1,.1 -1,.5 -1,-.6 -1,.1 -1,.2 -1,-.3 -1,.1 -1,.2 -1,.6 -1,-.9 -1,.2 -1,-.1 -1,-.1 -1,.2 -1,0 -1,.2 -1,.3 -1,0 -1,.1 -1,-.3 -1,.3 -1,.5 -1,-.7 -1,-.1 -1,-.2 -1,.1 -1,-.1 -1,-.1 -1,.1 -1,0 -1,.1 -1,.3 -1,-.4 -1,.4 -1,-.3 -1,-.3 -1,.2 -1,0 -1,.7 -1,-.6 -1,0 -1,-.1 -1,-.2 -1,.3 -1,-.1 -1,-.1 -1,0 -1,.2 -1,.4 -1,-.6 -1,.4 -1,-.3 -1,.1 -1,0 -1,1.1 -1,-1 -1,-.2 -1,.2 -1,.9 -1,-1.1 -1,-.1 -1,0 -1,0 -1,0 -1,0 -1,.2 -1,.1 -1,-.1 -1,.1 -1,-.1 -1,-.2 -1,0 -1,-.1 -1,0 -1,0 -1,0 -1,0 -1,0 -1,.3 -1,.2 -1,-.3 -1,.4 -1,-.2 -1,0 -1,.1 -1,-.3 -1,-.1 -1,.2 -1,-.1 -1,.5 -1,-.2 -1,.3 -1,-.6 -1,.6 -1,-.4 -1,-.1 -1,0 -1,.2 -1,-.2 -1,.1 -1,.1 -1,-.2 -1,0 -1,.2 -1,-.2 -1,.3 -1,-.3 -1,.1 -1,-.1 -1,-.2 -1,.3 -1,-.2 -1,-.1 -1,.6 -1,-.5 -1,.4 -1,-.1 -1,-.2 -1,0 -1,-.1 -1,.3 -1,0 -1,-.1 -1,0 -1,-.3 -1,.1 -1,.1 -1,.2 -1,-.3 -1,0 -1,.7 -1,-.5 -1,.1 -1,-.3 -1,0 -1,-.1 -1,0 -1,.3 -1,0 -1,-.4 -1,.5 -1,-.2 -1,-.1 -1,0 -1,0 -1,0 -1,-.2 -1,.1 -1,.5 -1,-.3 -1,.1 -1,.1 -1,.1 -1,-.3 -1,.3 -1,.5 -1,-.4 -1,.2 -1,-.5 -1,0 -1,0 -1,-.3 -1,.1 -1,0 -1,0 -1,0 -1,.7 -1,-.8 -1,-.2 -1,.2 -1,-.1 -1,0 -1,0 -1,0 -1,.1 -1,.2 -1,-.1 -1,-.3 -1,.2 -1,0 -1,-.2 -1,.1 -1,.9 -1,-.5 -1,-.3 -1,0 -1,-.1 -1,.1 -1,0 -1,.1 -1,0 -1,.3z"/>
<path fill="#000000" d="M137.5,574.5l1,.1 1,-.2 1,-.2 1,.2 1,0 1,.1 1,.1 1,.1 1,-.5 1,.5 1,-1.1 1,.7 1,.5 1,-.5 1,.3 1,0 1,.1 1,-.1 1,-.7 1,.3 1,.1 1,-1.2 1,1.2 1,-.1 1,-.1 1,-.1 1,-.3 1,-.6 1,.9 1,.2 1,-.1 1,-1.2 1,1.2 1,.3 1,-.2 1,.2 1,.1 1,.1 1,-.1 1,-.1 1,0 1,-.3 1,0 1,-.5 1,-.5 1,.9 1,-.1 1,.4 1,0 1,0 1,-.6 1,.7 1,-.7 1,.9 1,0 1,-.1 1,-.3 1,.4 1,-.1 1,.1 1,-.1 1,.1 1,0 1,0 1,-.1 1,0 1,0 1,.2 1,-.2 1,0 1,0 1,-.2 1,.3 1,-.1 1,0 1,-.1 1,0 1,.1 1,.3 1,-.3 1,-.1 1,.1 1,0 1,.1 1,-.1 1,-.4 1,.1 1,-.3 1,0 1,.6 1,.2 1,0 1,-.1 1,.1 1,-.9 1,.8 1,0 1,.1 1,-.1 1,-.3 1,-.3 1,-.2 1,-.2 1,.6 1,.3 1,0 1,-.3 1,.1 1,0 1,-.5 1,.5 1,0 1,-.4 1,.4 1,.1 1,-.2 1,.2 1,0 1,0 1,.2 1,-.1 1,.1 1,-.4 1,.2 1,-.8 1,1.1 1,-.2 1,0 1,.2 1,0 1,-1 1,1 1,-.8 1,.8 1,-.1 1,-.3 1,.1 1,-.8 1,-.2 1,1.2 1,-.5 1,.2 1,-.1 1,.1 1,-.1 1,.1 1,-.4 1,.1 1,-.8 1,1.3 1,-.2 1,.1 1,.2 1,-.1 1,.1 1,-.1 1,-.3 1,0 1,-.2 1,.5 1,-.3 1,.2 1,-.3 1,.2 1,.2 1,-.1 1,0 1,-.1 1,.4 1,-.1 1,-.8 1,.6 1,.1 1,.3 1,0 1,-.4 1,.3 1,-.1 1,-.1 1,-.5 1,.6 1,.1 1,0 1,0 1,0 1,.1 1,-.4 1,-.5 1,.7 1,.1 1,.1 1,-.3 1,-.1 1,.3 1,0 1,0 1,-.2 1,-.3 1,.3 1,-.3 1,.4 1,-.3 1,.2 1,-.2 1,.3 1,-.9 1,1 1,0 1,0 1,-.2 1,-.2 1,.4 1,-.5 1,.6 1,-.3 1,.1 1,-.2 1,0 1,-.3 1,.3 1,-.2 1,.1 1,-.1 1,.3 1,0 1,0 1,-.1 1,.1 1,-.1 1,0 1,.1 1,.2 1,0 1,0 1,-.4 1,-.5 1,1 1,-.7 1,.6 1,.1 1,-.5 1,.3 1,.2 1,-.2 1,-.2 1,-.1 1,.3 1,0 1,.2 1,-.3 1,.2 1,-.1 1,0 1,-.1 1,-1 1,1.2 1,-.1 1,0 1,-.4 1,.1 1,.2 1,0 1,.1 1,-.1 1,-.6 1,-.4 1,1.1 1,.2 1,-1.2 1,.8 1,.2 1,.1 1,0 1,0 1,0 1,-.4 1,-.7 1,.4 1,.8 1,-.6 1,.3 1,.2 1,-.1 1,.1 1,0 1,-.1 1,0 1,0 1,0 1,.1 1,-.1 1,-.3 1,0 1,.1 1,.1 1,.1 1,0 1,-.2 1,.2 1,.1 1,0 1,-.2 1,-.4 1,.6 1,-1.2 1,1 1,0 1,-.1 1,-.6 1,.7 1,0 1,-.1 1,.1 1,.1 1,-.3 1,.3 1,.1 1,-.1 1,-.1 1,.1 1,.1 1,-.3 1,.1 1,.2 1,.1 1,-.2 1,-1.1 1,.9 1,-.3 1,.6 1,-.3 1,-.2 1,.1 1,.1 1,0 1,-.5 1,.6 1,-.1 1,-.3 1,.3 1,.1 1,-.1 1,.2 1,-.1 1,-.1 1,0 1,-.2 1,.2 1,-.6 1,.6 1,.1 1,-.1 1,0 1,.2 1,0 1,.1 1,-.2 1,-.1 1,.1 1,-.7 1,.6 1,.2 1,-.2 1,0 1,-.2 1,-.1 1,.1 1,-.1 1,.5 1,-.1 1,-.3 1,.1 1,.2 1,-.3 1,-.1 1,.4 1,-.5 1,.2 1,-.5 1,.8 1,-.2 1,0 1,.1 1,-.3 1,.2 1,.3 1,-.3 1,.3 1,.1 1,0 1,0 1,.1 1,-.2 1,-.1 1,.1 1,-.1 1,-.3 1,.1 1,.2 1,0 1,-1 1,.8 1,-.1 1,.3 1,0 1,0 1,0 1,.1 1,0 1,0 1,-.1 1,-.2 1,.3 1,-.1 1,.2 1,-.3 1,.1 1,.1 1,.1 1,-.3 1,.2 1,-.5 1,.4 1,-.1 1,-.1 1,-.7 1,.9 1,0 1,-.3 1,.2 1,.1 1,-.2 1,.2 1,.1 1,-.7 1,.5 1,.1 1,0 1,-.2 1,.3 1,.1 1,.1 1,-.2 1,-.2 1,.3 1,-.6 1,.1 1,.6 1,-.4 1,-.1 1,.1 1,-.8 1,.3 1,.4 1,.2 1,0 1,.1 1,0 1,-.3 1,.1 1,.1 1,-.7 1,.6 1,-.1 1,0 1,-.1 1,0 1,-.5 1,.6 1,.1 1,.3 1,-.6 1,.3 1,-.9 1,.9 1,-.1 1,.1 1,0 1,0 1,0 1,0 1,-1 1,1.3 1,0 1,-1 1,.9 1,0 1,.1 1,0 1,-.2 1,-.1 1,.2 1,-.1 1,.1 1,.1 1,-.3 1,.2 1,-.1 1,.2 1,.1 1,0 1,-.1 1,0 1,-.5 1,.3 1,.1 1,-.3 1,.2 1,0 1,0 1,.1 1,0 1,-.2 1,.2 1,-.3 1,-.3 1,.1 1,.6 1,-.1 1,-.3 1,.4 1,-.3 1,.1 1,.2 1,0 1,-.1 1,-.1 1,.1 1,-.1 1,.3 1,-.1 1,-.1 1,-.2 1,.4 1,-.5 1,.2 1,.1 1,-.3 1,-.3 1,0 1,.6 1,.2 1,-.2 1,-.1 1,.1 1,-.3 1,.2 1,-.2 1,.1 1,-.2 1,.2 1,0 1,-.2 1,.2 1,.1 1,-.3 1,.1 1,0 1,-.1 1,-.9 1,1.1 1,-.2 1,-.3 1,.3 1,.1 1,0 1,-.1 1,-.4 1,.3 1,.1 1,.1 1,-1.2 1,1.3 1,.1 1,.2 1,.1 1,-.1 1,0 1,-.1 1,.1 1,-.2 1,-.5 1,.7 1,-.3 1,0 1,-.1 1,.2 1,-.3 1,.2 1,0 1,0 1,-.1 1,-.2 1,.3 1,.2 1,.1 1,-.3 1,-.1 1,.1 1,.1 1,-.2 1,-.1 1,0 1,0 1,-.1 1,.2 1,-.3 1,.4 1,0 1,.1 1,-.2 1,.1 1,0 1,.4 1,-.2 1,-.1 1,-.1 1,-.1 1,.5 1,-.4 1,-.3 1,.6 1,-.6 1,-.5 1,.9 1,-.1 1,.2 1,-.3 1,.1 1,.3 1,-.6 1,.4 1,-.1 1,.3 1,.1 1,0 1,-.8 1,.8 1,0 1,-.2 1,0 1,.2 1,-.1 1,-1 1,.6 1,.1 1,0 1,0 1,.2 1,-.1 1,-.1 1,-.1 1,-.2 1,0 1,0 1,.3 1,-.9 1,.8 1,.3 1,-.2 1,-.3 1,-.1 1,.6 1,-.3 1,.3 1,-.6 1,.8 1,-.2 1,-.1 1,.2 1,-.8 1,.7 1,-.1 1,-.1 1,0 1,-.6 1,.6 1,.1 1,-.3 1,-.2 1,.4 1,0 1,.1 1,.1 1,.1 1,-.2 1,.1 1,0 1,0 1,.1 1,.1 1,-.4 1,-.7 1,.9 1,-.3 1,.3 1,0 1,-.1 1,.1 1,0 1,.1 1,-.2 1,.1 1,-.1 1,.1 1,-.3 1,-.1 1,.4 1,0 1,0 1,-.1 1,.1 1,0 1,-.1 1,.2 1,.1 1,0 1,-.3 1,.1 1,0 1,-.1 1,0 1,0 1,-.2 1,-1 1,.9 1,.2 1,0 1,-.7 1,.8 1,-.1 1,.1 1,-.6 1,.4 1,.3 1,0 1,-.4 1,0 1,0 1,.2 1,-1.2 1,1.2 1,0 1,-.1 1,-1 1,.7 1,.1 1,.1 1,.1 1,.1 1,-.1 1,.2 1,-.2 1,-.6 1,.8 1,0 1,0 1,0 1,-.1 1,-.1 1,.2 1,-.4 1,.1 1,.3 1,-.1 1,0 1,.1 1,-.3 1,.4 1,-.4 1,.3 1,.1 1,0 1,-.6 1,.7 1,-.2 1,.1 1,0 1,0 1,-.2 1,.4 1,0 1,-.2 1,.1 1,-.3 1,.4 1,-.1 1,-.1 1,-.1 1,.2 1,-.1 1,-.6 1,.5 1,-.4 1,.4 1,-.2 1,0 1,.2 1,-.1 1,.2 1,.2 1,-.1 1,-.1 1,0 1,-.8 1,.8 1,.1 1,-.2 1,-.2 1,.2 1,-.3 1,.5 1,-.1 1,0 1,.2 1,-.4 1,.2 1,-.1 1,.2 1,-.2 1,.1 1,0 1,-.4 1,-.1 1,.3 1,.1 1,0 1,-.3 1,.2 1,0 1,-.1 1,-.2 1,.1 1,.3 1,-.3 1,.2 1,0 1,-.5 1,-.2 1,1 1,-.5 1,.5 1,-.1 1,.2 1,0 1,-.1 1,0 1,-.1 1,-.2 1,.2 1,-.3 1,.2 1,-.5 1,.5 1,0 1,-.3 1,.2 1,0 1,-.1 1,-.1 1,.1 1,-.2 1,.1 1,-.7 1,.4 1,.3 1,.4 1,-.2 1,-.6 1,.7 1,0 1,0 1,.1 1,-.1 1,0 1.5,-.1 0,5.6 -1.5,-.1 -1,-.1 -1,.3 -1,-.3 -1,.1 -1,-.2 -1,0 -1,0 -1,0 -1,-.2 -1,.3 -1,.1 -1,0 -1,.1 -1,-.1 -1,-.1 -1,0 -1,-.1 -1,.1 -1,.2 -1,-.3 -1,.2 -1,-.2 -1,.2 -1,.9 -1,-.7 -1,-.1 -1,.2 -1,-.3 -1,.1 -1,-.1 -1,0 -1,.1 -1,-.2 -1,-.1 -1,0 -1,0 -1,.4 -1,.1 -1,-.1 -1,-.2 -1,0 -1,.6 -1,-.5 -1,-.1 -1,.6 -1,-.5 -1,.1 -1,.2 -1,-.4 -1,.2 -1,.3 -1,-.2 -1,-.4 -1,0 -1,.1 -1,0 -1,.1 -1,-.2 -1,0 -1,-.1 -1,.2 -1,0 -1,.4 -1,.2 -1,-.4 -1,-.2 -1,0 -1,0 -1,-.3 -1,.2 -1,.2 -1,-.1 -1,-.3 -1,.2 -1,.1 -1,-.2 -1,.1 -1,-.1 -1,0 -1,.2 -1,0 -1,-.2 -1,.2 -1,.1 -1,-.1 -1,0 -1,.6 -1,-.7 -1,0 -1,-.1 -1,.1 -1,.2 -1,.2 -1,-.4 -1,.1 -1,.8 -1,-.8 -1,.8 -1,-.5 -1,-.3 -1,.8 -1,-.9 -1,-.1 -1,.1 -1,0 -1,0 -1,.3 -1,-.4 -1,.1 -1,.1 -1,-.2 -1,.4 -1,-.4 -1,.1 -1,0 -1,-.3 -1,.1 -1,.1 -1,-.1 -1,0 -1,0 -1,-.1 -1,1.2 -1,-1.2 -1,.3 -1,.7 -1,-.7 -1,-.2 -1,0 -1,.1 -1,0 -1,0 -1,0 -1,0 -1,.2 -1,-.1 -1,1 -1,-.6 -1,-.6 -1,.2 -1,-.1 -1,1 -1,-1.1 -1,.5 -1,-.3 -1,0 -1,.1 -1,-.1 -1,.1 -1,-.1 -1,.2 -1,1 -1,-1 -1,.2 -1,-.6 -1,.1 -1,.4 -1,-.4 -1,.3 -1,-.1 -1,.2 -1,-.3 -1,0 -1,.5 -1,-.2 -1,0 -1,.3 -1,-.5 -1,1 -1,-.8 -1,0 -1,.1 -1,-.2 -1,-.3 -1,.2 -1,-.1 -1,.1 -1,-.1 -1,.1 -1,0 -1,.1 -1,.1 -1,.1 -1,-.1 -1,0 -1,-.1 -1,-.1 -1,-.2 -1,-.1 -1,-.1 -1,.3 -1,.1 -1,.3 -1,-.1 -1,.1 -1,.1 -1,-.2 -1,0 -1,.5 -1,-.8 -1,.2 -1,-.2 -1,.2 -1,-.1 -1,.4 -1,.2 -1,-.7 -1,.1 -1,-.3 -1,0 -1,.2 -1,-.2 -1,1.1 -1,-1.1 -1,.1 -1,-.1 -1,.4 -1,-.3 -1,.8 -1,-.8 -1,.2 -1,-.4 -1,.2 -1,-.1 -1,.1 -1,-.1 -1,0 -1,.3 -1,0 -1,1 -1,-.2 -1,-.3 -1,-.4 -1,0 -1,-.2 -1,.2 -1,-.3 -1,.1 -1,0 -1,-.1 -1,0 -1,.1 -1,-.2 -1,.1 -1,.1 -1,0 -1,.4 -1,-.2 -1,-.2 -1,-.1 -1,0 -1,-.1 -1,.3 -1,-.2 -1,0 -1,.4 -1,-.4 -1,.8 -1,-.7 -1,-.1 -1,0 -1,.3 -1,-.4 -1,.4 -1,-.3 -1,.2 -1,-.1 -1,.6 -1,-.2 -1,-.6 -1,-.1 -1,.4 -1,-.3 -1,0 -1,.3 -1,-.2 -1,.1 -1,.3 -1,-.2 -1,1.1 -1,-1.2 -1,.1 -1,.1 -1,-.1 -1,0 -1,.2 -1,.3 -1,-.8 -1,.1 -1,.2 -1,0 -1,-.2 -1,0 -1,.6 -1,-.6 -1,-.2 -1,.4 -1,-.1 -1,.8 -1,-1 -1,.1 -1,-.1 -1,0 -1,0 -1,0 -1,0 -1,0 -1,-.1 -1,1 -1,-.8 -1,-.1 -1,.1 -1,-.1 -1,0 -1,.1 -1,.7 -1,-.2 -1,-.6 -1,.7 -1,-.7 -1,.1 -1,.1 -1,.6 -1,-.8 -1,.1 -1,.1 -1,.2 -1,-.4 -1,.1 -1,.1 -1,0 -1,0 -1,.2 -1,-.1 -1,0 -1,0 -1,.2 -1,-.2 -1,-.1 -1,-.1 -1,0 -1,0 -1,0 -1,0 -1,-.1 -1,.2 -1,0 -1,-.1 -1,0 -1,.1 -1,-.2 -1,.3 -1,0 -1,-.2 -1,.1 -1,-.1 -1,.1 -1,-.2 -1,.1 -1,.2 -1,-.2 -1,.1 -1,0 -1,0 -1,-.1 -1,-.1 -1,.2 -1,-.1 -1,.1 -1,-.1 -1,0 -1,.2 -1,0 -1,.3 -1,-.3 -1,.1 -1,0 -1,.2 -1,-.3 -1,.2 -1,-.1 -1,0 -1,0 -1,.7 -1,-.4 -1,.3 -1,-.4 -1,0 -1,0 -1,-.1 -1,-.1 -1,.2 -1,.1 -1,-.4 -1,.1 -1,.2 -1,-.4 -1,.1 -1,-.2 -1,.3 -1,0 -1,-.3 -1,0 -1,.2 -1,-.1 -1,0 -1,.1 -1,-.1 -1,.1 -1,0 -1,.3 -1,-.2 -1,-.1 -1,.2 -1,-.1 -1,.4 -1,-.5 -1,.3 -1,0 -1,-.2 -1,-.2 -1,-.1 -1,.4 -1,.2 -1,-.7 -1,.1 -1,-.1 -1,0 -1,.5 -1,-.5 -1,0 -1,.1 -1,-.1 -1,-.1 -1,.1 -1,.2 -1,-.2 -1,0 -1,.1 -1,0 -1,1 -1,-1 -1,-.1 -1,.7 -1,-.5 -1,-.1 -1,.2 -1,-.3 -1,1 -1,-.5 -1,0 -1,-.2 -1,0 -1,.4 -1,-.4 -1,-.2 -1,0 -1,.2 -1,0 -1,-.2 -1,.2 -1,-.1 -1,1.1 -1,-.9 -1,0 -1,-.3 -1,.5 -1,-.1 -1,-.2 -1,-.2 -1,-.1 -1,.3 -1,-.1 -1,.7 -1,-.8 -1,1.1 -1,-.7 -1,-.3 -1,.3 -1,.1 -1,-.2 -1,.1 -1,-.1 -1,0 -1,0 -1,-.2 -1,0 -1,-.1 -1,.2 -1,-.1 -1,.1 -1,-.1 -1,.1 -1,-.2 -1,.6 -1,.5 -1,-.8 -1,-.2 -1,.2 -1,-.2 -1,0 -1,.2 -1,0 -1,-.1 -1,-.2 -1,.1 -1,.1 -1,-.1 -1,.1 -1,.1 -1,.1 -1,-.1 -1,-.1 -1,.3 -1,-.1 -1,.1 -1,-.2 -1,.2 -1,-.2 -1,.1 -1,-.2 -1,-.2 -1,0 -1,.1 -1,-.1 -1,-.1 -1,.3 -1,-.3 -1,0 -1,.2 -1,.1 -1,-.3 -1,0 -1,.1 -1,0 -1,.2 -1,-.2 -1,.1 -1,-.1 -1,.8 -1,-.9 -1,-.1 -1,.2 -1,-.1 -1,0 -1,0 -1,.1 -1,.3 -1,.1 -1,-.1 -1,.2 -1,-.2 -1,.7 -1,-.8 -1,1.5 -1,-1 -1,.2 -1,-.6 -1,.1 -1,-.3 -1,0 -1,.1 -1,0 -1,-.3 -1,.3 -1,.4 -1,-.4 -1,-.1 -1,-.1 -1,1.3 -1,-1.2 -1,0 -1,.1 -1,.5 -1,-.6 -1,0 -1,0 -1,.3 -1,-.4 -1,.1 -1,.1 -1,-.3 -1,0 -1,.2 -1,-.1 -1,.2 -1,-.3 -1,.4 -1,-.3 -1,-.2 -1,.3 -1,.2 -1,.5 -1,.6 -1,-.6 -1,-.3 -1,-.1 -1,-.1 -1,-.1 -1,-.1 -1,-.1 -1,.3 -1,.6 -1,-.3 -1,0 -1,-.3 -1,.1 -1,0 -1,-.1 -1,0 -1,.2 -1,.1 -1,-.3 -1,0 -1,0 -1,0 -1,.1 -1,-.1 -1,0 -1,.2 -1,0 -1,.3 -1,.1 -1,-.7 -1,0 -1,.1 -1,0 -1,0 -1,-.2 -1,.4 -1,.4 -1,.3 -1,-.8 -1,-.4 -1,-.2 -1,0 -1,.1 -1,.3 -1,-.2 -1,-.2 -1,.2 -1,.1 -1,-.3 -1,.1 -1,.2 -1,-.2 -1,0 -1,0 -1,.4 -1,.3 -1,-.6 -1,-.1 -1,0 -1,.1 -1,-.2 -1,.1 -1,.6 -1,-.6 -1,0 -1,.6 -1,-.6 -1,.2 -1,.2 -1,-.2 -1,.2 -1,-.4 -1,0 -1,.5 -1,-.1 -1,-.1 -1,-.2 -1,-.1 -1,.5 -1,-.3 -1,.4 -1,.6 -1,-1.1 -1,.3 -1,-.3 -1,-.2 -1,.8 -1,-.7 -1,.2 -1,-.1 -1,0 -1,.1 -1,.1 -1,.5 -1,-.2 -1,0 -1,-.2 -1,.1 -1,.8 -1,-.9 -1,0 -1,0 -1,.1 -1,-.1 -1,.1 -1,.3 -1,-.6 -1,.1 -1,0 -1,.1 -1,.1 -1,-.1 -1,.1 -1,.2 -1,-.2 -1,-.1 -1,0 -1,-.2 -1,.2 -1,-.1 -1,.1 -1,0 -1,.1 -1,-.3 -1,.8 -1,-.5 -1,-.2 -1,0 -1,0 -1,-.1 -1,-.1 -1,0 -1,0 -1,.2 -1,-.2 -1,.2 -1,-.3 -1,0 -1,0 -1,0 -1,.2 -1,0 -1,0 -1,-.1 -1,.2 -1,-.3 -1,-.1 -1,.6 -1,-.2 -1,.6 -1,-.8 -1,.2 -1,1 -1,-1 -1,-.1 -1,.4 -1,-.3 -1,-.2 -1,.2 -1,0 -1,-.3 -1,.2 -1,.3 -1,-.3 -1,.2 -1,0 -1,0 -1,.1 -1,-.3 -1,0 -1,-.1 -1,0 -1,-.1 -1,.1 -1,.2 -1,0 -1,.1 -1,-.2 -1,.2 -1,.2 -1,-.3 -1,.7 -1,-.6 -1,-.3 -1,0 -1,0 -1,0 -1,-.1 -1,-.1 -1,.2 -1,.1 -1,.1 -1,.1 -1,-.1 -1,.1 -1,0 -1,0 -1,.1 -1,.6 -1,-.9 -1,.2 -1,0 -1,-.4 -1,.5 -1,-.2 -1,-.3 -1,1 -1,-.9 -1,.2 -1,-.1 -1,.2 -1,-.5 -1,.3 -1,-.2 -1,-.1 -1,.3 -1,.1 -1,-.4 -1,.1 -1,.1 -1,.1 -1,.2 -1,-.2 -1,-.2 -1,.3 -1,-.3 -1,.2 -1,.1 -1,-.3 -1,.7 -1,-.2 -1,-.3 -1,-.1 -1,.6 -1,-.3 -1,-.3 -1,.1 -1,-.1 -1,.1 -1,.3 -1,-.3 -1,0 -1,.1 -1,-.1 -1,.2 -1,.4 -1,-.3 -1,.1 -1,.1 -1,-.3 -1,.8 -1,-1 -1,.1 -1,0 -1,.3 -1,0 -1,-.1 -1,0 -1,-.1 -1,0 -1,-.1 -1,.4 -1,-.2 -1,-.1 -1,-.2 -1,0 -1,.2 -1,.1 -1,-.1 -1,0 -1,.4 -1,-.5 -1,0 -1,0 -1,.5 -1,-.4 -1,-.1 -1,.1 -1,-.2 -1,0 -1,-.1z"/>
<path fill="#ff0000" d="M137.5,606.1l1,0 1,0 1,0 1,.1 1,-.1 1,-.6 1,.7 1,-.2 1,-.1 1,.2 1,-.1 1,.1 1,-.5 1,-.3 1,.4 1,0 1,.3 1,-.3 1,.2 1,-.3 1,.2 1,-.2 1,0 1,.1 1,.1 1,-.1 1,.4 1,-.1 1,.1 1,0 1,.1 1,.1 1,-.7 1,.5 1,-.1 1,-.1 1,.2 1,-.1 1,0 1,0 1,-.2 1,-.1 1,-.1 1,.4 1,.1 1,.1 1,-.4 1,.4 1,-.3 1,.2 1,0 1,.2 1,-.5 1,.1 1,.1 1,-.7 1,.7 1,.2 1,-.3 1,-.2 1,0 1,.3 1,.1 1,0 1,0 1,0 1,-.4 1,.3 1,.1 1,-.2 1,.4 1,-.1 1,0 1,0 1,0 1,0 1,0 1,-.1 1,-.1 1,.1 1,-.1 1,-.1 1,.1 1,0 1,-.1 1,-.1 1,.1 1,-.7 1,.8 1,-.3 1,-.3 1,.7 1,-.5 1,.7 1,-.5 1,.2 1,-.1 1,.2 1,-.5 1,.5 1,-.3 1,-.6 1,.7 1,-.1 1,.3 1,-.3 1,.2 1,-.3 1,.3 1,-.1 1,0 1,0 1,-.2 1,.1 1,0 1,-.1 1,.2 1,-.1 1,.2 1,.1 1,-.2 1,0 1,.1 1,-.2 1,.1 1,-.3 1,.1 1,-.2 1,.3 1,.1 1,.1 1,.1 1,-.3 1,.5 1,-.1 1,-.9 1,.9 1,-.2 1,-.6 1,-.1 1,.9 1,-.2 1,0 1,.2 1,0 1,0 1,-.2 1,.2 1,-.1 1,.2 1,0 1,-.1 1,-.2 1,-.1 1,.4 1,-.1 1,-.3 1,.1 1,.1 1,-.1 1,0 1,.2 1,-.1 1,-.1 1,-.3 1,.4 1,-.2 1,-.1 1,-.7 1,.5 1,.4 1,0 1,-.1 1,-.1 1,-.1 1,.2 1,-.2 1,.3 1,.1 1,-.4 1,.1 1,0 1,.1 1,-.5 1,.2 1,.2 1,.3 1,-.1 1,-.1 1,.3 1,-.1 1,-.9 1,1 1,-.3 1,-.1 1,-.3 1,.4 1,-1 1,.9 1,-.3 1,.4 1,-.2 1,.2 1,-.1 1,.2 1,-.1 1,.1 1,.2 1,-.5 1,.6 1,-.1 1,-.1 1,.1 1,-1 1,.5 1,.2 1,-.1 1,-.1 1,.1 1,-.2 1,.1 1,.1 1,.1 1,.1 1,.1 1,-.2 1,-.3 1,.1 1,.4 1,.2 1,-.2 1,0 1,-1.2 1,1.1 1,0 1,-.2 1,-.2 1,.4 1,-1.1 1,1 1,0 1,.1 1,0 1,-.1 1,-.1 1,-.2 1,.4 1,0 1,-.8 1,-.3 1,.9 1,.1 1,-.3 1,-.5 1,.2 1,.6 1,.1 1,-.7 1,.9 1,-.3 1,.4 1,-.1 1,.1 1,0 1,-.3 1,-.7 1,.3 1,.3 1,.1 1,0 1,0 1,-.2 1,0 1,.1 1,-.3 1,.4 1,.2 1,-.2 1,.3 1,-.1 1,-.3 1,.4 1,-.8 1,.7 1,-.2 1,.2 1,0 1,-.2 1,.1 1,.2 1,-.1 1,-.1 1,.1 1,-.1 1,-.2 1,-.4 1,.6 1,-.1 1,0 1,0 1,.1 1,.1 1,0 1,-.1 1,.1 1,-.3 1,-.6 1,.7 1,.2 1,-.2 1,-.2 1,.3 1,-.2 1,.1 1,.1 1,-.1 1,-.2 1,.3 1,-.4 1,.2 1,.2 1,-.5 1,-.3 1,.6 1,.1 1,.2 1,-.4 1,.5 1,-.2 1,.2 1,-.1 1,-.3 1,-.3 1,.3 1,-.1 1,.1 1,-1.1 1,.7 1,0 1,.3 1,.2 1,.1 1,.2 1,-.1 1,0 1,-.2 1,.2 1,-.7 1,.7 1,-.1 1,0 1,0 1,.1 1,0 1,-.2 1,0 1,-.4 1,.5 1,-1 1,.1 1,.9 1,.2 1,-.2 1,-.5 1,.6 1,-.2 1,-.8 1,1 1,.1 1,-.1 1,0 1,0 1,-.1 1,.1 1,-.1 1,.1 1,.1 1,0 1,-.7 1,.6 1,0 1,0 1,-.1 1,-.1 1,0 1,-.1 1,-.3 1,-.1 1,-.1 1,.2 1,.1 1,-.2 1,.2 1,-.2 1,.2 1,-.6 1,.7 1,-.1 1,-.4 1,.4 1,-.1 1,.1 1,.2 1,-.4 1,.4 1,.1 1,-.1 1,-.2 1,.1 1,.2 1,-.1 1,.2 1,.1 1,-.8 1,.8 1,-.2 1,.2 1,-.1 1,0 1,-.3 1,.4 1,-.1 1,-.1 1,-.1 1,.2 1,-.1 1,.3 1,-.3 1,.1 1,-.1 1,-.3 1,.1 1,.1 1,.1 1,-.1 1,.2 1,-.5 1,.4 1,0 1,.2 1,-.7 1,.8 1,0 1,-.2 1,.1 1,0 1,-.4 1,.5 1,0 1,-.6 1,-.1 1,-.7 1,1.1 1,0 1,.1 1,.1 1,0 1,-.3 1,.2 1,-.2 1,-.3 1,.3 1,.3 1,-.1 1,.2 1,-.1 1,-.1 1,0 1,-.4 1,.4 1,-.3 1,.3 1,-.1 1,-.1 1,-.2 1,.2 1,-.3 1,.1 1,.1 1,-.3 1,-.6 1,.9 1,-.3 1,.4 1,0 1,.2 1,-.5 1,.6 1,-.1 1,.2 1,0 1,-.3 1,.1 1,.1 1,-.1 1,.1 1,-.1 1,0 1,-.4 1,-.6 1,.9 1,.2 1,-1 1,1 1,0 1,.1 1,-.5 1,-.5 1,-.1 1,1 1,-.3 1,.2 1,-.3 1,.1 1,.2 1,-.3 1,.2 1,-.1 1,-.3 1,.2 1,-.1 1,.2 1,-.1 1,.1 1,-.7 1,.7 1,-.1 1,.1 1,-.1 1,-1 1,.4 1,.5 1,-.1 1,-.4 1,.5 1,-.2 1,-.5 1,.6 1,0 1,.1 1,.3 1,-.1 1,.2 1,0 1,-.2 1,.3 1,-.1 1,-.1 1,0 1,.1 1,0 1,-.7 1,.5 1,-.7 1,.8 1,-.1 1,0 1,-.1 1,.2 1,-.1 1,-.1 1,.1 1,.2 1,-.1 1,.1 1,0 1,0 1,.1 1,.1 1,0 1,-.2 1,-.2 1,-.9 1,1.1 1,-.4 1,.4 1,0 1,-.2 1,.1 1,-.1 1,0 1,-.2 1,.3 1,0 1,.2 1,-.1 1,.2 1,0 1,-.1 1,.1 1,-.2 1,-.2 1,.3 1,0 1,.1 1,0 1,-.3 1,0 1,-.2 1,.5 1,-.9 1,.7 1,.1 1,0 1,-.1 1,-.4 1,.2 1,.1 1,-.8 1,.8 1,-.3 1,.1 1,-1 1,.8 1,.4 1,-.2 1,.1 1,0 1,.1 1,-.8 1,.8 1,0 1,-.2 1,.1 1,.1 1,-.1 1,.4 1,0 1,-.2 1,-.1 1,.1 1,.1 1,-.1 1,-.1 1,0 1,0 1,0 1,-.2 1,-.6 1,.8 1,-1.1 1,1.2 1,-.3 1,0 1,-.1 1,.2 1,-.5 1,.4 1,-.6 1,.4 1,.2 1,.2 1,-.4 1,.1 1,.2 1,.1 1,.1 1,-.8 1,.6 1,-.6 1,.6 1,.3 1,.1 1,0 1,0 1,0 1,-.1 1,0 1,-.1 1,.1 1,-.1 1,-.1 1,0 1,0 1,-.3 1,.4 1,-.2 1,.2 1,-.2 1,-.4 1,.4 1,.1 1,.1 1,.1 1,-.2 1,.3 1,-.2 1,0 1,.2 1,-.2 1,-.3 1,-.4 1,.4 1,-.7 1,.7 1,-1 1,1.1 1,-.5 1,.4 1,.2 1,-.1 1,.1 1,-.1 1,0 1,-.1 1,.3 1,-.2 1,0 1,-.1 1,.5 1,0 1,-.6 1,.6 1,-.1 1,-.3 1,.2 1,.2 1,-.1 1,-.1 1,0 1,0 1,0 1,-.2 1,.2 1,-.7 1,.8 1,-.2 1,.1 1,.1 1,-.2 1,-.9 1,1 1,-1 1,.9 1,-.1 1,.3 1,-.2 1,-.3 1,.3 1,-.4 1,-.6 1,.8 1,-.1 1,.4 1,.1 1,.1 1,0 1,-.2 1,0 1,-.4 1,.6 1,-.1 1,-.1 1,-.1 1,.1 1,-.1 1,.1 1,0 1,.1 1,0 1,-.2 1,-.7 1,.9 1,-.1 1,0 1,-.3 1,-.7 1,.8 1,-.1 1,.2 1,-.2 1,.2 1,-.3 1,.2 1,.1 1,.1 1,-.6 1,.3 1,-.2 1,.2 1,-.2 1,.3 1,.1 1,-.2 1,-.9 1,.9 1,.2 1,-.4 1,.5 1,0 1,.1 1,0 1,-.1 1,0 1,-.1 1,.2 1,.1 1,-.2 1,-.8 1,1 1,-.2 1,-.2 1,-.2 1,0 1,.3 1,.1 1,-.3 1,.2 1,-.2 1,0 1,.1 1,.1 1,0 1,-.1 1,.1 1,.3 1,-.3 1,.1 1,.2 1,-.6 1,.4 1,0 1,.1 1,0 1,-.1 1,-.2 1,-.3 1,.6 1,0 1,-.1 1,-.1 1,-.2 1,-1 1,1.3 1,-1 1,.9 1,0 1,0 1,.1 1,-.1 1,.2 1,.1 1,-.1 1,-.1 1,.1 1,0 1,.1 1,0 1,0 1,-.1 1,-.1 1,.1 1,-.6 1,.5 1,0 1,.1 1,-.2 1,-.4 1,.1 1,-.1 1,.3 1,.2 1,-.1 1,.1 1,-.1 1,0 1,-.1 1,0 1,-.2 1,0 1,.4 1,0 1,0 1,0 1,.1 1.5,.1 0,5 -1.5,0 -1,0 -1,0 -1,.3 -1,-.3 -1,-.2 -1,0 -1,.1 -1,-.1 -1,.1 -1,.1 -1,-.1 -1,-.1 -1,.3 -1,.4 -1,-.1 -1,-.1 -1,.1 -1,0 -1,.1 -1,0 -1,.6 -1,-1.2 -1,.1 -1,.1 -1,-.2 -1,.1 -1,-.3 -1,.5 -1,-.2 -1,1.3 -1,-.1 -1,-.3 -1,-.6 -1,-.1 -1,-.1 -1,-.1 -1,.1 -1,-.2 -1,1.2 -1,-1.1 -1,0 -1,.3 -1,-.4 -1,0 -1,.1 -1,-.1 -1,0 -1,.3 -1,-.4 -1,.4 -1,0 -1,-.1 -1,.2 -1,0 -1,.2 -1,0 -1,-.3 -1,.3 -1,-.2 -1,-.1 -1,0 -1,-.2 -1,.2 -1,0 -1,.8 -1,-.7 -1,0 -1,-.1 -1,0 -1,-.2 -1,.8 -1,-.8 -1,.2 -1,0 -1,.4 -1,-.6 -1,.7 -1,-.7 -1,.2 -1,-.2 -1,.1 -1,-.3 -1,.1 -1,0 -1,.7 -1,-.8 -1,.3 -1,-.1 -1,0 -1,-.1 -1,.2 -1,.5 -1,-.5 -1,0 -1,-.2 -1,.1 -1,-.2 -1,.4 -1,-.4 -1,.1 -1,.3 -1,.6 -1,-.8 -1,.1 -1,.4 -1,-.2 -1,0 -1,-.2 -1,0 -1,-.1 -1,.2 -1,-.1 -1,0 -1,.2 -1,.3 -1,.4 -1,-.5 -1,.3 -1,-.6 -1,-.1 -1,-.2 -1,.1 -1,.2 -1,-.3 -1,.1 -1,-.2 -1,.2 -1,-.3 -1,.7 -1,-.6 -1,.3 -1,.6 -1,-.7 -1,.1 -1,-.2 -1,.2 -1,.5 -1,-.4 -1,.1 -1,.2 -1,.1 -1,-.1 -1,.7 -1,-1 -1,.2 -1,-.3 -1,.1 -1,.2 -1,-.4 -1,.4 -1,-.1 -1,-.2 -1,0 -1,.4 -1,-.2 -1,0 -1,0 -1,.3 -1,-.3 -1,.3 -1,.4 -1,-1 -1,.1 -1,.3 -1,-.3 -1,.2 -1,-.2 -1,-.1 -1,0 -1,.1 -1,0 -1,.3 -1,.3 -1,-.5 -1,1.4 -1,-1.6 -1,1 -1,-.8 -1,.3 -1,-.3 -1,0 -1,-.2 -1,.3 -1,-.3 -1,-.2 -1,.3 -1,-.2 -1,.8 -1,-.6 -1,.3 -1,-.5 -1,.1 -1,.1 -1,-.3 -1,.1 -1,-.1 -1,.1 -1,.8 -1,-.7 -1,.9 -1,-1 -1,-.1 -1,.1 -1,0 -1,.1 -1,-.2 -1,.2 -1,.2 -1,0 -1,-.1 -1,.2 -1,-.2 -1,.2 -1,-.2 -1,-.1 -1,0 -1,.2 -1,-.3 -1,0 -1,1.1 -1,-1.1 -1,.2 -1,0 -1,-.2 -1,.1 -1,.1 -1,0 -1,.3 -1,-.1 -1,0 -1,.1 -1,-.4 -1,0 -1,.3 -1,0 -1,-.1 -1,-.3 -1,0 -1,-.1 -1,.1 -1,.3 -1,-.3 -1,.2 -1,-.2 -1,.1 -1,0 -1,0 -1,0 -1,.1 -1,-.1 -1,.4 -1,.3 -1,-.5 -1,-.2 -1,.2 -1,0 -1,-.2 -1,.2 -1,.1 -1,0 -1,-.2 -1,.4 -1,-.2 -1,.3 -1,-.3 -1,0 -1,.1 -1,.7 -1,-1 -1,.1 -1,-.1 -1,0 -1,-.2 -1,0 -1,0 -1,-.1 -1,0 -1,.1 -1,-.1 -1,.8 -1,-.1 -1,-.1 -1,.7 -1,-.9 -1,0 -1,.2 -1,-.1 -1,-.2 -1,.3 -1,-.2 -1,-.4 -1,.1 -1,-.1 -1,.1 -1,.3 -1,0 -1,-.2 -1,.3 -1,-.1 -1,.2 -1,-.2 -1,.1 -1,.2 -1,-.5 -1,-.1 -1,.2 -1,0 -1,-.2 -1,.1 -1,.2 -1,.9 -1,-.9 -1,-.1 -1,-.2 -1,0 -1,0 -1,.4 -1,-.3 -1,-.1 -1,.3 -1,.2 -1,-.3 -1,.3 -1,-.2 -1,0 -1,-.1 -1,0 -1,0 -1,.3 -1,.5 -1,-.4 -1,-.3 -1,.1 -1,-.1 -1,-.1 -1,.6 -1,-.6 -1,-.1 -1,1.5 -1,-1.3 -1,0 -1,0 -1,.4 -1,-.5 -1,.1 -1,-.1 -1,.8 -1,-.6 -1,0 -1,.2 -1,-.3 -1,.1 -1,-.1 -1,.2 -1,-.3 -1,-.2 -1,-.1 -1,0 -1,0 -1,.3 -1,-.2 -1,.1 -1,.2 -1,-.3 -1,.4 -1,-.1 -1,-.2 -1,0 -1,.6 -1,-.3 -1,-.1 -1,.8 -1,-.6 -1,-.2 -1,0 -1,.2 -1,0 -1,0 -1,0 -1,-.1 -1,.1 -1,0 -1,0 -1,-.1 -1,.2 -1,-.1 -1,1 -1,-1.2 -1,.1 -1,-.1 -1,-.1 -1,.1 -1,.1 -1,-.4 -1,0 -1,0 -1,0 -1,0 -1,-.1 -1,0 -1,0 -1,.1 -1,-.1 -1,0 -1,.1 -1,0 -1,0 -1,.8 -1,-.7 -1,-.2 -1,.3 -1,0 -1,-.3 -1,.3 -1,-.2 -1,.3 -1,.1 -1,-.4 -1,0 -1,-.1 -1,.1 -1,0 -1,.5 -1,-.4 -1,0 -1,0 -1,-.2 -1,0 -1,.2 -1,0 -1,0 -1,.5 -1,-.2 -1,-.3 -1,-.1 -1,.1 -1,.1 -1,-.1 -1,1 -1,-1.1 -1,.2 -1,0 -1,.1 -1,.1 -1,.1 -1,-.1 -1,.1 -1,.1 -1,-.3 -1,-.1 -1,.4 -1,-.3 -1,-.1 -1,0 -1,0 -1,.1 -1,0 -1,.1 -1,-.1 -1,.3 -1,-.3 -1,.4 -1,-.4 -1,.1 -1,0 -1,-.1 -1,0 -1,-.4 -1,.5 -1,-.4 -1,.1 -1,.1 -1,.1 -1,-.2 -1,.6 -1,-.6 -1,.1 -1,.1 -1,.1 -1,0 -1,-.2 -1,.2 -1,-.4 -1,0 -1,.1 -1,0 -1,.3 -1,-.3 -1,-.2 -1,.1 -1,.2 -1,.5 -1,-.1 -1,-.6 -1,0 -1,.3 -1,1.3 -1,-1.2 -1,.6 -1,-.3 -1,-.3 -1,-.2 -1,.4 -1,-.2 -1,0 -1,-.1 -1,-.1 -1,-.1 -1,.1 -1,-.2 -1,.2 -1,.1 -1,-.2 -1,0 -1,.3 -1,0 -1,-.3 -1,.3 -1,0 -1,-.2 -1,.3 -1,.1 -1,-.4 -1,-.1 -1,.3 -1,.4 -1,-.4 -1,-.1 -1,0 -1,-.3 -1,0 -1,.1 -1,.2 -1,-.3 -1,.1 -1,-.1 -1,0 -1,.3 -1,-.2 -1,-.2 -1,0 -1,.1 -1,-.1 -1,.2 -1,0 -1,-.2 -1,0 -1,.1 -1,.2 -1,-.2 -1,0 -1,0 -1,0 -1,1.3 -1,-1.3 -1,0 -1,.2 -1,-.3 -1,.1 -1,.2 -1,0 -1,.3 -1,.6 -1,-.9 -1,.1 -1,-.4 -1,.1 -1,.2 -1,0 -1,0 -1,.3 -1,-.2 -1,.3 -1,-.2 -1,.3 -1,-.6 -1,.1 -1,-.1 -1,-.1 -1,.1 -1,-.2 -1,.2 -1,0 -1,.2 -1,.2 -1,-.2 -1,.1 -1,.4 -1,-.3 -1,0 -1,.6 -1,-.8 -1,.1 -1,0 -1,0 -1,-.1 -1,-.1 -1,0 -1,0 -1,0 -1,.2 -1,0 -1,.8 -1,-1.1 -1,.2 -1,.1 -1,-.3 -1,-.2 -1,.5 -1,-.4 -1,.3 -1,.2 -1,-.4 -1,.2 -1,-.2 -1,.7 -1,-.6 -1,.3 -1,-.2 -1,0 -1,-.3 -1,1 -1,-.9 -1,.2 -1,.1 -1,-.5 -1,.2 -1,0 -1,-.1 -1,0 -1,.2 -1,-.1 -1,.1 -1,-.1 -1,.5 -1,-.1 -1,0 -1,-.1 -1,0 -1,-.2 -1,0 -1,0 -1,.3 -1,-.3 -1,-.1 -1,.1 -1,0 -1,-.3 -1,.1 -1,-.1 -1,0 -1,.5 -1,.6 -1,-.9 -1,-.2 -1,0 -1,.3 -1,.6 -1,-.5 -1,-.2 -1,.1 -1,-.1 -1,.2 -1,-.1 -1,.9 -1,-.8 -1,-.2 -1,-.1 -1,0 -1,0 -1,.8 -1,-.9 -1,.2 -1,.1 -1,.4 -1,-.4 -1,0 -1,0 -1,1 -1,-1 -1,.1 -1,0 -1,-.3 -1,.8 -1,-.4 -1,.2 -1,-.4 -1,-.1 -1,.2 -1,-.1 -1,-.1 -1,.2 -1,-.3 -1,.1 -1,-.2 -1,.1 -1,.1 -1,.1 -1,0 -1,.1 -1,-.3 -1,-.1 -1,.2 -1,.1 -1,-.1 -1,-.1 -1,.2 -1,-.2 -1,.1 -1,.4 -1,-.4 -1,.1 -1,.1 -1,0 -1,0 -1,.2 -1,-.2 -1,0 -1,.1 -1,.8 -1,-1 -1,.2 -1,-.3 -1,.1 -1,0 -1,-.1 -1,.1 -1,-.2 -1,0 -1,-.1 -1,.2 -1,.2 -1,-.1 -1,.3 -1,-.3 -1,.1 -1,.1 -1,-.1 -1,.3 -1,-.3 -1,.2 -1,-.2 -1,-.2 -1,.1 -1,.1 -1,0 -1,-.1 -1,0 -1,0 -1,0 -1,.3 -1,.5 -1,-.9 -1,.2 -1,-.1 -1,0 -1,.1 -1,.2 -1,-.2 -1,0 -1,-.1 -1,0 -1,-.1 -1,.3 -1,-.3 -1,-.1 -1,-.1 -1,0 -1,.2 -1,-.2 -1,.6 -1,-.3 -1,0 -1,.1 -1,-.1 -1,.9 -1,-.7 -1,.1 -1,.1 -1,-.1 -1,0 -1,-.1 -1,.2 -1,-.2 -1,.6 -1,-.6 -1,0 -1,.4 -1,-.4 -1,.1 -1,-.1 -1,-.1 -1,.1 -1,-.3 -1,.4 -1,.1 -1,-.5 -1,-.1 -1,.3 -1,-.2 -1,.4 -1,-.3 -1,.2 -1,-.3 -1,-.2 -1,.3 -1,-.2 -1,1 -1,-1 -1,.1 -1,.4 -1,-.5 -1,0 -1,0 -1,.2 -1,-.1 -1,0 -1,.2 -1,-.3 -1,.1 -1,-.1 -1,.1 -1,.4 -1,-.4 -1,0 -1,-.1 -1,.5 -1,-.2 -1,-.2 -1,.1 -1,-.2 -1,1.2 -1,-1.1 -1,.2 -1,-.2 -1,.3 -1,0 -1,0 -1,-.3 -1,.3 -1,-.3 -1,-.2 -1,.2 -1,-.1 -1,.1 -1,.2 -1,-.4 -1,.1 -1,.5 -1,-.3 -1,.2 -1,-.1 -1,.5 -1,-.4 -1,-.3 -1,-.1 -1,.3 -1,-.3 -1,-.1 -1,0 -1,.1 -1,0 -1,-.1 -1,0 -1,.1 -1,.2 -1,-.1 -1,-.1 -1,.2 -1,-.1 -1,0 -1,.6 -1,-.3 -1,.3 -1,-.2z"/>
<path fill="#0000ff" d="M137.5,636.9l1,.2 1,.1 1,.3 1,.2 1,-.8 1,-.4 1,1.1 1,0 1,0 1,.2 1,-.3 1,-.2 1,.3 1,-.2 1,-.3 1,.3 1,.2 1,.1 1,0 1,-.2 1,0 1,-.6 1,.3 1,.1 1,.3 1,.1 1,-.2 1,0 1,-.1 1,.2 1,-.1 1,.1 1,-.2 1,.2 1,-.8 1,.9 1,-.2 1,-.9 1,1.1 1,-.1 1,.3 1,-.1 1,0 1,-.2 1,.1 1,-.4 1,.4 1,-.3 1,.2 1,-.3 1,.2 1,-.3 1,0 1,.4 1,-.1 1,-.3 1,.2 1,-.1 1,.2 1,.3 1,-.3 1,-.4 1,.4 1,-.2 1,.1 1,.1 1,.2 1,0 1,-.8 1,.6 1,.3 1,0 1,0 1,-.2 1,0 1,.1 1,0 1,-.2 1,0 1,.2 1,-.5 1,.1 1,0 1,-.1 1,0 1,-.8 1,1.1 1,.1 1,0 1,.1 1,.1 1,0 1,0 1,-.1 1,0 1,0 1,-.1 1,0 1,0 1,-.1 1,0 1,-.1 1,.4 1,-.2 1,0 1,.1 1,-.1 1,0 1,0 1,.2 1,-.4 1,.1 1,.1 1,-.1 1,.1 1,.1 1,-.1 1,0 1,-.1 1,.3 1,-.1 1,0 1,0 1,-.1 1,0 1,0 1,-1.1 1,1 1,0 1,.1 1,0 1,0 1,.1 1,-.3 1,.2 1,-.1 1,-.5 1,.2 1,.5 1,-.3 1,0 1,.1 1,0 1,0 1,.3 1,0 1,0 1,-.7 1,.4 1,.2 1,-.2 1,.3 1,-.3 1,.2 1,0 1,-.1 1,-.4 1,-.1 1,.4 1,.1 1,0 1,0 1,-.3 1,.3 1,0 1,.1 1,-.4 1,0 1,0 1,.4 1,-.1 1,0 1,0 1,.2 1,0 1,0 1,-.1 1,-.2 1,.4 1,-.5 1,.4 1,-1 1,.5 1,-.8 1,1.1 1,-.1 1,-.2 1,.1 1,0 1,.1 1,.2 1,-.1 1,0 1,0 1,0 1,-.7 1,.5 1,-.1 1,.1 1,.1 1,0 1,.1 1,-.2 1,.1 1,.2 1,0 1,-.2 1,.4 1,-.4 1,.2 1,0 1,-.2 1,0 1,0 1,0 1,0 1,0 1,0 1,0 1,.3 1,0 1,-.1 1,0 1,.1 1,0 1,-.1 1,-.1 1,.1 1,.1 1,0 1,-.1 1,-.3 1,.1 1,-.1 1,-.4 1,.5 1,-.1 1,-.1 1,.2 1,.1 1,-.1 1,-.2 1,.2 1,.1 1,-.1 1,.2 1,-.3 1,.4 1,-.1 1,0 1,-.4 1,.1 1,-.1 1,-.1 1,-.5 1,.8 1,-.8 1,.3 1,.3 1,.2 1,0 1,.1 1,-.4 1,.2 1,-.1 1,.2 1,-.1 1,.1 1,-.1 1,.1 1,0 1,0 1,-.3 1,.2 1,-.1 1,.1 1,.1 1,.1 1,-.7 1,.7 1,.2 1,-.4 1,.2 1,.2 1,-.5 1,.4 1,0 1,-.3 1,.4 1,-.1 1,0 1,-.2 1,.3 1,-.1 1,-.1 1,0 1,-.1 1,0 1,0 1,-.1 1,-.1 1,.1 1,-.5 1,.5 1,-.1 1,.2 1,0 1,.2 1,-.8 1,.9 1,-.1 1,-.6 1,.4 1,-.1 1,.1 1,-.5 1,.6 1,0 1,-.7 1,.6 1,-.9 1,1 1,-.2 1,-1.3 1,1.4 1,-.2 1,-.2 1,0 1,.3 1,-.1 1,-.6 1,.5 1,0 1,.2 1,-.4 1,.2 1,.1 1,-.1 1,-.7 1,.9 1,-1 1,.6 1,.6 1,-.1 1,0 1,-.1 1,-.1 1,0 1,.1 1,-.3 1,.4 1,-.8 1,.7 1,.1 1,0 1,.1 1,0 1,.2 1,0 1,-.4 1,.1 1,-.1 1,-.2 1,.6 1,-.4 1,.4 1,-.1 1,-.1 1,-.2 1,.1 1,.1 1,-.2 1,.1 1,-.2 1,0 1,.2 1,.1 1,-.1 1,-.7 1,1 1,0 1,-.1 1,-.7 1,.5 1,.3 1,-.1 1,0 1,-.2 1,.1 1,-.1 1,.1 1,-.3 1,.1 1,0 1,.1 1,-.2 1,.1 1,-.1 1,-.6 1,.8 1,.1 1,-.2 1,.2 1,-.2 1,-.1 1,0 1,0 1,-.6 1,.7 1,-.3 1,0 1,-.3 1,.4 1,-.1 1,.2 1,.1 1,-.2 1,.1 1,-.3 1,-.1 1,.2 1,.3 1,-.1 1,0 1,0 1,0 1,0 1,0 1,.1 1,0 1,.1 1,0 1,-.2 1,.2 1,.1 1,0 1,-.2 1,.2 1,.1 1,-.1 1,-.3 1,0 1,-.2 1,-.1 1,-.7 1,1.3 1,-.1 1,-.1 1,0 1,.1 1,0 1,-.4 1,.4 1,0 1,-.1 1,0 1,-.1 1,.5 1,-.1 1,-.3 1,.4 1,-.2 1,.2 1,-.3 1,-.7 1,.6 1,.4 1,-.2 1,0 1,-.2 1,0 1,-.1 1,.1 1,0 1,-.3 1,.1 1,.2 1,0 1,-.2 1,.2 1,-.3 1,.6 1,0 1,-.2 1,.2 1,-.2 1,-.1 1,.2 1,-.1 1,.2 1,-.1 1,.1 1,-1.2 1,1.1 1,.2 1,-.1 1,0 1,-.2 1,-.1 1,.3 1,-.1 1,0 1,.1 1,-.1 1,0 1,-1.3 1,1 1,0 1,.3 1,-.3 1,.4 1,-.9 1,.6 1,.1 1,0 1,.2 1,-.6 1,.5 1,.1 1,-.3 1,.2 1,.1 1,-.3 1,-.1 1,.2 1,-.5 1,.5 1,0 1,.1 1,.1 1,-.1 1,-.1 1,.3 1,-.1 1,.1 1,0 1,0 1,-.1 1,-.3 1,-.2 1,.2 1,-.3 1,-.1 1,.2 1,.1 1,-.1 1,.2 1,-.3 1,-.7 1,.9 1,.3 1,-.1 1,0 1,.3 1,-.2 1,0 1,-.1 1,.2 1,-.1 1,-.2 1,.4 1,0 1,-.1 1,0 1,-.1 1,.2 1,-.3 1,.1 1,-.1 1,-.6 1,.5 1,.1 1,0 1,-.2 1,0 1,-.1 1,.2 1,.1 1,0 1,0 1,-.4 1,.3 1,.1 1,-.4 1,.5 1,-.3 1,.4 1,0 1,-.1 1,0 1,.2 1,-.5 1,-.2 1,.4 1,.2 1,-.3 1,.2 1,.2 1,-.3 1,.1 1,-.1 1,.1 1,-.1 1,-.2 1,.2 1,-1.1 1,1.2 1,-.7 1,.8 1,-.1 1,.3 1,-.1 1,0 1,-.2 1,-.1 1,.3 1,-.7 1,.5 1,-.2 1,.4 1,0 1,0 1,-.4 1,.3 1,.1 1,-.3 1,.1 1,.2 1,0 1,-.3 1,.1 1,0 1,-.4 1,.4 1,0 1,-.2 1,.2 1,0 1,.1 1,0 1,-.8 1,.5 1,.3 1,-.7 1,.8 1,0 1,0 1,-.9 1,.7 1,-.9 1,1 1,.1 1,-.4 1,0 1,.2 1,.1 1,-.3 1,.1 1,-.3 1,.4 1,.1 1,-.1 1,.2 1,-.3 1,-.5 1,.4 1,.1 1,0 1,0 1,0 1,-.1 1,-.9 1,.9 1,0 1,.2 1,-.1 1,0 1,.1 1,-.4 1,-.1 1,-.1 1,.4 1,-.4 1,.4 1,-.1 1,-.2 1,-.5 1,.7 1,.2 1,-.1 1,.1 1,0 1,0 1,0 1,-.1 1,-1 1,.7 1,.4 1,-.7 1,.6 1,-.2 1,.1 1,.3 1,-.1 1,-.5 1,.6 1,-.3 1,0 1,-.8 1,1 1,.2 1,-.1 1,.1 1,-.4 1,.3 1,.1 1,-.8 1,.5 1,.4 1,-.3 1,-.2 1,.4 1,-.1 1,.1 1,0 1,-.3 1,0 1,-.3 1,.4 1,0 1,0 1,-.6 1,.6 1,0 1,.2 1,-.2 1,0 1,-.3 1,.5 1,0 1,-.2 1,.2 1,-.1 1,.1 1,-1.1 1,.5 1,.6 1,-.2 1,0 1,-.2 1,0 1,-.6 1,.6 1,-.1 1,.1 1,.1 1,-.1 1,.1 1,0 1,-.1 1,.1 1,-.1 1,.3 1,-.7 1,.5 1,-.1 1,-.1 1,.2 1,.2 1,-.1 1,.1 1,-.3 1,.3 1,.1 1,-.1 1,.1 1,.1 1,-.1 1,.1 1,-.1 1,.1 1,.1 1,0 1,-.1 1,0 1,-1.1 1,1.1 1,0 1,-.2 1,.2 1,-.2 1,0 1,-.4 1,.4 1,-.3 1,.1 1,.3 1,-.2 1,-.2 1,0 1,.3 1,-.8 1,.4 1,.2 1,.1 1,-.8 1,.6 1,-.1 1,-.8 1,.9 1,-.1 1,.2 1,-.1 1,.1 1,.1 1,.1 1,.1 1,-.7 1,.8 1,-.1 1,0 1,.2 1,-.2 1,-.1 1,.1 1,0 1,-.3 1,.3 1,-.4 1,.1 1,.3 1,-.5 1,.5 1,.1 1,-.2 1,-.1 1,.1 1,-.1 1,0 1,-.2 1,.2 1,-.8 1,.7 1,-.1 1,.2 1,.1 1,.1 1,-.7 1,.8 1,-.2 1,.1 1,.1 1,-.1 1,-.1 1,-.1 1,0 1,-.2 1,.3 1,0 1,0 1,-1.1 1,1.2 1,-.1 1,.2 1,-.1 1,-.5 1,.4 1,-.5 1,-.1 1,.6 1,-.2 1,-.1 1,-.1 1,.2 1,.1 1.5,.1 0,5.1 -1.5,0 -1,-.1 -1,0 -1,.3 -1,.1 -1,-.3 -1,.8 -1,.2 -1,-1.1 -1,0 -1,.1 -1,.1 -1,.1 -1,-.1 -1,.2 -1,-.2 -1,-.2 -1,.8 -1,-.4 -1,-.2 -1,.5 -1,-.4 -1,-.1 -1,.2 -1,-.1 -1,.1 -1,0 -1,-.2 -1,.1 -1,.1 -1,.5 -1,-.5 -1,-.1 -1,-.1 -1,0 -1,0 -1,.4 -1,.2 -1,-.2 -1,.1 -1,.7 -1,-.7 -1,-.4 -1,0 -1,-.1 -1,-.1 -1,.4 -1,.3 -1,-.6 -1,.1 -1,0 -1,-.3 -1,.2 -1,.8 -1,-.5 -1,-.2 -1,.1 -1,-.2 -1,.1 -1,-.1 -1,.4 -1,.3 -1,-.6 -1,-.1 -1,-.1 -1,.1 -1,.1 -1,.1 -1,.3 -1,-.3 -1,.1 -1,.3 -1,-.1 -1,-.2 -1,.3 -1,.2 -1,-.5 -1,-.1 -1,0 -1,0 -1,.1 -1,-.2 -1,-.3 -1,.3 -1,0 -1,.1 -1,.2 -1,0 -1,-.2 -1,.1 -1,0 -1,.3 -1,-.4 -1,.1 -1,-.4 -1,.1 -1,0 -1,-.1 -1,.4 -1,-.1 -1,.1 -1,.2 -1,-.2 -1,0 -1,.2 -1,-.1 -1,.1 -1,-.2 -1,.1 -1,1.2 -1,-1.6 -1,.6 -1,-.6 -1,.2 -1,-.3 -1,0 -1,.1 -1,-.1 -1,-.1 -1,0 -1,.1 -1,0 -1,0 -1,.1 -1,.2 -1,-.4 -1,.3 -1,-.1 -1,-.1 -1,.1 -1,0 -1,-.1 -1,0 -1,.1 -1,.5 -1,-.6 -1,.5 -1,-.3 -1,.2 -1,.2 -1,-.4 -1,.1 -1,0 -1,.2 -1,-.2 -1,-.1 -1,.7 -1,-.9 -1,.3 -1,-.2 -1,-.1 -1,.2 -1,.2 -1,0 -1,-.4 -1,.1 -1,.1 -1,0 -1,0 -1,.4 -1,-.3 -1,1.2 -1,-1.3 -1,.3 -1,-.4 -1,1.4 -1,-1.4 -1,.3 -1,-.4 -1,-.1 -1,.2 -1,0 -1,-.1 -1,.3 -1,-.4 -1,.3 -1,0 -1,-.3 -1,.1 -1,-.1 -1,.4 -1,-.4 -1,.2 -1,0 -1,-.1 -1,.2 -1,0 -1,-.1 -1,0 -1,.1 -1,.4 -1,-.3 -1,-.1 -1,.5 -1,-.4 -1,0 -1,0 -1,-.1 -1,-.2 -1,.1 -1,.1 -1,0 -1,-.1 -1,.9 -1,-.8 -1,-.2 -1,.2 -1,.1 -1,-.3 -1,0 -1,.8 -1,-.7 -1,1.2 -1,-1.1 -1,-.2 -1,0 -1,-.1 -1,0 -1,.3 -1,-.1 -1,.1 -1,-.1 -1,-.1 -1,.2 -1,-.1 -1,0 -1,.2 -1,-.3 -1,.1 -1,.1 -1,.2 -1,-.2 -1,-.1 -1,.2 -1,-.1 -1,-.1 -1,.1 -1,0 -1,.6 -1,-.1 -1,-.5 -1,-.1 -1,-.2 -1,.2 -1,0 -1,0 -1,.2 -1,0 -1,-.2 -1,.4 -1,-.3 -1,.2 -1,0 -1,-.1 -1,-.1 -1,-.1 -1,.3 -1,-.3 -1,.4 -1,-.3 -1,.2 -1,-.1 -1,.6 -1,-.7 -1,0 -1,.4 -1,-.4 -1,.1 -1,-.2 -1,.8 -1,-.9 -1,0 -1,.1 -1,.1 -1,-.3 -1,.3 -1,.1 -1,-.3 -1,.2 -1,0 -1,.5 -1,-.2 -1,.9 -1,-1 -1,0 -1,.4 -1,-.4 -1,-.2 -1,0 -1,0 -1,.1 -1,.7 -1,-1.1 -1,.4 -1,-.1 -1,-.2 -1,1.2 -1,-.9 -1,.1 -1,.1 -1,.3 -1,-.5 -1,-.1 -1,-.1 -1,.1 -1,.4 -1,-.3 -1,0 -1,-.1 -1,0 -1,0 -1,0 -1,.3 -1,-.1 -1,-.2 -1,.3 -1,-.2 -1,-.1 -1,.1 -1,.2 -1,-.3 -1,0 -1,.1 -1,-.1 -1,.1 -1,-.1 -1,.4 -1,-.3 -1,.7 -1,.1 -1,-.2 -1,-.1 -1,-.4 -1,.1 -1,-.4 -1,.1 -1,0 -1,.1 -1,-.2 -1,-.1 -1,0 -1,.1 -1,-.2 -1,.1 -1,1 -1,-.8 -1,-.1 -1,.9 -1,-.9 -1,0 -1,-.2 -1,.3 -1,.1 -1,-.2 -1,.2 -1,-.1 -1,1.3 -1,-1.3 -1,.2 -1,-.1 -1,-.1 -1,.3 -1,-.3 -1,.1 -1,-.3 -1,.1 -1,.2 -1,-.3 -1,.3 -1,-.1 -1,.2 -1,.2 -1,-.5 -1,.2 -1,0 -1,-.3 -1,.4 -1,-.4 -1,0 -1,0 -1,.6 -1,.5 -1,-1.2 -1,.1 -1,0 -1,.1 -1,0 -1,.2 -1,-.2 -1,.2 -1,.1 -1,0 -1,-.4 -1,-.1 -1,.3 -1,-.1 -1,-.1 -1,0 -1,.6 -1,-.7 -1,0 -1,.6 -1,-.6 -1,.7 -1,-.4 -1,-.1 -1,0 -1,.3 -1,-.2 -1,-.2 -1,.2 -1,0 -1,.5 -1,-.8 -1,.8 -1,-.6 -1,0 -1,.4 -1,-.3 -1,.2 -1,-.3 -1,-.1 -1,.1 -1,-.1 -1,.3 -1,-.3 -1,.1 -1,0 -1,.5 -1,-.4 -1,-.1 -1,-.1 -1,.2 -1,-.2 -1,0 -1,-.1 -1,.1 -1,0 -1,.1 -1,-.1 -1,-.1 -1,.4 -1,-.3 -1,0 -1,-.1 -1,.1 -1,.1 -1,.1 -1,.8 -1,-1 -1,0 -1,.3 -1,-.1 -1,-.1 -1,-.1 -1,.1 -1,.3 -1,.1 -1,-.3 -1,.2 -1,-.2 -1,1 -1,-1 -1,.1 -1,-.2 -1,.1 -1,.1 -1,-.4 -1,.1 -1,.3 -1,-.4 -1,.2 -1,0 -1,0 -1,-.2 -1,.2 -1,.2 -1,-.2 -1,.9 -1,.1 -1,-1.2 -1,.2 -1,.3 -1,-.3 -1,1.1 -1,-1 -1,-.2 -1,.1 -1,.8 -1,-.7 -1,-.1 -1,.9 -1,-.7 -1,-.2 -1,-.1 -1,.2 -1,-.1 -1,.7 -1,-.7 -1,.4 -1,-.3 -1,0 -1,.1 -1,.3 -1,-.6 -1,.1 -1,-.2 -1,.2 -1,-.1 -1,0 -1,.2 -1,-.2 -1,.3 -1,.1 -1,.2 -1,-.5 -1,.5 -1,-.5 -1,.1 -1,.1 -1,-.1 -1,.1 -1,-.1 -1,.3 -1,-.3 -1,.4 -1,-.4 -1,0 -1,0 -1,.4 -1,-.2 -1,-.1 -1,.3 -1,-.1 -1,-.4 -1,-.1 -1,.3 -1,-.3 -1,0 -1,.1 -1,-.1 -1,-.1 -1,.1 -1,1 -1,-1 -1,-.1 -1,.1 -1,.9 -1,-.7 -1,.1 -1,-.3 -1,.1 -1,.4 -1,-.3 -1,.1 -1,.2 -1,.1 -1,.1 -1,-.4 -1,.3 -1,-.3 -1,.3 -1,-.5 -1,1.1 -1,-.6 -1,-.4 -1,0 -1,.6 -1,-.6 -1,-.3 -1,.1 -1,.3 -1,-.3 -1,.2 -1,.3 -1,-.1 -1,-.2 -1,0 -1,0 -1,0 -1,.2 -1,-.1 -1,0 -1,-.1 -1,.1 -1,.2 -1,0 -1,-.1 -1,.3 -1,-.4 -1,.2 -1,0 -1,.7 -1,-.8 -1,-.2 -1,.1 -1,0 -1,0 -1,.4 -1,-.2 -1,-.4 -1,0 -1,.4 -1,-.4 -1,-.2 -1,.5 -1,-.4 -1,0 -1,.2 -1,.2 -1,-.1 -1,-.1 -1,-.1 -1,.1 -1,.3 -1,-.4 -1,-.1 -1,0 -1,-.1 -1,.1 -1,.6 -1,-.7 -1,1.3 -1,-1 -1,.3 -1,-.3 -1,-.1 -1,.1 -1,-.1 -1,.1 -1,.1 -1,0 -1,.9 -1,-1.3 -1,.2 -1,.1 -1,.2 -1,-.4 -1,.1 -1,.1 -1,-.1 -1,.3 -1,-.4 -1,0 -1,.3 -1,-.1 -1,.5 -1,-.2 -1,.2 -1,-.1 -1,-.3 -1,0 -1,1.1 -1,-1 -1,-.2 -1,.1 -1,.2 -1,-.4 -1,-.1 -1,.2 -1,-.1 -1,1 -1,-1 -1,-.2 -1,.1 -1,0 -1,0 -1,.4 -1,-.4 -1,0 -1,0 -1,-.1 -1,0 -1,.1 -1,0 -1,0 -1,.1 -1,-.1 -1,.2 -1,-.1 -1,.1 -1,.1 -1,-.2 -1,.3 -1,.1 -1,-.5 -1,0 -1,.3 -1,-.1 -1,-.2 -1,.3 -1,-.4 -1,.2 -1,-.1 -1,0 -1,1.2 -1,-1 -1,.7 -1,-.6 -1,-.3 -1,-.1 -1,0 -1,.4 -1,-.4 -1,.1 -1,.1 -1,.2 -1,0 -1,-.1 -1,.4 -1,-.2 -1,0 -1,.1 -1,-.3 -1,.1 -1,.1 -1,.2 -1,0 -1,-.3 -1,0 -1,.1 -1,-.1 -1,.2 -1,-.6 -1,.2 -1,.1 -1,-.1 -1,0 -1,.1 -1,-.2 -1,.5 -1,-.1 -1,.3 -1,0 -1,-.5 -1,.5 -1,-.5 -1,-.2 -1,0 -1,.1 -1,.1 -1,-.2 -1,.4 -1,-.4 -1,.1 -1,.2 -1,-.2 -1,.3 -1,-.2 -1,-.1 -1,-.1 -1,0 -1,0 -1,-.1 -1,.2 -1,0 -1,.1 -1,-.2 -1,-.1 -1,1 -1,-.6 -1,-.4 -1,.3 -1,-.2 -1,.1 -1,-.1 -1,.1 -1,.2 -1,.1 -1,.1 -1,-.4 -1,0 -1,.4 -1,-.4 -1,0 -1,0 -1,.3 -1,.3 -1,.1 -1,-.7 -1,.1 -1,0 -1,-.1 -1,.1 -1,.4 -1,-.5 -1,.1 -1,0 -1,-.2 -1,.8 -1,-.3 -1,-.5 -1,.5 -1,-.4 -1,1.2 -1,-.7 -1,-.4 -1,.3 -1,-.2 -1,.1 -1,0 -1,.2 -1,.1 -1,-.1 -1,-.3 -1,.7 -1,-.5 -1,.2 -1,-.4 -1,0 -1,.3 -1,-.6 -1,.2 -1,0 -1,.1 -1,-.2 -1,.5 -1,-.5 -1,.1 -1,.3 -1,.3 -1,-.4 -1,0 -1,-.1 -1,.6 -1,-.4 -1,-.1 -1,.1 -1,.4 -1,-.8 -1,-.1 -1,.3 -1,-.2 -1,-.1 -1,.1 -1,.2 -1,-.2 -1,.3 -1,-.2 -1,0 -1,.1 -1,0 -1,-.1 -1,-.1 -1,.2 -1,.2 -1,.2 -1,0 -1,.1 -1,-.7 -1,1 -1,-.7 -1,0 -1,-.3 -1,-.1 -1,.5 -1,-.4 -1,.9 -1,0 -1,-.8 -1,.1 -1,.3 -1,0 -1,.1 -1,-.2 -1,.2 -1,.1 -1,-.4 -1,.1 -1,-.1 -1,.2 -1,0 -1,0 -1,-.1 -1,-.3 -1,.1z"/>
<path fill="#008000" d="M137.5,669l1,.1 1,.1 1,.1 1,-1.3 1,1.4 1,-.2 1,0 1,0 1,0 1,.1 1,-.4 1,.3 1,-.2 1,.1 1,-.2 1,0 1,0 1,-.2 1,.2 1,-.1 1,.2 1,-.8 1,.4 1,.4 1,-.4 1,.1 1,-.1 1,.7 1,-.3 1,.1 1,-.3 1,.5 1,-1 1,1 1,-.4 1,.1 1,.3 1,-.2 1,.2 1,-.3 1,.3 1,-.1 1,.1 1,.1 1,-.1 1,0 1,0 1,-.2 1,.2 1,-.2 1,-.2 1,.2 1,.1 1,0 1,-.2 1,.2 1,.1 1,-.1 1,-.2 1,.1 1,.2 1,-.1 1,.2 1,-.4 1,.4 1,-.1 1,-.6 1,.2 1,.2 1,-1 1,.8 1,.3 1,0 1,.1 1,-.1 1,0 1,-.2 1,.3 1,-.1 1,0 1,0 1,-.2 1,.2 1,-.1 1,-.5 1,.1 1,.3 1,.1 1,-.2 1,.3 1,0 1,0 1,-.2 1,.3 1,.1 1,-.4 1,.3 1,-.1 1,0 1,-.4 1,-.1 1,.1 1,-.3 1,.3 1,-1 1,1.1 1,0 1,0 1,-.6 1,.8 1,.1 1,-.2 1,.3 1,-.1 1,.2 1,-.5 1,.4 1,-.3 1,-.1 1,.3 1,-.5 1,.7 1,-.2 1,-.7 1,.7 1,.1 1,-.6 1,.4 1,.3 1,-.1 1,0 1,-.2 1,.1 1,-.3 1,.4 1,-.1 1,-.2 1,.3 1,-.2 1,0 1,0 1,-.4 1,.3 1,.1 1,-.1 1,0 1,0 1,.1 1,-.1 1,-.5 1,.6 1,-.1 1,0 1,.1 1,.2 1,.1 1,-.1 1,0 1,-.2 1,-.2 1,.4 1,-.3 1,.2 1,-.1 1,.3 1,-.1 1,-.2 1,.2 1,-.1 1,.1 1,-.4 1,.2 1,.2 1,-.2 1,-.2 1,.3 1,-.2 1,.2 1,0 1,-.2 1,.2 1,0 1,-.3 1,.1 1,.1 1,.2 1,-.3 1,-.3 1,.4 1,-.2 1,.2 1,-.1 1,.2 1,0 1,-.5 1,.4 1,-.1 1,.2 1,-.8 1,.9 1,0 1,-.2 1,0 1,-.1 1,-.1 1,.1 1,.2 1,-1.4 1,1 1,-.1 1,.3 1,-.8 1,.8 1,-.1 1,-.1 1,-.1 1,.1 1,-.2 1,.3 1,0 1,.1 1,.2 1,-.2 1,.2 1,0 1,.1 1,0 1,0 1,-1.1 1,.8 1,.1 1,-.2 1,.2 1,-1.1 1,.8 1,.3 1,-.1 1,-.2 1,.4 1,-.1 1,-.7 1,.9 1,-.2 1,0 1,.1 1,0 1,.1 1,-.2 1,.2 1,.1 1,-.3 1,.1 1,0 1,-.3 1,.4 1,-.2 1,0 1,-.2 1,.2 1,.3 1,-.1 1,.1 1,-.1 1,-.4 1,.4 1,0 1,0 1,-.1 1,-.3 1,.4 1,-.1 1,0 1,0 1,-.1 1,.1 1,.2 1,-1.2 1,1 1,-.1 1,.1 1,.1 1,-.3 1,.2 1,-1 1,0 1,.9 1,.1 1,-.3 1,.1 1,.2 1,-.2 1,.3 1,-.3 1,.3 1,-.5 1,-.3 1,.6 1,.1 1,-1 1,.9 1,0 1,.2 1,.1 1,-.1 1,0 1,-.1 1,.2 1,-.4 1,.2 1,0 1,-.1 1,-.3 1,.3 1,0 1,0 1,0 1,.2 1,.1 1,-.7 1,-.2 1,.6 1,-.8 1,.6 1,.2 1,0 1,-.1 1,-.1 1,.3 1,-.2 1,0 1,0 1,.3 1,-.5 1,.3 1,-.7 1,.8 1,.2 1,-.2 1,-.2 1,.2 1,-.1 1,-.3 1,.3 1,.1 1,-.1 1,0 1,0 1,-.8 1,1 1,-.2 1,0 1,0 1,0 1,.1 1,-.1 1,.1 1,0 1,-.1 1,0 1,-.9 1,.6 1,0 1,0 1,-.1 1,-.9 1,-.1 1,.7 1,.5 1,.3 1,0 1,-.1 1,-.2 1,.3 1,0 1,-.2 1,0 1,-.1 1,.1 1,0 1,.1 1,.1 1,0 1,-.3 1,.1 1,.1 1,-.4 1,-.4 1,.1 1,.6 1,.1 1,0 1,-.6 1,.5 1,.2 1,-.1 1,-.2 1,-.2 1,.1 1,.2 1,-.1 1,-.1 1,-.4 1,.5 1,-.1 1,.1 1,-.1 1,.1 1,-.2 1,.5 1,0 1,-.1 1,-.3 1,.3 1,.1 1,-.2 1,-.2 1,.3 1,-.3 1,.2 1,-.1 1,-.1 1,0 1,.1 1,0 1,.1 1,.1 1,.1 1,-.1 1,0 1,-.1 1,.2 1,-.1 1,.1 1,.2 1,-.9 1,.6 1,.2 1,-.4 1,.3 1,-.5 1,.5 1,-1.2 1,.7 1,.4 1,-.1 1,.2 1,-.3 1,.3 1,-.4 1,.2 1,.2 1,0 1,-.2 1,0 1,-.1 1,-.7 1,.7 1,.1 1,-.3 1,.5 1,0 1,-1.3 1,.4 1,1 1,-.1 1,-.3 1,0 1,.2 1,.1 1,-.1 1,.2 1,-.1 1,-.1 1,.1 1,.1 1,-.5 1,.4 1,0 1,-.3 1,-.2 1,.7 1,-.1 1,-.2 1,.1 1,.1 1,-.2 1,-.1 1,-.1 1,0 1,-.4 1,.3 1,-.2 1,.3 1,-.2 1,0 1,0 1,-.7 1,1.1 1,.1 1,0 1,.1 1,.1 1,-.4 1,.4 1,-.1 1,-.1 1,-1.3 1,1.4 1,-.2 1,.1 1,-.1 1,.3 1,0 1,-.4 1,.3 1,0 1,0 1,.1 1,-.2 1,.2 1,-.1 1,-1 1,1 1,-1.1 1,.8 1,-.1 1,-.2 1,.5 1,-.2 1,-.4 1,.5 1,.1 1,-.1 1,0 1,0 1,0 1,0 1,0 1,-.1 1,-.2 1,-.1 1,0 1,.1 1,-.1 1,-.1 1,-.5 1,.8 1,0 1,-.3 1,.6 1,-1 1,1 1,-.3 1,.2 1,.2 1,0 1,-.1 1,0 1,-.4 1,.6 1,-.1 1,.1 1,-.1 1,-.2 1,0 1,-.1 1,-.1 1,.1 1,0 1,.1 1,.1 1,0 1,.1 1,-.1 1,.1 1,-.2 1,.2 1,-.4 1,.2 1,-.1 1,-.1 1,.2 1,-.4 1,.2 1,.1 1,-.2 1,.2 1,.2 1,.1 1,-.1 1,.2 1,-.3 1,.2 1,-.4 1,.2 1,.1 1,-.1 1,-.3 1,.3 1,-.5 1,.3 1,.2 1,-.2 1,-.2 1,.5 1,-.1 1,-.1 1,0 1,-.1 1,0 1,0 1,-.9 1,.9 1,-.2 1,-.1 1,.2 1,-.2 1,.5 1,-.2 1,.2 1,0 1,-.1 1,.1 1,0 1,-.2 1,.3 1,-.2 1,-.1 1,.2 1,-.7 1,.9 1,-.2 1,0 1,.1 1,-.1 1,0 1,.1 1,0 1,-.3 1,0 1,.2 1,0 1,.1 1,-.2 1,-.5 1,.5 1,0 1,.1 1,0 1,.1 1,-.2 1,.1 1,-.7 1,1 1,-.1 1,-.1 1,0 1,.1 1,-.3 1,.3 1,-.2 1,.2 1,.1 1,-.3 1,-.1 1,.1 1,.3 1,-.3 1,-1 1,1 1,.2 1,-.3 1,.2 1,-.1 1,-.3 1,.2 1,.1 1,0 1,.1 1,-.4 1,.1 1,-.1 1,.1 1,0 1,0 1,-.4 1,.4 1,-1 1,.9 1,0 1,.3 1,-.1 1,.2 1,.1 1,0 1,0 1,-.1 1,.1 1,-.5 1,0 1,.3 1,0 1,.2 1,-.2 1,.2 1,-.1 1,0 1,0 1,0 1,-.7 1,.5 1,0 1,-.1 1,-.1 1,-.1 1,0 1,.3 1,.2 1,-.1 1,.1 1,0 1,.1 1,-.3 1,.3 1,0 1,-.7 1,.7 1,0 1,-.1 1,.2 1,0 1,-.2 1,-.1 1,.2 1,.1 1,0 1,-.3 1,.2 1,0 1,-.2 1,-.4 1,-.3 1,.7 1,0 1,0 1,0 1,0 1,0 1,0 1,.2 1,-.2 1,-.1 1,.2 1,-.3 1,.3 1,-.2 1,-.6 1,1 1,-.1 1,-.2 1,0 1,-.2 1,0 1,.4 1,0 1,.1 1,0 1,-.1 1,-.2 1,.1 1,-.2 1,-.4 1,.3 1,0 1,0 1,0 1,0 1,0 1,.2 1,-.1 1,.1 1,-.4 1,.3 1,-.6 1,.3 1,0 1,0 1,0 1,.2 1,-.1 1,.4 1,0 1,-1.3 1,1.2 1,.1 1,0 1,-.1 1,-.4 1,.7 1,-.3 1,.3 1,-.2 1,0 1,.2 1,-.1 1,-.1 1,-.1 1,0 1,-.9 1,.4 1,.5 1,-.3 1,-.9 1,1 1,.1 1,0 1,.2 1,-.1 1,.3 1,-.1 1,0 1,-.1 1,0 1,0 1,0 1,-.2 1,.1 1,-.3 1,.3 1,-.3 1,.2 1,.1 1,0 1,-.2 1,-.4 1,.2 1,.6 1,-1.3 1,-.3 1,1.3 1,-.1 1,-.2 1,.3 1,.2 1,-.2 1,0 1,0 1,-1.1 1,.9 1,.2 1,-.2 1,0 1,-.2 1,.3 1,.1 1,.2 1,0 1,.1 1,.1 1,0 1,-.2 1,.1 1,0 1,-.5 1,.4 1,-.1 1,-.1 1,0 1,0 1,-.4 1,-.6 1,1.2 1,0 1,.1 1,-.1 1.5,0 0,6.1 -1.5,-.7 -1,0 -1,.5 -1,-.6 -1,.2 -1,-.1 -1,.1 -1,0 -1,.1 -1,-.5 -1,0 -1,0 -1,.2 -1,0 -1,-.2 -1,0 -1,.3 -1,-.1 -1,-.3 -1,.4 -1,-.3 -1,.1 -1,-.2 -1,.3 -1,-.3 -1,.1 -1,.1 -1,.4 -1,-.3 -1,.2 -1,-.2 -1,.3 -1,-.1 -1,-.4 -1,-.1 -1,.2 -1,.8 -1,-1 -1,0 -1,.3 -1,-.2 -1,.1 -1,-.1 -1,.1 -1,0 -1,.1 -1,-.2 -1,0 -1,.3 -1,.1 -1,-.3 -1,.3 -1,-.3 -1,.2 -1,-.1 -1,-.2 -1,0 -1,.8 -1,-.8 -1,.1 -1,-.1 -1,-.1 -1,.1 -1,0 -1,-.2 -1,.1 -1,1.1 -1,-1 -1,.3 -1,-.1 -1,.3 -1,-.6 -1,-.1 -1,.4 -1,.4 -1,-.6 -1,0 -1,0 -1,.1 -1,.1 -1,-.1 -1,.2 -1,.1 -1,0 -1,-.1 -1,0 -1,0 -1,-.1 -1,0 -1,-.1 -1,0 -1,.4 -1,-.3 -1,-.1 -1,.1 -1,.1 -1,-.2 -1,.8 -1,-.7 -1,-.1 -1,0 -1,-.2 -1,.1 -1,.1 -1,.9 -1,-.5 -1,-.4 -1,0 -1,0 -1,.1 -1,-.2 -1,.6 -1,-.2 -1,-.2 -1,.1 -1,.3 -1,-.3 -1,-.1 -1,.1 -1,-.2 -1,-.1 -1,.2 -1,-.1 -1,.2 -1,.3 -1,-.4 -1,.3 -1,-.1 -1,-.1 -1,.3 -1,-.2 -1,0 -1,-.1 -1,0 -1,.4 -1,-.4 -1,-.1 -1,.1 -1,0 -1,1 -1,-.8 -1,.4 -1,-1 -1,0 -1,0 -1,-.1 -1,.1 -1,.1 -1,.1 -1,.2 -1,0 -1,-.2 -1,.2 -1,-.2 -1,0 -1,.1 -1,-.1 -1,.2 -1,-.3 -1,.7 -1,-.5 -1,-.1 -1,-.2 -1,.8 -1,-.4 -1,.1 -1,-.5 -1,.3 -1,-.3 -1,.6 -1,-.4 -1,.1 -1,.2 -1,-.2 -1,-.1 -1,.2 -1,-.3 -1,.2 -1,0 -1,0 -1,1.2 -1,-1.3 -1,-.1 -1,0 -1,0 -1,0 -1,-.1 -1,.3 -1,-.2 -1,.3 -1,-.4 -1,0 -1,.7 -1,-.7 -1,1 -1,-.8 -1,-.1 -1,.3 -1,0 -1,-.4 -1,-.1 -1,.2 -1,1.2 -1,-1 -1,-.3 -1,-.1 -1,.7 -1,-.5 -1,.2 -1,-.2 -1,.1 -1,-.3 -1,.2 -1,-.2 -1,.4 -1,-.3 -1,0 -1,.4 -1,-.2 -1,-.1 -1,0 -1,-.1 -1,.5 -1,-.4 -1,.9 -1,-.5 -1,0 -1,-.1 -1,-.1 -1,.1 -1,0 -1,-.1 -1,0 -1,.2 -1,0 -1,0 -1,-.3 -1,.3 -1,-.2 -1,.9 -1,-.6 -1,.4 -1,-.4 -1,-.2 -1,0 -1,0 -1,.3 -1,-.1 -1,-.1 -1,-.2 -1,-.1 -1,.6 -1,-.6 -1,.1 -1,-.2 -1,-.1 -1,.2 -1,.3 -1,-.5 -1,.1 -1,.1 -1,-.2 -1,.2 -1,0 -1,.2 -1,.2 -1,-.2 -1,.3 -1,-.3 -1,.2 -1,-.1 -1,0 -1,-.1 -1,.6 -1,-.5 -1,0 -1,-.1 -1,.3 -1,-.4 -1,.6 -1,-.4 -1,-.1 -1,.1 -1,.3 -1,-.8 -1,.3 -1,-.2 -1,.3 -1,-.1 -1,-.1 -1,.1 -1,.1 -1,.7 -1,-.5 -1,-.3 -1,0 -1,.1 -1,0 -1,-.1 -1,.1 -1,-.2 -1,.2 -1,-.2 -1,-.1 -1,.2 -1,-.2 -1,-.1 -1,.2 -1,-.2 -1,0 -1,0 -1,.6 -1,0 -1,-.2 -1,1.4 -1,-1.2 -1,.1 -1,.2 -1,-.4 -1,0 -1,-.4 -1,.1 -1,0 -1,.8 -1,-.9 -1,.1 -1,-.2 -1,0 -1,-.1 -1,.1 -1,-.1 -1,.2 -1,-.1 -1,.2 -1,-.1 -1,-.1 -1,0 -1,0 -1,.2 -1,.1 -1,0 -1,.4 -1,-.3 -1,-.1 -1,-.2 -1,1.3 -1,-1.1 -1,0 -1,-.1 -1,.2 -1,0 -1,0 -1,0 -1,.2 -1,-.1 -1,-.3 -1,0 -1,0 -1,0 -1,.2 -1,-.2 -1,.1 -1,.3 -1,-.2 -1,0 -1,0 -1,.1 -1,-.1 -1,-.1 -1,.2 -1,-.1 -1,-.2 -1,.2 -1,-.1 -1,.1 -1,.1 -1,-.2 -1,.1 -1,0 -1,-.3 -1,0 -1,0 -1,0 -1,-.1 -1,.8 -1,-.7 -1,0 -1,.3 -1,-.2 -1,0 -1,.7 -1,-.7 -1,.1 -1,-.4 -1,.3 -1,-.1 -1,-.2 -1,.4 -1,-.2 -1,0 -1,-.2 -1,.3 -1,-.2 -1,.2 -1,.2 -1,0 -1,-.2 -1,-.1 -1,.2 -1,.8 -1,-.8 -1,.1 -1,.1 -1,-.3 -1,.2 -1,0 -1,-.1 -1,.1 -1,-.2 -1,.4 -1,-.2 -1,-.2 -1,.1 -1,-.1 -1,0 -1,0 -1,-.2 -1,.3 -1,.3 -1,-.2 -1,-.3 -1,.2 -1,.5 -1,-.6 -1,.5 -1,-.3 -1,.1 -1,-.6 -1,.4 -1,0 -1,-.2 -1,-.1 -1,.1 -1,.3 -1,-.1 -1,.1 -1,-.2 -1,.2 -1,.2 -1,-.1 -1,0 -1,0 -1,.2 -1,-.1 -1,-.3 -1,.1 -1,0 -1,-.2 -1,.1 -1,-.1 -1,-.1 -1,.1 -1,.1 -1,.3 -1,-.7 -1,.6 -1,-.5 -1,.1 -1,0 -1,.4 -1,-.5 -1,.3 -1,.1 -1,1.1 -1,-.9 -1,0 -1,-.2 -1,0 -1,.9 -1,-.9 -1,-.4 -1,.8 -1,-.8 -1,.1 -1,.2 -1,-.2 -1,.3 -1,.4 -1,.8 -1,-1 -1,0 -1,-.2 -1,.1 -1,-.1 -1,.2 -1,-.1 -1,-.3 -1,-.2 -1,.2 -1,-.2 -1,.3 -1,-.1 -1,.1 -1,.1 -1,-.4 -1,.3 -1,-.2 -1,.4 -1,-.5 -1,.2 -1,-.1 -1,.3 -1,-.2 -1,-.2 -1,.1 -1,-.2 -1,.1 -1,.3 -1,-.2 -1,0 -1,0 -1,0 -1,0 -1,.3 -1,-.2 -1,.3 -1,-.2 -1,.1 -1,.4 -1,.5 -1,-.6 -1,-.2 -1,.3 -1,-.2 -1,.5 -1,-.7 -1,.6 -1,-.3 -1,-.1 -1,0 -1,-.4 -1,.1 -1,.6 -1,-.7 -1,0 -1,0 -1,1.1 -1,-1 -1,.4 -1,-.4 -1,.2 -1,-.3 -1,.2 -1,-.2 -1,.2 -1,-.2 -1,0 -1,.1 -1,-.2 -1,.1 -1,.4 -1,-.4 -1,-.1 -1,.1 -1,.5 -1,-.6 -1,.2 -1,-.2 -1,0 -1,-.1 -1,.1 -1,0 -1,.2 -1,.4 -1,-.2 -1,.3 -1,-.5 -1,1.1 -1,-1.2 -1,-.2 -1,.1 -1,-.1 -1,.3 -1,-.2 -1,-.2 -1,.8 -1,-.7 -1,.3 -1,-.4 -1,.4 -1,-.2 -1,0 -1,0 -1,.4 -1,0 -1,0 -1,-.2 -1,.1 -1,.1 -1,-.1 -1,0 -1,-.2 -1,.6 -1,-.6 -1,.3 -1,-.3 -1,1.1 -1,-.9 -1,-.2 -1,0 -1,.1 -1,.7 -1,-.5 -1,-.3 -1,0 -1,-.2 -1,.4 -1,-.3 -1,-.1 -1,0 -1,.3 -1,-.1 -1,.1 -1,.1 -1,.4 -1,0 -1,-.4 -1,0 -1,-.3 -1,.3 -1,.1 -1,-.4 -1,.2 -1,-.3 -1,1.2 -1,-1.1 -1,0 -1,-.1 -1,.3 -1,-.4 -1,.2 -1,.6 -1,.5 -1,-1.2 -1,.3 -1,0 -1,0 -1,0 -1,.4 -1,-.4 -1,.1 -1,.1 -1,-.2 -1,-.2 -1,.2 -1,-.2 -1,.2 -1,-.3 -1,.3 -1,.2 -1,-.4 -1,.3 -1,-.3 -1,.5 -1,-.1 -1,-.2 -1,0 -1,-.1 -1,.6 -1,.5 -1,-.8 -1,0 -1,-.3 -1,.4 -1,-.4 -1,0 -1,-.1 -1,.2 -1,0 -1,-.1 -1,0 -1,0 -1,.1 -1,0 -1,1 -1,-1.1 -1,-.1 -1,-.1 -1,0 -1,0 -1,.2 -1,0 -1,.1 -1,-.2 -1,0 -1,.1 -1,-.1 -1,-.1 -1,.4 -1,0 -1,-.3 -1,.7 -1,-.5 -1,.1 -1,-.3 -1,.9 -1,-.7 -1,-.3 -1,0 -1,.2 -1,1.1 -1,-1 -1,-.2 -1,.3 -1,-.3 -1,-.1 -1,.1 -1,0 -1,-.1 -1,.1 -1,-.1 -1,0 -1,.4 -1,0 -1,-.3 -1,-.1 -1,.5 -1,-.5 -1,0 -1,.1 -1,0 -1,.1 -1,.8 -1,-.8 -1,0 -1,0 -1,.2 -1,.1 -1,-.2 -1,0 -1,-.1 -1,0 -1,.2 -1,-.1 -1,.3 -1,0 -1,-.3 -1,.7 -1,-.8 -1,0 -1,.2 -1,.1 -1,-.3 -1,.1 -1,-.1 -1,-.2 -1,.2 -1,.5 -1,-.4 -1,.1 -1,-.4 -1,.2 -1,.2 -1,-.3 -1,0 -1,0 -1,0 -1,.3 -1,.7 -1,-.9 -1,-.1 -1,.1 -1,.1 -1,-.1 -1,.2 -1,-.1 -1,-.1 -1,.2 -1,.7 -1,-1 -1,0 -1,-.1 -1,0 -1,0 -1,0 -1,0 -1,.3 -1,.8 -1,-.8 -1,-.1 -1,0 -1,.2 -1,.6 -1,-.4 -1,-.2 -1,1 -1,-.3 -1,-.7 -1,.2 -1,-.4 -1,.3 -1,.4 -1,-.6 -1,-.1 -1,-.1 -1,0 -1,.2 -1,.1 -1,.1 -1,.3 -1,-.2 -1,-.1 -1,.2 -1,-.2 -1,.2 -1,-.2 -1,-.1 -1,-.2 -1,0 -1,.1 -1,-.2 -1,0 -1,1 -1,-.9 -1,0 -1,.1 -1,.2 -1,-.2 -1,0 -1,-.1 -1,.2 -1,-.1 -1,.1 -1,-.1 -1,-.2 -1,-.1 -1,0 -1,.2 -1,-.1 -1,0 -1,.1 -1,-.1 -1,.1 -1,.3 -1,-.1 -1,-.1 -1,.4 -1,-.4 -1,-.1 -1,.8 -1,-.4 -1,-.2 -1,-.1 -1,.3 -1,-.4 -1,0 -1,.9 -1,-.5 -1,-.1 -1,.1 -1,0 -1,.1 -1,-.2 -1,.1 -1,.2 -1,-.3 -1,0 -1,-.2 -1,.4 -1,-.4 -1,.1 -1,.1 -1,-.2 -1,.1 -1,-.1 -1,0z"/>
<path fill="#000000" d="M137.5,700.7l1,-.2 1,.3 1,.1 1,-.1 1,-.1 1,0 1,.2 1,0 1,-.1 1,-.2 1,-.3 1,.2 1,-.1 1,0 1,.2 1,.1 1,.1 1,.1 1,-.1 1,0 1,-.4 1,.3 1,0 1,.1 1,-.1 1,0 1,.1 1,0 1,0 1,.1 1,-.3 1,.2 1,0 1,0 1,-.2 1,0 1,.1 1,-.1 1,.2 1,0 1,-.1 1,0 1,-.6 1,.5 1,-.3 1,.5 1,-.2 1,-.1 1,-.7 1,.8 1,.1 1,-.2 1,.1 1,.1 1,-.4 1,.3 1,.1 1,-.3 1,-.1 1,.2 1,0 1,.3 1,-.2 1,.1 1,-.1 1,-.2 1,.2 1,.1 1,0 1,-.2 1,-.1 1,-.2 1,.4 1,-1 1,.8 1,.2 1,-.1 1,.1 1,-.1 1,-.6 1,.6 1,-.3 1,.1 1,.2 1,-.1 1,-1 1,1 1,-.2 1,.2 1,0 1,.1 1,0 1,.2 1,-.1 1,.3 1,-.3 1,-.1 1,.4 1,-.5 1,.4 1,-.1 1,-.9 1,.8 1,0 1,-.6 1,.6 1,.1 1,.1 1,-.1 1,.1 1,-.1 1,-.1 1,.1 1,0 1,-.3 1,-.6 1,.7 1,-.4 1,.7 1,0 1,-.2 1,-.5 1,.6 1,-.1 1,.1 1,.1 1,0 1,-.1 1,0 1,-.2 1,.3 1,-.2 1,.1 1,0 1,-.8 1,.7 1,-.2 1,.2 1,.2 1,-.1 1,-.1 1,-.8 1,.7 1,.1 1,.1 1,-.4 1,.5 1,-.1 1,-.1 1,.2 1,.1 1,-.3 1,-.8 1,.9 1,-.1 1,-.1 1,.4 1,-.4 1,.4 1,-.1 1,0 1,-.1 1,.1 1,-.1 1,-.8 1,.8 1,-.1 1,.2 1,-.2 1,.2 1,0 1,.1 1,-.4 1,.4 1,-.1 1,0 1,0 1,-.5 1,.4 1,-.4 1,.6 1,-.2 1,-.7 1,.7 1,-.3 1,.4 1,-.2 1,-.1 1,-.2 1,.4 1,-.4 1,.4 1,-.1 1,-.2 1,.5 1,-.2 1,-.1 1,.2 1,-1 1,.9 1,0 1,.2 1,-.1 1,0 1,-.1 1,0 1,.2 1,-.1 1,-.1 1,.2 1,-.3 1,.1 1,.1 1,0 1,-.2 1,.1 1,0 1,0 1,-.1 1,.2 1,-.1 1,0 1,-.3 1,0 1,.4 1,-.1 1,-.7 1,.1 1,.4 1,.1 1,.1 1,-.1 1,-.3 1,.2 1,.2 1,-.1 1,-.2 1,.2 1,-.2 1,.3 1,-.2 1,.2 1,0 1,-.4 1,.4 1,0 1,.2 1,-.2 1,0 1,-.2 1,.2 1,-.1 1,0 1,.1 1,-.3 1,-.1 1,.3 1,.2 1,-.1 1,0 1,.2 1,-1.3 1,1.2 1,0 1,-.1 1,0 1,0 1,-.8 1,.8 1,-.1 1,.1 1,.1 1,-.1 1,.2 1,-.1 1,-.8 1,.8 1,0 1,0 1,-.1 1,-.2 1,.2 1,-.3 1,.2 1,.1 1,0 1,-.5 1,.5 1,.2 1,0 1,-.1 1,-.2 1,.2 1,-.1 1,0 1,.1 1,.1 1,-.1 1,.1 1,-.9 1,.7 1,-.2 1,.2 1,.1 1,-.3 1,.1 1,-.2 1,.1 1,-.1 1,-.1 1,.2 1,.2 1,0 1,.1 1,-.2 1,.3 1,-.3 1,.3 1,-.1 1,-.3 1,.4 1,-.2 1,.1 1,-.1 1,0 1,-.6 1,.2 1,.2 1,-.7 1,.8 1,0 1,-.1 1,-.2 1,.6 1,-.1 1,-.1 1,-.3 1,.1 1,.4 1,-1.1 1,.6 1,.1 1,.1 1,-.2 1,.5 1,-.1 1,0 1,.1 1,-.5 1,.1 1,.2 1,0 1,-.5 1,.3 1,.3 1,-.3 1,.1 1,.2 1,-1 1,1.1 1,-.2 1,-.1 1,-.1 1,-.2 1,-.2 1,.2 1,-.2 1,.5 1,-.3 1,.5 1,-.4 1,.4 1,-.4 1,.1 1,0 1,-.2 1,.1 1,.1 1,-.4 1,0 1,.3 1,.1 1,-.2 1,-.1 1,.6 1,-.4 1,.4 1,-.1 1,-.8 1,.8 1,.2 1,0 1,-.2 1,.1 1,-.1 1,-.3 1,.3 1,-.1 1,0 1,.2 1,-.2 1,-.2 1,.2 1,.3 1,0 1,-.2 1,.1 1,-.4 1,.3 1,-.2 1,.3 1,-.2 1,-.4 1,.7 1,-.7 1,.4 1,.2 1,-.1 1,.2 1,-.9 1,.9 1,-.3 1,-.2 1,.2 1,-.1 1,-.9 1,.9 1,0 1,-.1 1,-.2 1,.4 1,.1 1,-.2 1,-.6 1,-.3 1,1.2 1,.1 1,-.1 1,-.3 1,.2 1,.1 1,-1 1,.9 1,-.1 1,-.1 1,-.3 1,.1 1,0 1,0 1,-.4 1,-.4 1,.7 1,.2 1,0 1,.2 1,-.9 1,.9 1,-.3 1,.3 1,-.8 1,.8 1,.2 1,-.5 1,.5 1,-.1 1,-.2 1,.1 1,.1 1,-.1 1,-.3 1,.4 1,-.3 1,.2 1,.2 1,-.1 1,-.1 1,.3 1,-.2 1,-.1 1,.1 1,.1 1,-.3 1,.1 1,.2 1,-.2 1,.2 1,-.1 1,-.3 1,.3 1,-.2 1,.1 1,0 1,-.1 1,-.4 1,.4 1,-.4 1,.4 1,-.1 1,.1 1,-.4 1,.3 1,-.1 1,.1 1,.1 1,.1 1,-.1 1,.2 1,-.2 1,-.1 1,0 1,-.1 1,.5 1,-1 1,.6 1,-.5 1,.9 1,-.1 1,.2 1,-.3 1,-.2 1,.2 1,0 1,-.4 1,.2 1,0 1,.1 1,-.1 1,.2 1,-.2 1,.1 1,-.1 1,0 1,0 1,-.1 1,.3 1,-.5 1,.5 1,0 1,.1 1,0 1,-.1 1,.1 1,-.1 1,-.3 1,-.6 1,.7 1,-.1 1,.2 1,-.1 1,.1 1,-.3 1,.2 1,.1 1,.2 1,0 1,0 1,-.3 1,0 1,.1 1,.2 1,0 1,-.4 1,.2 1,-.2 1,-.7 1,.7 1,-.5 1,.8 1,0 1,.2 1,-.1 1,-.2 1,-.6 1,.4 1,.4 1,-.1 1,.2 1,-.1 1,-.2 1,.4 1,-.1 1,-.2 1,-.1 1,-.1 1,.4 1,-.1 1,0 1,0 1,-.2 1,.3 1,-.1 1,0 1,-.3 1,.3 1,-.2 1,.3 1,-.8 1,.5 1,-.3 1,.4 1,.1 1,-.4 1,.4 1,-.1 1,-.1 1,.3 1,.1 1,-.2 1,-.1 1,.3 1,-.2 1,-.2 1,.3 1,0 1,0 1,-.2 1,-.1 1,.2 1,-.1 1,0 1,-.1 1,.3 1,-.5 1,.1 1,0 1,.2 1,0 1,0 1,0 1,-.4 1,0 1,.3 1,.2 1,.1 1,-.8 1,.5 1,.2 1,.2 1,-1.1 1,1.1 1,-.1 1,.1 1,-.1 1,-.1 1,-.4 1,0 1,.2 1,.1 1,0 1,-1.1 1,1 1,.1 1,-.2 1,.2 1,-.2 1,.1 1,-.1 1,.2 1,-.2 1,.2 1,0 1,0 1,.2 1,0 1,.1 1,-.1 1,-.1 1,.1 1,0 1,0 1,.1 1,-.1 1,0 1,.1 1,-.1 1,-.7 1,.7 1,-.5 1,.4 1,-.1 1,-.7 1,.9 1,-.3 1,.2 1,-.2 1,-.4 1,.7 1,.1 1,-.4 1,.1 1,-.1 1,.3 1,0 1,-.2 1,.1 1,.2 1,-.3 1,-.2 1,.4 1,-.1 1,.1 1,-.2 1,.2 1,0 1,-.3 1,0 1,.2 1,.1 1,-.2 1,.1 1,0 1,0 1,-.2 1,.2 1,.1 1,.1 1,-.1 1,-.2 1,-1.1 1,1.4 1,-.1 1,.1 1,-.2 1,.2 1,-.1 1,-.3 1,.2 1,0 1,0 1,.1 1,-.2 1,-.2 1,.3 1,-.2 1,.1 1,0 1,.1 1,-.2 1,.1 1,0 1,-.1 1,.1 1,-.2 1,.2 1,.1 1,0 1,-.1 1,-.1 1,.1 1,.2 1,.1 1,-.2 1,.1 1,-.1 1,-1.1 1,1.1 1,0 1,-.6 1,.4 1,.2 1,-.1 1,.1 1,-.5 1,.1 1,-.4 1,.6 1,.1 1,-.3 1,-.5 1,.8 1,-.2 1,-.9 1,.6 1,.1 1,.2 1,0 1,0 1,-1 1,.6 1,.7 1,-1.1 1,1 1,-.2 1,-.1 1,-.1 1,.1 1,-.1 1,.3 1,-.2 1,.1 1,-.3 1,.3 1,-.2 1,.2 1,-.2 1,0 1,.2 1,0 1,.1 1,0 1,.1 1,0 1,-.1 1,.2 1,-.6 1,.1 1,.5 1,-.1 1,.1 1,-.8 1,.4 1,.5 1,-.1 1,-.2 1,.2 1,-.2 1,.2 1,0 1,-.1 1,0 1,.3 1,-.1 1,-.3 1,-.4 1,.4 1,.1 1,-.3 1,.6 1,-.1 1,-.2 1,.2 1,-.1 1,0 1,0 1,0 1,-.2 1,-.4 1,.5 1,0 1,-.4 1,.4 1,-.3 1,.5 1,-.2 1,.1 1,0 1,-.3 1,-.3 1,-.8 1,.8 1,.4 1,-.4 1,.4 1,-.2 1,.2 1,0 1,.1 1,.1 1,-.6 1,.8 1,-.2 1,0 1,.1 1,-.1 1,0 1,-.1 1,.3 1,-.2 1,.1 1,-.3 1,.3 1,0 1,-.1 1,.2 1,0 1.5,0 0,5 -1.5,0 -1,-.1 -1,-.1 -1,.2 -1,.1 -1,1.3 -1,-1.2 -1,.1 -1,.2 -1,-.2 -1,.2 -1,-.2 -1,.2 -1,-.1 -1,.1 -1,-.3 -1,-.1 -1,.2 -1,-.2 -1,0 -1,.1 -1,-.1 -1,0 -1,-.3 -1,.9 -1,-.7 -1,-.1 -1,1 -1,-.7 -1,.1 -1,-.4 -1,0 -1,0 -1,0 -1,.1 -1,.2 -1,0 -1,-.2 -1,.1 -1,.4 -1,-.3 -1,.1 -1,.1 -1,-.3 -1,-.2 -1,.4 -1,-.3 -1,0 -1,-.1 -1,.5 -1,0 -1,-.3 -1,.1 -1,.2 -1,-.2 -1,.1 -1,.4 -1,-.5 -1,.2 -1,.2 -1,-.5 -1,.3 -1,-.3 -1,.3 -1,-.4 -1,.2 -1,0 -1,.1 -1,-.3 -1,.2 -1,0 -1,0 -1,.2 -1,-.2 -1,-.4 -1,.3 -1,-.2 -1,.1 -1,.1 -1,-.1 -1,.1 -1,-.2 -1,0 -1,-.1 -1,.2 -1,0 -1,.2 -1,-.2 -1,.7 -1,-.6 -1,0 -1,-.3 -1,.1 -1,.1 -1,-.1 -1,-.1 -1,.1 -1,.1 -1,-.1 -1,.1 -1,0 -1,-.2 -1,.2 -1,.3 -1,-.4 -1,.3 -1,-.1 -1,.2 -1,.1 -1,0 -1,-.2 -1,.2 -1,.9 -1,-1.3 -1,.2 -1,-.4 -1,.1 -1,.1 -1,-.1 -1,.1 -1,-.2 -1,.3 -1,.1 -1,-.1 -1,.2 -1,.2 -1,-.2 -1,.1 -1,0 -1,-.2 -1,.1 -1,0 -1,.1 -1,.3 -1,-.4 -1,.3 -1,-.5 -1,-.2 -1,.4 -1,-.3 -1,.2 -1,-.3 -1,0 -1,.4 -1,-.2 -1,.1 -1,0 -1,-.1 -1,.2 -1,-.2 -1,-.1 -1,.4 -1,.1 -1,-.3 -1,0 -1,.2 -1,-.1 -1,-.1 -1,-.1 -1,0 -1,-.1 -1,0 -1,.1 -1,.1 -1,-.2 -1,.2 -1,0 -1,0 -1,-.2 -1,0 -1,.3 -1,-.4 -1,.2 -1,1 -1,-1.3 -1,0 -1,.1 -1,0 -1,0 -1,.1 -1,.2 -1,.1 -1,.5 -1,-.3 -1,.2 -1,.2 -1,-.5 -1,-.1 -1,-.1 -1,.3 -1,-.3 -1,.3 -1,-.3 -1,.2 -1,-.1 -1,-.1 -1,-.1 -1,0 -1,.3 -1,-.1 -1,.8 -1,-.9 -1,0 -1,-.3 -1,.3 -1,-.3 -1,.3 -1,-.3 -1,.7 -1,-.5 -1,-.2 -1,.3 -1,.3 -1,-.1 -1,-.1 -1,-.2 -1,-.1 -1,.2 -1,-.2 -1,0 -1,.2 -1,-.2 -1,0 -1,0 -1,-.1 -1,-.1 -1,.7 -1,-.4 -1,-.2 -1,-.1 -1,0 -1,.2 -1,0 -1,-.1 -1,.9 -1,-.8 -1,0 -1,.8 -1,-.9 -1,-.1 -1,.2 -1,-.1 -1,.3 -1,.1 -1,-.2 -1,0 -1,0 -1,-.1 -1,.4 -1,.2 -1,-.4 -1,0 -1,.1 -1,-.1 -1,0 -1,0 -1,.2 -1,-.4 -1,0 -1,.1 -1,0 -1,-.2 -1,.2 -1,0 -1,.3 -1,.2 -1,-.4 -1,-.1 -1,.1 -1,.1 -1,-.1 -1,.3 -1,.2 -1,-.6 -1,-.1 -1,.3 -1,.2 -1,-.1 -1,-.1 -1,-.4 -1,0 -1,.2 -1,-.1 -1,.2 -1,-.3 -1,0 -1,.1 -1,.1 -1,-.2 -1,.1 -1,.1 -1,0 -1,.1 -1,0 -1,-.1 -1,0 -1,.2 -1,-.2 -1,0 -1,-.2 -1,0 -1,0 -1,.3 -1,-.3 -1,.2 -1,0 -1,-.2 -1,0 -1,.3 -1,.1 -1,-.2 -1,-.1 -1,1 -1,-.5 -1,-.1 -1,.1 -1,-.1 -1,-.3 -1,.2 -1,.8 -1,-.7 -1,-.2 -1,0 -1,-.1 -1,-.1 -1,.1 -1,0 -1,-.2 -1,0 -1,-.1 -1,0 -1,.1 -1,0 -1,0 -1,.1 -1,.1 -1,.1 -1,-.1 -1,-.1 -1,.1 -1,-.1 -1,.1 -1,0 -1,.2 -1,.3 -1,-.5 -1,0 -1,.2 -1,.1 -1,-.1 -1,-.3 -1,-.2 -1,.3 -1,.3 -1,-.6 -1,.1 -1,-.1 -1,.1 -1,-.1 -1,0 -1,0 -1,0 -1,1.3 -1,-1.3 -1,0 -1,.6 -1,.1 -1,-.3 -1,-.2 -1,.1 -1,-.1 -1,.4 -1,.4 -1,-.9 -1,.1 -1,0 -1,-.1 -1,.1 -1,.1 -1,.2 -1,-.2 -1,0 -1,.1 -1,-.2 -1,0 -1,-.2 -1,1.1 -1,-.7 -1,-.3 -1,-.1 -1,0 -1,0 -1,.2 -1,-.1 -1,0 -1,0 -1,.1 -1,0 -1,0 -1,.7 -1,-.4 -1,-.1 -1,-.2 -1,.2 -1,-.2 -1,.1 -1,.1 -1,0 -1,-.3 -1,.2 -1,-.1 -1,0 -1,.3 -1,-.4 -1,.6 -1,-.2 -1,.5 -1,-.2 -1,-.5 -1,0 -1,0 -1,.5 -1,-.3 -1,0 -1,.1 -1,-.2 -1,.3 -1,-.3 -1,.2 -1,-.1 -1,-.1 -1,-.2 -1,-.1 -1,0 -1,-.1 -1,0 -1,.1 -1,.1 -1,.3 -1,-.3 -1,-.1 -1,.1 -1,.2 -1,.1 -1,-.3 -1,-.1 -1,.3 -1,-.3 -1,0 -1,.2 -1,-.2 -1,-.1 -1,.3 -1,-.3 -1,0 -1,0 -1,1.5 -1,-1.3 -1,.1 -1,-.2 -1,.5 -1,.5 -1,-.9 -1,0 -1,.1 -1,0 -1,0 -1,-.2 -1,-.1 -1,.8 -1,.1 -1,-.7 -1,.2 -1,-.2 -1,-.1 -1,.1 -1,-.2 -1,.2 -1,0 -1,-.1 -1,0 -1,0 -1,0 -1,0 -1,.2 -1,-.2 -1,.6 -1,-.1 -1,-.1 -1,.3 -1,-.1 -1,-.3 -1,-.2 -1,.3 -1,-.1 -1,0 -1,0 -1,0 -1,0 -1,.1 -1,0 -1,.2 -1,-.2 -1,-.1 -1,-.2 -1,-.1 -1,0 -1,-.1 -1,.1 -1,0 -1,.1 -1,-.2 -1,.3 -1,-.1 -1,.3 -1,0 -1,1 -1,-1.3 -1,.1 -1,-.1 -1,0 -1,.2 -1,-.2 -1,0 -1,.2 -1,-.1 -1,0 -1,.2 -1,-.4 -1,.2 -1,-.1 -1,0 -1,.1 -1,-.1 -1,0 -1,.2 -1,.6 -1,-.7 -1,0 -1,.3 -1,0 -1,-.2 -1,.3 -1,-.3 -1,.2 -1,0 -1,.2 -1,-.6 -1,.1 -1,0 -1,.2 -1,-.2 -1,.4 -1,-.4 -1,0 -1,.5 -1,-.4 -1,.1 -1,.1 -1,-.2 -1,.4 -1,-.2 -1,-.3 -1,-.2 -1,.1 -1,-.1 -1,.4 -1,.5 -1,-.9 -1,.2 -1,0 -1,.1 -1,.1 -1,-.3 -1,1 -1,-1.1 -1,1.1 -1,-.9 -1,.8 -1,-.1 -1,-1 -1,.3 -1,.1 -1,0 -1,0 -1,.3 -1,-.1 -1,0 -1,0 -1,-.2 -1,-.1 -1,.2 -1,-.1 -1,-.1 -1,-.2 -1,0 -1,.3 -1,.1 -1,-.3 -1,.3 -1,-.2 -1,1.1 -1,-.8 -1,-.2 -1,0 -1,-.2 -1,.2 -1,0 -1,-.1 -1,-.3 -1,.2 -1,0 -1,.1 -1,-.1 -1,-.1 -1,.2 -1,.4 -1,.4 -1,-1 -1,-.1 -1,.2 -1,.7 -1,-.9 -1,.9 -1,-.6 -1,-.2 -1,.1 -1,1.1 -1,-1.2 -1,-.1 -1,.1 -1,.1 -1,-.1 -1,0 -1,0 -1,-.1 -1,0 -1,.4 -1,-.3 -1,0 -1,.1 -1,0 -1,-.1 -1,.1 -1,.2 -1,.1 -1,-.2 -1,1 -1,-.8 -1,-.1 -1,-.1 -1,.1 -1,.1 -1,-.1 -1,-.1 -1,.7 -1,-.7 -1,-.1 -1,0 -1,.1 -1,-.2 -1,0 -1,.1 -1,.3 -1,0 -1,-.3 -1,.1 -1,.1 -1,.3 -1,-.6 -1,.1 -1,0 -1,.6 -1,-.7 -1,.6 -1,-.6 -1,0 -1,.3 -1,0 -1,0 -1,.4 -1,.6 -1,-.9 -1,.3 -1,-.3 -1,0 -1,.1 -1,-.1 -1,.4 -1,-.3 -1,-.1 -1,0 -1,.2 -1,-.3 -1,-.2 -1,-.1 -1,.1 -1,1 -1,-1 -1,.7 -1,-.7 -1,-.1 -1,.1 -1,-.2 -1,.3 -1,-.1 -1,.2 -1,0 -1,-.1 -1,-.1 -1,.3 -1,-.3 -1,.2 -1,-.1 -1,-.1 -1,0 -1,.9 -1,-1 -1,.3 -1,0 -1,0 -1,0 -1,-.1 -1,.4 -1,-.4 -1,-.1 -1,-.2 -1,0 -1,.1 -1,.2 -1,.1 -1,-.4 -1,.2 -1,.1 -1,.1 -1,-.2 -1,.2 -1,0 -1,.1 -1,.1 -1,-.2 -1,.1 -1,-.2 -1,1.1 -1,-1.1 -1,0 -1,-.1 -1,-.2 -1,.1 -1,-.1 -1,.1 -1,-.1 -1,.2 -1,-.1 -1,.5 -1,-.5 -1,0 -1,0 -1,.3 -1,-.4 -1,.5 -1,0 -1,-.3 -1,.3 -1,-.2 -1,-.1 -1,0 -1,.2 -1,-.1 -1,.4 -1,-.4 -1,-.1 -1,-.1 -1,0 -1,-.1 -1,0 -1,.6 -1,-.4 -1,-.1 -1,.2 -1,-.2 -1,0 -1,.2 -1,-.2 -1,0 -1,-.1 -1,.2 -1,.2 -1,-.3 -1,.6 -1,-.5 -1,.1 -1,.1 -1,-.4 -1,0 -1,.5 -1,-.4 -1,.2 -1,.1 -1,-.1 -1,.1 -1,-.2 -1,-.1 -1,.9 -1,-.8 -1,.3 -1,-.4 -1,0 -1,.1 -1,.5 -1,-.1 -1,0 -1,.4 -1,-.4 -1,.4 -1,.6 -1,-.8 -1,-.2 -1,.2 -1,-.4 -1,.1 -1,0 -1,-.1 -1,.2 -1,-.3 -1,-.2 -1,.3 -1,-.2 -1,0 -1,0 -1,-.1 -1,.1 -1,-.1 -1,-.1 -1,0 -1,.3 -1,-.2 -1,.2 -1,-.2 -1,.1 -1,-.1 -1,0 -1,.5 -1,-.1 -1,0 -1,-.2 -1,-.2 -1,1.1 -1,-1.1 -1,-.1 -1,.1 -1,0 -1,-.1 -1,0 -1,.7 -1,.7 -1,-.7 -1,-.2 -1,0 -1,-.1 -1,0 -1,.1 -1,.8 -1,-1 -1,.1 -1,.1 -1,-.1 -1,1.2 -1,-1.1 -1,-.1 -1,.1 -1,.1 -1,.4 -1,-.8 -1,0 -1,0z"/>
<path fill="#ff0000" d="M137.5,732.4l1,-.2 1,-.3 1,.3 1,0 1,-.1 1,0 1,-.2 1,.2 1,0 1,.2 1,-.4 1,.5 1,0 1,0 1,0 1,-.1 1,0 1,0 1,.1 1,0 1,-.4 1,.2 1,-.1 1,.1 1,-.8 1,.9 1,-.2 1,.1 1,.1 1,.1 1,-1 1,.7 1,.3 1,-.2 1,.1 1,0 1,-.4 1,.4 1,-.1 1,-.1 1,.2 1,0 1,.1 1,-.2 1,.2 1,0 1,-.2 1,0 1,.2 1,0 1,0 1,-.3 1,.1 1,0 1,0 1,-.1 1,.1 1,-.1 1,-.2 1,0 1,.2 1,-.1 1,.2 1,-.1 1,-.1 1,-.1 1,.2 1,0 1,.1 1,-.1 1,.1 1,0 1,0 1,.1 1,-.4 1,.3 1,-1.1 1,.5 1,.5 1,-.2 1,.3 1,-.1 1,-.1 1,-.1 1,.2 1,0 1,0 1,.1 1,0 1,.1 1,-.1 1,.1 1,0 1,.1 1,-.3 1,.2 1,0 1,-.1 1,-.9 1,.8 1,-.1 1,.2 1,-.3 1,.4 1,0 1,-.1 1,.3 1,0 1,-.4 1,0 1,.4 1,-.4 1,-.1 1,-.1 1,.1 1,0 1,-.1 1,-.1 1,.2 1,-.4 1,-.2 1,.2 1,.2 1,.4 1,-.1 1,.3 1,0 1,-.1 1,-.1 1,.1 1,.1 1,-.1 1,0 1,0 1,-.2 1,-.2 1,0 1,.2 1,0 1,0 1,-.2 1,.1 1,.1 1,.1 1,-.2 1,0 1,.3 1,-.1 1,.1 1,-.1 1,0 1,-.1 1,.1 1,-.3 1,.2 1,-.1 1,-.8 1,0 1,.3 1,.5 1,.1 1,.1 1,-.4 1,.1 1,.2 1,-.1 1,.3 1,-.1 1,.1 1,-.1 1,-1.2 1,1 1,.3 1,.2 1,-.2 1,-.2 1,.4 1,-.5 1,.3 1,.2 1,-.3 1,.1 1,0 1,-.3 1,.4 1,-.3 1,-1 1,1.3 1,0 1,0 1,-.1 1,-.5 1,.4 1,-.1 1,.2 1,.1 1,-.2 1,.1 1,-.2 1,-.1 1,.1 1,.1 1,-.9 1,.9 1,-.1 1,.3 1,-.4 1,.2 1,-.4 1,.5 1,0 1,0 1,-.4 1,.4 1,-.2 1,-.7 1,.7 1,.1 1,-.1 1,.2 1,-.1 1,.1 1,-.3 1,.2 1,-.4 1,.5 1,-.1 1,-.3 1,.4 1,-.1 1,.1 1,0 1,-.1 1,.1 1,.1 1,-1 1,.9 1,0 1,-.1 1,-1 1,1 1,.2 1,-1.6 1,1 1,.1 1,.2 1,.1 1,.1 1,-.2 1,-.1 1,-.1 1,.1 1,-.1 1,.3 1,.2 1,-1.4 1,-.3 1,1.6 1,-.1 1,.1 1,-.1 1,.2 1,-.3 1,0 1,.2 1,-.1 1,.1 1,-.3 1,-.3 1,.3 1,.1 1,-.1 1,-.2 1,.2 1,-.2 1,.1 1,.2 1,.1 1,0 1,-.2 1,.3 1,-.2 1,-.2 1,.2 1,.1 1,-.5 1,-.3 1,.6 1,-.4 1,-.7 1,1 1,0 1,.2 1,0 1,-.3 1,.4 1,.1 1,0 1,.1 1,0 1,-.1 1,-.3 1,.4 1,.1 1,-.1 1,-.2 1,.1 1,-.2 1,0 1,-.2 1,.1 1,-.4 1,0 1,.5 1,0 1,-.5 1,.5 1,-.1 1,.1 1,-.7 1,.5 1,.3 1,.3 1,-.3 1,.2 1,-.2 1,.2 1,0 1,-.5 1,.5 1,-.5 1,-.3 1,.3 1,0 1,0 1,-.4 1,.4 1,.1 1,0 1,0 1,-.6 1,.9 1,-.3 1,.2 1,.1 1,-.1 1,-.5 1,.4 1,-.3 1,0 1,.3 1,.2 1,-.2 1,0 1,-.1 1,-.4 1,.5 1,-.4 1,.2 1,.1 1,.1 1,.1 1,0 1,-.1 1,.2 1,-.1 1,.1 1,-.1 1,0 1,-.1 1,0 1,-.1 1,-.1 1,-.2 1,.1 1,0 1,.3 1,.1 1,0 1,.2 1,-.9 1,.8 1,.1 1,0 1,-.1 1,-.1 1,.2 1,-.1 1,-.3 1,-.1 1,.3 1,.1 1,0 1,-.1 1,-.1 1,-.3 1,.4 1,0 1,.1 1,-.1 1,-.1 1,-.1 1,.1 1,-.1 1,0 1,0 1,-.2 1,.2 1,-.1 1,.3 1,-1.2 1,1 1,.1 1,0 1,-.3 1,0 1,.4 1,-.2 1,-.5 1,.4 1,.1 1,0 1,.2 1,-.4 1,.1 1,.3 1,-.6 1,.5 1,.2 1,-.4 1,.4 1,.1 1,-.3 1,-.3 1,.4 1,-.1 1,.1 1,-.1 1,0 1,.2 1,-1.2 1,.7 1,0 1,.1 1,.2 1,-.1 1,-.7 1,.6 1,.1 1,.2 1,.1 1,-.2 1,-.4 1,.4 1,.1 1,-.2 1,.2 1,-.3 1,.3 1,-.4 1,.3 1,-.1 1,.1 1,-.2 1,.2 1,-.1 1,-1.1 1,1 1,.2 1,0 1,0 1,.2 1,-.1 1,.1 1,.1 1,-.4 1,.5 1,-1.1 1,.8 1,-.1 1,-1.3 1,1.6 1,-.1 1,0 1,-.2 1,.3 1,-.1 1,-.4 1,.4 1,-.1 1,.1 1,.1 1,0 1,-.2 1,-.6 1,.6 1,.2 1,0 1,0 1,-.3 1,0 1,-.2 1,.4 1,-.4 1,-.5 1,.9 1,-.1 1,-.1 1,-.3 1,.1 1,.4 1,-.2 1,-.2 1,.3 1,0 1,.2 1,-.4 1,-.6 1,1.1 1,-.2 1,-.1 1,-.2 1,.1 1,.1 1,-.5 1,.6 1,-.1 1,0 1,-.1 1,.2 1,-.1 1,.2 1,-.2 1,0 1,0 1,-.2 1,-.6 1,.7 1,.2 1,-.3 1,.2 1,.1 1,.1 1,-.3 1,0 1,.2 1,-.4 1,.3 1,0 1,-.3 1,.1 1,.1 1,-.1 1,-.2 1,.1 1,.1 1,-1.1 1,1.2 1,0 1,-1.2 1,.4 1,-.3 1,1.2 1,-.8 1,.7 1,-.1 1,0 1,0 1,.2 1,0 1,-.3 1,.1 1,-.1 1,.2 1,.1 1,-.3 1,.4 1,-.1 1,-.2 1,0 1,0 1,0 1,-.1 1,0 1,-.4 1,-.6 1,1.2 1,.1 1,-.8 1,1 1,-.4 1,-.8 1,1 1,0 1,-.3 1,.1 1,-.2 1,0 1,.2 1,-.9 1,.7 1,.5 1,-.6 1,.6 1,-.2 1,.1 1,.2 1,-.2 1,0 1,-.4 1,.2 1,-.2 1,-.3 1,.4 1,0 1,0 1,0 1,-.2 1,-1.3 1,1.3 1,.5 1,-.1 1,.1 1,0 1,0 1,.1 1,-.1 1,.2 1,-.1 1,-.3 1,.1 1,0 1,0 1,-.1 1,-.2 1,.4 1,0 1,-.8 1,-.2 1,.8 1,.1 1,0 1,.2 1,0 1,0 1,0 1,-.1 1,0 1,-.1 1,.1 1,.1 1,-.5 1,.4 1,0 1,-.1 1,.1 1,-.3 1,-1.2 1,1.4 1,.1 1,-.1 1,0 1,.2 1,0 1,-.1 1,-.1 1,0 1,-.1 1,-.6 1,.7 1,.1 1,-.6 1,.4 1,0 1,0 1,.2 1,.1 1,0 1,-.4 1,.3 1,.3 1,-.1 1,-.2 1,.2 1,-.4 1,.2 1,.1 1,-.3 1,.2 1,-.1 1,-1.3 1,1.1 1,-.2 1,0 1,.2 1,.1 1,0 1,-.2 1,-.4 1,.9 1,-.2 1,.2 1,.1 1,-.3 1,.4 1,-.4 1,-.1 1,.1 1,.1 1,.1 1,.1 1,-.2 1,0 1,0 1,-.1 1,.1 1,-.1 1,-.1 1,-.2 1,.1 1,.3 1,-.1 1,-.4 1,.3 1,.1 1,0 1,-.1 1,.3 1,0 1,0 1,-.2 1,.1 1,0 1,-.1 1,.4 1,-.1 1,-.3 1,.2 1,.1 1,0 1,-.1 1,.1 1,-.2 1,-.1 1,.2 1,-.1 1,.1 1,0 1,0 1,0 1,0 1,-.1 1,.2 1,-.4 1,.2 1,0 1,0 1,-.3 1,.4 1,-.3 1,.2 1,-.1 1,.1 1,-.1 1,-.5 1,.6 1,0 1,-.1 1,-.4 1,.6 1,-.6 1,.3 1,0 1,-.2 1,0 1,.3 1,-.2 1,.2 1,.3 1,-.2 1,.1 1,-.1 1,.2 1,-.1 1,-.2 1,.3 1,-.8 1,.6 1,.2 1,-.5 1,.4 1,0 1,-.1 1,.2 1,0 1,-.1 1,-.1 1,.1 1,-.1 1,.1 1,0 1,-.1 1,0 1,0 1,.2 1,-.2 1,.1 1,-.4 1,.6 1,0 1,0 1,-.2 1,0 1,-.4 1,.3 1,0 1,0 1,-.1 1,-.2 1,.3 1,-.1 1,.1 1,-.2 1,-.1 1,.3 1,-.1 1,0 1,-.4 1,.8 1,-.4 1,.3 1,0 1,0 1,-.2 1,-.2 1,.1 1,-.9 1,.9 1,-.1 1,0 1,0 1,-.8 1,1 1,-.1 1,.1 1,-.1 1,-.2 1,.1 1,-.2 1,-.2 1,.4 1,0 1,.1 1,.1 1,-.1 1,-.3 1,.4 1,0 1,.1 1,.1 1,-.4 1,-.1 1,-.2 1,.4 1,-.4 1,.3 1,0 1,0 1,0 1,0 1,0 1,.2 1,-.3 1,.3 1,-.1 1.5,-.3 0,5.5 -1.5,0 -1,.1 -1,.6 -1,-.8 -1,.2 -1,.1 -1,-.2 -1,0 -1,.1 -1,.3 -1,-.3 -1,.1 -1,.5 -1,.3 -1,-.7 -1,.7 -1,-.3 -1,-.4 -1,-.1 -1,.2 -1,0 -1,.3 -1,-.7 -1,.2 -1,.1 -1,-.3 -1,0 -1,.2 -1,0 -1,0 -1,.7 -1,-.8 -1,-.1 -1,.5 -1,.7 -1,-1.1 -1,.1 -1,-.1 -1,.1 -1,-.1 -1,.3 -1,-.2 -1,.2 -1,-.3 -1,0 -1,0 -1,-.1 -1,.1 -1,0 -1,0 -1,0 -1,.2 -1,.3 -1,-.3 -1,.7 -1,-.7 -1,.3 -1,0 -1,-.1 -1,0 -1,0 -1,0 -1,.1 -1,-.2 -1,0 -1,.1 -1,-.4 -1,.9 -1,-.8 -1,-.1 -1,.2 -1,0 -1,-.3 -1,.1 -1,.2 -1,-.1 -1,0 -1,0 -1,.1 -1,-.2 -1,0 -1,-.2 -1,.1 -1,.3 -1,-.3 -1,-.1 -1,.5 -1,-.2 -1,.2 -1,.3 -1,-.5 -1,0 -1,.2 -1,0 -1,.2 -1,-.2 -1,.1 -1,-.2 -1,-.1 -1,.1 -1,0 -1,.1 -1,-.1 -1,-.2 -1,.2 -1,-.2 -1,0 -1,-.1 -1,.2 -1,-.1 -1,.3 -1,.1 -1,-.3 -1,.4 -1,-.3 -1,.5 -1,-.7 -1,0 -1,.1 -1,.1 -1,.1 -1,-.3 -1,0 -1,.3 -1,0 -1,-.2 -1,-.2 -1,0 -1,0 -1,-.1 -1,.5 -1,-.3 -1,-.1 -1,.2 -1,.2 -1,0 -1,.2 -1,.1 -1,-.3 -1,.2 -1,-.4 -1,.1 -1,.2 -1,-.2 -1,-.1 -1,.2 -1,.1 -1,0 -1,-.3 -1,.1 -1,.9 -1,.1 -1,-.9 -1,-.3 -1,-.1 -1,.2 -1,0 -1,-.1 -1,.3 -1,-.2 -1,-.2 -1,-.1 -1,.2 -1,.2 -1,-.2 -1,.1 -1,-.3 -1,.1 -1,0 -1,.1 -1,0 -1,.1 -1,0 -1,0 -1,-.2 -1,.2 -1,-.2 -1,0 -1,.2 -1,-.1 -1,.4 -1,.3 -1,.3 -1,-.8 -1,-.1 -1,.1 -1,0 -1,-.1 -1,.1 -1,-.1 -1,.1 -1,.3 -1,-.4 -1,0 -1,-.1 -1,.2 -1,-.2 -1,-.2 -1,1.1 -1,-1 -1,-.1 -1,.8 -1,-.5 -1,-.1 -1,-.1 -1,0 -1,.1 -1,-.1 -1,0 -1,0 -1,-.1 -1,.1 -1,0 -1,0 -1,.3 -1,-.1 -1,0 -1,.2 -1,-.2 -1,.1 -1,.1 -1,0 -1,0 -1,.1 -1,1 -1,-1 -1,-.2 -1,.1 -1,-.2 -1,.2 -1,.1 -1,0 -1,-.4 -1,0 -1,.2 -1,0 -1,-.1 -1,0 -1,-.2 -1,0 -1,.1 -1,0 -1,.1 -1,-.2 -1,.3 -1,-.2 -1,-.2 -1,.2 -1,.1 -1,.8 -1,-.9 -1,.2 -1,-.2 -1,0 -1,-.1 -1,.3 -1,.2 -1,-.3 -1,.7 -1,-.4 -1,-.2 -1,-.2 -1,.8 -1,-.6 -1,0 -1,-.3 -1,.1 -1,.2 -1,-.2 -1,-.1 -1,.1 -1,.5 -1,-.6 -1,0 -1,.2 -1,.2 -1,-.5 -1,.4 -1,.6 -1,.2 -1,-.9 -1,.2 -1,-.3 -1,.3 -1,-.2 -1,.1 -1,.1 -1,-.3 -1,-.1 -1,.1 -1,0 -1,.2 -1,-.3 -1,.2 -1,-.1 -1,-.1 -1,-.1 -1,.1 -1,-.1 -1,0 -1,.1 -1,.1 -1,1 -1,-1 -1,.3 -1,.1 -1,-.1 -1,-.3 -1,.3 -1,.3 -1,0 -1,-.2 -1,.2 -1,-.2 -1,1 -1,-1.1 -1,0 -1,-.1 -1,-.2 -1,.8 -1,-.9 -1,.2 -1,-.2 -1,.1 -1,0 -1,.2 -1,.1 -1,-.1 -1,.3 -1,0 -1,-.2 -1,.1 -1,-.4 -1,.3 -1,-.3 -1,.1 -1,.1 -1,0 -1,.2 -1,-.3 -1,0 -1,0 -1,.5 -1,-.4 -1,-.1 -1,1.2 -1,-1.2 -1,.2 -1,0 -1,1 -1,-.9 -1,.1 -1,-.2 -1,.1 -1,-.2 -1,.1 -1,-.4 -1,.3 -1,.8 -1,-.9 -1,0 -1,0 -1,-.1 -1,0 -1,0 -1,.4 -1,-.4 -1,.2 -1,-.3 -1,0 -1,.4 -1,-.2 -1,-.2 -1,-.1 -1,.2 -1,0 -1,-.2 -1,.2 -1,0 -1,-.1 -1,.4 -1,-.1 -1,0 -1,-.2 -1,.2 -1,.1 -1,0 -1,0 -1,.8 -1,-1 -1,-.1 -1,-.1 -1,-.1 -1,.3 -1,0 -1,-.1 -1,.2 -1,-.2 -1,0 -1,.3 -1,-.3 -1,.1 -1,-.1 -1,0 -1,0 -1,.2 -1,.3 -1,-.1 -1,-.4 -1,.2 -1,.5 -1,-.8 -1,.1 -1,.2 -1,-.1 -1,-.1 -1,0 -1,1 -1,-1.1 -1,.1 -1,-.1 -1,0 -1,.1 -1,.6 -1,-.3 -1,-.4 -1,.1 -1,0 -1,.1 -1,0 -1,.1 -1,-.2 -1,.4 -1,-.3 -1,-.3 -1,.2 -1,.3 -1,-.3 -1,0 -1,.2 -1,.4 -1,-.4 -1,.1 -1,.1 -1,-.1 -1,-.2 -1,0 -1,.3 -1,-.5 -1,.1 -1,.1 -1,0 -1,.2 -1,-.2 -1,0 -1,-.1 -1,0 -1,0 -1,0 -1,0 -1,0 -1,-.1 -1,.2 -1,-.2 -1,.6 -1,-.2 -1,-.1 -1,0 -1,0 -1,.1 -1,-.2 -1,.4 -1,-.3 -1,.4 -1,-.3 -1,.2 -1,-.1 -1,-.4 -1,.1 -1,.5 -1,-.3 -1,.1 -1,0 -1,-.3 -1,0 -1,.3 -1,-.2 -1,-.3 -1,-.1 -1,.3 -1,-.2 -1,.6 -1,-.6 -1,.3 -1,-.1 -1,-.2 -1,.1 -1,0 -1,.3 -1,-.2 -1,-.2 -1,.1 -1,-.1 -1,.3 -1,-.3 -1,0 -1,.2 -1,0 -1,-.1 -1,0 -1,-.1 -1,0 -1,0 -1,.4 -1,-.1 -1,-.1 -1,-.1 -1,.7 -1,-.4 -1,-.2 -1,.3 -1,.2 -1,-.3 -1,-.3 -1,.3 -1,-.2 -1,.2 -1,-.1 -1,.1 -1,.1 -1,-.3 -1,0 -1,.1 -1,-.1 -1,-.1 -1,.1 -1,0 -1,0 -1,-.2 -1,.1 -1,0 -1,-.1 -1,.3 -1,-.2 -1,0 -1,0 -1,-.1 -1,.3 -1,-.1 -1,0 -1,.2 -1,-.2 -1,.2 -1,-.2 -1,.2 -1,.3 -1,-.4 -1,.2 -1,-.2 -1,0 -1,0 -1,-.1 -1,-.1 -1,.1 -1,-.1 -1,.2 -1,.1 -1,0 -1,-.2 -1,.8 -1,-.7 -1,.2 -1,.2 -1,0 -1,-.2 -1,-.2 -1,-.1 -1,-.1 -1,.2 -1,0 -1,0 -1,-.3 -1,0 -1,.1 -1,0 -1,.6 -1,-.6 -1,0 -1,0 -1,.1 -1,.2 -1,0 -1,-.3 -1,.3 -1,-.3 -1,.1 -1,-.3 -1,.2 -1,-.1 -1,-.1 -1,0 -1,.1 -1,.5 -1,.3 -1,-.6 -1,-.1 -1,.1 -1,0 -1,.5 -1,-.4 -1,0 -1,-.1 -1,.1 -1,0 -1,-.3 -1,0 -1,.1 -1,0 -1,.3 -1,0 -1,.1 -1,0 -1,-.4 -1,.1 -1,-.1 -1,-.1 -1,0 -1,.3 -1,.2 -1,-.5 -1,0 -1,.1 -1,.3 -1,-.1 -1,-.2 -1,-.2 -1,.1 -1,0 -1,.2 -1,-.1 -1,.1 -1,0 -1,.1 -1,-.2 -1,.6 -1,-.5 -1,.4 -1,-.2 -1,.1 -1,-.2 -1,-.2 -1,.2 -1,.1 -1,-.4 -1,.3 -1,-.1 -1,-.1 -1,0 -1,.2 -1,-.2 -1,.2 -1,-.1 -1,-.1 -1,.3 -1,-.5 -1,.2 -1,0 -1,.1 -1,-.1 -1,0 -1,0 -1,.2 -1,-.1 -1,.1 -1,-.1 -1,-.1 -1,1 -1,-.5 -1,-.4 -1,-.2 -1,-.1 -1,0 -1,.1 -1,0 -1,.1 -1,-.1 -1,0 -1,.4 -1,.2 -1,-.3 -1,-.1 -1,0 -1,-.2 -1,-.1 -1,.1 -1,0 -1,1 -1,-1.1 -1,0 -1,.9 -1,-.5 -1,-.1 -1,.4 -1,.1 -1,-.1 -1,-.5 -1,.4 -1,-.3 -1,.2 -1,-.1 -1,.2 -1,.3 -1,-.4 -1,-.1 -1,.7 -1,-.8 -1,1.2 -1,-1.1 -1,.2 -1,-.2 -1,-.2 -1,0 -1,-.1 -1,.9 -1,-.8 -1,0 -1,-.1 -1,-.1 -1,0 -1,.1 -1,.1 -1,.1 -1,0 -1,0 -1,.1 -1,.3 -1,-.5 -1,.3 -1,-.2 -1,-.1 -1,0 -1,0 -1,.1 -1,-.2 -1,.7 -1,-.1 -1,-.4 -1,-.2 -1,.2 -1,-.2 -1,0 -1,.1 -1,-.2 -1,.3 -1,-.2 -1,.2 -1,-.1 -1,.2 -1,0 -1,-.2 -1,.3 -1,0 -1,-.2 -1,.4 -1,-.1 -1,0 -1,-.2 -1,0 -1,.2 -1,.8 -1,-1.2 -1,.1 -1,.1 -1,-.2 -1,.1 -1,-.2 -1,.2 -1,-.1 -1,.1 -1,.5 -1,-.7 -1,0 -1,0 -1,.9 -1,-.7 -1,0 -1,-.1 -1,.1 -1,.2 -1,0 -1,-.3 -1,.7 -1,-.9 -1,0 -1,0 -1,.1 -1,.2 -1,-.2 -1,.1 -1,-.1 -1,-.1 -1,.2 -1,-.1 -1,1.2 -1,-1 -1,0 -1,0 -1,0 -1,.1 -1,-.1 -1,0 -1,.2 -1,-.3 -1,.1 -1,.5 -1,-.5 -1,-.1 -1,.1 -1,-.2 -1,.1 -1,.2 -1,-.1 -1,-.1 -1,-.1 -1,.2 -1,0 -1,.5 -1,-.1 -1,-.1 -1,-.2 -1,0 -1,0 -1,.1 -1,.2 -1,-.1 -1,-.3 -1,.7 -1,-.4 -1,-.1 -1,.2 -1,-.1 -1,-.2 -1,-.1 -1,0 -1,0 -1,.1 -1,.1 -1,-.3 -1,-.1 -1,.1 -1,.2 -1,.3 -1,.3 -1,-.7 -1,-.2 -1,.1 -1,0 -1,-.1 -1,-.1 -1,.2 -1,0 -1,0 -1,.2 -1,-.2 -1,-.1 -1,0 -1,.1 -1,.1 -1,.1 -1,.5 -1,-.3 -1,.3 -1,-.5 -1,.3 -1,-.3 -1,.3z"/>
<path fill="#0000ff" d="M137.5,763.9l1,.1 1,-.2 1,-.3 1,.2 1,-.4 1,.6 1,-.2 1,-.4 1,.2 1,.2 1,0 1,-.1 1,-.1 1,.4 1,-.1 1,-.3 1,.3 1,-.2 1,.2 1,0 1,-.1 1,-.6 1,.7 1,-.2 1,-.1 1,0 1,.2 1,-.1 1,-.8 1,.6 1,-.2 1,.2 1,.2 1,-.3 1,.3 1,-.4 1,.1 1,.2 1,.1 1,.1 1,-.2 1,-.2 1,-.4 1,.4 1,.3 1,-.2 1,.2 1,.2 1,-.2 1,.1 1,.1 1,0 1,0 1,.2 1,-.6 1,.2 1,.3 1,-.2 1,0 1,-.1 1,.1 1,-.3 1,.5 1,0 1,-.3 1,.3 1,-.1 1,0 1,0 1,-.6 1,.5 1,-.3 1,.2 1,.1 1,-.5 1,.2 1,.5 1,.1 1,-.2 1,-.1 1,-.1 1,-.1 1,-.2 1,0 1,.4 1,-.8 1,.4 1,0 1,-.3 1,.5 1,-.2 1,.1 1,.1 1,-.1 1,-.2 1,.2 1,.1 1,-.6 1,.4 1,0 1,-.1 1,-.4 1,.7 1,-.5 1,0 1,.7 1,.2 1,-.7 1,.7 1,-.2 1,.2 1,-.2 1,0 1,.1 1,-.1 1,.1 1,-.7 1,.7 1,0 1,-.2 1,-.7 1,.9 1,-.2 1,.3 1,.1 1,-.4 1,.3 1,-.5 1,.5 1,.1 1,-1.1 1,1 1,-.1 1,0 1,-.1 1,0 1,0 1,-.1 1,.1 1,-.2 1,.5 1,-.4 1,.4 1,-.2 1,-.1 1,.1 1,0 1,0 1,0 1,-.1 1,-.3 1,.2 1,-.2 1,.4 1,.2 1,-.1 1,.1 1,-.2 1,.1 1,-.1 1,0 1,-.4 1,.3 1,-.2 1,.1 1,0 1,-.7 1,1 1,.1 1,-.4 1,.1 1,0 1,0 1,-.2 1,.3 1,-.1 1,0 1,0 1,-.4 1,.3 1,.2 1,-.3 1,.1 1,-.1 1,.1 1,.1 1,-.1 1,.3 1,.1 1,-.1 1,-.3 1,.2 1,0 1,0 1,-.1 1,.1 1,-.2 1,0 1,.2 1,-.1 1,-.7 1,.6 1,.2 1,-.2 1,0 1,.2 1,-.1 1,0 1,-.3 1,.3 1,.1 1,.1 1,-.4 1,-.8 1,.8 1,.2 1,-1.1 1,1.3 1,0 1,.1 1,-.1 1,-.2 1,.1 1,0 1,-.1 1,.2 1,-.3 1,.4 1,0 1,-.3 1,0 1,.2 1,0 1,-.3 1,.1 1,.2 1,-.1 1,0 1,-.1 1,.3 1,0 1,-.3 1,.2 1,-1.2 1,.9 1,-.4 1,.8 1,-.4 1,.2 1,-.4 1,.5 1,-.2 1,-.3 1,.4 1,-.2 1,.1 1,.2 1,-.2 1,-.1 1,-.1 1,.4 1,-.1 1,0 1,0 1,.1 1,-.2 1,-.1 1,-.1 1,-.1 1,.2 1,-.4 1,.1 1,.3 1,.1 1,.2 1,.1 1,-.2 1,-.1 1,.3 1,-.2 1,-.1 1,-.1 1,0 1,-.7 1,.7 1,-.2 1,.2 1,-.2 1,-1.2 1,1.1 1,.2 1,.1 1,-.1 1,.2 1,-.1 1,.1 1,-.3 1,.3 1,-.1 1,-.2 1,.2 1,.1 1,-.2 1,.2 1,-.4 1,.1 1,.3 1,0 1,.1 1,0 1,0 1,-.1 1,.2 1,.1 1,-.1 1,.1 1,-.2 1,0 1,0 1,0 1,.1 1,-.5 1,.1 1,.1 1,0 1,.1 1,-.2 1,.2 1,0 1,-.3 1,.3 1,-.1 1,0 1,.2 1,.2 1,-.3 1,-.2 1,0 1,.4 1,-.2 1,-.3 1,.3 1,.1 1,-.1 1,.1 1,0 1,-.1 1,.1 1,.2 1,-.1 1,0 1,-.1 1,.1 1,0 1,0 1,.1 1,0 1,-.1 1,-.2 1,-.8 1,1.1 1,-.2 1,-.2 1,0 1,0 1,-.1 1,0 1,0 1,.2 1,-.1 1,.2 1,-.1 1,0 1,-1.3 1,1.3 1,-.2 1,.2 1,0 1,-.4 1,-.1 1,.8 1,-.3 1,.1 1,-.1 1,.2 1,-.2 1,0 1,-.6 1,.8 1,-.2 1,-.4 1,.3 1,.1 1,-.5 1,.5 1,-.2 1,.1 1,-.7 1,.6 1,-1.1 1,1 1,.1 1,-.1 1,0 1,0 1,-.1 1,.1 1,0 1,.1 1,-.1 1,-.1 1,.3 1,-.1 1,.2 1,-1.2 1,.2 1,.6 1,.3 1,-.3 1,.3 1,-.1 1,.3 1,.2 1,-.4 1,.4 1,-.1 1,-.9 1,.8 1,.1 1,-.4 1,.1 1,.1 1,-.1 1,-.1 1,-.8 1,.6 1,-.3 1,.8 1,.2 1,-.2 1,-1.1 1,.9 1,.3 1,-.2 1,.3 1,-.4 1,.2 1,0 1,0 1,.1 1,-.2 1,.1 1,0 1,.1 1,-.4 1,.4 1,.1 1,0 1,-.1 1,0 1,-.1 1,-.2 1,.2 1,-.2 1,0 1,-.1 1,.2 1,.1 1,.1 1,-.2 1,-.3 1,.6 1,-.2 1,0 1,0 1,-.2 1,.1 1,.1 1,-.3 1,0 1,.2 1,-.2 1,-.1 1,.2 1,-.2 1,-.7 1,.9 1,-.4 1,.2 1,.2 1,-.3 1,.3 1,0 1,.1 1,.2 1,-.4 1,.4 1,.1 1,-.3 1,.2 1,-.3 1,.1 1,.2 1,-.2 1,.2 1,-.6 1,.5 1,-.2 1,.1 1,.1 1,0 1,-.2 1,.2 1,-.1 1,-.1 1,.2 1,-.2 1,.1 1,-.1 1,0 1,-.2 1,0 1,.1 1,0 1,.2 1,0 1,-.3 1,.1 1,.1 1,.3 1,-.1 1,.2 1,0 1,-.5 1,-.1 1,.2 1,0 1,-.1 1,-.1 1,.1 1,-.1 1,-.4 1,.2 1,.2 1,.1 1,-.3 1,.5 1,0 1,-1.3 1,1 1,.2 1,.2 1,.1 1,-.1 1,-.1 1,.1 1,.1 1,-.1 1,.2 1,-.1 1,-.1 1,.1 1,0 1,0 1,0 1,-.2 1,.1 1,.1 1,-.1 1,.1 1,-.2 1,0 1,-.3 1,.4 1,-.1 1,.1 1,.1 1,-.4 1,.1 1,.3 1,-.3 1,.2 1,.1 1,.1 1,0 1,-.6 1,.4 1,0 1,-.3 1,.1 1,-.5 1,.4 1,0 1,-.3 1,-.6 1,.7 1,.2 1,.1 1,-.2 1,.3 1,-1.2 1,1.1 1,-.1 1,.1 1,-.1 1,.2 1,.2 1,-.2 1,.1 1,-.2 1,.3 1,-.5 1,.5 1,-.1 1,-.1 1,.2 1,0 1,0 1,.1 1,0 1,-.2 1,-.8 1,.5 1,-.5 1,.8 1,0 1,-.1 1,-.1 1,-.4 1,.1 1,.4 1,.1 1,-.6 1,.5 1,0 1,0 1,-.9 1,1 1,0 1,0 1,-.2 1,0 1,0 1,.1 1,-.6 1,.3 1,0 1,.3 1,-.3 1,.2 1,-.2 1,.2 1,.1 1,0 1,-.3 1,-.1 1,.2 1,-.2 1,.2 1,-.1 1,.2 1,0 1,0 1,-.2 1,.5 1,0 1,-.1 1,-.1 1,.2 1,-.3 1,0 1,.2 1,0 1,-.3 1,.3 1,0 1,-.8 1,.7 1,-.9 1,1 1,-.6 1,.5 1,.1 1,.1 1,-.5 1,.3 1,0 1,-.1 1,-.1 1,0 1,-.3 1,.5 1,.1 1,-.1 1,0 1,-.3 1,-.3 1,.4 1,0 1,-.1 1,.2 1,-.2 1,0 1,-.1 1,-.1 1,.1 1,.1 1,-.1 1,-.2 1,.6 1,-.3 1,.2 1,0 1,.2 1,.2 1,-.1 1,-.4 1,.4 1,-.4 1,-.2 1,.5 1,-.3 1,-.3 1,.3 1,-.2 1,.4 1,-.1 1,.4 1,-1.1 1,.4 1,.4 1,.1 1,.1 1,0 1,-.3 1,.2 1,-.1 1,.2 1,-.5 1,.1 1,.3 1,0 1,-.1 1,.2 1,-.1 1,.2 1,-.3 1,.1 1,-.3 1,.3 1,0 1,0 1,-.4 1,.2 1,0 1,-.6 1,.5 1,.1 1,0 1,-.1 1,0 1,.1 1,-.1 1,-.3 1,.4 1,-.4 1,.3 1,0 1,.1 1,-.1 1,-.6 1,.8 1,-.1 1,.2 1,-.3 1,.2 1,0 1,.2 1,-.3 1,.1 1,.2 1,-.3 1,.3 1,-.1 1,-.1 1,.1 1,-.2 1,.1 1,-.2 1,0 1,.1 1,-.1 1,.2 1,0 1,-.1 1,-.1 1,.3 1,-.3 1,-.8 1,1 1,-.5 1,.3 1,.3 1,0 1,0 1,-.4 1,.3 1,0 1,-.1 1,-.4 1,.3 1,.1 1,-.2 1,.2 1,0 1,-.7 1,.6 1,.1 1,.1 1,0 1,-.1 1,.4 1,0 1,-.1 1,-.2 1,.2 1,-.3 1,.2 1,-.2 1,0 1,0 1,0 1,-.2 1,.1 1,.2 1,-.1 1,0 1,.2 1,-.3 1,.3 1,-.1 1,.1 1,-.3 1,.3 1,-.3 1,.4 1,-.6 1,.5 1,-.1 1,.1 1,0 1,-.1 1,-.3 1,.1 1,0 1,.1 1,-.1 1,.1 1,0 1,.2 1,-.1 1,-.1 1,-.5 1,.8 1,-.1 1,.2 1,-.1 1,-.2 1,-.2 1,.2 1,-.1 1,.1 1,0 1,-.1 1,0 1.5,.2 0,5 -1.5,.2 -1,.4 -1,-.4 -1,-.3 -1,.1 -1,.4 -1,-.2 -1,.1 -1,.2 -1,0 -1,-.1 -1,.1 -1,.5 -1,-.1 -1,-.5 -1,.5 -1,.2 -1,.3 -1,-1 -1,-.2 -1,.2 -1,.1 -1,-.1 -1,-.3 -1,-.1 -1,.3 -1,0 -1,0 -1,.1 -1,.2 -1,-.5 -1,0 -1,.4 -1,-.2 -1,-.1 -1,.1 -1,-.1 -1,.1 -1,0 -1,.1 -1,-.1 -1,.1 -1,.2 -1,-.1 -1,-.1 -1,0 -1,.1 -1,.1 -1,-.4 -1,.1 -1,0 -1,.1 -1,-.1 -1,0 -1,-.2 -1,.1 -1,0 -1,-.1 -1,.4 -1,-.3 -1,-.2 -1,0 -1,.1 -1,.4 -1,-.2 -1,-.2 -1,.1 -1,0 -1,-.2 -1,-.1 -1,1.1 -1,-1.1 -1,1.2 -1,-.9 -1,-.3 -1,.3 -1,-.1 -1,.3 -1,.2 -1,-.3 -1,.3 -1,.4 -1,.2 -1,-.6 -1,.1 -1,-.1 -1,.3 -1,-.3 -1,-.1 -1,.9 -1,-1 -1,-.1 -1,.3 -1,.9 -1,-.9 -1,-.2 -1,.4 -1,-.1 -1,-.5 -1,.2 -1,.2 -1,0 -1,-.2 -1,0 -1,-.2 -1,0 -1,.2 -1,.1 -1,-.3 -1,0 -1,-.1 -1,-.1 -1,.2 -1,-.1 -1,.1 -1,.1 -1,-.2 -1,.1 -1,-.1 -1,.2 -1,.2 -1,-.3 -1,0 -1,-.2 -1,.2 -1,0 -1,0 -1,-.1 -1,0 -1,0 -1,.9 -1,-.8 -1,-.1 -1,.1 -1,-.3 -1,.2 -1,-.1 -1,.2 -1,-.2 -1,.3 -1,.1 -1,.1 -1,-.3 -1,.2 -1,0 -1,0 -1,.1 -1,0 -1,.1 -1,-.2 -1,0 -1,.3 -1,-.3 -1,.8 -1,-.7 -1,-.2 -1,.1 -1,.4 -1,-.4 -1,0 -1,-.1 -1,-.1 -1,0 -1,.2 -1,-.3 -1,-.1 -1,0 -1,1.1 -1,-.8 -1,-.2 -1,1.3 -1,-1.2 -1,.1 -1,-.1 -1,-.1 -1,0 -1,.3 -1,.1 -1,-.1 -1,.1 -1,-.3 -1,-.2 -1,.4 -1,-.3 -1,-.1 -1,.4 -1,-.2 -1,-.2 -1,.4 -1,-.5 -1,.1 -1,.1 -1,1 -1,-.8 -1,.2 -1,-.2 -1,.6 -1,0 -1,-.8 -1,.4 -1,-.3 -1,0 -1,.2 -1,.1 -1,-.4 -1,.5 -1,-.2 -1,-.3 -1,.4 -1,.1 -1,-.3 -1,.5 -1,-.8 -1,.1 -1,.1 -1,0 -1,.3 -1,0 -1,-.2 -1,.7 -1,-.5 -1,-.1 -1,.1 -1,-.2 -1,0 -1,-.1 -1,.3 -1,.8 -1,-.6 -1,.2 -1,-.1 -1,-.7 -1,.2 -1,.1 -1,-.2 -1,0 -1,0 -1,.1 -1,-.1 -1,.1 -1,0 -1,.1 -1,.1 -1,-.1 -1,.5 -1,-.2 -1,-.1 -1,-.2 -1,-.3 -1,0 -1,-.1 -1,-.1 -1,.2 -1,0 -1,-.1 -1,.3 -1,-.1 -1,-.1 -1,.1 -1,-.1 -1,.2 -1,.1 -1,.1 -1,-.4 -1,0 -1,-.1 -1,.3 -1,-.2 -1,.3 -1,-.4 -1,.1 -1,-.2 -1,0 -1,.1 -1,.5 -1,-.2 -1,1 -1,-1.2 -1,.3 -1,.2 -1,-.2 -1,0 -1,0 -1,-.1 -1,.2 -1,-.2 -1,.5 -1,-.2 -1,-.4 -1,-.1 -1,0 -1,.2 -1,-.1 -1,.3 -1,-.3 -1,.1 -1,-.1 -1,0 -1,.3 -1,0 -1,-.1 -1,-.1 -1,-.1 -1,-.1 -1,.1 -1,0 -1,.3 -1,-.5 -1,.1 -1,.1 -1,-.1 -1,.1 -1,-.2 -1,.3 -1,-.1 -1,0 -1,.3 -1,.5 -1,-.2 -1,-.4 -1,-.1 -1,.1 -1,-.2 -1,0 -1,.1 -1,.1 -1,-.2 -1,.1 -1,.2 -1,.1 -1,-.3 -1,.2 -1,-.3 -1,0 -1,.1 -1,-.1 -1,.5 -1,-.4 -1,0 -1,.1 -1,-.1 -1,.2 -1,.5 -1,-.8 -1,1 -1,-.6 -1,-.1 -1,-.2 -1,-.1 -1,0 -1,.4 -1,-.2 -1,-.1 -1,0 -1,-.1 -1,-.1 -1,.5 -1,-.2 -1,.1 -1,-.1 -1,.5 -1,0 -1,-.3 -1,0 -1,.1 -1,.3 -1,-.4 -1,-.5 -1,.2 -1,-.2 -1,0 -1,0 -1,.2 -1,-.1 -1,.4 -1,-.1 -1,-.2 -1,.1 -1,0 -1,.3 -1,-.4 -1,-.1 -1,.2 -1,-.1 -1,-.1 -1,0 -1,-.1 -1,.8 -1,-.6 -1,1 -1,-.8 -1,0 -1,.4 -1,.1 -1,-.6 -1,0 -1,-.1 -1,0 -1,0 -1,0 -1,-.2 -1,.3 -1,-.2 -1,.2 -1,-.2 -1,.3 -1,-.1 -1,-.2 -1,.1 -1,.2 -1,-.1 -1,-.3 -1,0 -1,1 -1,-.7 -1,.1 -1,-.1 -1,-.1 -1,1.3 -1,-1.2 -1,-.1 -1,.1 -1,.1 -1,0 -1,-.1 -1,-.2 -1,-.1 -1,.1 -1,0 -1,-.1 -1,0 -1,.1 -1,.1 -1,.2 -1,-.2 -1,.2 -1,0 -1,-.1 -1,-.3 -1,.4 -1,.5 -1,-.6 -1,0 -1,.1 -1,.1 -1,.1 -1,-.2 -1,0 -1,.1 -1,-.1 -1,0 -1,.7 -1,-1 -1,.2 -1,.1 -1,-.3 -1,-.1 -1,.3 -1,-.1 -1,0 -1,.1 -1,0 -1,1.2 -1,-1.3 -1,-.1 -1,.3 -1,-.3 -1,-.1 -1,.2 -1,.1 -1,-.3 -1,-.1 -1,0 -1,.1 -1,.3 -1,-.3 -1,.7 -1,-.1 -1,-.6 -1,0 -1,0 -1,.4 -1,-.3 -1,-.2 -1,0 -1,.2 -1,-.1 -1,.4 -1,-.4 -1,.2 -1,-.1 -1,.1 -1,0 -1,0 -1,-.2 -1,.1 -1,.1 -1,-.2 -1,.2 -1,-.2 -1,.2 -1,-.1 -1,.1 -1,.5 -1,-.5 -1,.1 -1,0 -1,.1 -1,0 -1,1 -1,-.7 -1,-.1 -1,-.2 -1,-.1 -1,.1 -1,-.2 -1,.1 -1,-.2 -1,.8 -1,-.9 -1,.1 -1,-.2 -1,.2 -1,-.3 -1,.2 -1,.1 -1,-.2 -1,.1 -1,.1 -1,-.2 -1,1.2 -1,-.5 -1,-.6 -1,0 -1,.4 -1,.5 -1,-.7 -1,0 -1,.3 -1,-.2 -1,-.1 -1,-.1 -1,.1 -1,.2 -1,0 -1,.6 -1,-.2 -1,-.5 -1,0 -1,.1 -1,-.1 -1,.1 -1,0 -1,-.2 -1,.3 -1,-.4 -1,.2 -1,.1 -1,-.4 -1,.3 -1,-.3 -1,.2 -1,.2 -1,-.3 -1,-.2 -1,.1 -1,.2 -1,-.1 -1,.6 -1,-.5 -1,.1 -1,.3 -1,-.2 -1,.1 -1,-.1 -1,-.2 -1,0 -1,.7 -1,-.5 -1,-.3 -1,-.1 -1,-.2 -1,.3 -1,.1 -1,.7 -1,-.9 -1,-.1 -1,-.1 -1,.2 -1,-.1 -1,0 -1,.2 -1,-.2 -1,.1 -1,.2 -1,0 -1,.3 -1,-.3 -1,.2 -1,-.1 -1,1.4 -1,-1.3 -1,-.1 -1,.5 -1,-.3 -1,-.3 -1,.1 -1,-.4 -1,0 -1,-.1 -1,0 -1,.2 -1,-.1 -1,.1 -1,.1 -1,.6 -1,-.3 -1,.1 -1,.2 -1,-.3 -1,-.3 -1,0 -1,.2 -1,-.2 -1,-.1 -1,0 -1,.2 -1,.6 -1,-.9 -1,.2 -1,-.2 -1,.1 -1,.2 -1,.1 -1,0 -1,0 -1,.1 -1,0 -1,.1 -1,-.1 -1,-.2 -1,0 -1,.1 -1,-.3 -1,.1 -1,-.2 -1,.1 -1,0 -1,-.1 -1,.1 -1,-.1 -1,-.1 -1,1.4 -1,-1.1 -1,.1 -1,-.1 -1,-.1 -1,.1 -1,0 -1,-.1 -1,-.1 -1,.9 -1,-.5 -1,-.1 -1,-.2 -1,.1 -1,.2 -1,-.1 -1,.2 -1,-.3 -1,0 -1,-.2 -1,.3 -1,-.1 -1,.3 -1,-.3 -1,.1 -1,.9 -1,-.9 -1,0 -1,0 -1,-.1 -1,.1 -1,.8 -1,0 -1,-.9 -1,.1 -1,0 -1,-.1 -1,0 -1,.2 -1,0 -1,-.1 -1,-.3 -1,0 -1,.2 -1,0 -1,.1 -1,-.4 -1,.2 -1,-.1 -1,.4 -1,-.2 -1,-.1 -1,-.1 -1,.1 -1,0 -1,.5 -1,.2 -1,.3 -1,-.8 -1,0 -1,.2 -1,-.3 -1,.2 -1,-.2 -1,0 -1,-.2 -1,.2 -1,-.3 -1,.1 -1,.1 -1,-.1 -1,.2 -1,-.1 -1,.1 -1,.3 -1,0 -1,.2 -1,-.4 -1,.2 -1,-.1 -1,-.1 -1,-.3 -1,.3 -1,-.3 -1,.5 -1,-.5 -1,0 -1,0 -1,1.2 -1,-1 -1,.1 -1,0 -1,.1 -1,-.1 -1,.7 -1,-.6 -1,.1 -1,.2 -1,0 -1,-.4 -1,.3 -1,-.3 -1,-.1 -1,.5 -1,-.3 -1,-.3 -1,.3 -1,0 -1,0 -1,1 -1,-.6 -1,-.2 -1,-.3 -1,0 -1,.1 -1,.7 -1,-.3 -1,-.6 -1,1.2 -1,-1.2 -1,-.1 -1,0 -1,.4 -1,-.2 -1,.5 -1,-.6 -1,1.2 -1,-1.2 -1,.9 -1,-1 -1,.1 -1,-.3 -1,.3 -1,-.2 -1,0 -1,-.1 -1,.5 -1,-.1 -1,-.3 -1,-.1 -1,.2 -1,1.1 -1,-1.2 -1,.4 -1,0 -1,.3 -1,-.4 -1,.2 -1,-.1 -1,-.1 -1,-.1 -1,.2 -1,-.1 -1,.4 -1,-.4 -1,-.1 -1,.3 -1,-.3 -1,.1 -1,.5 -1,-.5 -1,.1 -1,.7 -1,-.7 -1,-.1 -1,-.1 -1,-.2 -1,0 -1,.2 -1,-.1 -1,0 -1,0 -1,-.1 -1,0 -1,-.1 -1,.2 -1,.1 -1,0 -1,0 -1,.2 -1,0 -1,0 -1,.2 -1,0 -1,-.3 -1,.2 -1,0 -1,-.2 -1,.1 -1,.3 -1,-.2 -1,.1 -1,0 -1,-.1 -1,0 -1,-.1 -1,-.1 -1,.2 -1,-.3 -1,.4 -1,-.4 -1,.5 -1,-.3 -1,0 -1,-.2 -1,0 -1,0 -1,-.2 -1,1 -1,-1 -1,.1 -1,0 -1,.5 -1,-.2 -1,0 -1,0 -1,0 -1,0 -1,1.6 -1,-1.4 -1,0 -1,-.3 -1,0 -1,.2z"/>
<path fill="#008000" d="M137.5,795.1l1,-.1 1,.2 1,-.3 1,.4 1,0 1,-.1 1,.1 1,-.4 1,.4 1,-.1 1,.1 1,.1 1,-.2 1,0 1,.3 1,-.3 1,0 1,0 1,0 1,-.1 1,.1 1,.1 1,-.3 1,.3 1,.2 1,0 1,-.2 1,0 1,0 1,0 1,-.5 1,.6 1,-.3 1,.1 1,.2 1,.1 1,-.5 1,.1 1,.1 1,-.1 1,-.1 1,.2 1,-.2 1,0 1,.1 1,0 1,.3 1,-.1 1,0 1,0 1,-.3 1,.1 1,-.2 1,.2 1,-.2 1,0 1,0 1,-.1 1,.1 1,-.8 1,.7 1,.3 1,-.3 1,.1 1,.1 1,-.2 1,.4 1,0 1,-.2 1,.3 1,-.1 1,0 1,-.3 1,-.5 1,1.1 1,-.8 1,.6 1,-1 1,1.1 1,-.2 1,.2 1,0 1,.1 1,-.5 1,.3 1,.3 1,-.1 1,-.2 1,.1 1,0 1,-.2 1,-.7 1,.9 1,-.4 1,-.1 1,0 1,.1 1,.1 1,.2 1,.1 1,-.1 1,0 1,.1 1,.1 1,-.2 1,-.1 1,.1 1,0 1,.1 1,0 1,0 1,-.1 1,0 1,-.1 1,0 1,-.9 1,1.2 1,0 1,-.5 1,.4 1,-.8 1,.7 1,-.9 1,.7 1,.3 1,-.2 1,-.9 1,.8 1,-.2 1,0 1,.1 1,.2 1,.1 1,-.1 1,-.3 1,.6 1,0 1,-.1 1,0 1,.1 1,-.2 1,.1 1,-.6 1,.7 1,-.2 1,0 1,.1 1,0 1,0 1,-1 1,1.1 1,-.3 1,-.2 1,.4 1,-.1 1,-.1 1,.2 1,-.3 1,.2 1,-.2 1,.1 1,-.1 1,.2 1,0 1,.1 1,-.2 1,0 1,-.5 1,.8 1,-.1 1,.1 1,-.1 1,-.2 1,-.2 1,.1 1,.1 1,.1 1,-.1 1,.1 1,-.2 1,.2 1,-.1 1,0 1,-.2 1,-1.3 1,1.4 1,-.1 1,-1 1,1 1,.3 1,.1 1,0 1,0 1,.1 1,-.2 1,.2 1,-.1 1,0 1,.1 1,-.2 1,-.1 1,.1 1,-.3 1,0 1,0 1,.2 1,-1.2 1,1.2 1,0 1,0 1,0 1,-.1 1,-.2 1,.2 1,-.9 1,.1 1,.6 1,.3 1,0 1,-.3 1,.1 1,0 1,.3 1,0 1,-.3 1,0 1,.2 1,0 1,-.3 1,.3 1,-.4 1,.3 1,0 1,.1 1,-.1 1,0 1,-.1 1,.2 1,0 1,-.1 1,0 1,.1 1,.1 1,0 1,-.9 1,1 1,0 1,0 1,0 1,-.2 1,.1 1,0 1,0 1,-.3 1,.1 1,.1 1,-.8 1,.1 1,.2 1,.6 1,.1 1,0 1,-.2 1,-.2 1,.1 1,.4 1,-.6 1,.5 1,0 1,-.1 1,0 1,.1 1,-.2 1,.1 1,-.1 1,.2 1,-.3 1,.4 1,0 1,-.3 1,.1 1,.2 1,-.1 1,0 1,-.2 1,.3 1,-.2 1,.2 1,-.4 1,-.1 1,.1 1,.1 1,-.3 1,.2 1,.1 1,0 1,-.3 1,-.1 1,.3 1,.2 1,0 1,-.1 1,-.1 1,-.3 1,.5 1,.1 1,-.3 1,.4 1,-.2 1,.2 1,0 1,-.2 1,0 1,-.2 1,.1 1,0 1,0 1,-.4 1,.4 1,0 1,-.1 1,-.4 1,.2 1,.2 1,0 1,0 1,-.3 1,.3 1,.1 1,-.1 1,0 1,-.3 1,.5 1,0 1,.1 1,.1 1,-.1 1,-.1 1,-.2 1,.1 1,-.1 1,.1 1,-.2 1,0 1,0 1,.3 1,-.4 1,.3 1,-.2 1,.1 1,-.6 1,.5 1,0 1,.3 1,-1 1,1 1,0 1,.1 1,0 1,0 1,.1 1,-.4 1,.2 1,.1 1,-.1 1,.1 1,0 1,-.1 1,-.2 1,-.4 1,.6 1,-.5 1,-1.1 1,1.3 1,-.2 1,.3 1,-.8 1,.7 1,-.1 1,.1 1,0 1,.1 1,-.2 1,.2 1,-.2 1,.1 1,0 1,.2 1,.1 1,-.1 1,.1 1,-.8 1,.4 1,.5 1,.1 1,0 1,-.2 1,.1 1,.1 1,0 1,-.1 1,-.3 1,.1 1,0 1,-.1 1,.1 1,-.1 1,-.7 1,-.6 1,.6 1,.7 1,-.8 1,.5 1,.5 1,-.1 1,.2 1,-.2 1,.1 1,.1 1,-.2 1,.2 1,-.2 1,.1 1,-.1 1,.1 1,-.2 1,0 1,.3 1,-.2 1,-1.1 1,1.1 1,.1 1,-.4 1,.5 1,-.1 1,-.1 1,0 1,.1 1,.2 1,-.3 1,.2 1,0 1,-.2 1,.2 1,.1 1,0 1,-.2 1,-.3 1,.4 1,0 1,-.1 1,.2 1,0 1,-.1 1,-.4 1,.3 1,-.4 1,.1 1,-.7 1,.9 1,-.3 1,.3 1,.1 1,.1 1,-.3 1,.1 1,.3 1,-.1 1,-.4 1,.3 1,-.1 1,.1 1,-.3 1,.3 1,0 1,-.1 1,0 1,-.1 1,.3 1,-.4 1,.2 1,-.4 1,.5 1,-.2 1,.2 1,-.5 1,.6 1,0 1,-.1 1,.1 1,-.2 1,-.3 1,.6 1,-.1 1,-.2 1,.1 1,.1 1,-.1 1,-.1 1,0 1,-.1 1,.2 1,0 1,-.1 1,-.1 1,-.2 1,.1 1,0 1,-.6 1,.7 1,-.3 1,.4 1,.1 1,.1 1,-.2 1,.2 1,-.2 1,0 1,-1 1,1.2 1,-.3 1,.2 1,0 1,-.6 1,.7 1,-.4 1,.2 1,.2 1,-.4 1,.5 1,-.4 1,.2 1,-1 1,1.2 1,0 1,-.2 1,.2 1,-.2 1,-.1 1,-.6 1,.5 1,.1 1,-.8 1,0 1,.9 1,-.2 1,0 1,-.2 1,.2 1,-.3 1,.1 1,.2 1,-.1 1,.3 1,0 1,.1 1,-.3 1,.2 1,-.1 1,.3 1,-.1 1,-.4 1,0 1,.2 1,0 1,.1 1,-.5 1,.4 1,-1.1 1,1.2 1,-.2 1,-.1 1,.4 1,0 1,.1 1,-.1 1,.1 1,-.3 1,.2 1,0 1,-.1 1,-1 1,.8 1,-.7 1,1.1 1,-.2 1,0 1,-.1 1,-.2 1,.2 1,.2 1,-.4 1,0 1,.3 1,0 1,.2 1,0 1,0 1,0 1,-.2 1,.1 1,.1 1,0 1,-.1 1,0 1,-.5 1,.5 1,-.2 1,0 1,-.1 1,.1 1,.1 1,-.4 1,.5 1,-.2 1,0 1,0 1,0 1,.2 1,.1 1,-.2 1,.2 1,-.2 1,-.2 1,.3 1,-.1 1,.2 1,-.1 1,-.1 1,.2 1,-1 1,1 1,-.2 1,.1 1,.2 1,-.2 1,.1 1,-.6 1,.5 1,-.3 1,-.3 1,.4 1,-.1 1,.1 1,-.2 1,0 1,.1 1,-.1 1,.2 1,-.1 1,.1 1,-.4 1,.5 1,-.2 1,0 1,-.3 1,.3 1,-.1 1,.2 1,-.2 1,.3 1,.1 1,-.3 1,.4 1,-.4 1,.3 1,.1 1,0 1,-.2 1,0 1,0 1,-.3 1,0 1,-.3 1,.7 1,-.1 1,0 1,-.1 1,.1 1,0 1,-.4 1,.5 1,-.2 1,0 1,-.2 1,.1 1,.1 1,-.1 1,-.1 1,-.1 1,-.1 1,.1 1,0 1,.2 1,-.6 1,.6 1,-.1 1,0 1,-.1 1,.2 1,.2 1,-.3 1,.1 1,-.1 1,0 1,0 1,-.1 1,.3 1,-.1 1,-.2 1,.2 1,-.1 1,-.8 1,1 1,-1 1,.7 1,.3 1,-.2 1,0 1,.3 1,-.4 1,.4 1,0 1,.1 1,-.7 1,.5 1,.3 1,0 1,-.3 1,.1 1,.2 1,-.1 1,-.2 1,.3 1,-.2 1,.1 1,0 1,0 1,-.6 1,.4 1,.2 1,0 1,-.4 1,.3 1,-.4 1,.3 1,0 1,.2 1,-.1 1,-.1 1,0 1,0 1,.1 1,-.1 1,-.1 1,.2 1,0 1,-.3 1,0 1,.2 1,.1 1,-.2 1,.1 1,-.6 1,.5 1,-.2 1,.1 1,.1 1,0 1,0 1,.1 1,0 1,.1 1,-.1 1,0 1,.2 1,-.2 1,-.1 1,-.3 1,.3 1,.1 1,-.2 1,.2 1,0 1,0 1,.1 1,.1 1,0 1,-.1 1,0 1,.1 1,-.7 1,.5 1,.2 1,-.1 1,.1 1,-.2 1,0 1,-.1 1,.1 1,.1 1,-.9 1,.6 1,.4 1,-.3 1,-.3 1,.3 1,-.1 1,.1 1,.1 1,-.3 1,.3 1,-.5 1,.2 1,0 1,.3 1,-.4 1,.1 1,.2 1,-.2 1,-.8 1,.4 1,.5 1,0 1,.1 1,0 1,0 1,.1 1,-.4 1,.5 1,-.3 1,.3 1,-.1 1,.1 1,-.1 1,.2 1,0 1,-.2 1,0 1,-.2 1,.1 1,-.1 1,-.3 1,.4 1,.2 1,0 1,-.2 1,.2 1,-.3 1,.4 1,.1 1,-1.1 1,.9 1,.2 1,-.3 1,-.4 1,.3 1,-.4 1,.5 1,-.3 1,.3 1,0 1,-.3 1,.4 1,-.2 1,.1 1,-.2 1,.1 1,.1 1,.2 1,-.1 1,0 1,-.3 1,.3 1,-.4 1.5,.2 0,5.7 -1.5,.1 -1,-.5 -1,0 -1,.1 -1,.1 -1,.3 -1,-.6 -1,.3 -1,-.2 -1,0 -1,-.1 -1,.1 -1,.2 -1,-.1 -1,0 -1,.2 -1,.2 -1,-.2 -1,-.1 -1,0 -1,0 -1,-.3 -1,.2 -1,-.2 -1,.3 -1,-.3 -1,.1 -1,0 -1,.1 -1,0 -1,.1 -1,0 -1,.1 -1,-.1 -1,.2 -1,-.2 -1,-.1 -1,0 -1,.5 -1,-.2 -1,-.1 -1,0 -1,.1 -1,-.2 -1,.4 -1,-.3 -1,.2 -1,-.1 -1,-.2 -1,.2 -1,-.2 -1,.4 -1,-.2 -1,-.3 -1,-.2 -1,0 -1,.2 -1,0 -1,0 -1,0 -1,-.2 -1,.2 -1,.1 -1,-.2 -1,.2 -1,.6 -1,-.6 -1,.2 -1,-.2 -1,.1 -1,-.1 -1,-.1 -1,.2 -1,-.2 -1,.3 -1,-.2 -1,-.1 -1,.3 -1,-.2 -1,-.1 -1,.1 -1,-.1 -1,0 -1,.2 -1,-.1 -1,.1 -1,0 -1,.3 -1,0 -1,-.4 -1,.1 -1,0 -1,.1 -1,-.1 -1,0 -1,-.3 -1,.3 -1,-.1 -1,-.2 -1,.2 -1,-.3 -1,.1 -1,.6 -1,-.5 -1,0 -1,0 -1,0 -1,.9 -1,-.8 -1,.3 -1,-.1 -1,-.5 -1,0 -1,.1 -1,0 -1,.1 -1,-.2 -1,.2 -1,.1 -1,-.2 -1,.1 -1,.1 -1,-.1 -1,0 -1,-.2 -1,.3 -1,.2 -1,-.1 -1,.1 -1,0 -1,.1 -1,0 -1,-.3 -1,.1 -1,.4 -1,-.4 -1,.5 -1,-.5 -1,-.2 -1,.1 -1,-.1 -1,.2 -1,0 -1,-.2 -1,0 -1,0 -1,.1 -1,-.1 -1,.2 -1,-.3 -1,.1 -1,-.1 -1,-.1 -1,.3 -1,.5 -1,-.3 -1,.3 -1,-.5 -1,-.2 -1,.1 -1,-.1 -1,-.1 -1,.4 -1,-.1 -1,-.3 -1,.4 -1,-.1 -1,-.1 -1,0 -1,-.1 -1,.1 -1,-.1 -1,.4 -1,-.4 -1,-.1 -1,.1 -1,-.1 -1,0 -1,1.1 -1,-.8 -1,.1 -1,.3 -1,-.3 -1,-.1 -1,.4 -1,-.2 -1,-.1 -1,-.1 -1,.3 -1,-.2 -1,0 -1,1 -1,-1.2 -1,.2 -1,-.2 -1,.2 -1,0 -1,.4 -1,-.5 -1,.7 -1,.7 -1,-.9 -1,.1 -1,.1 -1,-.5 -1,.1 -1,.1 -1,-.6 -1,.1 -1,-.1 -1,-.1 -1,.9 -1,-.8 -1,.1 -1,.1 -1,-.1 -1,0 -1,0 -1,0 -1,0 -1,.1 -1,-.2 -1,.3 -1,-.2 -1,.1 -1,0 -1,.1 -1,-.1 -1,-.2 -1,.1 -1,-.1 -1,.1 -1,-.1 -1,0 -1,1.4 -1,-1.4 -1,.1 -1,0 -1,.1 -1,.2 -1,-.2 -1,.2 -1,0 -1,-.3 -1,.6 -1,-.4 -1,.9 -1,-.9 -1,0 -1,.1 -1,.1 -1,-.1 -1,-.1 -1,0 -1,.1 -1,-.1 -1,.5 -1,-.2 -1,0 -1,.7 -1,-.7 -1,.1 -1,-.1 -1,-.4 -1,.2 -1,1.1 -1,-1.4 -1,.3 -1,-.3 -1,-.1 -1,.3 -1,-.2 -1,0 -1,0 -1,.2 -1,.3 -1,-.2 -1,-.1 -1,0 -1,-.1 -1,0 -1,0 -1,0 -1,.8 -1,-1.1 -1,.4 -1,-.3 -1,-.1 -1,.4 -1,.2 -1,.8 -1,-1.3 -1,.1 -1,.4 -1,-.6 -1,.1 -1,.1 -1,-.2 -1,.5 -1,.7 -1,-.7 -1,-.2 -1,.4 -1,-.3 -1,.1 -1,.1 -1,0 -1,-.2 -1,0 -1,-.1 -1,0 -1,.3 -1,-.3 -1,0 -1,.1 -1,-.2 -1,-.1 -1,.1 -1,.1 -1,0 -1,-.1 -1,.3 -1,-.1 -1,-.3 -1,0 -1,.2 -1,0 -1,-.2 -1,.5 -1,-.5 -1,0 -1,0 -1,0 -1,-.1 -1,0 -1,.1 -1,.1 -1,0 -1,.2 -1,-.1 -1,0 -1,-.2 -1,0 -1,0 -1,.1 -1,.3 -1,-.1 -1,1.1 -1,-1.4 -1,.1 -1,.6 -1,-.2 -1,-.3 -1,-.1 -1,-.2 -1,.1 -1,0 -1,0 -1,0 -1,-.1 -1,.1 -1,.1 -1,.1 -1,.1 -1,-.1 -1,.1 -1,0 -1,0 -1,.2 -1,.2 -1,-.3 -1,-.1 -1,.4 -1,-.2 -1,-.1 -1,.1 -1,-.1 -1,-.1 -1,.1 -1,.1 -1,-.2 -1,.2 -1,0 -1,0 -1,0 -1,0 -1,.2 -1,-.2 -1,-.1 -1,-.2 -1,-.2 -1,.1 -1,0 -1,-.1 -1,.2 -1,.3 -1,-.3 -1,.2 -1,-.2 -1,0 -1,0 -1,0 -1,.2 -1,-.1 -1,.1 -1,0 -1,-.4 -1,.4 -1,-.2 -1,.5 -1,-.4 -1,-.1 -1,.3 -1,-.2 -1,-.1 -1,.3 -1,-.1 -1,-.2 -1,.1 -1,0 -1,.8 -1,-.8 -1,.1 -1,-.2 -1,.1 -1,.1 -1,-.2 -1,0 -1,.1 -1,-.2 -1,.1 -1,0 -1,-.2 -1,1.3 -1,-1.1 -1,.1 -1,0 -1,-.1 -1,.4 -1,0 -1,-.5 -1,.2 -1,-.2 -1,-.1 -1,.1 -1,-.1 -1,0 -1,.1 -1,-.2 -1,.6 -1,-.6 -1,0 -1,.3 -1,-.1 -1,.1 -1,0 -1,.1 -1,-.1 -1,.1 -1,0 -1,.2 -1,-.4 -1,.1 -1,.2 -1,-.1 -1,0 -1,0 -1,-.3 -1,.3 -1,-.1 -1,-.2 -1,0 -1,0 -1,.2 -1,0 -1,.1 -1,.3 -1,.2 -1,-.6 -1,-.1 -1,.1 -1,-.1 -1,-.2 -1,.1 -1,-.1 -1,.1 -1,0 -1,-.1 -1,.2 -1,.1 -1,-.1 -1,0 -1,0 -1,.1 -1,.1 -1,.1 -1,0 -1,.1 -1,-.3 -1,.2 -1,.2 -1,-.3 -1,.5 -1,-.4 -1,-.1 -1,-.2 -1,.2 -1,-.1 -1,.3 -1,-.1 -1,-.3 -1,0 -1,.3 -1,.4 -1,-.3 -1,.7 -1,-1.1 -1,.1 -1,.1 -1,-.2 -1,.2 -1,-.2 -1,.1 -1,.1 -1,-.1 -1,.4 -1,.9 -1,-1.1 -1,.1 -1,-.1 -1,-.1 -1,0 -1,-.3 -1,.1 -1,.9 -1,-1 -1,.2 -1,-.2 -1,.1 -1,-.1 -1,0 -1,.2 -1,-.1 -1,-.1 -1,0 -1,.3 -1,0 -1,.9 -1,-.8 -1,-.4 -1,.1 -1,-.1 -1,0 -1,.1 -1,.3 -1,.2 -1,-.5 -1,.3 -1,-.1 -1,.3 -1,-.5 -1,-.1 -1,0 -1,.1 -1,.3 -1,-.4 -1,-.1 -1,0 -1,.2 -1,.1 -1,-.1 -1,.2 -1,-.3 -1,0 -1,.3 -1,-.3 -1,-.1 -1,.3 -1,-.2 -1,.2 -1,.1 -1,-.2 -1,.3 -1,-.2 -1,.3 -1,0 -1,-.3 -1,0 -1,1.1 -1,-1.1 -1,.4 -1,-.4 -1,0 -1,-.1 -1,.3 -1,-.1 -1,0 -1,.3 -1,-.4 -1,.1 -1,-.1 -1,.1 -1,.2 -1,-.6 -1,.2 -1,-.1 -1,.1 -1,.3 -1,-.1 -1,-.3 -1,0 -1,.1 -1,0 -1,.3 -1,.2 -1,-.4 -1,.1 -1,.3 -1,.1 -1,.2 -1,-.3 -1,-.2 -1,-.1 -1,0 -1,0 -1,.1 -1,-.1 -1,-.4 -1,0 -1,.3 -1,0 -1,-.3 -1,0 -1,.7 -1,-.5 -1,.1 -1,.9 -1,-.7 -1,-.1 -1,-.1 -1,.2 -1,-.1 -1,-.1 -1,.1 -1,-.1 -1,0 -1,.1 -1,.2 -1,-.6 -1,.3 -1,-.3 -1,.1 -1,0 -1,-.1 -1,1.2 -1,-.9 -1,-.3 -1,.2 -1,.4 -1,-.5 -1,.2 -1,-.2 -1,0 -1,.1 -1,-.1 -1,0 -1,.2 -1,.3 -1,-.3 -1,-.2 -1,.1 -1,-.1 -1,.2 -1,0 -1,0 -1,-.2 -1,.3 -1,.2 -1,-.2 -1,0 -1,.3 -1,-.3 -1,0 -1,-.1 -1,0 -1,0 -1,0 -1,-.1 -1,-.2 -1,.4 -1,-.1 -1,.4 -1,-.2 -1,-.1 -1,.3 -1,-.2 -1,0 -1,0 -1,.1 -1,-.2 -1,0 -1,0 -1,.1 -1,-.1 -1,0 -1,.2 -1,.6 -1,-1.1 -1,-.1 -1,.2 -1,-.2 -1,0 -1,0 -1,.3 -1,-.3 -1,.2 -1,.3 -1,-.3 -1,.1 -1,-.1 -1,0 -1,0 -1,-.2 -1,.8 -1,-.5 -1,-.3 -1,.1 -1,.2 -1,.1 -1,-.3 -1,-.1 -1,.2 -1,0 -1,-.1 -1,-.1 -1,.1 -1,.1 -1,.3 -1,-.1 -1,-.3 -1,0 -1,0 -1,.3 -1,.1 -1,-.3 -1,-.2 -1,.1 -1,.2 -1,-.3 -1,.1 -1,.1 -1,0 -1,.8 -1,-.8 -1,.1 -1,.3 -1,-.2 -1,-.1 -1,.1 -1,0 -1,-.2 -1,-.1 -1,.6 -1,-.2 -1,-.2 -1,.2 -1,-.3 -1,.1 -1,.3 -1,-.3 -1,0 -1,.2 -1,-.2 -1,.1 -1,0 -1,-.2 -1,-.2 -1,.5 -1,-.3 -1,-.1 -1,.2 -1,-.1 -1,-.1 -1,0 -1,.1 -1,.2 -1,-.3 -1,-.1 -1,.1 -1,0 -1,.5 -1,-.3 -1,.6 -1,-.6 -1,1.1 -1,-1.1 -1,.1 -1,.2 -1,0 -1,.1 -1,-.5 -1,-.1 -1,.2 -1,-.2 -1,.1 -1,.3 -1,-.3 -1,.1 -1,.7 -1,-.9 -1,.1 -1,.1 -1,-.3 -1,.3 -1,-.3 -1,.4 -1,-.4 -1,.5 -1,-.4 -1,.3 -1,-.2 -1,-.2 -1,.3 -1,-.1 -1,0 -1,.3 -1,-.1 -1,-.3 -1,.1 -1,0 -1,.4 -1,-.4 -1,.1 -1,.1 -1,.3 -1,0 -1,0 -1,-.3 -1,.7 -1,-.8 -1,.2 -1,-.5 -1,0 -1,0 -1,1.2 -1,-1.1 -1,0 -1,.3 -1,-.2 -1,0 -1,0 -1,-.1 -1,1.1 -1,-1.1 -1,.2 -1,-.1 -1,-.2 -1,.2 -1,0 -1,-.2 -1,0 -1,.2 -1,.2 -1,-.2 -1,.2 -1,.1 -1,.8 -1,-.9 -1,.1 -1,-.1 -1,-.1 -1,0 -1,0 -1,0 -1,.1 -1,-.2z"/>
<path fill="#000000" d="M137.5,826.8l1,-.3 1,.5 1,0 1,-.2 1,0 1,.1 1,-.2 1,-.1 1,.4 1,0 1,-.3 1,.2 1,0 1,0 1,-.2 1,-.1 1,.2 1,-.1 1,-.3 1,-.1 1,.3 1,0 1,.2 1,0 1,0 1,-.5 1,-.4 1,1 1,0 1,-.2 1,.2 1,0 1,.1 1,-.2 1,0 1,0 1,-.1 1,-.2 1,-.1 1,-.7 1,.7 1,.2 1,.2 1,-.1 1,.2 1,-.1 1,-.1 1,-.3 1,.5 1,-.3 1,.2 1,-.1 1,-.6 1,.6 1,.2 1,-.1 1,-.2 1,0 1,-.5 1,.6 1,-.2 1,.3 1,-.3 1,.1 1,.3 1,-.3 1,.2 1,.1 1,-.4 1,.3 1,.1 1,-.1 1,0 1,.1 1,0 1,.1 1,-.1 1,0 1,.2 1,-.2 1,.1 1,0 1,-.3 1,0 1,.1 1,-.9 1,.3 1,.5 1,-.2 1,.1 1,0 1,-.3 1,.2 1,-.5 1,.5 1,.2 1,0 1,.1 1,.2 1,-.2 1,-.2 1,0 1,.1 1,-.1 1,.2 1,-.5 1,.5 1,0 1,-.2 1,.1 1,0 1,0 1,.2 1,-.4 1,.4 1,-.3 1,.1 1,.3 1,.1 1,-.3 1,0 1,.3 1,-.3 1,0 1,0 1,-.2 1,.3 1,.1 1,-.4 1,.4 1,-.1 1,-.1 1,.2 1,-.1 1,0 1,-.1 1,.3 1,-.1 1,0 1,.1 1,-.5 1,.4 1,-.2 1,-.2 1,.1 1,0 1,.3 1,0 1,0 1,-.4 1,.2 1,.1 1,0 1,-.4 1,.2 1,0 1,0 1,.1 1,-.1 1,.1 1,-.4 1,.2 1,0 1,-.3 1,.3 1,-.5 1,.5 1,0 1,-.5 1,-.1 1,.5 1,.3 1,0 1,-.2 1,.1 1,.1 1,-.3 1,.2 1,.2 1,-.2 1,.3 1,.1 1,-.1 1,-.2 1,.1 1,-.1 1,-.8 1,.8 1,0 1,0 1,-.2 1,-.1 1,.4 1,-.4 1,.3 1,-.1 1,0 1,-.1 1,.1 1,0 1,.1 1,0 1,0 1,0 1,-.2 1,-.2 1,.4 1,-.1 1,0 1,.1 1,-.2 1,-.3 1,-.3 1,.5 1,.2 1,.1 1,-.3 1,.1 1,.3 1,0 1,.1 1,-.1 1,-.2 1,.1 1,-.4 1,-.2 1,0 1,-.4 1,.7 1,.1 1,-.2 1,.4 1,0 1,-.3 1,.1 1,-.3 1,.1 1,.5 1,-.2 1,-.1 1,0 1,.1 1,0 1,0 1,0 1,.2 1,-.1 1,-.2 1,0 1,0 1,-1 1,1 1,.1 1,-.1 1,.2 1,-.2 1,.2 1,0 1,.2 1,0 1,0 1,0 1,-.4 1,.1 1,-.1 1,.1 1,-.9 1,.7 1,.2 1,.2 1,0 1,-.1 1,-.4 1,.4 1,.2 1,0 1,0 1,-.1 1,0 1,-.2 1,.1 1,-.1 1,-.4 1,-.3 1,1 1,0 1,.1 1,-.1 1,-.1 1,-.2 1,.2 1,-.1 1,.1 1,0 1,.1 1,-.6 1,.6 1,0 1,-.1 1,-.1 1,-.2 1,.2 1,0 1,0 1,-.8 1,.6 1,.3 1,-.3 1,0 1,-.3 1,.1 1,-.1 1,-.6 1,1.1 1,-.1 1,-1 1,.7 1,0 1,0 1,.2 1,0 1,-.1 1,-.5 1,.7 1,0 1,0 1,-.1 1,.1 1,0 1,.3 1,-.1 1,-.3 1,.1 1,-.4 1,.5 1,.2 1,0 1,-.2 1,.1 1,-.1 1,.1 1,-.1 1,-.3 1,.4 1,-.5 1,.2 1,-.1 1,0 1,-.1 1,-.7 1,0 1,.9 1,.1 1,-.1 1,-.2 1,.1 1,.3 1,-.2 1,.2 1,.1 1,-.1 1,-.6 1,.7 1,.1 1,-.2 1,.2 1,-.2 1,.2 1,-.1 1,.1 1,0 1,0 1,-.1 1,.1 1,-.8 1,.8 1,-.3 1,.1 1,0 1,-.3 1,.4 1,-.2 1,-.2 1,-.5 1,0 1,.6 1,.4 1,-.9 1,.9 1,-.2 1,.3 1,-.5 1,.4 1,-.2 1,.1 1,0 1,-1.2 1,1.2 1,-.4 1,0 1,.3 1,-.1 1,-.2 1,.2 1,0 1,.1 1,0 1,-.1 1,.2 1,-1.1 1,.8 1,.1 1,.2 1,-.4 1,-.3 1,.5 1,.2 1,-.4 1,.3 1,-.1 1,0 1,.2 1,-.3 1,.1 1,0 1,-.1 1,-.1 1,-.2 1,.5 1,-.5 1,.5 1,.2 1,-.3 1,.3 1,0 1,-.2 1,-.1 1,.2 1,-.3 1,.4 1,0 1,.1 1,-.5 1,.4 1,-.1 1,.1 1,-.1 1,0 1,-.5 1,.2 1,-.1 1,-.1 1,.2 1,-.1 1,-.1 1,.3 1,0 1,-.5 1,.7 1,-.3 1,.3 1,-.3 1,.1 1,.3 1,0 1,-.3 1,.4 1,-.3 1,.2 1,.1 1,-.1 1,.1 1,-.5 1,.2 1,-.8 1,1 1,0 1,0 1,0 1,-.1 1,-.5 1,.4 1,.2 1,-.1 1,-.1 1,.1 1,-.3 1,.3 1,0 1,-.3 1,.1 1,0 1,.1 1,.1 1,.1 1,-.2 1,.2 1,-.2 1,.1 1,-1 1,.8 1,-.8 1,.8 1,-.3 1,.4 1,-.1 1,-.1 1,0 1,-.2 1,.3 1,-.8 1,.7 1,.2 1,-.3 1,.4 1,-.3 1,.1 1,-.1 1,0 1,.1 1,-.1 1,0 1,0 1,-1.1 1,1.3 1,-.3 1,-.4 1,.8 1,0 1,-.1 1,0 1,-.2 1,.2 1,.1 1,0 1,.2 1,-.3 1,.1 1,0 1,.1 1,-.8 1,.9 1,-.1 1,-.2 1,0 1,-.1 1,.4 1,-.1 1,-.1 1,-.1 1,-.4 1,.3 1,0 1,0 1,-1 1,.9 1,0 1,0 1,0 1,-.8 1,1 1,-1 1,1 1,-.3 1,.3 1,-.9 1,-.1 1,1 1,-.2 1,-.5 1,.7 1,0 1,.2 1,-1 1,.3 1,-.3 1,.6 1,0 1,0 1,.2 1,-.1 1,.2 1,.1 1,-.3 1,.3 1,-.2 1,0 1,.1 1,.1 1,-.1 1,0 1,-.1 1,.1 1,.1 1,-.3 1,.2 1,.1 1,0 1,-.3 1,0 1,.3 1,-1.3 1,.9 1,-.4 1,.7 1,.1 1,.1 1,-.3 1,.1 1,0 1,0 1,0 1,-.1 1,.2 1,-.4 1,.5 1,-.1 1,0 1,-.1 1,.1 1,-.1 1,0 1,0 1,-.2 1,.2 1,-.1 1,-.2 1,.1 1,-.2 1,.4 1,0 1,-.3 1,-.2 1,.5 1,-1 1,.8 1,-.1 1,.2 1,0 1,-.1 1,.2 1,-.2 1,-.3 1,.4 1,-.2 1,.3 1,0 1,-.1 1,.1 1,-.1 1,0 1,.1 1,0 1,-.1 1,-.1 1,0 1,-.3 1,.2 1,-.3 1,.1 1,-.5 1,.7 1,.1 1,-.1 1,.1 1,.2 1,-.3 1,.3 1,0 1,-.3 1,0 1,0 1,.1 1,0 1,-.2 1,.2 1,-.1 1,0 1,.2 1,.2 1,0 1,-.1 1,.2 1,-.4 1,.2 1,0 1,0 1,.1 1,-.1 1,-.1 1,.2 1,0 1,0 1,-.3 1,.4 1,-.1 1,-.4 1,.3 1,-.1 1,-.1 1,.2 1,.2 1,-.3 1,.2 1,.1 1,-.9 1,.9 1,-.1 1,-1.2 1,.8 1,0 1,0 1,-.2 1,.2 1,-.2 1,-.1 1,.2 1,-.5 1,.2 1,.4 1,.2 1,-.3 1,-.1 1,.4 1,-.6 1,.6 1,0 1,.2 1,-.2 1,.1 1,-.2 1,.1 1,.2 1,-.6 1,.5 1,-.1 1,-.4 1,.2 1,-.2 1,.2 1,-.7 1,-.1 1,.6 1,.1 1,-.2 1,.2 1,-.5 1,.6 1,0 1,0 1,.1 1,-.1 1,.2 1,.2 1,-.2 1,.1 1,-.2 1,0 1,.1 1,-.3 1,.3 1,.2 1,-.3 1,.1 1,.1 1,.1 1,0 1,-.1 1,.1 1,-.5 1,.5 1,-.2 1,-.3 1,.5 1,-.1 1,-.3 1,.1 1,.1 1,0 1,0 1,0 1,0 1,.2 1,-1 1,1.1 1,-.1 1,0 1,0 1,0 1,0 1,-.2 1,.2 1,-.2 1,.2 1,0 1,-.1 1,-.4 1,.1 1,0 1,-.1 1,-.2 1,0 1,-.9 1,1.4 1,.1 1,0 1,-.1 1,.2 1,-.2 1,0 1,.2 1,-.1 1,-1.1 1,.9 1,.2 1,-.3 1,.2 1,0 1,.3 1,-1.1 1,.8 1,0 1,-.5 1,.3 1,.3 1,.1 1,-.2 1,-.3 1,.5 1,-.3 0,5.5 -1,.1 -1,0 -1,-.1 -1,0 -1,0 -1,0 -1,0 -1,-.1 -1,-.1 -1,.1 -1,.1 -1,0 -1,-.2 -1,.4 -1,.1 -1,-.6 -1,.3 -1,-.2 -1,-.2 -1,.1 -1,.2 -1,0 -1,0 -1,-.1 -1,0 -1,.2 -1,0 -1,-.2 -1,.3 -1,-.1 -1,.3 -1,-.5 -1,.1 -1,1.1 -1,-1.1 -1,-.2 -1,.2 -1,-.2 -1,.2 -1,-.2 -1,.2 -1,-.2 -1,.1 -1,.1 -1,0 -1,-.2 -1,0 -1,.3 -1,-.2 -1,.5 -1,-.3 -1,.1 -1,-.1 -1,0 -1,.2 -1,-.1 -1,.1 -1,.2 -1,-.4 -1,0 -1,-.1 -1,0 -1,.3 -1,.2 -1,0 -1,-.3 -1,.4 -1,-.3 -1,-.1 -1,.6 -1,.4 -1,-1.3 -1,-.2 -1,.1 -1,.2 -1,.1 -1,-.2 -1,0 -1,-.1 -1,.3 -1,-.2 -1,-.2 -1,1.1 -1,-1.1 -1,0 -1,.8 -1,-.3 -1,-.4 -1,.3 -1,-.1 -1,.1 -1,.1 -1,-.1 -1,-.1 -1,-.2 -1,.4 -1,-.2 -1,0 -1,-.1 -1,.2 -1,.3 -1,-.4 -1,.4 -1,-.4 -1,0 -1,0 -1,-.1 -1,.3 -1,.3 -1,.5 -1,-.7 -1,-.2 -1,.1 -1,-.1 -1,-.1 -1,.1 -1,0 -1,.4 -1,-.5 -1,-.1 -1,.2 -1,-.3 -1,.1 -1,.1 -1,.8 -1,-.9 -1,.3 -1,-.5 -1,.2 -1,-.1 -1,0 -1,-.1 -1,.6 -1,-.5 -1,.2 -1,-.3 -1,.2 -1,0 -1,-.2 -1,.3 -1,.3 -1,-.5 -1,0 -1,.2 -1,-.1 -1,.1 -1,-.2 -1,.1 -1,0 -1,1 -1,-.7 -1,-.2 -1,0 -1,-.3 -1,0 -1,.1 -1,0 -1,0 -1,.1 -1,.1 -1,-.2 -1,0 -1,.3 -1,-.1 -1,.1 -1,-.1 -1,0 -1,.2 -1,-.2 -1,.1 -1,-.1 -1,1.4 -1,-1.1 -1,-.1 -1,-.1 -1,-.1 -1,.2 -1,0 -1,-.1 -1,-.1 -1,.7 -1,-.5 -1,-.5 -1,.3 -1,.1 -1,-.2 -1,0 -1,-.1 -1,0 -1,.1 -1,0 -1,.1 -1,.2 -1,-.3 -1,0 -1,1.5 -1,-1.3 -1,0 -1,-.1 -1,-.3 -1,.3 -1,-.3 -1,.9 -1,-.8 -1,0 -1,1 -1,-.9 -1,.3 -1,-.1 -1,-.4 -1,.1 -1,.2 -1,-.3 -1,.3 -1,-.1 -1,.2 -1,-.1 -1,.2 -1,.8 -1,-.4 -1,-.4 -1,.2 -1,-.2 -1,-.3 -1,.1 -1,0 -1,.4 -1,-.1 -1,-.2 -1,-.1 -1,0 -1,.3 -1,-.3 -1,-.1 -1,-.2 -1,.2 -1,-.2 -1,.2 -1,.5 -1,-.4 -1,.4 -1,-.3 -1,-.1 -1,.3 -1,.1 -1,-.2 -1,0 -1,-.2 -1,.3 -1,-.3 -1,0 -1,.3 -1,.1 -1,-.2 -1,-.1 -1,.2 -1,.3 -1,-.3 -1,0 -1,-.1 -1,.1 -1,.4 -1,-.7 -1,.1 -1,0 -1,.1 -1,-.5 -1,0 -1,0 -1,.1 -1,.1 -1,0 -1,.1 -1,.1 -1,0 -1,0 -1,.1 -1,-.2 -1,0 -1,.2 -1,-.3 -1,.2 -1,.3 -1,.6 -1,-.8 -1,-.1 -1,.3 -1,.2 -1,.5 -1,-1.1 -1,0 -1,0 -1,-.1 -1,.1 -1,-.1 -1,.9 -1,-1 -1,0 -1,.1 -1,.4 -1,-.2 -1,0 -1,-.1 -1,.1 -1,0 -1,.3 -1,-.4 -1,-.1 -1,0 -1,0 -1,.2 -1,-.3 -1,0 -1,0 -1,.1 -1,.2 -1,-.4 -1,.2 -1,-.2 -1,.1 -1,-.1 -1,.1 -1,.5 -1,-.2 -1,-.2 -1,.1 -1,-.1 -1,.3 -1,.1 -1,.1 -1,.3 -1,-.7 -1,-.1 -1,.5 -1,-.6 -1,0 -1,-.1 -1,.1 -1,.9 -1,-.7 -1,.2 -1,.1 -1,-.2 -1,.1 -1,.1 -1,-.2 -1,.3 -1,-.3 -1,.3 -1,-.3 -1,0 -1,0 -1,-.1 -1,.3 -1,-.1 -1,0 -1,-.1 -1,-.2 -1,.1 -1,0 -1,0 -1,.4 -1,.2 -1,-.4 -1,-.2 -1,0 -1,.2 -1,-.2 -1,.2 -1,-.2 -1,0 -1,1 -1,-1.1 -1,.4 -1,-.1 -1,-.1 -1,.1 -1,-.1 -1,-.3 -1,.1 -1,0 -1,-.1 -1,.6 -1,-.6 -1,0 -1,0 -1,1 -1,-1 -1,.2 -1,-.1 -1,-.1 -1,.3 -1,-.2 -1,-.2 -1,.1 -1,0 -1,.5 -1,-.4 -1,1.1 -1,-1.2 -1,.1 -1,.1 -1,-.1 -1,.2 -1,-.2 -1,.2 -1,-.2 -1,.1 -1,.1 -1,0 -1,0 -1,.2 -1,.2 -1,-.2 -1,-.3 -1,-.1 -1,1.1 -1,-.8 -1,-.2 -1,0 -1,-.1 -1,0 -1,.1 -1,.5 -1,.1 -1,-.1 -1,-.1 -1,-.2 -1,.2 -1,0 -1,-.4 -1,0 -1,-.1 -1,.5 -1,-.5 -1,0 -1,.2 -1,-.4 -1,1.5 -1,-1.5 -1,0 -1,.1 -1,.3 -1,-.1 -1,-.2 -1,.4 -1,-.2 -1,.1 -1,-.1 -1,-.1 -1,0 -1,0 -1,-.1 -1,.1 -1,-.2 -1,.3 -1,-.1 -1,-.2 -1,.5 -1,-.4 -1,.1 -1,-.2 -1,.2 -1,-.1 -1,0 -1,.2 -1,.3 -1,-.1 -1,-.4 -1,.1 -1,.7 -1,-.8 -1,.2 -1,-.1 -1,.1 -1,0 -1,0 -1,.2 -1,-.3 -1,.2 -1,-.3 -1,.2 -1,0 -1,.3 -1,-.4 -1,.2 -1,-.1 -1,.1 -1,.1 -1,-.2 -1,.3 -1,0 -1,-.1 -1,-.2 -1,.2 -1,0 -1,.8 -1,-.8 -1,-.2 -1,0 -1,-.1 -1,.1 -1,-.1 -1,-.1 -1,.1 -1,0 -1,.3 -1,-.3 -1,.1 -1,-.2 -1,.1 -1,.4 -1,-.2 -1,-.1 -1,.1 -1,-.2 -1,.4 -1,.1 -1,-.4 -1,.1 -1,-.1 -1,.4 -1,-.3 -1,-.1 -1,.1 -1,0 -1,-.2 -1,.3 -1,-.1 -1,.2 -1,-.3 -1,-.1 -1,.8 -1,-.5 -1,.5 -1,-.4 -1,-.1 -1,0 -1,0 -1,0 -1,-.1 -1,.1 -1,-.1 -1,-.1 -1,.1 -1,-.1 -1,0 -1,0 -1,0 -1,.3 -1,-.2 -1,-.1 -1,.2 -1,.1 -1,.4 -1,-.3 -1,-.3 -1,0 -1,.1 -1,0 -1,-.2 -1,0 -1,-.2 -1,.1 -1,.8 -1,-.8 -1,0 -1,.1 -1,.1 -1,-.1 -1,.1 -1,.1 -1,-.1 -1,.2 -1,.8 -1,-.7 -1,.1 -1,-.2 -1,.1 -1,.1 -1,.4 -1,.3 -1,-.7 -1,-.3 -1,-.4 -1,0 -1,.2 -1,.6 -1,-.8 -1,.2 -1,-.2 -1,.1 -1,0 -1,.1 -1,.3 -1,-.1 -1,-.4 -1,0 -1,.3 -1,-.4 -1,.6 -1,-.5 -1,.1 -1,-.1 -1,.1 -1,.1 -1,.1 -1,-.3 -1,.5 -1,-.4 -1,.4 -1,-.3 -1,.2 -1,.1 -1,.1 -1,-.1 -1,0 -1,.1 -1,-.2 -1,.7 -1,-.5 -1,-.3 -1,.1 -1,0 -1,-.4 -1,.4 -1,-.2 -1,0 -1,-.2 -1,.4 -1,-.4 -1,.1 -1,.1 -1,.2 -1,0 -1,-.4 -1,0 -1,0 -1,1.3 -1,-1.4 -1,.5 -1,-.1 -1,-.4 -1,.6 -1,-.3 -1,.1 -1,-.1 -1,.7 -1,-.7 -1,.2 -1,-.2 -1,-.2 -1,.1 -1,.2 -1,.1 -1,-.3 -1,.2 -1,-.2 -1,.2 -1,.2 -1,.1 -1,-.2 -1,0 -1,.1 -1,-.1 -1,.4 -1,-.4 -1,.6 -1,-.8 -1,0 -1,-.1 -1,0 -1,0 -1,.1 -1,-.1 -1,.2 -1,-.2 -1,.1 -1,.8 -1,-.8 -1,-.1 -1,.3 -1,-.2 -1,.1 -1,.2 -1,-.2 -1,.2 -1,-.2 -1,-.2 -1,.4 -1,-.2 -1,0 -1,-.1 -1,-.1 -1,.3 -1,.2 -1,0 -1,-.4 -1,.1 -1,0 -1,1.3 -1,-1.3 -1,.4 -1,.4 -1,0 -1,-.5 -1,-.5 -1,.8 -1,-1 -1,.1 -1,0 -1,1.1 -1,.1 -1,-1 -1,.1 -1,.2 -1,-.3 -1,.1 -1,-.1 -1,0 -1,-.2 -1,-.1 -1,0 -1,.2 -1,-.2 -1,.9 -1,-.7 -1,.4 -1,-.3 -1,-.1 -1,.4 -1,-.3 -1,0 -1,-.1 -1,.2 -1,-.2 -1,.1 -1,.2 -1,-.2 -1,.1 -1,-.1 -1,.2 -1,-.1 -1,.5 -1,-.5 -1,0 -1,0 -1,-.1 -1,.1 -1,.1 -1,-.1 -1,0 -1,1 -1,-1.2 -1,.1 -1,.3 -1,-.1 -1,-.1 -1,0 -1,-.1 -1,.4 -1,-.1 -1,0 -1,-.1 -1,.7 -1,-.6 -1,-.2 -1,.1 -1,-.1 -1,.5 -1,-.3 -1,.2 -1,0 -1,-.3 -1,-.1 -1,.2 -1,-.4 -1,0 -1,.1 -1,.4 -1,-.1 -1,-.3 -1,0 -1,-.1 -1,0 -1,.4 -1,.4 -1,-.7 -1,0 -1,0 -1,-.1 -1,.1 -1,-.2 -1,.4 -1,-.3 -1,0 -1,-.1 -1,.2 -1,-.1 -1,.2 -1,0 -1,.3 -1,-.4 -1,.1 -1,.4 -1,-.1 -1,-.2 -1,.2 -1,-.3 -1,.2 -1,.1 -1,-.1 -1,.8 -1,-1.1 -1,.2 -1,-.3 -1,.4 -1,-.3 -1,.1 -1,-.2 -1,-.1 -1,.3 -1,-.1 -1,0 -1,.2 -1,.1 -1,-.2 -1,0 -1,.1 -1,0z"/>
</g>
<line x1="220.0" y1="352.5" x2="220.0" y2="360.5" stroke="#ff0000" stroke-width="2.0" stroke-linecap="round"/>
<line x1="268.0" y1="411.0" x2="268.0" y2="428.5" stroke="#008000" stroke-width="2.0" stroke-linecap="round"/>
<line x1="978.5" y1="408.0" x2="978.5" y2="433.0" stroke="#008000" stroke-width="2.0" stroke-linecap="round"/>
<line x1="566.2" y1="468.15" x2="566.2" y2="498.85" stroke="#ff0000" stroke-width="2.3" stroke-linecap="round"/>
<line x1="836.9" y1="479.09999999999997" x2="836.9" y2="486.1" stroke="#ff0000" stroke-width="1.8" stroke-linecap="round"/>
<line x1="565.2" y1="472.5" x2="565.2" y2="491.5" stroke="#ff0000" stroke-width="1.0" stroke-linecap="round"/>
<line x1="569.5" y1="227.75" x2="569.5" y2="233.25" stroke="#ff0000" stroke-width="1.5" stroke-linecap="round"/>
<line x1="540.0" y1="512.15" x2="540.0" y2="517.85" stroke="#0000ff" stroke-width="1.3" stroke-linecap="round"/>
<line x1="665.9" y1="571.9" x2="665.9" y2="581.6" stroke="#000000" stroke-width="1.8" stroke-linecap="round"/>
<line x1="675.9" y1="573.3" x2="675.9" y2="580.7" stroke="#000000" stroke-width="1.6" stroke-linecap="round"/>
<line x1="700.0" y1="573.5999999999999" x2="700.0" y2="581.7" stroke="#000000" stroke-width="1.6" stroke-linecap="round"/>
<rect x="214.5" y="762.8" width="5.0" height="7.400000000000091" rx="1" fill="#0000ff"/>
<rect x="824.5" y="762.8" width="3.0" height="6.7000000000000455" rx="1" fill="#0000ff"/>
<rect x="373.5" y="763.0" width="3.0" height="6.7999999999999545" rx="1" fill="#0000ff"/>
<path fill="#0000ff" d="M549.2,381.8 L551.7,388.0 L549.2,394.2 L546.7,388.0 z"/>
<path fill="#000000" d="M648.2,572.8 L650.0,577.4 L648.2,582.0 L646.4000000000001,577.4 z"/>
<path fill="#000000" d="M681.4,573.8 L682.6999999999999,577.3 L681.4,580.8 L680.1,577.3 z"/>
<rect x="138.5" y="48.4" width="874.0" height="807.1" fill="none" stroke="#000" stroke-width="1.4"/>
<line x1="132.5" y1="73.5" x2="138.5" y2="73.5" stroke="#000" stroke-width="1.11"/>
<line x1="1012.5" y1="73.5" x2="1018.5" y2="73.5" stroke="#000" stroke-width="1.11"/>
<text x="126" y="78.2" font-size="13.4" text-anchor="end" textLength="58.5" lengthAdjust="spacingAndGlyphs">07:00:00</text>
<text x="1025" y="78.1" font-size="13.4" textLength="58.5" lengthAdjust="spacingAndGlyphs">08:00:00</text>
<line x1="132.5" y1="105.5" x2="138.5" y2="105.5" stroke="#000" stroke-width="1.11"/>
<line x1="1012.5" y1="105.5" x2="1018.5" y2="105.5" stroke="#000" stroke-width="1.11"/>
<text x="126" y="110.2" font-size="13.4" text-anchor="end" textLength="58.5" lengthAdjust="spacingAndGlyphs">08:00:00</text>
<text x="1025" y="110.1" font-size="13.4" textLength="58.5" lengthAdjust="spacingAndGlyphs">09:00:00</text>
<line x1="132.5" y1="136.5" x2="138.5" y2="136.5" stroke="#000" stroke-width="1.11"/>
<line x1="1012.5" y1="136.5" x2="1018.5" y2="136.5" stroke="#000" stroke-width="1.11"/>
<text x="126" y="141.2" font-size="13.4" text-anchor="end" textLength="58.5" lengthAdjust="spacingAndGlyphs">09:00:00</text>
<text x="1025" y="141.1" font-size="13.4" textLength="58.5" lengthAdjust="spacingAndGlyphs">10:00:00</text>
<line x1="132.5" y1="168.5" x2="138.5" y2="168.5" stroke="#000" stroke-width="1.11"/>
<line x1="1012.5" y1="168.5" x2="1018.5" y2="168.5" stroke="#000" stroke-width="1.11"/>
<text x="126" y="173.2" font-size="13.4" text-anchor="end" textLength="58.5" lengthAdjust="spacingAndGlyphs">10:00:00</text>
<text x="1025" y="173.1" font-size="13.4" textLength="58.5" lengthAdjust="spacingAndGlyphs">11:00:00</text>
<line x1="132.5" y1="199.5" x2="138.5" y2="199.5" stroke="#000" stroke-width="1.11"/>
<line x1="1012.5" y1="199.5" x2="1018.5" y2="199.5" stroke="#000" stroke-width="1.11"/>
<text x="126" y="204.2" font-size="13.4" text-anchor="end" textLength="58.5" lengthAdjust="spacingAndGlyphs">11:00:00</text>
<text x="1025" y="204.1" font-size="13.4" textLength="58.5" lengthAdjust="spacingAndGlyphs">12:00:00</text>
<line x1="132.5" y1="231.5" x2="138.5" y2="231.5" stroke="#000" stroke-width="1.11"/>
<line x1="1012.5" y1="231.5" x2="1018.5" y2="231.5" stroke="#000" stroke-width="1.11"/>
<text x="126" y="236.2" font-size="13.4" text-anchor="end" textLength="58.5" lengthAdjust="spacingAndGlyphs">12:00:00</text>
<text x="1025" y="236.1" font-size="13.4" textLength="58.5" lengthAdjust="spacingAndGlyphs">13:00:00</text>
<line x1="132.5" y1="262.5" x2="138.5" y2="262.5" stroke="#000" stroke-width="1.11"/>
<line x1="1012.5" y1="262.5" x2="1018.5" y2="262.5" stroke="#000" stroke-width="1.11"/>
<text x="126" y="267.2" font-size="13.4" text-anchor="end" textLength="58.5" lengthAdjust="spacingAndGlyphs">13:00:00</text>
<text x="1025" y="267.1" font-size="13.4" textLength="58.5" lengthAdjust="spacingAndGlyphs">14:00:00</text>
<line x1="132.5" y1="294.5" x2="138.5" y2="294.5" stroke="#000" stroke-width="1.11"/>
<line x1="1012.5" y1="294.5" x2="1018.5" y2="294.5" stroke="#000" stroke-width="1.11"/>
<text x="126" y="299.2" font-size="13.4" text-anchor="end" textLength="58.5" lengthAdjust="spacingAndGlyphs">14:00:00</text>
<text x="1025" y="299.1" font-size="13.4" textLength="58.5" lengthAdjust="spacingAndGlyphs">15:00:00</text>
<line x1="132.5" y1="325.5" x2="138.5" y2="325.5" stroke="#000" stroke-width="1.11"/>
<line x1="1012.5" y1="325.5" x2="1018.5" y2="325.5" stroke="#000" stroke-width="1.11"/>
<text x="126" y="330.2" font-size="13.4" text-anchor="end" textLength="58.5" lengthAdjust="spacingAndGlyphs">15:00:00</text>
<text x="1025" y="330.1" font-size="13.4" textLength="58.5" lengthAdjust="spacingAndGlyphs">16:00:00</text>
<line x1="132.5" y1="357.5" x2="138.5" y2="357.5" stroke="#000" stroke-width="1.11"/>
<line x1="1012.5" y1="357.5" x2="1018.5" y2="357.5" stroke="#000" stroke-width="1.11"/>
<text x="126" y="362.2" font-size="13.4" text-anchor="end" textLength="58.5" lengthAdjust="spacingAndGlyphs">16:00:00</text>
<text x="1025" y="362.1" font-size="13.4" textLength="58.5" lengthAdjust="spacingAndGlyphs">17:00:00</text>
<line x1="132.5" y1="388.5" x2="138.5" y2="388.5" stroke="#000" stroke-width="1.11"/>
<line x1="1012.5" y1="388.5" x2="1018.5" y2="388.5" stroke="#000" stroke-width="1.11"/>
<text x="126" y="393.2" font-size="13.4" text-anchor="end" textLength="58.5" lengthAdjust="spacingAndGlyphs">17:00:00</text>
<text x="1025" y="393.1" font-size="13.4" textLength="58.5" lengthAdjust="spacingAndGlyphs">18:00:00</text>
<line x1="132.5" y1="420.5" x2="138.5" y2="420.5" stroke="#000" stroke-width="1.11"/>
<line x1="1012.5" y1="420.5" x2="1018.5" y2="420.5" stroke="#000" stroke-width="1.11"/>
<text x="126" y="425.2" font-size="13.4" text-anchor="end" textLength="58.5" lengthAdjust="spacingAndGlyphs">18:00:00</text>
<text x="1025" y="425.1" font-size="13.4" textLength="58.5" lengthAdjust="spacingAndGlyphs">19:00:00</text>
<line x1="132.5" y1="451.5" x2="138.5" y2="451.5" stroke="#000" stroke-width="1.11"/>
<line x1="1012.5" y1="451.5" x2="1018.5" y2="451.5" stroke="#000" stroke-width="1.11"/>
<text x="126" y="456.2" font-size="13.4" text-anchor="end" textLength="58.5" lengthAdjust="spacingAndGlyphs">19:00:00</text>
<text x="1025" y="456.1" font-size="13.4" textLength="58.5" lengthAdjust="spacingAndGlyphs">20:00:00</text>
<line x1="132.5" y1="483.5" x2="138.5" y2="483.5" stroke="#000" stroke-width="1.11"/>
<line x1="1012.5" y1="483.5" x2="1018.5" y2="483.5" stroke="#000" stroke-width="1.11"/>
<text x="126" y="488.2" font-size="13.4" text-anchor="end" textLength="58.5" lengthAdjust="spacingAndGlyphs">20:00:00</text>
<text x="1025" y="488.1" font-size="13.4" textLength="58.5" lengthAdjust="spacingAndGlyphs">21:00:00</text>
<line x1="132.5" y1="514.5" x2="138.5" y2="514.5" stroke="#000" stroke-width="1.11"/>
<line x1="1012.5" y1="514.5" x2="1018.5" y2="514.5" stroke="#000" stroke-width="1.11"/>
<text x="126" y="519.2" font-size="13.4" text-anchor="end" textLength="58.5" lengthAdjust="spacingAndGlyphs">21:00:00</text>
<text x="1025" y="519.1" font-size="13.4" textLength="58.5" lengthAdjust="spacingAndGlyphs">22:00:00</text>
<line x1="132.5" y1="546.5" x2="138.5" y2="546.5" stroke="#000" stroke-width="1.11"/>
<line x1="1012.5" y1="546.5" x2="1018.5" y2="546.5" stroke="#000" stroke-width="1.11"/>
<text x="126" y="551.2" font-size="13.4" text-anchor="end" textLength="58.5" lengthAdjust="spacingAndGlyphs">22:00:00</text>
<text x="1025" y="551.1" font-size="13.4" textLength="58.5" lengthAdjust="spacingAndGlyphs">23:00:00</text>
<line x1="132.5" y1="578.5" x2="138.5" y2="578.5" stroke="#000" stroke-width="1.11"/>
<line x1="1012.5" y1="578.5" x2="1018.5" y2="578.5" stroke="#000" stroke-width="1.11"/>
<text x="126" y="583.2" font-size="13.4" text-anchor="end" textLength="58.5" lengthAdjust="spacingAndGlyphs">23:00:00</text>
<text x="1025" y="583.1" font-size="13.4" textLength="58.5" lengthAdjust="spacingAndGlyphs">00:00:00</text>
<line x1="132.5" y1="609.5" x2="138.5" y2="609.5" stroke="#000" stroke-width="1.11"/>
<line x1="1012.5" y1="609.5" x2="1018.5" y2="609.5" stroke="#000" stroke-width="1.11"/>
<text x="126" y="614.2" font-size="13.4" text-anchor="end" textLength="58.5" lengthAdjust="spacingAndGlyphs">00:00:00</text>
<text x="1025" y="614.1" font-size="13.4" textLength="58.5" lengthAdjust="spacingAndGlyphs">01:00:00</text>
<line x1="132.5" y1="641.5" x2="138.5" y2="641.5" stroke="#000" stroke-width="1.11"/>
<line x1="1012.5" y1="641.5" x2="1018.5" y2="641.5" stroke="#000" stroke-width="1.11"/>
<text x="126" y="646.2" font-size="13.4" text-anchor="end" textLength="58.5" lengthAdjust="spacingAndGlyphs">01:00:00</text>
<text x="1025" y="646.1" font-size="13.4" textLength="58.5" lengthAdjust="spacingAndGlyphs">02:00:00</text>
<line x1="132.5" y1="672.5" x2="138.5" y2="672.5" stroke="#000" stroke-width="1.11"/>
<line x1="1012.5" y1="672.5" x2="1018.5" y2="672.5" stroke="#000" stroke-width="1.11"/>
<text x="126" y="677.2" font-size="13.4" text-anchor="end" textLength="58.5" lengthAdjust="spacingAndGlyphs">02:00:00</text>
<text x="1025" y="677.1" font-size="13.4" textLength="58.5" lengthAdjust="spacingAndGlyphs">03:00:00</text>
<line x1="132.5" y1="704.5" x2="138.5" y2="704.5" stroke="#000" stroke-width="1.11"/>
<line x1="1012.5" y1="704.5" x2="1018.5" y2="704.5" stroke="#000" stroke-width="1.11"/>
<text x="126" y="709.2" font-size="13.4" text-anchor="end" textLength="58.5" lengthAdjust="spacingAndGlyphs">03:00:00</text>
<text x="1025" y="709.1" font-size="13.4" textLength="58.5" lengthAdjust="spacingAndGlyphs">04:00:00</text>
<line x1="132.5" y1="735.5" x2="138.5" y2="735.5" stroke="#000" stroke-width="1.11"/>
<line x1="1012.5" y1="735.5" x2="1018.5" y2="735.5" stroke="#000" stroke-width="1.11"/>
<text x="126" y="740.2" font-size="13.4" text-anchor="end" textLength="58.5" lengthAdjust="spacingAndGlyphs">04:00:00</text>
<text x="1025" y="740.1" font-size="13.4" textLength="58.5" lengthAdjust="spacingAndGlyphs">05:00:00</text>
<line x1="132.5" y1="767.5" x2="138.5" y2="767.5" stroke="#000" stroke-width="1.11"/>
<line x1="1012.5" y1="767.5" x2="1018.5" y2="767.5" stroke="#000" stroke-width="1.11"/>
<text x="126" y="772.2" font-size="13.4" text-anchor="end" textLength="58.5" lengthAdjust="spacingAndGlyphs">05:00:00</text>
<text x="1025" y="772.1" font-size="13.4" textLength="58.5" lengthAdjust="spacingAndGlyphs">06:00:00</text>
<line x1="132.5" y1="798.5" x2="138.5" y2="798.5" stroke="#000" stroke-width="1.11"/>
<line x1="1012.5" y1="798.5" x2="1018.5" y2="798.5" stroke="#000" stroke-width="1.11"/>
<text x="126" y="803.2" font-size="13.4" text-anchor="end" textLength="58.5" lengthAdjust="spacingAndGlyphs">06:00:00</text>
<text x="1025" y="803.1" font-size="13.4" textLength="58.5" lengthAdjust="spacingAndGlyphs">07:00:00</text>
<line x1="132.5" y1="830.5" x2="138.5" y2="830.5" stroke="#000" stroke-width="1.11"/>
<line x1="1012.5" y1="830.5" x2="1018.5" y2="830.5" stroke="#000" stroke-width="1.11"/>
<text x="126" y="835.2" font-size="13.4" text-anchor="end" textLength="58.5" lengthAdjust="spacingAndGlyphs">07:00:00</text>
<text x="1025" y="835.1" font-size="13.4" textLength="58.5" lengthAdjust="spacingAndGlyphs">08:00:00</text>
<line x1="138.5" y1="855.5" x2="138.5" y2="861.3" stroke="#000" stroke-width="1.11"/>
<text x="139.3" y="876.9" font-size="12" text-anchor="middle" textLength="7.9" lengthAdjust="spacingAndGlyphs">0</text>
<line x1="357.5" y1="855.5" x2="357.5" y2="861.3" stroke="#000" stroke-width="1.11"/>
<text x="356.1" y="876.9" font-size="12" text-anchor="middle" textLength="14.6" lengthAdjust="spacingAndGlyphs">15</text>
<line x1="575.5" y1="855.5" x2="575.5" y2="861.3" stroke="#000" stroke-width="1.11"/>
<text x="575.5" y="876.9" font-size="12" text-anchor="middle" textLength="16.4" lengthAdjust="spacingAndGlyphs">30</text>
<line x1="794.5" y1="855.5" x2="794.5" y2="861.3" stroke="#000" stroke-width="1.11"/>
<text x="793.8" y="876.9" font-size="12" text-anchor="middle" textLength="15.6" lengthAdjust="spacingAndGlyphs">45</text>
<line x1="1012.5" y1="855.5" x2="1012.5" y2="861.3" stroke="#000" stroke-width="1.11"/>
<text x="1012" y="876.9" font-size="12" text-anchor="middle" textLength="15.3" lengthAdjust="spacingAndGlyphs">60</text>
<text x="574.8" y="896" font-size="14" text-anchor="middle" textLength="106" lengthAdjust="spacingAndGlyphs">time in minutes</text>
<text x="575" y="34.2" font-size="19.7" text-anchor="middle" textLength="270" lengthAdjust="spacingAndGlyphs">2026-02-12 NN.SAG5..HNZ</text>
<text transform="translate(54,452.3) rotate(-90)" font-size="18.2" text-anchor="middle" textLength="254" lengthAdjust="spacingAndGlyphs">UTC (local time = UTC - 08:00)</text>
</svg></body></html>
